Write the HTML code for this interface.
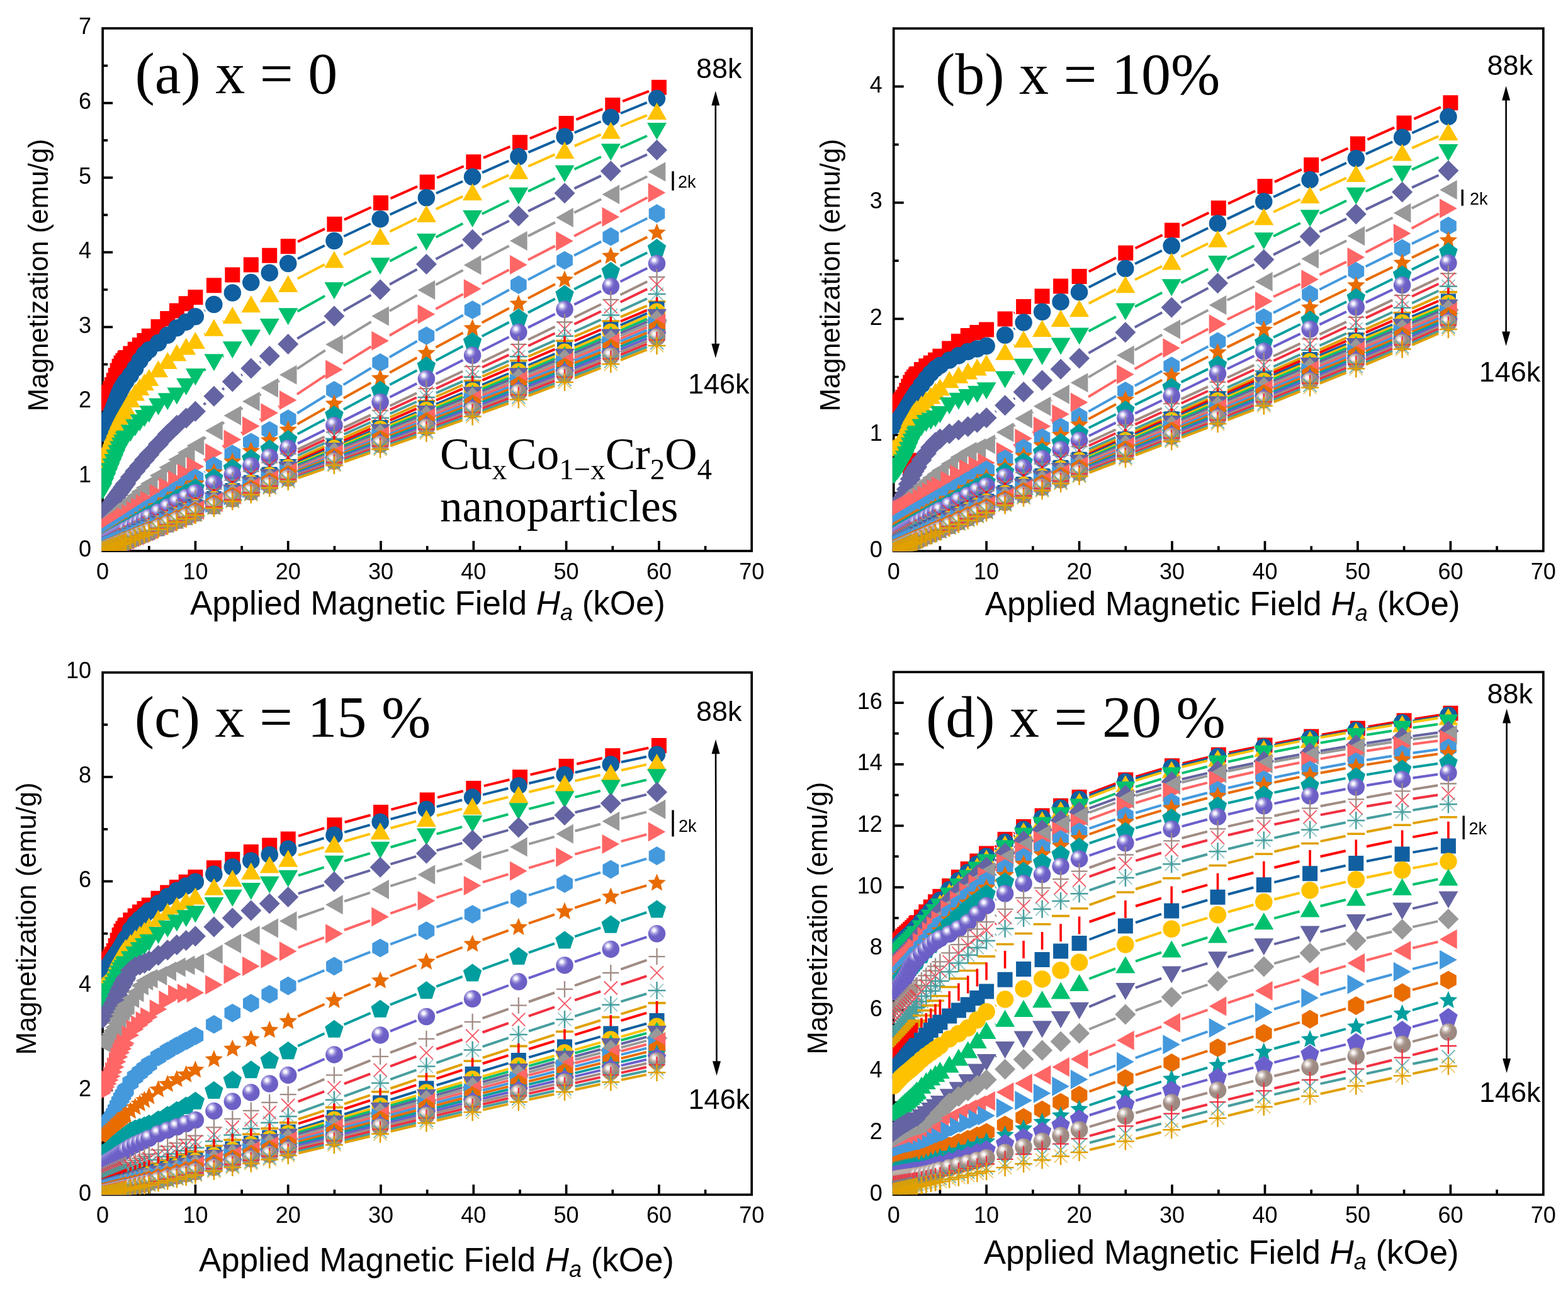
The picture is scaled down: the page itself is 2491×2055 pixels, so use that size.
<!DOCTYPE html>
<html><head><meta charset="utf-8"><title>M-H curves</title><style>html,body{margin:0;padding:0;background:#fff;}svg{display:block;}</style></head><body>
<svg width="2491" height="2055" viewBox="0 0 2491 2055"><defs><radialGradient id="gP" cx="0.36" cy="0.32" r="0.7" fx="0.34" fy="0.3"><stop offset="0" stop-color="#ffffff"/><stop offset="0.12" stop-color="#f0eefc"/><stop offset="0.3" stop-color="#9f96dc"/><stop offset="0.5" stop-color="#6E62C8"/><stop offset="1" stop-color="#6A5EC4"/></radialGradient><radialGradient id="gB" cx="0.36" cy="0.32" r="0.7" fx="0.34" fy="0.3"><stop offset="0" stop-color="#ffffff"/><stop offset="0.12" stop-color="#f4f0ee"/><stop offset="0.3" stop-color="#c2b4ae"/><stop offset="0.5" stop-color="#A08C84"/><stop offset="1" stop-color="#9a8880"/></radialGradient></defs>
<rect x="163.1" y="45" width="1031.1" height="830" fill="none" stroke="#000" stroke-width="3.7"/>
<path d="M236.8 875v-8M310.4 875v-16M384.1 875v-8M457.7 875v-16M531.4 875v-8M605 875v-16M678.7 875v-8M752.3 875v-16M826 875v-8M899.6 875v-16M973.3 875v-8M1046.9 875v-16M1120.6 875v-8M163.1 815.7h8M163.1 756.4h16M163.1 697.1h8M163.1 637.9h16M163.1 578.6h8M163.1 519.3h16M163.1 460h8M163.1 400.7h16M163.1 341.4h8M163.1 282.1h16M163.1 222.9h8M163.1 163.6h16M163.1 104.3h8" stroke="#000" stroke-width="3.7" fill="none"/>
<g font-family="Liberation Sans, Arial, sans-serif" font-size="36" fill="#000"><text x="163.1" y="920" text-anchor="middle">0</text><text x="310.4" y="920" text-anchor="middle">10</text><text x="457.7" y="920" text-anchor="middle">20</text><text x="605" y="920" text-anchor="middle">30</text><text x="752.3" y="920" text-anchor="middle">40</text><text x="899.6" y="920" text-anchor="middle">50</text><text x="1046.9" y="920" text-anchor="middle">60</text><text x="1194.2" y="920" text-anchor="middle">70</text><text x="145.1" y="884.4" text-anchor="end">0</text><text x="145.1" y="765.8" text-anchor="end">1</text><text x="145.1" y="647.3" text-anchor="end">2</text><text x="145.1" y="528.7" text-anchor="end">3</text><text x="145.1" y="410.1" text-anchor="end">4</text><text x="145.1" y="291.5" text-anchor="end">5</text><text x="145.1" y="173" text-anchor="end">6</text><text x="145.1" y="54.4" text-anchor="end">7</text></g>
<clipPath id="clipa"><rect x="161.1" y="45" width="1033.1" height="830"/></clipPath>
<g clip-path="url(#clipa)">
<path d="M473 383.9L516 363.4M546.8 348.9L589.6 329.3M620.5 315.2L663.1 296.2M694.2 282.4L736.7 264M768 250.6L810.3 232.8M841.7 219.8L883.9 202.5M915.4 189.8L957.4 173.2M989.1 160.8L1031 144.8" stroke="#FF0000" stroke-width="4" fill="none"/>
<path d="M151.1 628.2h24v24h-24zM154 622.8h24v24h-24zM157 617.1h24v24h-24zM159.9 611.3h24v24h-24zM162.9 605.2h24v24h-24zM165.8 599h24v24h-24zM168.8 592h24v24h-24zM171.7 584.3h24v24h-24zM174.7 576.6h24v24h-24zM177.6 569.8h24v24h-24zM180.6 564.5h24v24h-24zM183.5 560.7h24v24h-24zM186.5 557.5h24v24h-24zM187.9 556h24v24h-24zM195.3 549.5h24v24h-24zM202.7 542.8h24v24h-24zM210 535.9h24v24h-24zM217.4 529h24v24h-24zM224.8 521.7h24v24h-24zM239.5 507.1h24v24h-24zM254.2 493.9h24v24h-24zM268.9 481.6h24v24h-24zM283.7 470.3h24v24h-24zM298.4 459.9h24v24h-24zM327.9 441.3h24v24h-24zM357.3 424.4h24v24h-24zM386.8 408.6h24v24h-24zM416.2 393.7h24v24h-24zM445.7 379.2h24v24h-24zM519.4 344h24v24h-24zM593 310.2h24v24h-24zM666.7 277.2h24v24h-24zM740.3 245.2h24v24h-24zM814 214.2h24v24h-24zM887.6 184.1h24v24h-24zM961.3 154.9h24v24h-24zM1034.9 126.7h24v24h-24z" fill="#FF0000"/>
<path d="M324.7 493.4L325.6 492.8M473 411L515.7 390M546.3 375.3L588.8 355.2M619.6 340.8L661.9 321.2M692.9 307L735.1 288M766.1 274.1L808.3 255.5M839.4 241.9L881.4 223.9M912.7 210.6L954.6 193M986 180L1027.7 162.9" stroke="#105FA0" stroke-width="4" fill="none"/>
<path d="M149.3 687.7a13.75 13.75 0 1 0 27.5 0a13.75 13.75 0 1 0 -27.5 0zM152.3 681.1a13.75 13.75 0 1 0 27.5 0a13.75 13.75 0 1 0 -27.5 0zM155.2 674.4a13.75 13.75 0 1 0 27.5 0a13.75 13.75 0 1 0 -27.5 0zM158.2 667.6a13.75 13.75 0 1 0 27.5 0a13.75 13.75 0 1 0 -27.5 0zM161.1 660.8a13.75 13.75 0 1 0 27.5 0a13.75 13.75 0 1 0 -27.5 0zM164.1 653.8a13.75 13.75 0 1 0 27.5 0a13.75 13.75 0 1 0 -27.5 0zM167 646.4a13.75 13.75 0 1 0 27.5 0a13.75 13.75 0 1 0 -27.5 0zM170 638.5a13.75 13.75 0 1 0 27.5 0a13.75 13.75 0 1 0 -27.5 0zM172.9 630.6a13.75 13.75 0 1 0 27.5 0a13.75 13.75 0 1 0 -27.5 0zM175.9 623.4a13.75 13.75 0 1 0 27.5 0a13.75 13.75 0 1 0 -27.5 0zM178.8 617.2a13.75 13.75 0 1 0 27.5 0a13.75 13.75 0 1 0 -27.5 0zM181.8 612.1a13.75 13.75 0 1 0 27.5 0a13.75 13.75 0 1 0 -27.5 0zM184.7 607.6a13.75 13.75 0 1 0 27.5 0a13.75 13.75 0 1 0 -27.5 0zM186.2 605.5a13.75 13.75 0 1 0 27.5 0a13.75 13.75 0 1 0 -27.5 0zM193.5 595.7a13.75 13.75 0 1 0 27.5 0a13.75 13.75 0 1 0 -27.5 0zM200.9 585a13.75 13.75 0 1 0 27.5 0a13.75 13.75 0 1 0 -27.5 0zM208.3 572.8a13.75 13.75 0 1 0 27.5 0a13.75 13.75 0 1 0 -27.5 0zM215.6 562.7a13.75 13.75 0 1 0 27.5 0a13.75 13.75 0 1 0 -27.5 0zM223 555.8a13.75 13.75 0 1 0 27.5 0a13.75 13.75 0 1 0 -27.5 0zM237.7 544.6a13.75 13.75 0 1 0 27.5 0a13.75 13.75 0 1 0 -27.5 0zM252.5 532.2a13.75 13.75 0 1 0 27.5 0a13.75 13.75 0 1 0 -27.5 0zM267.2 520.7a13.75 13.75 0 1 0 27.5 0a13.75 13.75 0 1 0 -27.5 0zM281.9 511.4a13.75 13.75 0 1 0 27.5 0a13.75 13.75 0 1 0 -27.5 0zM296.6 502.7a13.75 13.75 0 1 0 27.5 0a13.75 13.75 0 1 0 -27.5 0zM326.1 483.5a13.75 13.75 0 1 0 27.5 0a13.75 13.75 0 1 0 -27.5 0zM355.6 465a13.75 13.75 0 1 0 27.5 0a13.75 13.75 0 1 0 -27.5 0zM385 448.6a13.75 13.75 0 1 0 27.5 0a13.75 13.75 0 1 0 -27.5 0zM414.5 433.3a13.75 13.75 0 1 0 27.5 0a13.75 13.75 0 1 0 -27.5 0zM444 418.5a13.75 13.75 0 1 0 27.5 0a13.75 13.75 0 1 0 -27.5 0zM517.2 382.5a13.75 13.75 0 1 0 27.5 0a13.75 13.75 0 1 0 -27.5 0zM590.4 347.9a13.75 13.75 0 1 0 27.5 0a13.75 13.75 0 1 0 -27.5 0zM663.6 314a13.75 13.75 0 1 0 27.5 0a13.75 13.75 0 1 0 -27.5 0zM736.8 281a13.75 13.75 0 1 0 27.5 0a13.75 13.75 0 1 0 -27.5 0zM810.1 248.7a13.75 13.75 0 1 0 27.5 0a13.75 13.75 0 1 0 -27.5 0zM883.3 217.1a13.75 13.75 0 1 0 27.5 0a13.75 13.75 0 1 0 -27.5 0zM956.5 186.4a13.75 13.75 0 1 0 27.5 0a13.75 13.75 0 1 0 -27.5 0zM1029.7 156.5a13.75 13.75 0 1 0 27.5 0a13.75 13.75 0 1 0 -27.5 0z" fill="#105FA0"/>
<path d="M324.4 530.9L325.9 529.9M354 510.7L355.2 509.9M472.7 442.6L515.9 419.9M546.1 404.4L589 382.8M619.4 367.7L662.1 346.8M692.7 332.1L735.2 311.9M766 297.6L808.4 278.1M839.3 264.1L881.5 245.4M912.7 231.8L954.6 213.7M986 200.5L1027.8 183.1" stroke="#FFC200" stroke-width="4" fill="none"/>
<path d="M163.1 718l15.5 27h-31zM166 710.5l15.5 27h-31zM169 703l15.5 27h-31zM171.9 695.7l15.5 27h-31zM174.9 688.4l15.5 27h-31zM177.8 681.2l15.5 27h-31zM180.8 674l15.5 27h-31zM183.7 666.7l15.5 27h-31zM186.7 659.6l15.5 27h-31zM189.6 652.8l15.5 27h-31zM192.6 646.6l15.5 27h-31zM195.5 640.7l15.5 27h-31zM198.5 635.1l15.5 27h-31zM199.9 632.4l15.5 27h-31zM207.3 619.9l15.5 27h-31zM214.7 609.5l15.5 27h-31zM222 601l15.5 27h-31zM229.4 593.2l15.5 27h-31zM236.8 585.9l15.5 27h-31zM251.5 572.3l15.5 27h-31zM266.2 558.9l15.5 27h-31zM280.9 546.6l15.5 27h-31zM295.7 536.6l15.5 27h-31zM310.4 527.1l15.5 27h-31zM339.9 506.7l15.5 27h-31zM369.3 486.9l15.5 27h-31zM398.8 469.3l15.5 27h-31zM428.2 452.9l15.5 27h-31zM457.7 437l15.5 27h-31zM530.9 398.5l15.5 27h-31zM604.1 361.7l15.5 27h-31zM677.4 325.9l15.5 27h-31zM750.6 291.2l15.5 27h-31zM823.8 257.5l15.5 27h-31zM897 225l15.5 27h-31zM970.3 193.5l15.5 27h-31zM1043.5 163.1l15.5 27h-31z" fill="#FFC200"/>
<path d="M323.8 588.3L326.5 586.2M353.9 566.2L355.2 565.4M472.5 494.4L516.1 470.1M545.9 453.8L589.2 430.7M619.2 414.8L662.3 392.3M692.5 376.8L735.4 355M765.8 339.8L808.6 318.7M839.1 303.8L881.7 283.4M912.4 268.8L954.9 249M985.7 234.8L1028 215.7" stroke="#00C06E" stroke-width="4" fill="none"/>
<path d="M163.1 793.6l15.5 -27h-31zM166 785.5l15.5 -27h-31zM169 777.5l15.5 -27h-31zM171.9 769.8l15.5 -27h-31zM174.9 762.3l15.5 -27h-31zM177.8 755.1l15.5 -27h-31zM180.8 747.9l15.5 -27h-31zM183.7 740.7l15.5 -27h-31zM186.7 733.8l15.5 -27h-31zM189.6 727.5l15.5 -27h-31zM192.6 722l15.5 -27h-31zM195.5 717.2l15.5 -27h-31zM198.5 712.8l15.5 -27h-31zM199.9 710.8l15.5 -27h-31zM207.3 701.4l15.5 -27h-31zM214.7 692.8l15.5 -27h-31zM222 685.1l15.5 -27h-31zM229.4 678l15.5 -27h-31zM236.8 671.3l15.5 -27h-31zM251.5 659.5l15.5 -27h-31zM266.2 651.2l15.5 -27h-31zM280.9 642.5l15.5 -27h-31zM295.7 627.8l15.5 -27h-31zM310.4 612.2l15.5 -27h-31zM339.9 589.3l15.5 -27h-31zM369.3 569.3l15.5 -27h-31zM398.8 550.6l15.5 -27h-31zM428.2 533.1l15.5 -27h-31zM457.7 516.2l15.5 -27h-31zM530.9 475.3l15.5 -27h-31zM604.1 436.2l15.5 -27h-31zM677.4 398l15.5 -27h-31zM750.6 360.9l15.5 -27h-31zM823.8 324.7l15.5 -27h-31zM897 289.5l15.5 -27h-31zM970.3 255.3l15.5 -27h-31zM1043.5 222.1l15.5 -27h-31z" fill="#00C06E"/>
<path d="M323.6 642.5L326.7 640M353.2 618.7L356 616.5M383.2 596L384.9 594.8M412.9 575.6L414.1 574.8M472.2 537.7L516.4 510.9M545.7 493.6L589.4 468.5M619 451.8L662.5 427.7M692.4 411.5L735.6 388.5M765.7 372.8L808.7 350.7M839.1 335.4L881.8 314.2M912.4 299.4L954.9 279.1M985.7 264.7L1028 245.4" stroke="#6464A2" stroke-width="4" fill="none"/>
<path d="M163.1 806.3l16.5 16.5l-16.5 16.5l-16.5 -16.5zM166 801.1l16.5 16.5l-16.5 16.5l-16.5 -16.5zM169 796.1l16.5 16.5l-16.5 16.5l-16.5 -16.5zM171.9 791.2l16.5 16.5l-16.5 16.5l-16.5 -16.5zM174.9 786.5l16.5 16.5l-16.5 16.5l-16.5 -16.5zM177.8 781.9l16.5 16.5l-16.5 16.5l-16.5 -16.5zM180.8 777.6l16.5 16.5l-16.5 16.5l-16.5 -16.5zM183.7 773.4l16.5 16.5l-16.5 16.5l-16.5 -16.5zM186.7 769.4l16.5 16.5l-16.5 16.5l-16.5 -16.5zM189.6 765.4l16.5 16.5l-16.5 16.5l-16.5 -16.5zM192.6 761.4l16.5 16.5l-16.5 16.5l-16.5 -16.5zM195.5 757.3l16.5 16.5l-16.5 16.5l-16.5 -16.5zM198.5 753.3l16.5 16.5l-16.5 16.5l-16.5 -16.5zM199.9 751.2l16.5 16.5l-16.5 16.5l-16.5 -16.5zM207.3 741.3l16.5 16.5l-16.5 16.5l-16.5 -16.5zM214.7 731.8l16.5 16.5l-16.5 16.5l-16.5 -16.5zM222 722.9l16.5 16.5l-16.5 16.5l-16.5 -16.5zM229.4 714.1l16.5 16.5l-16.5 16.5l-16.5 -16.5zM236.8 705.6l16.5 16.5l-16.5 16.5l-16.5 -16.5zM251.5 689l16.5 16.5l-16.5 16.5l-16.5 -16.5zM266.2 673.1l16.5 16.5l-16.5 16.5l-16.5 -16.5zM280.9 658.7l16.5 16.5l-16.5 16.5l-16.5 -16.5zM295.7 647.4l16.5 16.5l-16.5 16.5l-16.5 -16.5zM310.4 636.8l16.5 16.5l-16.5 16.5l-16.5 -16.5zM339.9 612.8l16.5 16.5l-16.5 16.5l-16.5 -16.5zM369.3 589.4l16.5 16.5l-16.5 16.5l-16.5 -16.5zM398.8 568.5l16.5 16.5l-16.5 16.5l-16.5 -16.5zM428.2 548.9l16.5 16.5l-16.5 16.5l-16.5 -16.5zM457.7 530.1l16.5 16.5l-16.5 16.5l-16.5 -16.5zM530.9 485.5l16.5 16.5l-16.5 16.5l-16.5 -16.5zM604.1 443.5l16.5 16.5l-16.5 16.5l-16.5 -16.5zM677.4 403l16.5 16.5l-16.5 16.5l-16.5 -16.5zM750.6 364.1l16.5 16.5l-16.5 16.5l-16.5 -16.5zM823.8 326.4l16.5 16.5l-16.5 16.5l-16.5 -16.5zM897 290.2l16.5 16.5l-16.5 16.5l-16.5 -16.5zM970.3 255.3l16.5 16.5l-16.5 16.5l-16.5 -16.5zM1043.5 221.8l16.5 16.5l-16.5 16.5l-16.5 -16.5z" fill="#6464A2"/>
<path d="M323.6 697.1L326.7 694.6M353.1 673.2L356.1 670.8M382.8 649.8L385.3 647.9M412.5 627.5L414.6 626M442.1 606.1L443.8 604.9M471.9 585.8L516.7 556.3M545.4 538L589.6 511M618.9 493.7L662.6 468.8M692.3 452.3L735.6 429M765.7 413L808.7 390.5M839 374.9L881.9 353.1M912.2 337.8L955.1 316.3M985.5 301.2L1028.2 280.2" stroke="#999999" stroke-width="4" fill="none"/>
<path d="M149.3 836.5l27.6 -15.5v31zM152.2 833.2l27.6 -15.5v31zM155.2 830.1l27.6 -15.5v31zM158.1 827l27.6 -15.5v31zM161.1 824l27.6 -15.5v31zM164 821.1l27.6 -15.5v31zM167 818.3l27.6 -15.5v31zM169.9 815.5l27.6 -15.5v31zM172.9 812.9l27.6 -15.5v31zM175.8 810.2l27.6 -15.5v31zM178.8 807.5l27.6 -15.5v31zM181.7 804.8l27.6 -15.5v31zM184.7 802.1l27.6 -15.5v31zM186.1 800.7l27.6 -15.5v31zM193.5 794l27.6 -15.5v31zM200.9 787.4l27.6 -15.5v31zM208.2 780.9l27.6 -15.5v31zM215.6 774.5l27.6 -15.5v31zM222.9 768.1l27.6 -15.5v31zM237.7 755.3l27.6 -15.5v31zM252.4 742.4l27.6 -15.5v31zM267.1 730l27.6 -15.5v31zM281.9 718.8l27.6 -15.5v31zM296.6 707.8l27.6 -15.5v31zM326.1 683.9l27.6 -15.5v31zM355.5 660.1l27.6 -15.5v31zM385 637.6l27.6 -15.5v31zM414.4 615.9l27.6 -15.5v31zM443.9 595.2l27.6 -15.5v31zM517.1 546.9l27.6 -15.5v31zM590.3 502.1l27.6 -15.5v31zM663.6 460.4l27.6 -15.5v31zM736.8 420.9l27.6 -15.5v31zM810 382.6l27.6 -15.5v31zM883.2 345.4l27.6 -15.5v31zM956.5 308.7l27.6 -15.5v31zM1029.7 272.7l27.6 -15.5v31z" fill="#999999"/>
<path d="M324.1 730.9L326.2 729.4M353.6 709.4L355.6 707.9M383.1 688L385 686.7M412.6 666.9L414.4 665.6M442.2 646.1L443.7 645.1M471.9 626.1L516.8 596.3M545.3 577.9L589.7 550.2M618.9 532.7L662.6 507.4M692.3 490.7L735.7 467M765.7 450.9L808.8 428.4M838.9 412.7L881.9 390.6M912.1 374.9L955.2 352.3M985.3 336.5L1028.4 313.8" stroke="#FF6666" stroke-width="4" fill="none"/>
<path d="M176.9 846.5l-27.6 -15.5v31zM179.8 844.6l-27.6 -15.5v31zM182.8 842.6l-27.6 -15.5v31zM185.7 840.6l-27.6 -15.5v31zM188.7 838.5l-27.6 -15.5v31zM191.6 836.5l-27.6 -15.5v31zM194.6 834.5l-27.6 -15.5v31zM197.5 832.5l-27.6 -15.5v31zM200.5 830.4l-27.6 -15.5v31zM203.4 828.4l-27.6 -15.5v31zM206.4 826.3l-27.6 -15.5v31zM209.3 824.3l-27.6 -15.5v31zM212.3 822.2l-27.6 -15.5v31zM213.7 821.2l-27.6 -15.5v31zM221.1 816l-27.6 -15.5v31zM228.5 810.8l-27.6 -15.5v31zM235.8 805.5l-27.6 -15.5v31zM243.2 800.2l-27.6 -15.5v31zM250.6 794.9l-27.6 -15.5v31zM265.3 784.2l-27.6 -15.5v31zM280 773.5l-27.6 -15.5v31zM294.7 762.7l-27.6 -15.5v31zM309.5 751.8l-27.6 -15.5v31zM324.2 741l-27.6 -15.5v31zM353.7 719.4l-27.6 -15.5v31zM383.1 697.9l-27.6 -15.5v31zM412.6 676.7l-27.6 -15.5v31zM442 655.8l-27.6 -15.5v31zM471.5 635.5l-27.6 -15.5v31zM544.7 586.9l-27.6 -15.5v31zM617.9 541.2l-27.6 -15.5v31zM691.2 498.9l-27.6 -15.5v31zM764.4 458.8l-27.6 -15.5v31zM837.6 420.5l-27.6 -15.5v31zM910.8 382.8l-27.6 -15.5v31zM984.1 344.4l-27.6 -15.5v31zM1057.3 305.9l-27.6 -15.5v31z" fill="#FF6666"/>
<path d="M324.7 749.6L325.6 749M472.2 656.2L516.5 628.8M545.5 611.1L589.6 584.5M618.8 567.2L662.7 541.8M692.2 524.9L735.8 500.4M765.5 483.9L808.9 460.3M838.8 444.3L882 421.5M912.1 405.7L955.1 383.6M985.5 368.2L1028.3 346.7" stroke="#4499DD" stroke-width="4" fill="none"/>
<path d="M163.1 838.9L175.9 846.3L175.9 861.1L163.1 868.5L150.3 861.1L150.3 846.3zM166 837L178.9 844.4L178.9 859.2L166 866.6L153.2 859.2L153.2 844.4zM169 835.1L181.8 842.5L181.8 857.3L169 864.7L156.2 857.3L156.2 842.5zM171.9 833.2L184.8 840.6L184.8 855.4L171.9 862.8L159.1 855.4L159.1 840.6zM174.9 831.3L187.7 838.7L187.7 853.5L174.9 860.9L162.1 853.5L162.1 838.7zM177.8 829.4L190.6 836.8L190.6 851.6L177.8 859L165 851.6L165 836.8zM180.8 827.6L193.6 835L193.6 849.8L180.8 857.2L168 849.8L168 835zM183.7 825.7L196.5 833.1L196.5 847.9L183.7 855.3L170.9 847.9L170.9 833.1zM186.7 823.8L199.5 831.2L199.5 846L186.7 853.4L173.9 846L173.9 831.2zM189.6 821.9L202.4 829.3L202.4 844.1L189.6 851.5L176.8 844.1L176.8 829.3zM192.6 820L205.4 827.4L205.4 842.2L192.6 849.6L179.7 842.2L179.7 827.4zM195.5 818.1L208.3 825.5L208.3 840.3L195.5 847.7L182.7 840.3L182.7 825.5zM198.5 816.2L211.3 823.6L211.3 838.4L198.5 845.8L185.6 838.4L185.6 823.6zM199.9 815.3L212.7 822.7L212.7 837.5L199.9 844.9L187.1 837.5L187.1 822.7zM207.3 810.5L220.1 817.9L220.1 832.7L207.3 840.1L194.5 832.7L194.5 817.9zM214.7 805.8L227.5 813.2L227.5 828L214.7 835.4L201.8 828L201.8 813.2zM222 801L234.8 808.4L234.8 823.2L222 830.6L209.2 823.2L209.2 808.4zM229.4 796.3L242.2 803.7L242.2 818.5L229.4 825.9L216.6 818.5L216.6 803.7zM236.8 791.5L249.6 798.9L249.6 813.7L236.8 821.1L223.9 813.7L223.9 798.9zM251.5 782L264.3 789.4L264.3 804.2L251.5 811.6L238.7 804.2L238.7 789.4zM266.2 772.5L279 779.9L279 794.7L266.2 802.1L253.4 794.7L253.4 779.9zM280.9 763L293.8 770.4L293.8 785.2L280.9 792.6L268.1 785.2L268.1 770.4zM295.7 753.5L308.5 760.9L308.5 775.7L295.7 783.1L282.9 775.7L282.9 760.9zM310.4 744L323.2 751.4L323.2 766.2L310.4 773.6L297.6 766.2L297.6 751.4zM339.9 725L352.7 732.4L352.7 747.2L339.9 754.6L327 747.2L327 732.4zM369.3 706.2L382.1 713.6L382.1 728.4L369.3 735.8L356.5 728.4L356.5 713.6zM398.8 687.4L411.6 694.8L411.6 709.6L398.8 717L386 709.6L386 694.8zM428.2 668.8L441.1 676.2L441.1 691L428.2 698.4L415.4 691L415.4 676.2zM457.7 650.3L470.5 657.7L470.5 672.5L457.7 679.9L444.9 672.5L444.9 657.7zM530.9 605L543.7 612.4L543.7 627.2L530.9 634.6L518.1 627.2L518.1 612.4zM604.1 561L617 568.4L617 583.2L604.1 590.6L591.3 583.2L591.3 568.4zM677.4 518.4L690.2 525.8L690.2 540.6L677.4 548L664.6 540.6L664.6 525.8zM750.6 477.2L763.4 484.6L763.4 499.4L750.6 506.8L737.8 499.4L737.8 484.6zM823.8 437.4L836.6 444.8L836.6 459.6L823.8 467L811 459.6L811 444.8zM897 398.7L909.9 406.1L909.9 420.9L897 428.3L884.2 420.9L884.2 406.1zM970.3 361L983.1 368.4L983.1 383.2L970.3 390.6L957.4 383.2L957.4 368.4zM1043.5 324.3L1056.3 331.7L1056.3 346.5L1043.5 353.9L1030.7 346.5L1030.7 331.7z" fill="#4499DD"/>
<path d="M472.5 673.4L516.1 648.8M545.8 632.2L589.3 608.1M619.1 591.7L662.4 568M692.3 551.8L735.6 528.5M765.6 512.5L808.8 489.6M838.9 473.8L882 451.3M912.2 435.7L955.1 413.6M985.4 398.1L1028.3 376.4" stroke="#E86C00" stroke-width="4" fill="none"/>
<path d="M163.1 844.4L167.1 853.9L177.4 854.8L169.6 861.5L171.9 871.5L163.1 866.2L154.3 871.5L156.6 861.5L148.8 854.8L159.1 853.9zM166 842.5L170 852L180.3 852.9L172.5 859.6L174.9 869.7L166 864.3L157.2 869.7L159.6 859.6L151.8 852.9L162 852zM169 840.6L173 850.1L183.3 851L175.5 857.7L177.8 867.8L169 862.4L160.2 867.8L162.5 857.7L154.7 851L165 850.1zM171.9 838.8L175.9 848.3L186.2 849.1L178.4 855.9L180.8 865.9L171.9 860.6L163.1 865.9L165.5 855.9L157.7 849.1L167.9 848.3zM174.9 836.9L178.9 846.4L189.1 847.3L181.4 854L183.7 864L174.9 858.7L166.1 864L168.4 854L160.6 847.3L170.9 846.4zM177.8 835L181.8 844.5L192.1 845.4L184.3 852.1L186.6 862.2L177.8 856.8L169 862.2L171.4 852.1L163.6 845.4L173.8 844.5zM180.8 833.1L184.8 842.6L195 843.5L187.2 850.2L189.6 860.3L180.8 854.9L172 860.3L174.3 850.2L166.5 843.5L176.8 842.6zM183.7 831.3L187.7 840.8L198 841.6L190.2 848.4L192.5 858.4L183.7 853.1L174.9 858.4L177.3 848.4L169.5 841.6L179.7 840.8zM186.7 829.4L190.7 838.9L200.9 839.8L193.1 846.5L195.5 856.5L186.7 851.2L177.9 856.5L180.2 846.5L172.4 839.8L182.7 838.9zM189.6 827.5L193.6 837L203.9 837.9L196.1 844.6L198.4 854.7L189.6 849.3L180.8 854.7L183.1 844.6L175.3 837.9L185.6 837zM192.6 825.7L196.6 835.2L206.8 836L199 842.8L201.4 852.8L192.6 847.5L183.7 852.8L186.1 842.8L178.3 836L188.6 835.2zM195.5 823.8L199.5 833.3L209.8 834.2L202 840.9L204.3 850.9L195.5 845.6L186.7 850.9L189 840.9L181.2 834.2L191.5 833.3zM198.5 821.9L202.4 831.4L212.7 832.3L204.9 839L207.3 849.1L198.5 843.7L189.6 849.1L192 839L184.2 832.3L194.5 831.4zM199.9 821L203.9 830.5L214.2 831.4L206.4 838.1L208.7 848.2L199.9 842.8L191.1 848.2L193.5 838.1L185.7 831.4L195.9 830.5zM207.3 816.4L211.3 825.9L221.6 826.7L213.8 833.5L216.1 843.5L207.3 838.2L198.5 843.5L200.8 833.5L193 826.7L203.3 825.9zM214.7 811.7L218.7 821.2L228.9 822.1L221.1 828.8L223.5 838.9L214.7 833.5L205.8 838.9L208.2 828.8L200.4 822.1L210.7 821.2zM222 807.1L226 816.6L236.3 817.5L228.5 824.2L230.8 834.3L222 828.9L213.2 834.3L215.6 824.2L207.8 817.5L218 816.6zM229.4 802.5L233.4 812L243.7 812.9L235.9 819.6L238.2 829.7L229.4 824.3L220.6 829.7L222.9 819.6L215.1 812.9L225.4 812zM236.8 798L240.7 807.4L251 808.3L243.2 815.1L245.6 825.1L236.8 819.8L227.9 825.1L230.3 815.1L222.5 808.3L232.8 807.4zM251.5 788.8L255.5 798.3L265.7 799.2L257.9 805.9L260.3 816L251.5 810.6L242.7 816L245 805.9L237.2 799.2L247.5 798.3zM266.2 779.8L270.2 789.3L280.5 790.2L272.7 796.9L275 806.9L266.2 801.6L257.4 806.9L259.7 796.9L251.9 790.2L262.2 789.3zM280.9 770.8L284.9 780.3L295.2 781.2L287.4 787.9L289.8 798L280.9 792.6L272.1 798L274.5 787.9L266.7 781.2L276.9 780.3zM295.7 761.9L299.7 771.4L309.9 772.3L302.1 779L304.5 789.1L295.7 783.7L286.9 789.1L289.2 779L281.4 772.3L291.7 771.4zM310.4 753.1L314.4 762.6L324.7 763.5L316.9 770.2L319.2 780.2L310.4 774.9L301.6 780.2L303.9 770.2L296.1 763.5L306.4 762.6zM339.9 735.6L343.9 745.1L354.1 746L346.3 752.7L348.7 762.8L339.9 757.4L331 762.8L333.4 752.7L325.6 746L335.9 745.1zM369.3 718.4L373.3 727.9L383.6 728.8L375.8 735.5L378.1 745.5L369.3 740.2L360.5 745.5L362.9 735.5L355.1 728.8L365.3 727.9zM398.8 701.3L402.8 710.8L413 711.7L405.2 718.4L407.6 728.5L398.8 723.1L390 728.5L392.3 718.4L384.5 711.7L394.8 710.8zM428.2 684.5L432.2 694L442.5 694.8L434.7 701.6L437.1 711.6L428.2 706.3L419.4 711.6L421.8 701.6L414 694.8L424.2 694zM457.7 667.7L461.7 677.2L472 678.1L464.2 684.8L466.5 694.9L457.7 689.5L448.9 694.9L451.2 684.8L443.4 678.1L453.7 677.2zM530.9 626.5L534.9 636L545.2 636.8L537.4 643.6L539.7 653.6L530.9 648.3L522.1 653.6L524.5 643.6L516.7 636.8L526.9 636zM604.1 585.8L608.1 595.3L618.4 596.2L610.6 602.9L613 613L604.1 607.6L595.3 613L597.7 602.9L589.9 596.2L600.1 595.3zM677.4 545.9L681.4 555.4L691.6 556.2L683.8 563L686.2 573L677.4 567.7L668.6 573L670.9 563L663.1 556.2L673.4 555.4zM750.6 506.5L754.6 516L764.9 516.8L757.1 523.6L759.4 533.6L750.6 528.3L741.8 533.6L744.1 523.6L736.3 516.8L746.6 516zM823.8 467.7L827.8 477.2L838.1 478L830.3 484.8L832.6 494.8L823.8 489.5L815 494.8L817.3 484.8L809.5 478L819.8 477.2zM897 429.4L901 438.9L911.3 439.8L903.5 446.5L905.9 456.6L897 451.2L888.2 456.6L890.6 446.5L882.8 439.8L893 438.9zM970.3 391.8L974.3 401.3L984.5 402.1L976.7 408.9L979.1 418.9L970.3 413.6L961.4 418.9L963.8 408.9L956 402.1L966.3 401.3zM1043.5 354.7L1047.5 364.2L1057.7 365.1L1049.9 371.8L1052.3 381.8L1043.5 376.5L1034.7 381.8L1037 371.8L1029.2 365.1L1039.5 364.2z" fill="#E86C00"/>
<path d="M472.7 689.2L515.9 666.2M545.9 650.2L589.2 627.1M619.2 611.1L662.4 588.2M692.4 572.4L735.5 549.7M765.7 534L808.7 511.9M839 496.4L881.9 474.5M912.2 459.2L955.1 437.6M985.5 422.4L1028.3 401.2" stroke="#009E9E" stroke-width="4" fill="none"/>
<path d="M163.1 846.5L177.8 857.2L172.2 874.5L154 874.5L148.4 857.2zM166 844.6L180.8 855.4L175.2 872.7L156.9 872.7L151.3 855.4zM169 842.8L183.7 853.5L178.1 870.9L159.9 870.9L154.3 853.5zM171.9 841L186.7 851.7L181 869L162.8 869L157.2 851.7zM174.9 839.2L189.6 849.9L184 867.2L165.8 867.2L160.1 849.9zM177.8 837.4L192.6 848.1L186.9 865.4L168.7 865.4L163.1 848.1zM180.8 835.6L195.5 846.3L189.9 863.6L171.7 863.6L166 846.3zM183.7 833.8L198.5 844.5L192.8 861.8L174.6 861.8L169 844.5zM186.7 832L201.4 842.7L195.8 860L177.6 860L171.9 842.7zM189.6 830.2L204.4 840.9L198.7 858.2L180.5 858.2L174.9 840.9zM192.6 828.4L207.3 839.1L201.7 856.4L183.4 856.4L177.8 839.1zM195.5 826.6L210.2 837.3L204.6 854.6L186.4 854.6L180.8 837.3zM198.5 824.8L213.2 835.5L207.6 852.9L189.3 852.9L183.7 835.5zM199.9 823.9L214.7 834.6L209 852L190.8 852L185.2 834.6zM207.3 819.5L222 830.2L216.4 847.5L198.2 847.5L192.5 830.2zM214.7 815.1L229.4 825.8L223.8 843.1L205.5 843.1L199.9 825.8zM222 810.7L236.8 821.4L231.1 838.7L212.9 838.7L207.3 821.4zM229.4 806.3L244.1 817L238.5 834.4L220.3 834.4L214.6 817zM236.8 802L251.5 812.7L245.9 830L227.6 830L222 812.7zM251.5 793.4L266.2 804.1L260.6 821.4L242.4 821.4L236.7 804.1zM266.2 784.8L281 795.6L275.3 812.9L257.1 812.9L251.5 795.6zM280.9 776.4L295.7 787.1L290.1 804.5L271.8 804.5L266.2 787.1zM295.7 768.1L310.4 778.8L304.8 796.1L286.6 796.1L280.9 778.8zM310.4 759.9L325.1 770.6L319.5 788L301.3 788L295.7 770.6zM339.9 744L354.6 754.7L349 772.1L330.7 772.1L325.1 754.7zM369.3 728.5L384.1 739.2L378.4 756.5L360.2 756.5L354.6 739.2zM398.8 713.2L413.5 723.9L407.9 741.2L389.7 741.2L384 723.9zM428.2 698.1L443 708.8L437.4 726.1L419.1 726.1L413.5 708.8zM457.7 682.8L472.4 693.6L466.8 710.9L448.6 710.9L443 693.6zM530.9 643.9L545.7 654.6L540 672L521.8 672L516.2 654.6zM604.1 604.8L618.9 615.5L613.3 632.8L595 632.8L589.4 615.5zM677.4 566L692.1 576.7L686.5 594L668.3 594L662.6 576.7zM750.6 527.5L765.3 538.2L759.7 555.6L741.5 555.6L735.8 538.2zM823.8 489.8L838.6 500.5L832.9 517.8L814.7 517.8L809.1 500.5zM897 452.5L911.8 463.2L906.1 480.6L887.9 480.6L882.3 463.2zM970.3 415.7L985 426.4L979.4 443.7L961.1 443.7L955.5 426.4zM1043.5 379.3L1058.2 390L1052.6 407.3L1034.4 407.3L1028.7 390z" fill="#009E9E"/>
<path d="M472.9 704.4L515.7 683.1M546.1 667.9L589 646.2M619.3 630.8L662.2 609.1M692.5 593.7L735.4 572M765.8 556.7L808.6 535.3M839 520.1L881.8 498.8M912.3 483.6L955 462.4M985.5 447.2L1028.3 426" stroke="#6B5FCC" stroke-width="4" fill="none"/>
<g fill="url(#gP)">
<circle cx="163.1" cy="863.1" r="13.75"/><circle cx="166" cy="861.4" r="13.75"/><circle cx="169" cy="859.7" r="13.75"/><circle cx="171.9" cy="858" r="13.75"/><circle cx="174.9" cy="856.3" r="13.75"/><circle cx="177.8" cy="854.6" r="13.75"/><circle cx="180.8" cy="852.9" r="13.75"/><circle cx="183.7" cy="851.2" r="13.75"/><circle cx="186.7" cy="849.6" r="13.75"/><circle cx="189.6" cy="847.9" r="13.75"/><circle cx="192.6" cy="846.2" r="13.75"/><circle cx="195.5" cy="844.5" r="13.75"/><circle cx="198.5" cy="842.9" r="13.75"/><circle cx="199.9" cy="842" r="13.75"/><circle cx="207.3" cy="837.9" r="13.75"/><circle cx="214.7" cy="833.7" r="13.75"/><circle cx="222" cy="829.6" r="13.75"/><circle cx="229.4" cy="825.6" r="13.75"/><circle cx="236.8" cy="821.5" r="13.75"/><circle cx="251.5" cy="813.5" r="13.75"/><circle cx="266.2" cy="805.6" r="13.75"/><circle cx="280.9" cy="797.8" r="13.75"/><circle cx="295.7" cy="790.1" r="13.75"/><circle cx="310.4" cy="782.5" r="13.75"/><circle cx="339.9" cy="768" r="13.75"/><circle cx="369.3" cy="753.8" r="13.75"/><circle cx="398.8" cy="739.8" r="13.75"/><circle cx="428.2" cy="726" r="13.75"/><circle cx="457.7" cy="712" r="13.75"/><circle cx="530.9" cy="675.5" r="13.75"/><circle cx="604.1" cy="638.5" r="13.75"/><circle cx="677.4" cy="601.4" r="13.75"/><circle cx="750.6" cy="564.3" r="13.75"/><circle cx="823.8" cy="527.7" r="13.75"/><circle cx="897" cy="491.2" r="13.75"/><circle cx="970.3" cy="454.8" r="13.75"/><circle cx="1043.5" cy="418.5" r="13.75"/>
</g>
<path d="M473.1 713.6L515.5 693.6M546.3 679.1L588.8 659.1M619.5 644.5L662 624.4M692.7 609.8L735.2 589.5M765.9 574.8L808.5 554.3M839.1 539.5L881.7 518.9M912.3 504L955 483.2M985.5 468.3L1028.2 447.3" stroke="#A08C84" stroke-width="4" fill="none"/>
<path d="M150.1 865.5h26M163.1 852.5v26M153 864h26M166 851v26M156 862.5h26M169 849.5v26M158.9 860.9h26M171.9 847.9v26M161.9 859.4h26M174.9 846.4v26M164.8 857.9h26M177.8 844.9v26M167.8 856.3h26M180.8 843.3v26M170.7 854.8h26M183.7 841.8v26M173.7 853.3h26M186.7 840.3v26M176.6 851.7h26M189.6 838.7v26M179.6 850.2h26M192.6 837.2v26M182.5 848.7h26M195.5 835.7v26M185.5 847.2h26M198.5 834.2v26M186.9 846.4h26M199.9 833.4v26M194.3 842.6h26M207.3 829.6v26M201.7 838.8h26M214.7 825.8v26M209 835h26M222 822v26M216.4 831.2h26M229.4 818.2v26M223.8 827.5h26M236.8 814.5v26M238.5 820h26M251.5 807v26M253.2 812.6h26M266.2 799.6v26M267.9 805.3h26M280.9 792.3v26M282.7 798h26M295.7 785v26M297.4 790.8h26M310.4 777.8v26M326.9 776.6h26M339.9 763.6v26M356.3 762.5h26M369.3 749.5v26M385.8 748.5h26M398.8 735.5v26M415.2 734.7h26M428.2 721.7v26M444.7 720.9h26M457.7 707.9v26M517.9 686.4h26M530.9 673.4v26M591.1 651.8h26M604.1 638.8v26M664.4 617.1h26M677.4 604.1v26M737.6 582.1h26M750.6 569.1v26M810.8 546.9h26M823.8 533.9v26M884 511.5h26M897 498.5v26M957.3 475.8h26M970.3 462.8v26M1030.5 439.8h26M1043.5 426.8v26" stroke="#A08C84" stroke-width="2.3" fill="none"/>
<path d="M473.1 718.4L515.5 698.7M546.4 684.4L588.7 664.8M619.6 650.6L661.9 631.2M692.8 617L735.1 597.5M766 583.3L808.4 563.6M839.2 549.2L881.6 529.3M912.4 514.8L954.9 494.5M985.6 479.8L1028.2 459.1" stroke="#F03040" stroke-width="4" fill="none"/>
<path d="M152.6 856.2l21.0 21.0M152.6 877.2l21.0 -21.0M155.5 854.8l21.0 21.0M155.5 875.8l21.0 -21.0M158.5 853.4l21.0 21.0M158.5 874.4l21.0 -21.0M161.4 852l21.0 21.0M161.4 873l21.0 -21.0M164.4 850.6l21.0 21.0M164.4 871.6l21.0 -21.0M167.3 849.1l21.0 21.0M167.3 870.1l21.0 -21.0M170.3 847.7l21.0 21.0M170.3 868.7l21.0 -21.0M173.2 846.3l21.0 21.0M173.2 867.3l21.0 -21.0M176.2 844.9l21.0 21.0M176.2 865.9l21.0 -21.0M179.1 843.5l21.0 21.0M179.1 864.5l21.0 -21.0M182.1 842.1l21.0 21.0M182.1 863.1l21.0 -21.0M185 840.6l21.0 21.0M185 861.6l21.0 -21.0M188 839.2l21.0 21.0M188 860.2l21.0 -21.0M189.4 838.5l21.0 21.0M189.4 859.5l21.0 -21.0M196.8 834.9l21.0 21.0M196.8 855.9l21.0 -21.0M204.2 831.4l21.0 21.0M204.2 852.4l21.0 -21.0M211.5 827.8l21.0 21.0M211.5 848.8l21.0 -21.0M218.9 824.3l21.0 21.0M218.9 845.3l21.0 -21.0M226.2 820.7l21.0 21.0M226.2 841.7l21.0 -21.0M241 813.6l21.0 21.0M241 834.6l21.0 -21.0M255.7 806.4l21.0 21.0M255.7 827.4l21.0 -21.0M270.4 799.3l21.0 21.0M270.4 820.3l21.0 -21.0M285.2 792.2l21.0 21.0M285.2 813.2l21.0 -21.0M299.9 785.1l21.0 21.0M299.9 806.1l21.0 -21.0M329.4 770.9l21.0 21.0M329.4 791.9l21.0 -21.0M358.8 756.8l21.0 21.0M358.8 777.8l21.0 -21.0M388.3 742.8l21.0 21.0M388.3 763.8l21.0 -21.0M417.7 728.9l21.0 21.0M417.7 749.9l21.0 -21.0M447.2 715.1l21.0 21.0M447.2 736.1l21.0 -21.0M520.4 681l21.0 21.0M520.4 702l21.0 -21.0M593.6 647.2l21.0 21.0M593.6 668.2l21.0 -21.0M666.9 613.6l21.0 21.0M666.9 634.6l21.0 -21.0M740.1 579.9l21.0 21.0M740.1 600.9l21.0 -21.0M813.3 546l21.0 21.0M813.3 567l21.0 -21.0M886.5 511.6l21.0 21.0M886.5 532.6l21.0 -21.0M959.8 476.7l21.0 21.0M959.8 497.7l21.0 -21.0M1033 441.2l21.0 21.0M1033 462.2l21.0 -21.0" stroke="#F03040" stroke-width="1.9" stroke-opacity="0.8" fill="none"/>
<path d="M473.2 723.3L515.5 703.9M546.4 689.8L588.7 670.7M619.7 656.8L661.8 638M692.9 624.2L735 605.6M766.1 591.9L808.3 573.2M839.3 559.4L881.5 540.7M912.5 526.7L954.8 507.6M985.7 493.6L1028 474.2" stroke="#479E9E" stroke-width="4" fill="none"/>
<path d="M149.1 867.9h28M163.1 853.9v28M152 866.5h28M166 852.5v28M155 865.2h28M169 851.2v28M157.9 863.8h28M171.9 849.8v28M160.9 862.5h28M174.9 848.5v28M163.8 861.1h28M177.8 847.1v28M166.8 859.8h28M180.8 845.8v28M169.7 858.4h28M183.7 844.4v28M172.7 857.1h28M186.7 843.1v28M175.6 855.7h28M189.6 841.7v28M178.6 854.3h28M192.6 840.3v28M181.5 853h28M195.5 839v28M184.5 851.6h28M198.5 837.6v28M185.9 850.9h28M199.9 836.9v28M193.3 847.5h28M207.3 833.5v28M200.7 844.1h28M214.7 830.1v28M208 840.6h28M222 826.6v28M215.4 837.2h28M229.4 823.2v28M222.8 833.8h28M236.8 819.8v28M237.5 826.8h28M251.5 812.8v28M252.2 819.9h28M266.2 805.9v28M266.9 813h28M280.9 799v28M281.7 806.1h28M295.7 792.1v28M296.4 799.1h28M310.4 785.1v28M325.9 785.2h28M339.9 771.2v28M355.3 771.4h28M369.3 757.4v28M384.8 757.6h28M398.8 743.6v28M414.2 743.9h28M428.2 729.9v28M443.7 730.3h28M457.7 716.3v28M516.9 696.8h28M530.9 682.8v28M590.1 663.7h28M604.1 649.7v28M663.4 631.1h28M677.4 617.1v28M736.6 598.7h28M750.6 584.7v28M809.8 566.3h28M823.8 552.3v28M883 533.7h28M897 519.7v28M956.3 500.6h28M970.3 486.6v28M1029.5 467.1h28M1043.5 453.1v28" stroke="#479E9E" stroke-width="2.5" fill="none"/>
<path d="M152.6 857.4l21.0 21.0M152.6 878.4l21.0 -21.0M155.5 856l21.0 21.0M155.5 877l21.0 -21.0M158.5 854.7l21.0 21.0M158.5 875.7l21.0 -21.0M161.4 853.3l21.0 21.0M161.4 874.3l21.0 -21.0M164.4 852l21.0 21.0M164.4 873l21.0 -21.0M167.3 850.6l21.0 21.0M167.3 871.6l21.0 -21.0M170.3 849.3l21.0 21.0M170.3 870.3l21.0 -21.0M173.2 847.9l21.0 21.0M173.2 868.9l21.0 -21.0M176.2 846.6l21.0 21.0M176.2 867.6l21.0 -21.0M179.1 845.2l21.0 21.0M179.1 866.2l21.0 -21.0M182.1 843.8l21.0 21.0M182.1 864.8l21.0 -21.0M185 842.5l21.0 21.0M185 863.5l21.0 -21.0M188 841.1l21.0 21.0M188 862.1l21.0 -21.0M189.4 840.4l21.0 21.0M189.4 861.4l21.0 -21.0M196.8 837l21.0 21.0M196.8 858l21.0 -21.0M204.2 833.6l21.0 21.0M204.2 854.6l21.0 -21.0M211.5 830.1l21.0 21.0M211.5 851.1l21.0 -21.0M218.9 826.7l21.0 21.0M218.9 847.7l21.0 -21.0M226.2 823.3l21.0 21.0M226.2 844.3l21.0 -21.0M241 816.3l21.0 21.0M241 837.3l21.0 -21.0M255.7 809.4l21.0 21.0M255.7 830.4l21.0 -21.0M270.4 802.5l21.0 21.0M270.4 823.5l21.0 -21.0M285.2 795.6l21.0 21.0M285.2 816.6l21.0 -21.0M299.9 788.6l21.0 21.0M299.9 809.6l21.0 -21.0M329.4 774.7l21.0 21.0M329.4 795.7l21.0 -21.0M358.8 760.9l21.0 21.0M358.8 781.9l21.0 -21.0M388.3 747.1l21.0 21.0M388.3 768.1l21.0 -21.0M417.7 733.4l21.0 21.0M417.7 754.4l21.0 -21.0M447.2 719.8l21.0 21.0M447.2 740.8l21.0 -21.0M520.4 686.3l21.0 21.0M520.4 707.3l21.0 -21.0M593.6 653.2l21.0 21.0M593.6 674.2l21.0 -21.0M666.9 620.6l21.0 21.0M666.9 641.6l21.0 -21.0M740.1 588.2l21.0 21.0M740.1 609.2l21.0 -21.0M813.3 555.8l21.0 21.0M813.3 576.8l21.0 -21.0M886.5 523.2l21.0 21.0M886.5 544.2l21.0 -21.0M959.8 490.1l21.0 21.0M959.8 511.1l21.0 -21.0M1033 456.6l21.0 21.0M1033 477.6l21.0 -21.0" stroke="#479E9E" stroke-width="1.7" stroke-opacity="0.6" fill="none"/>
<path d="M473.2 728.1L515.4 709.1M546.4 695.2L588.6 676.3M619.7 662.5L661.8 643.8M692.9 630L735 611.5M766.2 597.9L808.2 579.6M839.4 566.1L881.4 548M912.7 534.5L954.6 516.6M985.9 503.3L1027.8 485.6" stroke="#E0A000" stroke-width="4" fill="none"/>
<path d="M149.1 869.1h28M152 867.7h28M155 866.3h28M157.9 865h28M160.9 863.6h28M163.8 862.3h28M166.8 860.9h28M169.7 859.5h28M172.7 858.2h28M175.6 856.8h28M178.6 855.5h28M181.5 854.1h28M184.5 852.7h28M185.9 852.1h28M193.3 848.7h28M200.7 845.3h28M208 841.9h28M215.4 838.5h28M222.8 835.1h28M237.5 828.4h28M252.2 821.6h28M266.9 814.9h28M281.7 808.2h28M296.4 801.5h28M325.9 788.1h28M355.3 774.8h28M384.8 761.5h28M414.2 748.3h28M443.7 735.1h28M516.9 702.2h28M590.1 669.4h28M663.4 636.9h28M736.6 604.7h28M809.8 572.8h28M883 541.2h28M956.3 510h28M1029.5 479h28" stroke="#E0A000" stroke-width="3.6" fill="none"/>
<path d="M473.3 731.8L515.4 713.2M546.5 699.5L588.6 681M619.7 667.4L661.8 649.1M693 635.5L735 617.3M766.2 603.9L808.2 585.8M839.5 572.5L881.4 554.6M912.7 541.3L954.6 523.5M985.9 510.3L1027.8 492.7" stroke="#FF0000" stroke-width="4" fill="none"/>
<path d="M163.1 855.7v28M166 854.3v28M169 853v28M171.9 851.7v28M174.9 850.4v28M177.8 849.1v28M180.8 847.7v28M183.7 846.4v28M186.7 845.1v28M189.6 843.8v28M192.6 842.5v28M195.5 841.1v28M198.5 839.8v28M199.9 839.2v28M207.3 835.9v28M214.7 832.6v28M222 829.3v28M229.4 826v28M236.8 822.7v28M251.5 816.1v28M266.2 809.5v28M280.9 803v28M295.7 796.4v28M310.4 789.9v28M339.9 776.8v28M369.3 763.7v28M398.8 750.6v28M428.2 737.6v28M457.7 724.6v28M530.9 692.3v28M604.1 660.2v28M677.4 628.3v28M750.6 596.6v28M823.8 565.1v28M897 533.9v28M970.3 502.9v28M1043.5 472.1v28" stroke="#FF0000" stroke-width="3.6" fill="none"/>
<path d="M473.3 734.4L515.3 716.5M546.6 703.3L588.5 685.7M619.8 672.5L661.7 655M693 641.8L734.9 624.3M766.2 611.1L808.2 593.3M839.4 580L881.4 562M912.6 548.5L954.7 530.1M985.8 516.4L1027.9 497.7" stroke="#105FA0" stroke-width="4" fill="none"/>
<path d="M151.1 858.3h24v24h-24zM154 857h24v24h-24zM157 855.7h24v24h-24zM159.9 854.4h24v24h-24zM162.9 853.1h24v24h-24zM165.8 851.8h24v24h-24zM168.8 850.5h24v24h-24zM171.7 849.2h24v24h-24zM174.7 847.9h24v24h-24zM177.6 846.6h24v24h-24zM180.6 845.3h24v24h-24zM183.5 844h24v24h-24zM186.5 842.7h24v24h-24zM187.9 842h24v24h-24zM195.3 838.8h24v24h-24zM202.7 835.5h24v24h-24zM210 832.2h24v24h-24zM217.4 829h24v24h-24zM224.8 825.7h24v24h-24zM239.5 819.2h24v24h-24zM254.2 812.6h24v24h-24zM268.9 806.1h24v24h-24zM283.7 799.6h24v24h-24zM298.4 793h24v24h-24zM327.9 780.1h24v24h-24zM357.3 767.2h24v24h-24zM386.8 754.4h24v24h-24zM416.2 741.6h24v24h-24zM445.7 729h24v24h-24zM518.9 697.9h24v24h-24zM592.1 667.1h24v24h-24zM665.4 636.4h24v24h-24zM738.6 605.7h24v24h-24zM811.8 574.7h24v24h-24zM885 543.3h24v24h-24zM958.3 511.3h24v24h-24zM1031.5 478.8h24v24h-24z" fill="#105FA0"/>
<path d="M473.4 736.3L515.2 718.7M546.6 705.6L588.4 688.2M619.9 675.2L661.7 657.9M693.1 644.9L734.9 627.6M766.3 614.5L808.1 596.9M839.5 583.7L881.4 565.9M912.6 552.5L954.7 534.3M985.8 520.7L1027.9 502.2" stroke="#FFC200" stroke-width="4" fill="none"/>
<path d="M149.3 870.6a13.75 13.75 0 1 0 27.5 0a13.75 13.75 0 1 0 -27.5 0zM152.3 869.3a13.75 13.75 0 1 0 27.5 0a13.75 13.75 0 1 0 -27.5 0zM155.2 868.1a13.75 13.75 0 1 0 27.5 0a13.75 13.75 0 1 0 -27.5 0zM158.2 866.8a13.75 13.75 0 1 0 27.5 0a13.75 13.75 0 1 0 -27.5 0zM161.1 865.5a13.75 13.75 0 1 0 27.5 0a13.75 13.75 0 1 0 -27.5 0zM164.1 864.2a13.75 13.75 0 1 0 27.5 0a13.75 13.75 0 1 0 -27.5 0zM167 862.9a13.75 13.75 0 1 0 27.5 0a13.75 13.75 0 1 0 -27.5 0zM170 861.6a13.75 13.75 0 1 0 27.5 0a13.75 13.75 0 1 0 -27.5 0zM172.9 860.4a13.75 13.75 0 1 0 27.5 0a13.75 13.75 0 1 0 -27.5 0zM175.9 859.1a13.75 13.75 0 1 0 27.5 0a13.75 13.75 0 1 0 -27.5 0zM178.8 857.8a13.75 13.75 0 1 0 27.5 0a13.75 13.75 0 1 0 -27.5 0zM181.8 856.5a13.75 13.75 0 1 0 27.5 0a13.75 13.75 0 1 0 -27.5 0zM184.7 855.2a13.75 13.75 0 1 0 27.5 0a13.75 13.75 0 1 0 -27.5 0zM186.2 854.5a13.75 13.75 0 1 0 27.5 0a13.75 13.75 0 1 0 -27.5 0zM193.5 851.3a13.75 13.75 0 1 0 27.5 0a13.75 13.75 0 1 0 -27.5 0zM200.9 848.1a13.75 13.75 0 1 0 27.5 0a13.75 13.75 0 1 0 -27.5 0zM208.3 844.8a13.75 13.75 0 1 0 27.5 0a13.75 13.75 0 1 0 -27.5 0zM215.6 841.6a13.75 13.75 0 1 0 27.5 0a13.75 13.75 0 1 0 -27.5 0zM223 838.4a13.75 13.75 0 1 0 27.5 0a13.75 13.75 0 1 0 -27.5 0zM237.7 831.9a13.75 13.75 0 1 0 27.5 0a13.75 13.75 0 1 0 -27.5 0zM252.5 825.4a13.75 13.75 0 1 0 27.5 0a13.75 13.75 0 1 0 -27.5 0zM267.2 818.9a13.75 13.75 0 1 0 27.5 0a13.75 13.75 0 1 0 -27.5 0zM281.9 812.5a13.75 13.75 0 1 0 27.5 0a13.75 13.75 0 1 0 -27.5 0zM296.6 806a13.75 13.75 0 1 0 27.5 0a13.75 13.75 0 1 0 -27.5 0zM326.1 793.2a13.75 13.75 0 1 0 27.5 0a13.75 13.75 0 1 0 -27.5 0zM355.6 780.5a13.75 13.75 0 1 0 27.5 0a13.75 13.75 0 1 0 -27.5 0zM385 767.8a13.75 13.75 0 1 0 27.5 0a13.75 13.75 0 1 0 -27.5 0zM414.5 755.3a13.75 13.75 0 1 0 27.5 0a13.75 13.75 0 1 0 -27.5 0zM444 742.8a13.75 13.75 0 1 0 27.5 0a13.75 13.75 0 1 0 -27.5 0zM517.2 712.1a13.75 13.75 0 1 0 27.5 0a13.75 13.75 0 1 0 -27.5 0zM590.4 681.7a13.75 13.75 0 1 0 27.5 0a13.75 13.75 0 1 0 -27.5 0zM663.6 651.4a13.75 13.75 0 1 0 27.5 0a13.75 13.75 0 1 0 -27.5 0zM736.8 621.1a13.75 13.75 0 1 0 27.5 0a13.75 13.75 0 1 0 -27.5 0zM810.1 590.4a13.75 13.75 0 1 0 27.5 0a13.75 13.75 0 1 0 -27.5 0zM883.3 559.3a13.75 13.75 0 1 0 27.5 0a13.75 13.75 0 1 0 -27.5 0zM956.5 527.6a13.75 13.75 0 1 0 27.5 0a13.75 13.75 0 1 0 -27.5 0zM1029.7 495.3a13.75 13.75 0 1 0 27.5 0a13.75 13.75 0 1 0 -27.5 0z" fill="#FFC200"/>
<path d="M473.4 738.2L515.2 720.9M546.7 707.9L588.4 690.8M619.9 678L661.6 660.9M693.1 648L734.9 630.9M766.3 617.9L808.1 600.6M839.5 587.5L881.4 569.8M912.7 556.5L954.6 538.5M985.8 525L1027.9 506.6" stroke="#00C06E" stroke-width="4" fill="none"/>
<path d="M163.1 857.5l15.5 27h-31zM166 856.2l15.5 27h-31zM169 854.9l15.5 27h-31zM171.9 853.7l15.5 27h-31zM174.9 852.4l15.5 27h-31zM177.8 851.1l15.5 27h-31zM180.8 849.9l15.5 27h-31zM183.7 848.6l15.5 27h-31zM186.7 847.3l15.5 27h-31zM189.6 846l15.5 27h-31zM192.6 844.8l15.5 27h-31zM195.5 843.5l15.5 27h-31zM198.5 842.2l15.5 27h-31zM199.9 841.6l15.5 27h-31zM207.3 838.4l15.5 27h-31zM214.7 835.2l15.5 27h-31zM222 831.9l15.5 27h-31zM229.4 828.7l15.5 27h-31zM236.8 825.5l15.5 27h-31zM251.5 819.1l15.5 27h-31zM266.2 812.7l15.5 27h-31zM280.9 806.3l15.5 27h-31zM295.7 799.9l15.5 27h-31zM310.4 793.5l15.5 27h-31zM339.9 780.9l15.5 27h-31zM369.3 768.3l15.5 27h-31zM398.8 755.8l15.5 27h-31zM428.2 743.4l15.5 27h-31zM457.7 731.2l15.5 27h-31zM530.9 700.9l15.5 27h-31zM604.1 670.9l15.5 27h-31zM677.4 641l15.5 27h-31zM750.6 610.9l15.5 27h-31zM823.8 580.6l15.5 27h-31zM897 549.7l15.5 27h-31zM970.3 518.3l15.5 27h-31zM1043.5 486.3l15.5 27h-31z" fill="#00C06E"/>
<path d="M473.4 740.1L515.2 723.1M546.7 710.3L588.4 693.4M619.9 680.7L661.6 663.9M693.1 651.1L734.8 634.2M766.3 621.4L808.1 604.2M839.5 591.2L881.3 573.7M912.7 560.5L954.6 542.7M985.9 529.2L1027.9 511" stroke="#6464A2" stroke-width="4" fill="none"/>
<path d="M163.1 884.9l15.5 -27h-31zM166 883.6l15.5 -27h-31zM169 882.3l15.5 -27h-31zM171.9 881.1l15.5 -27h-31zM174.9 879.8l15.5 -27h-31zM177.8 878.6l15.5 -27h-31zM180.8 877.3l15.5 -27h-31zM183.7 876l15.5 -27h-31zM186.7 874.8l15.5 -27h-31zM189.6 873.5l15.5 -27h-31zM192.6 872.2l15.5 -27h-31zM195.5 871l15.5 -27h-31zM198.5 869.7l15.5 -27h-31zM199.9 869.1l15.5 -27h-31zM207.3 865.9l15.5 -27h-31zM214.7 862.7l15.5 -27h-31zM222 859.5l15.5 -27h-31zM229.4 856.4l15.5 -27h-31zM236.8 853.2l15.5 -27h-31zM251.5 846.8l15.5 -27h-31zM266.2 840.5l15.5 -27h-31zM280.9 834.2l15.5 -27h-31zM295.7 827.8l15.5 -27h-31zM310.4 821.6l15.5 -27h-31zM339.9 809l15.5 -27h-31zM369.3 796.6l15.5 -27h-31zM398.8 784.3l15.5 -27h-31zM428.2 772.1l15.5 -27h-31zM457.7 760l15.5 -27h-31zM530.9 730.1l15.5 -27h-31zM604.1 700.5l15.5 -27h-31zM677.4 671l15.5 -27h-31zM750.6 641.3l15.5 -27h-31zM823.8 611.2l15.5 -27h-31zM897 580.7l15.5 -27h-31zM970.3 549.5l15.5 -27h-31zM1043.5 517.7l15.5 -27h-31z" fill="#6464A2"/>
<path d="M473.5 742L515.1 725.2M546.7 712.6L588.4 696M619.9 683.4L661.6 666.8M693.1 654.2L734.8 637.5M766.3 624.8L808.1 607.8M839.5 594.9L881.3 577.6M912.7 564.5L954.6 546.8M985.9 533.5L1027.9 515.4" stroke="#999999" stroke-width="4" fill="none"/>
<path d="M163.1 855.2l16.5 16.5l-16.5 16.5l-16.5 -16.5zM166 854l16.5 16.5l-16.5 16.5l-16.5 -16.5zM169 852.7l16.5 16.5l-16.5 16.5l-16.5 -16.5zM171.9 851.5l16.5 16.5l-16.5 16.5l-16.5 -16.5zM174.9 850.2l16.5 16.5l-16.5 16.5l-16.5 -16.5zM177.8 849l16.5 16.5l-16.5 16.5l-16.5 -16.5zM180.8 847.7l16.5 16.5l-16.5 16.5l-16.5 -16.5zM183.7 846.5l16.5 16.5l-16.5 16.5l-16.5 -16.5zM186.7 845.2l16.5 16.5l-16.5 16.5l-16.5 -16.5zM189.6 844l16.5 16.5l-16.5 16.5l-16.5 -16.5zM192.6 842.7l16.5 16.5l-16.5 16.5l-16.5 -16.5zM195.5 841.5l16.5 16.5l-16.5 16.5l-16.5 -16.5zM198.5 840.2l16.5 16.5l-16.5 16.5l-16.5 -16.5zM199.9 839.6l16.5 16.5l-16.5 16.5l-16.5 -16.5zM207.3 836.4l16.5 16.5l-16.5 16.5l-16.5 -16.5zM214.7 833.3l16.5 16.5l-16.5 16.5l-16.5 -16.5zM222 830.1l16.5 16.5l-16.5 16.5l-16.5 -16.5zM229.4 827l16.5 16.5l-16.5 16.5l-16.5 -16.5zM236.8 823.9l16.5 16.5l-16.5 16.5l-16.5 -16.5zM251.5 817.6l16.5 16.5l-16.5 16.5l-16.5 -16.5zM266.2 811.3l16.5 16.5l-16.5 16.5l-16.5 -16.5zM280.9 805l16.5 16.5l-16.5 16.5l-16.5 -16.5zM295.7 798.8l16.5 16.5l-16.5 16.5l-16.5 -16.5zM310.4 792.6l16.5 16.5l-16.5 16.5l-16.5 -16.5zM339.9 780.2l16.5 16.5l-16.5 16.5l-16.5 -16.5zM369.3 767.9l16.5 16.5l-16.5 16.5l-16.5 -16.5zM398.8 755.8l16.5 16.5l-16.5 16.5l-16.5 -16.5zM428.2 743.7l16.5 16.5l-16.5 16.5l-16.5 -16.5zM457.7 731.8l16.5 16.5l-16.5 16.5l-16.5 -16.5zM530.9 702.4l16.5 16.5l-16.5 16.5l-16.5 -16.5zM604.1 673.2l16.5 16.5l-16.5 16.5l-16.5 -16.5zM677.4 644l16.5 16.5l-16.5 16.5l-16.5 -16.5zM750.6 614.7l16.5 16.5l-16.5 16.5l-16.5 -16.5zM823.8 584.9l16.5 16.5l-16.5 16.5l-16.5 -16.5zM897 554.6l16.5 16.5l-16.5 16.5l-16.5 -16.5zM970.3 523.7l16.5 16.5l-16.5 16.5l-16.5 -16.5zM1043.5 492.2l16.5 16.5l-16.5 16.5l-16.5 -16.5z" fill="#999999"/>
<path d="M473.5 743.9L515.1 727.4M546.7 714.9L588.3 698.6M620 686.1L661.5 669.8M693.2 657.3L734.8 640.8M766.4 628.2L808 611.4M839.5 598.7L881.3 581.6M912.7 568.5L954.6 551M985.9 537.8L1027.8 519.9" stroke="#FF6666" stroke-width="4" fill="none"/>
<path d="M149.3 872.1l27.6 -15.5v31zM152.2 870.8l27.6 -15.5v31zM155.2 869.6l27.6 -15.5v31zM158.1 868.4l27.6 -15.5v31zM161.1 867.1l27.6 -15.5v31zM164 865.9l27.6 -15.5v31zM167 864.7l27.6 -15.5v31zM169.9 863.4l27.6 -15.5v31zM172.9 862.2l27.6 -15.5v31zM175.8 860.9l27.6 -15.5v31zM178.8 859.7l27.6 -15.5v31zM181.7 858.5l27.6 -15.5v31zM184.7 857.2l27.6 -15.5v31zM186.1 856.6l27.6 -15.5v31zM193.5 853.5l27.6 -15.5v31zM200.9 850.4l27.6 -15.5v31zM208.2 847.3l27.6 -15.5v31zM215.6 844.1l27.6 -15.5v31zM222.9 841l27.6 -15.5v31zM237.7 834.8l27.6 -15.5v31zM252.4 828.6l27.6 -15.5v31zM267.1 822.4l27.6 -15.5v31zM281.9 816.2l27.6 -15.5v31zM296.6 810.1l27.6 -15.5v31zM326.1 797.8l27.6 -15.5v31zM355.5 785.7l27.6 -15.5v31zM385 773.8l27.6 -15.5v31zM414.4 761.9l27.6 -15.5v31zM443.9 750.1l27.6 -15.5v31zM517.1 721.1l27.6 -15.5v31zM590.3 692.4l27.6 -15.5v31zM663.6 663.6l27.6 -15.5v31zM736.8 634.6l27.6 -15.5v31zM810 605.1l27.6 -15.5v31zM883.2 575.1l27.6 -15.5v31zM956.5 544.5l27.6 -15.5v31zM1029.7 513.2l27.6 -15.5v31z" fill="#FF6666"/>
<path d="M473.5 745.8L515.1 729.6M546.8 717.3L588.3 701.2M620 688.9L661.5 672.8M693.2 660.4L734.8 644.1M766.4 631.7L808 615.1M839.6 602.4L881.3 585.5M912.7 572.6L954.6 555.2M985.9 542L1027.8 524.3" stroke="#4499DD" stroke-width="4" fill="none"/>
<path d="M176.9 872.4l-27.6 -15.5v31zM179.8 871.2l-27.6 -15.5v31zM182.8 870l-27.6 -15.5v31zM185.7 868.8l-27.6 -15.5v31zM188.7 867.6l-27.6 -15.5v31zM191.6 866.3l-27.6 -15.5v31zM194.6 865.1l-27.6 -15.5v31zM197.5 863.9l-27.6 -15.5v31zM200.5 862.6l-27.6 -15.5v31zM203.4 861.4l-27.6 -15.5v31zM206.4 860.2l-27.6 -15.5v31zM209.3 858.9l-27.6 -15.5v31zM212.3 857.7l-27.6 -15.5v31zM213.7 857.1l-27.6 -15.5v31zM221.1 854l-27.6 -15.5v31zM228.5 850.9l-27.6 -15.5v31zM235.8 847.9l-27.6 -15.5v31zM243.2 844.8l-27.6 -15.5v31zM250.6 841.7l-27.6 -15.5v31zM265.3 835.5l-27.6 -15.5v31zM280 829.4l-27.6 -15.5v31zM294.7 823.3l-27.6 -15.5v31zM309.5 817.1l-27.6 -15.5v31zM324.2 811.1l-27.6 -15.5v31zM353.7 799l-27.6 -15.5v31zM383.1 787l-27.6 -15.5v31zM412.6 775.2l-27.6 -15.5v31zM442 763.6l-27.6 -15.5v31zM471.5 752l-27.6 -15.5v31zM544.7 723.4l-27.6 -15.5v31zM617.9 695l-27.6 -15.5v31zM691.2 666.6l-27.6 -15.5v31zM764.4 637.9l-27.6 -15.5v31zM837.6 608.8l-27.6 -15.5v31zM910.8 579.1l-27.6 -15.5v31zM984.1 548.7l-27.6 -15.5v31zM1057.3 517.6l-27.6 -15.5v31z" fill="#4499DD"/>
<path d="M473.6 747.7L515.1 731.7M546.8 719.6L588.3 703.8M620 691.6L661.5 675.7M693.2 663.5L734.7 647.5M766.4 635.1L808 618.7M839.6 606.1L881.3 589.4M912.8 576.6L954.5 559.4M985.9 546.3L1027.8 528.7" stroke="#E86C00" stroke-width="4" fill="none"/>
<path d="M163.1 858L175.9 865.4L175.9 880.2L163.1 887.6L150.3 880.2L150.3 865.4zM166 856.8L178.9 864.2L178.9 879L166 886.4L153.2 879L153.2 864.2zM169 855.6L181.8 863L181.8 877.8L169 885.2L156.2 877.8L156.2 863zM171.9 854.4L184.8 861.8L184.8 876.6L171.9 884L159.1 876.6L159.1 861.8zM174.9 853.2L187.7 860.6L187.7 875.4L174.9 882.8L162.1 875.4L162.1 860.6zM177.8 851.9L190.6 859.3L190.6 874.1L177.8 881.5L165 874.1L165 859.3zM180.8 850.7L193.6 858.1L193.6 872.9L180.8 880.3L168 872.9L168 858.1zM183.7 849.5L196.5 856.9L196.5 871.7L183.7 879.1L170.9 871.7L170.9 856.9zM186.7 848.3L199.5 855.7L199.5 870.5L186.7 877.9L173.9 870.5L173.9 855.7zM189.6 847.1L202.4 854.5L202.4 869.3L189.6 876.7L176.8 869.3L176.8 854.5zM192.6 845.9L205.4 853.3L205.4 868.1L192.6 875.5L179.7 868.1L179.7 853.3zM195.5 844.6L208.3 852L208.3 866.8L195.5 874.2L182.7 866.8L182.7 852zM198.5 843.4L211.3 850.8L211.3 865.6L198.5 873L185.6 865.6L185.6 850.8zM199.9 842.8L212.7 850.2L212.7 865L199.9 872.4L187.1 865L187.1 850.2zM207.3 839.8L220.1 847.2L220.1 862L207.3 869.4L194.5 862L194.5 847.2zM214.7 836.7L227.5 844.1L227.5 858.9L214.7 866.3L201.8 858.9L201.8 844.1zM222 833.7L234.8 841.1L234.8 855.9L222 863.3L209.2 855.9L209.2 841.1zM229.4 830.6L242.2 838L242.2 852.8L229.4 860.2L216.6 852.8L216.6 838zM236.8 827.6L249.6 835L249.6 849.8L236.8 857.2L223.9 849.8L223.9 835zM251.5 821.5L264.3 828.9L264.3 843.7L251.5 851.1L238.7 843.7L238.7 828.9zM266.2 815.4L279 822.8L279 837.6L266.2 845L253.4 837.6L253.4 822.8zM280.9 809.3L293.8 816.7L293.8 831.5L280.9 838.9L268.1 831.5L268.1 816.7zM295.7 803.3L308.5 810.7L308.5 825.5L295.7 832.9L282.9 825.5L282.9 810.7zM310.4 797.3L323.2 804.7L323.2 819.5L310.4 826.9L297.6 819.5L297.6 804.7zM339.9 785.3L352.7 792.7L352.7 807.5L339.9 814.9L327 807.5L327 792.7zM369.3 773.6L382.1 781L382.1 795.8L369.3 803.2L356.5 795.8L356.5 781zM398.8 761.9L411.6 769.3L411.6 784.1L398.8 791.5L386 784.1L386 769.3zM428.2 750.4L441.1 757.8L441.1 772.6L428.2 780L415.4 772.6L415.4 757.8zM457.7 739L470.5 746.4L470.5 761.2L457.7 768.6L444.9 761.2L444.9 746.4zM530.9 710.9L543.7 718.3L543.7 733.1L530.9 740.5L518.1 733.1L518.1 718.3zM604.1 682.9L617 690.3L617 705.1L604.1 712.5L591.3 705.1L591.3 690.3zM677.4 654.8L690.2 662.2L690.2 677L677.4 684.4L664.6 677L664.6 662.2zM750.6 626.5L763.4 633.9L763.4 648.7L750.6 656.1L737.8 648.7L737.8 633.9zM823.8 597.7L836.6 605.1L836.6 619.9L823.8 627.3L811 619.9L811 605.1zM897 568.2L909.9 575.6L909.9 590.4L897 597.8L884.2 590.4L884.2 575.6zM970.3 538.1L983.1 545.5L983.1 560.3L970.3 567.7L957.4 560.3L957.4 545.5zM1043.5 507.3L1056.3 514.7L1056.3 529.5L1043.5 536.9L1030.7 529.5L1030.7 514.7z" fill="#E86C00"/>
<path d="M473.6 749.6L515 733.9M546.8 721.9L588.2 706.3M620 694.3L661.5 678.7M693.2 666.6L734.7 650.8M766.4 638.5L808 622.3M839.6 609.9L881.2 593.3M912.8 580.6L954.5 563.6M985.9 550.6L1027.8 533.1" stroke="#009E9E" stroke-width="4" fill="none"/>
<path d="M163.1 859.2L167.1 868.7L177.4 869.5L169.6 876.3L171.9 886.3L163.1 881L154.3 886.3L156.6 876.3L148.8 869.5L159.1 868.7zM166 858L170 867.5L180.3 868.3L172.5 875.1L174.9 885.1L166 879.8L157.2 885.1L159.6 875.1L151.8 868.3L162 867.5zM169 856.8L173 866.3L183.3 867.1L175.5 873.9L177.8 883.9L169 878.6L160.2 883.9L162.5 873.9L154.7 867.1L165 866.3zM171.9 855.6L175.9 865.1L186.2 865.9L178.4 872.7L180.8 882.7L171.9 877.4L163.1 882.7L165.5 872.7L157.7 865.9L167.9 865.1zM174.9 854.4L178.9 863.9L189.1 864.7L181.4 871.5L183.7 881.5L174.9 876.2L166.1 881.5L168.4 871.5L160.6 864.7L170.9 863.9zM177.8 853.2L181.8 862.7L192.1 863.5L184.3 870.3L186.6 880.3L177.8 875L169 880.3L171.4 870.3L163.6 863.5L173.8 862.7zM180.8 852L184.8 861.5L195 862.3L187.2 869.1L189.6 879.1L180.8 873.8L172 879.1L174.3 869.1L166.5 862.3L176.8 861.5zM183.7 850.8L187.7 860.3L198 861.1L190.2 867.9L192.5 877.9L183.7 872.6L174.9 877.9L177.3 867.9L169.5 861.1L179.7 860.3zM186.7 849.6L190.7 859.1L200.9 859.9L193.1 866.7L195.5 876.7L186.7 871.4L177.9 876.7L180.2 866.7L172.4 859.9L182.7 859.1zM189.6 848.4L193.6 857.9L203.9 858.7L196.1 865.5L198.4 875.5L189.6 870.2L180.8 875.5L183.1 865.5L175.3 858.7L185.6 857.9zM192.6 847.1L196.6 856.6L206.8 857.5L199 864.2L201.4 874.3L192.6 868.9L183.7 874.3L186.1 864.2L178.3 857.5L188.6 856.6zM195.5 845.9L199.5 855.4L209.8 856.3L202 863L204.3 873.1L195.5 867.7L186.7 873.1L189 863L181.2 856.3L191.5 855.4zM198.5 844.7L202.4 854.2L212.7 855.1L204.9 861.8L207.3 871.9L198.5 866.5L189.6 871.9L192 861.8L184.2 855.1L194.5 854.2zM199.9 844.1L203.9 853.6L214.2 854.5L206.4 861.2L208.7 871.3L199.9 865.9L191.1 871.3L193.5 861.2L185.7 854.5L195.9 853.6zM207.3 841.1L211.3 850.6L221.6 851.5L213.8 858.2L216.1 868.2L207.3 862.9L198.5 868.2L200.8 858.2L193 851.5L203.3 850.6zM214.7 838.1L218.7 847.6L228.9 848.4L221.1 855.2L223.5 865.2L214.7 859.9L205.8 865.2L208.2 855.2L200.4 848.4L210.7 847.6zM222 835.1L226 844.6L236.3 845.4L228.5 852.2L230.8 862.2L222 856.9L213.2 862.2L215.6 852.2L207.8 845.4L218 844.6zM229.4 832L233.4 841.5L243.7 842.4L235.9 849.1L238.2 859.2L229.4 853.8L220.6 859.2L222.9 849.1L215.1 842.4L225.4 841.5zM236.8 829L240.7 838.5L251 839.4L243.2 846.1L245.6 856.2L236.8 850.8L227.9 856.2L230.3 846.1L222.5 839.4L232.8 838.5zM251.5 823L255.5 832.5L265.7 833.3L257.9 840.1L260.3 850.1L251.5 844.8L242.7 850.1L245 840.1L237.2 833.3L247.5 832.5zM266.2 817L270.2 826.5L280.5 827.3L272.7 834.1L275 844.1L266.2 838.8L257.4 844.1L259.7 834.1L251.9 827.3L262.2 826.5zM280.9 811L284.9 820.5L295.2 821.3L287.4 828.1L289.8 838.1L280.9 832.8L272.1 838.1L274.5 828.1L266.7 821.3L276.9 820.5zM295.7 805L299.7 814.5L309.9 815.4L302.1 822.1L304.5 832.1L295.7 826.8L286.9 832.1L289.2 822.1L281.4 815.4L291.7 814.5zM310.4 799.1L314.4 808.6L324.7 809.4L316.9 816.2L319.2 826.2L310.4 820.9L301.6 826.2L303.9 816.2L296.1 809.4L306.4 808.6zM339.9 787.3L343.9 796.8L354.1 797.7L346.3 804.4L348.7 814.4L339.9 809.1L331 814.4L333.4 804.4L325.6 797.7L335.9 796.8zM369.3 775.7L373.3 785.2L383.6 786L375.8 792.8L378.1 802.8L369.3 797.5L360.5 802.8L362.9 792.8L355.1 786L365.3 785.2zM398.8 764.2L402.8 773.7L413 774.6L405.2 781.3L407.6 791.3L398.8 786L390 791.3L392.3 781.3L384.5 774.6L394.8 773.7zM428.2 752.9L432.2 762.4L442.5 763.2L434.7 770L437.1 780L428.2 774.7L419.4 780L421.8 770L414 763.2L424.2 762.4zM457.7 741.6L461.7 751.1L472 752L464.2 758.7L466.5 768.7L457.7 763.4L448.9 768.7L451.2 758.7L443.4 752L453.7 751.1zM530.9 713.9L534.9 723.4L545.2 724.3L537.4 731L539.7 741L530.9 735.7L522.1 741L524.5 731L516.7 724.3L526.9 723.4zM604.1 686.3L608.1 695.8L618.4 696.7L610.6 703.4L613 713.5L604.1 708.1L595.3 713.5L597.7 703.4L589.9 696.7L600.1 695.8zM677.4 658.7L681.4 668.2L691.6 669L683.8 675.8L686.2 685.8L677.4 680.5L668.6 685.8L670.9 675.8L663.1 669L673.4 668.2zM750.6 630.7L754.6 640.2L764.9 641.1L757.1 647.8L759.4 657.8L750.6 652.5L741.8 657.8L744.1 647.8L736.3 641.1L746.6 640.2zM823.8 602.2L827.8 611.7L838.1 612.5L830.3 619.3L832.6 629.3L823.8 624L815 629.3L817.3 619.3L809.5 612.5L819.8 611.7zM897 573L901 582.5L911.3 583.4L903.5 590.1L905.9 600.2L897 594.8L888.2 600.2L890.6 590.1L882.8 583.4L893 582.5zM970.3 543.1L974.3 552.6L984.5 553.5L976.7 560.2L979.1 570.3L970.3 564.9L961.4 570.3L963.8 560.2L956 553.5L966.3 552.6zM1043.5 512.6L1047.5 522.1L1057.7 522.9L1049.9 529.7L1052.3 539.7L1043.5 534.4L1034.7 539.7L1037 529.7L1029.2 522.9L1039.5 522.1z" fill="#009E9E"/>
<path d="M473.6 751.5L515 736.1M546.9 724.2L588.2 708.9M620.1 697.1L661.4 681.6M693.3 669.7L734.7 654.1M766.5 642L808 626M839.6 613.6L881.2 597.2M912.8 584.6L954.5 567.8M986 554.9L1027.8 537.6" stroke="#6B5FCC" stroke-width="4" fill="none"/>
<path d="M163.1 859.2L177.8 870L172.2 887.3L154 887.3L148.4 870zM166 858.1L180.8 868.8L175.2 886.1L156.9 886.1L151.3 868.8zM169 856.9L183.7 867.6L178.1 884.9L159.9 884.9L154.3 867.6zM171.9 855.7L186.7 866.4L181 883.7L162.8 883.7L157.2 866.4zM174.9 854.5L189.6 865.2L184 882.5L165.8 882.5L160.1 865.2zM177.8 853.3L192.6 864L186.9 881.3L168.7 881.3L163.1 864zM180.8 852.1L195.5 862.8L189.9 880.1L171.7 880.1L166 862.8zM183.7 850.9L198.5 861.6L192.8 879L174.6 879L169 861.6zM186.7 849.7L201.4 860.4L195.8 877.8L177.6 877.8L171.9 860.4zM189.6 848.5L204.4 859.2L198.7 876.6L180.5 876.6L174.9 859.2zM192.6 847.3L207.3 858L201.7 875.4L183.4 875.4L177.8 858zM195.5 846.1L210.2 856.8L204.6 874.2L186.4 874.2L180.8 856.8zM198.5 844.9L213.2 855.6L207.6 873L189.3 873L183.7 855.6zM199.9 844.3L214.7 855L209 872.4L190.8 872.4L185.2 855zM207.3 841.3L222 852.1L216.4 869.4L198.2 869.4L192.5 852.1zM214.7 838.4L229.4 849.1L223.8 866.4L205.5 866.4L199.9 849.1zM222 835.4L236.8 846.1L231.1 863.4L212.9 863.4L207.3 846.1zM229.4 832.4L244.1 843.1L238.5 860.4L220.3 860.4L214.6 843.1zM236.8 829.4L251.5 840.1L245.9 857.4L227.6 857.4L222 840.1zM251.5 823.4L266.2 834.1L260.6 851.4L242.4 851.4L236.7 834.1zM266.2 817.5L281 828.2L275.3 845.5L257.1 845.5L251.5 828.2zM280.9 811.5L295.7 822.2L290.1 839.6L271.8 839.6L266.2 822.2zM295.7 805.6L310.4 816.3L304.8 833.7L286.6 833.7L280.9 816.3zM310.4 799.8L325.1 810.5L319.5 827.8L301.3 827.8L295.7 810.5zM339.9 788.2L354.6 798.9L349 816.2L330.7 816.2L325.1 798.9zM369.3 776.7L384.1 787.4L378.4 804.7L360.2 804.7L354.6 787.4zM398.8 765.4L413.5 776.1L407.9 793.4L389.7 793.4L384 776.1zM428.2 754.2L443 764.9L437.4 782.3L419.1 782.3L413.5 764.9zM457.7 743.1L472.4 753.8L466.8 771.2L448.6 771.2L443 753.8zM530.9 715.8L545.7 726.6L540 743.9L521.8 743.9L516.2 726.6zM604.1 688.7L618.9 699.4L613.3 716.7L595 716.7L589.4 699.4zM677.4 661.4L692.1 672.1L686.5 689.4L668.3 689.4L662.6 672.1zM750.6 633.8L765.3 644.5L759.7 661.8L741.5 661.8L735.8 644.5zM823.8 605.5L838.6 616.3L832.9 633.6L814.7 633.6L809.1 616.3zM897 576.7L911.8 587.4L906.1 604.7L887.9 604.7L882.3 587.4zM970.3 547.1L985 557.8L979.4 575.1L961.1 575.1L955.5 557.8zM1043.5 516.8L1058.2 527.5L1052.6 544.8L1034.4 544.8L1028.7 527.5z" fill="#6B5FCC"/>
<path d="M473.7 753.4L515 738.3M546.9 726.6L588.2 711.5M620.1 699.8L661.4 684.6M693.3 672.8L734.7 657.4M766.5 645.4L807.9 629.6M839.7 617.3L881.2 601.1M912.8 588.6L954.5 571.9M986 559.2L1027.8 542" stroke="#A08C84" stroke-width="4" fill="none"/>
<g fill="url(#gB)">
<circle cx="163.1" cy="873.9" r="13.75"/><circle cx="166" cy="872.7" r="13.75"/><circle cx="169" cy="871.6" r="13.75"/><circle cx="171.9" cy="870.4" r="13.75"/><circle cx="174.9" cy="869.2" r="13.75"/><circle cx="177.8" cy="868" r="13.75"/><circle cx="180.8" cy="866.8" r="13.75"/><circle cx="183.7" cy="865.7" r="13.75"/><circle cx="186.7" cy="864.5" r="13.75"/><circle cx="189.6" cy="863.3" r="13.75"/><circle cx="192.6" cy="862.1" r="13.75"/><circle cx="195.5" cy="860.9" r="13.75"/><circle cx="198.5" cy="859.7" r="13.75"/><circle cx="199.9" cy="859.2" r="13.75"/><circle cx="207.3" cy="856.2" r="13.75"/><circle cx="214.7" cy="853.2" r="13.75"/><circle cx="222" cy="850.3" r="13.75"/><circle cx="229.4" cy="847.3" r="13.75"/><circle cx="236.8" cy="844.3" r="13.75"/><circle cx="251.5" cy="838.4" r="13.75"/><circle cx="266.2" cy="832.6" r="13.75"/><circle cx="280.9" cy="826.7" r="13.75"/><circle cx="295.7" cy="820.9" r="13.75"/><circle cx="310.4" cy="815.1" r="13.75"/><circle cx="339.9" cy="803.6" r="13.75"/><circle cx="369.3" cy="792.3" r="13.75"/><circle cx="398.8" cy="781.2" r="13.75"/><circle cx="428.2" cy="770.2" r="13.75"/><circle cx="457.7" cy="759.3" r="13.75"/><circle cx="530.9" cy="732.4" r="13.75"/><circle cx="604.1" cy="705.7" r="13.75"/><circle cx="677.4" cy="678.7" r="13.75"/><circle cx="750.6" cy="651.4" r="13.75"/><circle cx="823.8" cy="623.5" r="13.75"/><circle cx="897" cy="595" r="13.75"/><circle cx="970.3" cy="565.6" r="13.75"/><circle cx="1043.5" cy="535.5" r="13.75"/>
</g>
<path d="M473.7 755.3L514.9 740.4M546.9 728.9L588.1 714.1M620.1 702.5L661.4 687.6M693.3 675.9L734.6 660.7M766.5 648.8L807.9 633.2M839.7 621.1L881.2 605.1M912.8 592.7L954.5 576.1M986 563.4L1027.7 546.4" stroke="#F03040" stroke-width="4" fill="none"/>
<path d="M150.1 874.3h26M163.1 861.3v26M153 873.1h26M166 860.1v26M156 871.9h26M169 858.9v26M158.9 870.8h26M171.9 857.8v26M161.9 869.6h26M174.9 856.6v26M164.8 868.4h26M177.8 855.4v26M167.8 867.3h26M180.8 854.3v26M170.7 866.1h26M183.7 853.1v26M173.7 864.9h26M186.7 851.9v26M176.6 863.8h26M189.6 850.8v26M179.6 862.6h26M192.6 849.6v26M182.5 861.4h26M195.5 848.4v26M185.5 860.2h26M198.5 847.2v26M186.9 859.7h26M199.9 846.7v26M194.3 856.7h26M207.3 843.7v26M201.7 853.8h26M214.7 840.8v26M209 850.9h26M222 837.9v26M216.4 847.9h26M229.4 834.9v26M223.8 845h26M236.8 832v26M238.5 839.2h26M251.5 826.2v26M253.2 833.3h26M266.2 820.3v26M267.9 827.6h26M280.9 814.6v26M282.7 821.8h26M295.7 808.8v26M297.4 816.1h26M310.4 803.1v26M326.9 804.8h26M339.9 791.8v26M356.3 793.6h26M369.3 780.6v26M385.8 782.7h26M398.8 769.7v26M415.2 771.8h26M428.2 758.8v26M444.7 761.1h26M457.7 748.1v26M517.9 734.6h26M530.9 721.6v26M591.1 708.3h26M604.1 695.3v26M664.4 681.8h26M677.4 668.8v26M737.6 654.8h26M750.6 641.8v26M810.8 627.2h26M823.8 614.2v26M884 598.9h26M897 585.9v26M957.3 569.8h26M970.3 556.8v26M1030.5 540h26M1043.5 527v26" stroke="#F03040" stroke-width="2.3" fill="none"/>
<path d="M473.7 757.2L514.9 742.6M546.9 731.2L588.1 716.6M620.2 705.2L661.4 690.5M693.3 679L734.6 664M766.5 652.3L807.9 636.8M839.7 624.8L881.2 609M912.9 596.7L954.4 580.3M986 567.7L1027.7 550.8" stroke="#479E9E" stroke-width="4" fill="none"/>
<path d="M152.6 864.1l21.0 21.0M152.6 885.1l21.0 -21.0M155.5 863l21.0 21.0M155.5 884l21.0 -21.0M158.5 861.8l21.0 21.0M158.5 882.8l21.0 -21.0M161.4 860.7l21.0 21.0M161.4 881.7l21.0 -21.0M164.4 859.5l21.0 21.0M164.4 880.5l21.0 -21.0M167.3 858.4l21.0 21.0M167.3 879.4l21.0 -21.0M170.3 857.2l21.0 21.0M170.3 878.2l21.0 -21.0M173.2 856.1l21.0 21.0M173.2 877.1l21.0 -21.0M176.2 854.9l21.0 21.0M176.2 875.9l21.0 -21.0M179.1 853.7l21.0 21.0M179.1 874.7l21.0 -21.0M182.1 852.6l21.0 21.0M182.1 873.6l21.0 -21.0M185 851.4l21.0 21.0M185 872.4l21.0 -21.0M188 850.3l21.0 21.0M188 871.3l21.0 -21.0M189.4 849.7l21.0 21.0M189.4 870.7l21.0 -21.0M196.8 846.8l21.0 21.0M196.8 867.8l21.0 -21.0M204.2 843.9l21.0 21.0M204.2 864.9l21.0 -21.0M211.5 841l21.0 21.0M211.5 862l21.0 -21.0M218.9 838.1l21.0 21.0M218.9 859.1l21.0 -21.0M226.2 835.2l21.0 21.0M226.2 856.2l21.0 -21.0M241 829.4l21.0 21.0M241 850.4l21.0 -21.0M255.7 823.6l21.0 21.0M255.7 844.6l21.0 -21.0M270.4 817.9l21.0 21.0M270.4 838.9l21.0 -21.0M285.2 812.2l21.0 21.0M285.2 833.2l21.0 -21.0M299.9 806.6l21.0 21.0M299.9 827.6l21.0 -21.0M329.4 795.4l21.0 21.0M329.4 816.4l21.0 -21.0M358.8 784.4l21.0 21.0M358.8 805.4l21.0 -21.0M388.3 773.6l21.0 21.0M388.3 794.6l21.0 -21.0M417.7 763l21.0 21.0M417.7 784l21.0 -21.0M447.2 752.4l21.0 21.0M447.2 773.4l21.0 -21.0M520.4 726.4l21.0 21.0M520.4 747.4l21.0 -21.0M593.6 700.5l21.0 21.0M593.6 721.5l21.0 -21.0M666.9 674.3l21.0 21.0M666.9 695.3l21.0 -21.0M740.1 647.7l21.0 21.0M740.1 668.7l21.0 -21.0M813.3 620.4l21.0 21.0M813.3 641.4l21.0 -21.0M886.5 592.4l21.0 21.0M886.5 613.4l21.0 -21.0M959.8 563.6l21.0 21.0M959.8 584.6l21.0 -21.0M1033 534l21.0 21.0M1033 555l21.0 -21.0" stroke="#479E9E" stroke-width="1.9" stroke-opacity="0.8" fill="none"/>
<path d="M473.7 759.1L514.9 744.7M547 733.5L588.1 719.2M620.2 708L661.3 693.5M693.4 682.1L734.6 667.3M766.5 655.7L807.9 640.5M839.7 628.6L881.1 612.9M912.9 600.7L954.4 584.5M986 572L1027.7 555.3" stroke="#E0A000" stroke-width="4" fill="none"/>
<path d="M149.1 875h28M163.1 861v28M152 873.9h28M166 859.9v28M155 872.7h28M169 858.7v28M157.9 871.6h28M171.9 857.6v28M160.9 870.4h28M174.9 856.4v28M163.8 869.3h28M177.8 855.3v28M166.8 868.1h28M180.8 854.1v28M169.7 867h28M183.7 853v28M172.7 865.9h28M186.7 851.9v28M175.6 864.7h28M189.6 850.7v28M178.6 863.6h28M192.6 849.6v28M181.5 862.4h28M195.5 848.4v28M184.5 861.3h28M198.5 847.3v28M185.9 860.7h28M199.9 846.7v28M193.3 857.8h28M207.3 843.8v28M200.7 854.9h28M214.7 840.9v28M208 852.1h28M222 838.1v28M215.4 849.2h28M229.4 835.2v28M222.8 846.3h28M236.8 832.3v28M237.5 840.6h28M251.5 826.6v28M252.2 834.9h28M266.2 820.9v28M266.9 829.3h28M280.9 815.3v28M281.7 823.7h28M295.7 809.7v28M296.4 818.1h28M310.4 804.1v28M325.9 807.1h28M339.9 793.1v28M355.3 796.3h28M369.3 782.3v28M384.8 785.6h28M398.8 771.6v28M414.2 775.1h28M428.2 761.1v28M443.7 764.7h28M457.7 750.7v28M516.9 739.1h28M530.9 725.1v28M590.1 713.6h28M604.1 699.6v28M663.4 687.8h28M677.4 673.8v28M736.6 661.6h28M750.6 647.6v28M809.8 634.6h28M823.8 620.6v28M883 606.9h28M897 592.9v28M956.3 578.3h28M970.3 564.3v28M1029.5 548.9h28M1043.5 534.9v28" stroke="#E0A000" stroke-width="2.5" fill="none"/>
<path d="M152.6 864.5l21.0 21.0M152.6 885.5l21.0 -21.0M155.5 863.4l21.0 21.0M155.5 884.4l21.0 -21.0M158.5 862.2l21.0 21.0M158.5 883.2l21.0 -21.0M161.4 861.1l21.0 21.0M161.4 882.1l21.0 -21.0M164.4 859.9l21.0 21.0M164.4 880.9l21.0 -21.0M167.3 858.8l21.0 21.0M167.3 879.8l21.0 -21.0M170.3 857.6l21.0 21.0M170.3 878.6l21.0 -21.0M173.2 856.5l21.0 21.0M173.2 877.5l21.0 -21.0M176.2 855.4l21.0 21.0M176.2 876.4l21.0 -21.0M179.1 854.2l21.0 21.0M179.1 875.2l21.0 -21.0M182.1 853.1l21.0 21.0M182.1 874.1l21.0 -21.0M185 851.9l21.0 21.0M185 872.9l21.0 -21.0M188 850.8l21.0 21.0M188 871.8l21.0 -21.0M189.4 850.2l21.0 21.0M189.4 871.2l21.0 -21.0M196.8 847.3l21.0 21.0M196.8 868.3l21.0 -21.0M204.2 844.4l21.0 21.0M204.2 865.4l21.0 -21.0M211.5 841.6l21.0 21.0M211.5 862.6l21.0 -21.0M218.9 838.7l21.0 21.0M218.9 859.7l21.0 -21.0M226.2 835.8l21.0 21.0M226.2 856.8l21.0 -21.0M241 830.1l21.0 21.0M241 851.1l21.0 -21.0M255.7 824.4l21.0 21.0M255.7 845.4l21.0 -21.0M270.4 818.8l21.0 21.0M270.4 839.8l21.0 -21.0M285.2 813.2l21.0 21.0M285.2 834.2l21.0 -21.0M299.9 807.6l21.0 21.0M299.9 828.6l21.0 -21.0M329.4 796.6l21.0 21.0M329.4 817.6l21.0 -21.0M358.8 785.8l21.0 21.0M358.8 806.8l21.0 -21.0M388.3 775.1l21.0 21.0M388.3 796.1l21.0 -21.0M417.7 764.6l21.0 21.0M417.7 785.6l21.0 -21.0M447.2 754.2l21.0 21.0M447.2 775.2l21.0 -21.0M520.4 728.6l21.0 21.0M520.4 749.6l21.0 -21.0M593.6 703.1l21.0 21.0M593.6 724.1l21.0 -21.0M666.9 677.3l21.0 21.0M666.9 698.3l21.0 -21.0M740.1 651.1l21.0 21.0M740.1 672.1l21.0 -21.0M813.3 624.1l21.0 21.0M813.3 645.1l21.0 -21.0M886.5 596.4l21.0 21.0M886.5 617.4l21.0 -21.0M959.8 567.8l21.0 21.0M959.8 588.8l21.0 -21.0M1033 538.4l21.0 21.0M1033 559.4l21.0 -21.0" stroke="#E0A000" stroke-width="1.7" stroke-opacity="0.6" fill="none"/>
</g>
<rect x="1419.7" y="45.2" width="1032.1" height="830" fill="none" stroke="#000" stroke-width="3.7"/>
<path d="M1493.4 875.2v-8M1567.1 875.2v-16M1640.9 875.2v-8M1714.6 875.2v-16M1788.3 875.2v-8M1862 875.2v-16M1935.8 875.2v-8M2009.5 875.2v-16M2083.2 875.2v-8M2156.9 875.2v-16M2230.6 875.2v-8M2304.4 875.2v-16M2378.1 875.2v-8M1419.7 783h8M1419.7 690.8h16M1419.7 598.5h8M1419.7 506.3h16M1419.7 414.1h8M1419.7 321.9h16M1419.7 229.6h8M1419.7 137.4h16" stroke="#000" stroke-width="3.7" fill="none"/>
<g font-family="Liberation Sans, Arial, sans-serif" font-size="36" fill="#000"><text x="1419.7" y="920.2" text-anchor="middle">0</text><text x="1567.1" y="920.2" text-anchor="middle">10</text><text x="1714.6" y="920.2" text-anchor="middle">20</text><text x="1862" y="920.2" text-anchor="middle">30</text><text x="2009.5" y="920.2" text-anchor="middle">40</text><text x="2156.9" y="920.2" text-anchor="middle">50</text><text x="2304.4" y="920.2" text-anchor="middle">60</text><text x="2451.8" y="920.2" text-anchor="middle">70</text><text x="1401.7" y="884.6" text-anchor="end">0</text><text x="1401.7" y="700.2" text-anchor="end">1</text><text x="1401.7" y="515.7" text-anchor="end">2</text><text x="1401.7" y="331.3" text-anchor="end">3</text><text x="1401.7" y="146.8" text-anchor="end">4</text></g>
<clipPath id="clipb"><rect x="1417.7" y="45.2" width="1034.1" height="830"/></clipPath>
<g clip-path="url(#clipb)">
<path d="M1610.8 497.1L1611.9 496.4M1729.8 431.3L1773.1 409.4M1803.6 394.3L1846.7 373.3M1877.4 358.5L1920.4 337.9M1951.1 323.4L1994.1 303.3M2024.9 288.9L2067.8 269.1M2098.7 255L2141.4 235.6M2172.4 221.6L2215.1 202.6M2246.2 188.8L2288.8 170.1" stroke="#FF0000" stroke-width="4" fill="none"/>
<path d="M1407.7 632.6h24v24h-24zM1410.6 631h24v24h-24zM1413.6 628.6h24v24h-24zM1416.5 625.8h24v24h-24zM1419.5 622.5h24v24h-24zM1422.4 618.9h24v24h-24zM1425.4 614.2h24v24h-24zM1428.3 608.1h24v24h-24zM1431.3 601.5h24v24h-24zM1434.2 595.4h24v24h-24zM1437.2 590.5h24v24h-24zM1440.1 586.8h24v24h-24zM1443.1 583.4h24v24h-24zM1444.6 581.8h24v24h-24zM1451.9 575h24v24h-24zM1459.3 569.2h24v24h-24zM1466.7 564.5h24v24h-24zM1474 559.7h24v24h-24zM1481.4 553.8h24v24h-24zM1496.2 541.5h24v24h-24zM1510.9 530h24v24h-24zM1525.7 520.9h24v24h-24zM1540.4 516.1h24v24h-24zM1555.1 511.5h24v24h-24zM1584.6 494.5h24v24h-24zM1614.1 475h24v24h-24zM1643.6 458.4h24v24h-24zM1673.1 442.5h24v24h-24zM1702.6 427h24v24h-24zM1776.3 389.7h24v24h-24zM1850 353.8h24v24h-24zM1923.8 318.6h24v24h-24zM1997.5 284h24v24h-24zM2071.2 250h24v24h-24zM2144.9 216.6h24v24h-24zM2218.6 183.6h24v24h-24zM2292.4 151.2h24v24h-24zM1437.2 719.3h24v24h-24zM1434.2 739.6h24v24h-24z" fill="#FF0000"/>
<path d="M1610.7 522.6L1612.1 521.6M1729.7 456.2L1772.7 434.3M1803.1 419L1845.9 398M1876.5 383L1919.2 362.3M1949.8 347.6L1992.4 327.3M2023.1 312.8L2065.7 292.8M2096.5 278.5L2138.9 258.8M2169.8 244.6L2212.2 225.3M2243.2 211.3L2285.4 192.3" stroke="#105FA0" stroke-width="4" fill="none"/>
<path d="M1406 676a13.75 13.75 0 1 0 27.5 0a13.75 13.75 0 1 0 -27.5 0zM1408.9 672.7a13.75 13.75 0 1 0 27.5 0a13.75 13.75 0 1 0 -27.5 0zM1411.8 669.1a13.75 13.75 0 1 0 27.5 0a13.75 13.75 0 1 0 -27.5 0zM1414.8 665.4a13.75 13.75 0 1 0 27.5 0a13.75 13.75 0 1 0 -27.5 0zM1417.7 661.5a13.75 13.75 0 1 0 27.5 0a13.75 13.75 0 1 0 -27.5 0zM1420.7 657.4a13.75 13.75 0 1 0 27.5 0a13.75 13.75 0 1 0 -27.5 0zM1423.6 652.9a13.75 13.75 0 1 0 27.5 0a13.75 13.75 0 1 0 -27.5 0zM1426.6 648.1a13.75 13.75 0 1 0 27.5 0a13.75 13.75 0 1 0 -27.5 0zM1429.5 643.2a13.75 13.75 0 1 0 27.5 0a13.75 13.75 0 1 0 -27.5 0zM1432.5 638.2a13.75 13.75 0 1 0 27.5 0a13.75 13.75 0 1 0 -27.5 0zM1435.4 633.5a13.75 13.75 0 1 0 27.5 0a13.75 13.75 0 1 0 -27.5 0zM1438.4 628.9a13.75 13.75 0 1 0 27.5 0a13.75 13.75 0 1 0 -27.5 0zM1441.3 624.4a13.75 13.75 0 1 0 27.5 0a13.75 13.75 0 1 0 -27.5 0zM1442.8 622.1a13.75 13.75 0 1 0 27.5 0a13.75 13.75 0 1 0 -27.5 0zM1450.2 611.3a13.75 13.75 0 1 0 27.5 0a13.75 13.75 0 1 0 -27.5 0zM1457.6 601.7a13.75 13.75 0 1 0 27.5 0a13.75 13.75 0 1 0 -27.5 0zM1464.9 592.8a13.75 13.75 0 1 0 27.5 0a13.75 13.75 0 1 0 -27.5 0zM1472.3 585.6a13.75 13.75 0 1 0 27.5 0a13.75 13.75 0 1 0 -27.5 0zM1479.7 580.4a13.75 13.75 0 1 0 27.5 0a13.75 13.75 0 1 0 -27.5 0zM1494.4 572.1a13.75 13.75 0 1 0 27.5 0a13.75 13.75 0 1 0 -27.5 0zM1509.2 564.7a13.75 13.75 0 1 0 27.5 0a13.75 13.75 0 1 0 -27.5 0zM1523.9 558.4a13.75 13.75 0 1 0 27.5 0a13.75 13.75 0 1 0 -27.5 0zM1538.6 554a13.75 13.75 0 1 0 27.5 0a13.75 13.75 0 1 0 -27.5 0zM1553.4 549.5a13.75 13.75 0 1 0 27.5 0a13.75 13.75 0 1 0 -27.5 0zM1582.9 532.2a13.75 13.75 0 1 0 27.5 0a13.75 13.75 0 1 0 -27.5 0zM1612.4 512a13.75 13.75 0 1 0 27.5 0a13.75 13.75 0 1 0 -27.5 0zM1641.9 495.3a13.75 13.75 0 1 0 27.5 0a13.75 13.75 0 1 0 -27.5 0zM1671.3 479.4a13.75 13.75 0 1 0 27.5 0a13.75 13.75 0 1 0 -27.5 0zM1700.8 463.9a13.75 13.75 0 1 0 27.5 0a13.75 13.75 0 1 0 -27.5 0zM1774.1 426.5a13.75 13.75 0 1 0 27.5 0a13.75 13.75 0 1 0 -27.5 0zM1847.4 390.5a13.75 13.75 0 1 0 27.5 0a13.75 13.75 0 1 0 -27.5 0zM1920.7 354.9a13.75 13.75 0 1 0 27.5 0a13.75 13.75 0 1 0 -27.5 0zM1994 320a13.75 13.75 0 1 0 27.5 0a13.75 13.75 0 1 0 -27.5 0zM2067.3 285.6a13.75 13.75 0 1 0 27.5 0a13.75 13.75 0 1 0 -27.5 0zM2140.6 251.7a13.75 13.75 0 1 0 27.5 0a13.75 13.75 0 1 0 -27.5 0zM2213.9 218.3a13.75 13.75 0 1 0 27.5 0a13.75 13.75 0 1 0 -27.5 0zM2287.2 185.4a13.75 13.75 0 1 0 27.5 0a13.75 13.75 0 1 0 -27.5 0z" fill="#105FA0"/>
<path d="M1610.8 548.8L1612 548M1729.7 481.9L1772.8 459.6M1803.1 444.2L1846 422.7M1876.4 407.7L1919.2 386.7M1949.8 371.8L1992.4 351.4M2023.1 336.7L2065.7 316.7M2096.5 302.3L2138.9 282.6M2169.8 268.4L2212.2 249.1M2243.2 235.2L2285.4 216.3" stroke="#FFC200" stroke-width="4" fill="none"/>
<path d="M1419.7 697.5l15.5 27h-31zM1422.6 695.7l15.5 27h-31zM1425.6 693l15.5 27h-31zM1428.5 689.5l15.5 27h-31zM1431.5 685.4l15.5 27h-31zM1434.4 681l15.5 27h-31zM1437.4 675l15.5 27h-31zM1440.3 667l15.5 27h-31zM1443.3 658.3l15.5 27h-31zM1446.2 650.4l15.5 27h-31zM1449.2 644.4l15.5 27h-31zM1452.1 640.3l15.5 27h-31zM1455.1 636.8l15.5 27h-31zM1456.6 635.2l15.5 27h-31zM1463.9 628.1l15.5 27h-31zM1471.3 621.2l15.5 27h-31zM1478.7 614.5l15.5 27h-31zM1486 608l15.5 27h-31zM1493.4 601.3l15.5 27h-31zM1508.2 589.2l15.5 27h-31zM1522.9 581.8l15.5 27h-31zM1537.7 575.6l15.5 27h-31zM1552.4 569.4l15.5 27h-31zM1567.1 562.9l15.5 27h-31zM1596.6 544.7l15.5 27h-31zM1626.1 525.1l15.5 27h-31zM1655.6 508.1l15.5 27h-31zM1685.1 491.9l15.5 27h-31zM1714.6 476.2l15.5 27h-31zM1787.9 438.3l15.5 27h-31zM1861.2 401.6l15.5 27h-31zM1934.5 365.7l15.5 27h-31zM2007.8 330.5l15.5 27h-31zM2081.1 295.9l15.5 27h-31zM2154.3 261.9l15.5 27h-31zM2227.6 228.6l15.5 27h-31zM2300.9 195.9l15.5 27h-31z" fill="#FFC200"/>
<path d="M1610.8 593.6L1612 592.8M1729.6 526L1772.9 502.9M1803 487.1L1846.1 464.7M1876.3 449.1L1919.3 427.2M1949.7 411.8L1992.6 390.3M2023 375.2L2065.8 354.2M2096.4 339.3L2139 318.7M2169.7 304L2212.3 283.9M2243.1 269.4L2285.5 249.7" stroke="#00C06E" stroke-width="4" fill="none"/>
<path d="M1419.7 768.8l15.5 -27h-31zM1422.6 765.7l15.5 -27h-31zM1425.6 762l15.5 -27h-31zM1428.5 757.9l15.5 -27h-31zM1431.5 753.4l15.5 -27h-31zM1434.4 748.5l15.5 -27h-31zM1437.4 742.7l15.5 -27h-31zM1440.3 735.9l15.5 -27h-31zM1443.3 728.7l15.5 -27h-31zM1446.2 721.8l15.5 -27h-31zM1449.2 715.8l15.5 -27h-31zM1452.1 710.6l15.5 -27h-31zM1455.1 705.5l15.5 -27h-31zM1456.6 703l15.5 -27h-31zM1463.9 692.4l15.5 -27h-31zM1471.3 686l15.5 -27h-31zM1478.7 682.5l15.5 -27h-31zM1486 678.7l15.5 -27h-31zM1493.4 672.1l15.5 -27h-31zM1508.2 657.9l15.5 -27h-31zM1522.9 650.7l15.5 -27h-31zM1537.7 645.1l15.5 -27h-31zM1552.4 639.8l15.5 -27h-31zM1567.1 634.2l15.5 -27h-31zM1596.6 616.5l15.5 -27h-31zM1626.1 596.8l15.5 -27h-31zM1655.6 579.8l15.5 -27h-31zM1685.1 563.5l15.5 -27h-31zM1714.6 547.5l15.5 -27h-31zM1787.9 508.4l15.5 -27h-31zM1861.2 470.3l15.5 -27h-31zM1934.5 432.9l15.5 -27h-31zM2007.8 396.2l15.5 -27h-31zM2081.1 360.2l15.5 -27h-31zM2154.3 324.8l15.5 -27h-31zM2227.6 290.1l15.5 -27h-31zM2300.9 256.1l15.5 -27h-31z" fill="#00C06E"/>
<path d="M1581.3 654L1582.5 653.1M1610.4 633.7L1612.3 632.4M1729.4 560.7L1773.1 536.1M1802.8 519.7L1846.2 496.3M1876.2 480.4L1919.4 457.6M1949.6 442L1992.6 420M2023 404.6L2065.8 383.2M2096.3 368.2L2139.1 347.4M2169.7 332.6L2212.3 312.4M2243.1 297.9L2285.5 278.3" stroke="#6464A2" stroke-width="4" fill="none"/>
<path d="M1419.7 790.5l16.5 16.5l-16.5 16.5l-16.5 -16.5zM1422.6 788.6l16.5 16.5l-16.5 16.5l-16.5 -16.5zM1425.6 785.9l16.5 16.5l-16.5 16.5l-16.5 -16.5zM1428.5 782.4l16.5 16.5l-16.5 16.5l-16.5 -16.5zM1431.5 778.4l16.5 16.5l-16.5 16.5l-16.5 -16.5zM1434.4 774l16.5 16.5l-16.5 16.5l-16.5 -16.5zM1437.4 768.2l16.5 16.5l-16.5 16.5l-16.5 -16.5zM1440.3 760.6l16.5 16.5l-16.5 16.5l-16.5 -16.5zM1443.3 752.3l16.5 16.5l-16.5 16.5l-16.5 -16.5zM1446.2 744.2l16.5 16.5l-16.5 16.5l-16.5 -16.5zM1449.2 737.5l16.5 16.5l-16.5 16.5l-16.5 -16.5zM1452.1 732.1l16.5 16.5l-16.5 16.5l-16.5 -16.5zM1455.1 727.1l16.5 16.5l-16.5 16.5l-16.5 -16.5zM1456.6 724.7l16.5 16.5l-16.5 16.5l-16.5 -16.5zM1463.9 713.9l16.5 16.5l-16.5 16.5l-16.5 -16.5zM1471.3 703.7l16.5 16.5l-16.5 16.5l-16.5 -16.5zM1478.7 693.9l16.5 16.5l-16.5 16.5l-16.5 -16.5zM1486 686l16.5 16.5l-16.5 16.5l-16.5 -16.5zM1493.4 680.5l16.5 16.5l-16.5 16.5l-16.5 -16.5zM1508.2 672.2l16.5 16.5l-16.5 16.5l-16.5 -16.5zM1522.9 666.4l16.5 16.5l-16.5 16.5l-16.5 -16.5zM1537.7 661.1l16.5 16.5l-16.5 16.5l-16.5 -16.5zM1552.4 654.5l16.5 16.5l-16.5 16.5l-16.5 -16.5zM1567.1 647l16.5 16.5l-16.5 16.5l-16.5 -16.5zM1596.6 627.2l16.5 16.5l-16.5 16.5l-16.5 -16.5zM1626.1 606l16.5 16.5l-16.5 16.5l-16.5 -16.5zM1655.6 587.4l16.5 16.5l-16.5 16.5l-16.5 -16.5zM1685.1 569.7l16.5 16.5l-16.5 16.5l-16.5 -16.5zM1714.6 552.5l16.5 16.5l-16.5 16.5l-16.5 -16.5zM1787.9 511.3l16.5 16.5l-16.5 16.5l-16.5 -16.5zM1861.2 471.8l16.5 16.5l-16.5 16.5l-16.5 -16.5zM1934.5 433.2l16.5 16.5l-16.5 16.5l-16.5 -16.5zM2007.8 395.7l16.5 16.5l-16.5 16.5l-16.5 -16.5zM2081.1 359.1l16.5 16.5l-16.5 16.5l-16.5 -16.5zM2154.3 323.4l16.5 16.5l-16.5 16.5l-16.5 -16.5zM2227.6 288.6l16.5 16.5l-16.5 16.5l-16.5 -16.5zM2300.9 254.6l16.5 16.5l-16.5 16.5l-16.5 -16.5z" fill="#6464A2"/>
<path d="M1581.4 696.3L1582.3 695.7M1610.3 676.4L1612.4 674.9M1640.3 655.4L1641.4 654.7M1669.9 636L1670.8 635.4M1729.2 599.1L1773.3 572.9M1802.7 555.9L1846.3 531.4M1876.2 515.2L1919.4 492.4M1949.6 476.8L1992.6 455M2023 439.7L2065.8 418.4M2096.3 403.4L2139.1 382.3M2169.6 367.2L2212.4 345.8M2242.8 330.7L2285.7 309.2" stroke="#999999" stroke-width="4" fill="none"/>
<path d="M1405.9 812.5l27.6 -15.5v31zM1408.8 810.8l27.6 -15.5v31zM1411.8 808.8l27.6 -15.5v31zM1414.7 806.6l27.6 -15.5v31zM1417.7 804.3l27.6 -15.5v31zM1420.6 801.7l27.6 -15.5v31zM1423.6 798.9l27.6 -15.5v31zM1426.5 795.6l27.6 -15.5v31zM1429.5 792.1l27.6 -15.5v31zM1432.4 788.6l27.6 -15.5v31zM1435.4 785.4l27.6 -15.5v31zM1438.3 782.5l27.6 -15.5v31zM1441.3 779.7l27.6 -15.5v31zM1442.8 778.3l27.6 -15.5v31zM1450.1 771.6l27.6 -15.5v31zM1457.5 765.1l27.6 -15.5v31zM1464.9 758.8l27.6 -15.5v31zM1472.2 752.9l27.6 -15.5v31zM1479.6 747.3l27.6 -15.5v31zM1494.4 736.8l27.6 -15.5v31zM1509.1 726.3l27.6 -15.5v31zM1523.9 717.3l27.6 -15.5v31zM1538.6 711.4l27.6 -15.5v31zM1553.3 705.5l27.6 -15.5v31zM1582.8 686.5l27.6 -15.5v31zM1612.3 664.8l27.6 -15.5v31zM1641.8 645.3l27.6 -15.5v31zM1671.3 626.2l27.6 -15.5v31zM1700.8 607.8l27.6 -15.5v31zM1774.1 564.2l27.6 -15.5v31zM1847.4 523.1l27.6 -15.5v31zM1920.7 484.5l27.6 -15.5v31zM1994 447.3l27.6 -15.5v31zM2067.3 410.9l27.6 -15.5v31zM2140.5 374.8l27.6 -15.5v31zM2213.8 338.3l27.6 -15.5v31zM2287.1 301.6l27.6 -15.5v31z" fill="#999999"/>
<path d="M1610.5 707.5L1612.3 706.2M1640.3 687L1641.4 686.3M1669.8 667.7L1670.9 667M1729.1 630.3L1773.4 603.4M1802.7 586.1L1846.4 561.2M1876.3 545L1919.4 522.6M1949.7 507.2L1992.5 486.2M2023.1 471.3L2065.7 451.1M2096.4 436.4L2139 415.9M2169.5 400.8L2212.5 378.6M2242.6 362.7L2286 339.2" stroke="#FF6666" stroke-width="4" fill="none"/>
<path d="M1433.5 816.2l-27.6 -15.5v31zM1436.4 814.7l-27.6 -15.5v31zM1439.4 813.3l-27.6 -15.5v31zM1442.3 811.8l-27.6 -15.5v31zM1445.3 810.3l-27.6 -15.5v31zM1448.2 808.8l-27.6 -15.5v31zM1451.2 807.3l-27.6 -15.5v31zM1454.1 805.8l-27.6 -15.5v31zM1457.1 804.2l-27.6 -15.5v31zM1460 802.7l-27.6 -15.5v31zM1463 801l-27.6 -15.5v31zM1465.9 799.3l-27.6 -15.5v31zM1468.9 797.4l-27.6 -15.5v31zM1470.4 796.4l-27.6 -15.5v31zM1477.7 791.5l-27.6 -15.5v31zM1485.1 786.6l-27.6 -15.5v31zM1492.5 781.4l-27.6 -15.5v31zM1499.8 776.5l-27.6 -15.5v31zM1507.2 771.9l-27.6 -15.5v31zM1522 763.2l-27.6 -15.5v31zM1536.7 753.3l-27.6 -15.5v31zM1551.5 744.8l-27.6 -15.5v31zM1566.2 739.9l-27.6 -15.5v31zM1580.9 735l-27.6 -15.5v31zM1610.4 717.4l-27.6 -15.5v31zM1639.9 696.3l-27.6 -15.5v31zM1669.4 677l-27.6 -15.5v31zM1698.9 657.8l-27.6 -15.5v31zM1728.4 639.1l-27.6 -15.5v31zM1801.7 594.6l-27.6 -15.5v31zM1875 552.8l-27.6 -15.5v31zM1948.3 514.8l-27.6 -15.5v31zM2021.6 478.6l-27.6 -15.5v31zM2094.9 443.8l-27.6 -15.5v31zM2168.1 408.6l-27.6 -15.5v31zM2241.4 370.8l-27.6 -15.5v31zM2314.7 331.1l-27.6 -15.5v31z" fill="#FF6666"/>
<path d="M1729.4 653.4L1773 629.1M1802.8 612.8L1846.2 589.2M1876.2 573.1L1919.4 550.3M1949.6 534.5L1992.7 512.3M2022.9 496.8L2065.9 475M2096.3 459.7L2139.1 438.3M2169.6 423.2L2212.4 402.1M2242.9 387.1L2285.7 366.2" stroke="#4499DD" stroke-width="4" fill="none"/>
<path d="M1419.7 818L1432.5 825.4L1432.5 840.2L1419.7 847.6L1406.9 840.2L1406.9 825.4zM1422.6 816.2L1435.5 823.6L1435.5 838.4L1422.6 845.8L1409.8 838.4L1409.8 823.6zM1425.6 814.5L1438.4 821.9L1438.4 836.7L1425.6 844.1L1412.8 836.7L1412.8 821.9zM1428.5 812.8L1441.4 820.2L1441.4 835L1428.5 842.4L1415.7 835L1415.7 820.2zM1431.5 811L1444.3 818.4L1444.3 833.2L1431.5 840.6L1418.7 833.2L1418.7 818.4zM1434.4 809.3L1447.3 816.7L1447.3 831.5L1434.4 838.9L1421.6 831.5L1421.6 816.7zM1437.4 807.6L1450.2 815L1450.2 829.8L1437.4 837.2L1424.6 829.8L1424.6 815zM1440.3 805.8L1453.2 813.2L1453.2 828L1440.3 835.4L1427.5 828L1427.5 813.2zM1443.3 804.1L1456.1 811.5L1456.1 826.3L1443.3 833.7L1430.5 826.3L1430.5 811.5zM1446.2 802.3L1459.1 809.7L1459.1 824.5L1446.2 831.9L1433.4 824.5L1433.4 809.7zM1449.2 800.6L1462 808L1462 822.8L1449.2 830.2L1436.4 822.8L1436.4 808zM1452.1 798.9L1465 806.3L1465 821.1L1452.1 828.5L1439.3 821.1L1439.3 806.3zM1455.1 797.1L1467.9 804.5L1467.9 819.3L1455.1 826.7L1442.3 819.3L1442.3 804.5zM1456.6 796.3L1469.4 803.7L1469.4 818.5L1456.6 825.9L1443.7 818.5L1443.7 803.7zM1463.9 791.9L1476.8 799.3L1476.8 814.1L1463.9 821.5L1451.1 814.1L1451.1 799.3zM1471.3 787.6L1484.1 795L1484.1 809.8L1471.3 817.2L1458.5 809.8L1458.5 795zM1478.7 783.2L1491.5 790.6L1491.5 805.4L1478.7 812.8L1465.9 805.4L1465.9 790.6zM1486 778.9L1498.9 786.3L1498.9 801.1L1486 808.5L1473.2 801.1L1473.2 786.3zM1493.4 774.5L1506.2 781.9L1506.2 796.7L1493.4 804.1L1480.6 796.7L1480.6 781.9zM1508.2 765.9L1521 773.3L1521 788.1L1508.2 795.5L1495.3 788.1L1495.3 773.3zM1522.9 757.2L1535.7 764.6L1535.7 779.4L1522.9 786.8L1510.1 779.4L1510.1 764.6zM1537.7 748.5L1550.5 755.9L1550.5 770.7L1537.7 778.1L1524.8 770.7L1524.8 755.9zM1552.4 739.9L1565.2 747.3L1565.2 762.1L1552.4 769.5L1539.6 762.1L1539.6 747.3zM1567.1 731.3L1580 738.7L1580 753.5L1567.1 760.9L1554.3 753.5L1554.3 738.7zM1596.6 714.1L1609.4 721.5L1609.4 736.3L1596.6 743.7L1583.8 736.3L1583.8 721.5zM1626.1 697.1L1638.9 704.5L1638.9 719.3L1626.1 726.7L1613.3 719.3L1613.3 704.5zM1655.6 680.2L1668.4 687.6L1668.4 702.4L1655.6 709.8L1642.8 702.4L1642.8 687.6zM1685.1 663.4L1697.9 670.8L1697.9 685.6L1685.1 693L1672.3 685.6L1672.3 670.8zM1714.6 646.8L1727.4 654.2L1727.4 669L1714.6 676.4L1701.8 669L1701.8 654.2zM1787.9 606.1L1800.7 613.5L1800.7 628.3L1787.9 635.7L1775.1 628.3L1775.1 613.5zM1861.2 566.3L1874 573.7L1874 588.5L1861.2 595.9L1848.4 588.5L1848.4 573.7zM1934.5 527.6L1947.3 535L1947.3 549.8L1934.5 557.2L1921.7 549.8L1921.7 535zM2007.8 489.7L2020.6 497.1L2020.6 511.9L2007.8 519.3L1994.9 511.9L1994.9 497.1zM2081.1 452.5L2093.9 459.9L2093.9 474.7L2081.1 482.1L2068.2 474.7L2068.2 459.9zM2154.3 416L2167.2 423.4L2167.2 438.2L2154.3 445.6L2141.5 438.2L2141.5 423.4zM2227.6 379.7L2240.5 387.1L2240.5 401.9L2227.6 409.3L2214.8 401.9L2214.8 387.1zM2300.9 344L2313.8 351.4L2313.8 366.2L2300.9 373.6L2288.1 366.2L2288.1 351.4z" fill="#4499DD"/>
<path d="M1729.5 665.5L1772.9 642.1M1802.9 626.1L1846.1 603.6M1876.4 588L1919.3 566.5M1949.7 551.4L1992.5 530.4M2023.1 515.5L2065.7 494.9M2096.4 480.2L2139 459.7M2169.6 444.9L2212.4 424.2M2242.9 409.3L2285.7 388.4" stroke="#E86C00" stroke-width="4" fill="none"/>
<path d="M1419.7 828L1423.7 837.5L1434 838.4L1426.2 845.1L1428.5 855.1L1419.7 849.8L1410.9 855.1L1413.2 845.1L1405.4 838.4L1415.7 837.5zM1422.6 826.3L1426.6 835.8L1436.9 836.7L1429.1 843.4L1431.5 853.5L1422.6 848.1L1413.8 853.5L1416.2 843.4L1408.4 836.7L1418.7 835.8zM1425.6 824.7L1429.6 834.2L1439.9 835L1432.1 841.8L1434.4 851.8L1425.6 846.5L1416.8 851.8L1419.1 841.8L1411.3 835L1421.6 834.2zM1428.5 823L1432.5 832.5L1442.8 833.4L1435 840.1L1437.4 850.2L1428.5 844.8L1419.7 850.2L1422.1 840.1L1414.3 833.4L1424.5 832.5zM1431.5 821.4L1435.5 830.9L1445.8 831.7L1438 838.5L1440.3 848.5L1431.5 843.2L1422.7 848.5L1425 838.5L1417.2 831.7L1427.5 830.9zM1434.4 819.7L1438.4 829.2L1448.7 830.1L1440.9 836.8L1443.3 846.8L1434.4 841.5L1425.6 846.8L1428 836.8L1420.2 830.1L1430.4 829.2zM1437.4 818L1441.4 827.5L1451.7 828.4L1443.9 835.1L1446.2 845.2L1437.4 839.8L1428.6 845.2L1430.9 835.1L1423.1 828.4L1433.4 827.5zM1440.3 816.3L1444.3 825.8L1454.6 826.7L1446.8 833.4L1449.2 843.5L1440.3 838.1L1431.5 843.5L1433.9 833.4L1426.1 826.7L1436.3 825.8zM1443.3 814.7L1447.3 824.2L1457.6 825L1449.8 831.8L1452.1 841.8L1443.3 836.5L1434.5 841.8L1436.8 831.8L1429 825L1439.3 824.2zM1446.2 813L1450.2 822.5L1460.5 823.4L1452.7 830.1L1455.1 840.1L1446.2 834.8L1437.4 840.1L1439.8 830.1L1432 823.4L1442.2 822.5zM1449.2 811.3L1453.2 820.8L1463.5 821.7L1455.7 828.4L1458 838.4L1449.2 833.1L1440.4 838.4L1442.7 828.4L1434.9 821.7L1445.2 820.8zM1452.1 809.6L1456.1 819.1L1466.4 820L1458.6 826.7L1461 836.8L1452.1 831.4L1443.3 836.8L1445.7 826.7L1437.9 820L1448.1 819.1zM1455.1 807.9L1459.1 817.4L1469.4 818.3L1461.6 825L1463.9 835.1L1455.1 829.7L1446.3 835.1L1448.6 825L1440.8 818.3L1451.1 817.4zM1456.6 807.1L1460.6 816.6L1470.8 817.5L1463 824.2L1465.4 834.2L1456.6 828.9L1447.7 834.2L1450.1 824.2L1442.3 817.5L1452.6 816.6zM1463.9 802.9L1467.9 812.4L1478.2 813.2L1470.4 820L1472.7 830L1463.9 824.7L1455.1 830L1457.5 820L1449.7 813.2L1459.9 812.4zM1471.3 798.7L1475.3 808.1L1485.6 809L1477.8 815.8L1480.1 825.8L1471.3 820.5L1462.5 825.8L1464.8 815.8L1457 809L1467.3 808.1zM1478.7 794.4L1482.7 803.9L1492.9 804.8L1485.1 811.5L1487.5 821.5L1478.7 816.2L1469.9 821.5L1472.2 811.5L1464.4 804.8L1474.7 803.9zM1486 790.2L1490 799.7L1500.3 800.5L1492.5 807.3L1494.9 817.3L1486 812L1477.2 817.3L1479.6 807.3L1471.8 800.5L1482.1 799.7zM1493.4 785.9L1497.4 795.4L1507.7 796.3L1499.9 803L1502.2 813L1493.4 807.7L1484.6 813L1487 803L1479.2 796.3L1489.4 795.4zM1508.2 777.4L1512.2 786.9L1522.4 787.7L1514.6 794.5L1517 804.5L1508.2 799.2L1499.3 804.5L1501.7 794.5L1493.9 787.7L1504.2 786.9zM1522.9 768.8L1526.9 778.3L1537.2 779.2L1529.4 785.9L1531.7 795.9L1522.9 790.6L1514.1 795.9L1516.4 785.9L1508.6 779.2L1518.9 778.3zM1537.7 760.3L1541.7 769.8L1551.9 770.6L1544.1 777.4L1546.5 787.4L1537.7 782.1L1528.8 787.4L1531.2 777.4L1523.4 770.6L1533.7 769.8zM1552.4 751.7L1556.4 761.2L1566.7 762.1L1558.9 768.8L1561.2 778.8L1552.4 773.5L1543.6 778.8L1545.9 768.8L1538.1 762.1L1548.4 761.2zM1567.1 743.2L1571.1 752.7L1581.4 753.5L1573.6 760.3L1576 770.3L1567.1 765L1558.3 770.3L1560.7 760.3L1552.9 753.5L1563.1 752.7zM1596.6 726.1L1600.6 735.6L1610.9 736.5L1603.1 743.2L1605.4 753.2L1596.6 747.9L1587.8 753.2L1590.2 743.2L1582.4 736.5L1592.6 735.6zM1626.1 709.2L1630.1 718.7L1640.4 719.6L1632.6 726.3L1634.9 736.3L1626.1 731L1617.3 736.3L1619.7 726.3L1611.9 719.6L1622.1 718.7zM1655.6 692.5L1659.6 702L1669.9 702.8L1662.1 709.6L1664.4 719.6L1655.6 714.3L1646.8 719.6L1649.1 709.6L1641.3 702.8L1651.6 702zM1685.1 675.9L1689.1 685.4L1699.4 686.3L1691.6 693L1693.9 703L1685.1 697.7L1676.3 703L1678.6 693L1670.8 686.3L1681.1 685.4zM1714.6 659.6L1718.6 669.1L1728.9 670L1721.1 676.7L1723.4 686.7L1714.6 681.4L1705.8 686.7L1708.1 676.7L1700.3 670L1710.6 669.1zM1787.9 620L1791.9 629.5L1802.1 630.4L1794.3 637.1L1796.7 647.1L1787.9 641.8L1779.1 647.1L1781.4 637.1L1773.6 630.4L1783.9 629.5zM1861.2 581.7L1865.2 591.2L1875.4 592L1867.6 598.8L1870 608.8L1861.2 603.5L1852.4 608.8L1854.7 598.8L1846.9 592L1857.2 591.2zM1934.5 544.8L1938.5 554.3L1948.7 555.2L1940.9 561.9L1943.3 572L1934.5 566.6L1925.7 572L1928 561.9L1920.2 555.2L1930.5 554.3zM2007.8 508.9L2011.8 518.4L2022 519.3L2014.2 526L2016.6 536L2007.8 530.7L1998.9 536L2001.3 526L1993.5 519.3L2003.8 518.4zM2081.1 473.6L2085.1 483.1L2095.3 483.9L2087.5 490.7L2089.9 500.7L2081.1 495.4L2072.2 500.7L2074.6 490.7L2066.8 483.9L2077.1 483.1zM2154.3 438.4L2158.3 447.9L2168.6 448.7L2160.8 455.5L2163.2 465.5L2154.3 460.2L2145.5 465.5L2147.9 455.5L2140.1 448.7L2150.4 447.9zM2227.6 402.7L2231.6 412.2L2241.9 413.1L2234.1 419.8L2236.5 429.9L2227.6 424.5L2218.8 429.9L2221.2 419.8L2213.4 413.1L2223.6 412.2zM2300.9 366.9L2304.9 376.4L2315.2 377.3L2307.4 384L2309.8 394L2300.9 388.7L2292.1 394L2294.5 384L2286.7 377.3L2296.9 376.4z" fill="#E86C00"/>
<path d="M1729.8 679.5L1772.7 658M1803.1 642.9L1845.9 621.8M1876.5 606.9L1919.2 586.1M1949.8 571.3L1992.5 550.6M2023.1 535.8L2065.8 515M2096.3 500.1L2139.1 479.2M2169.6 464.3L2212.4 443.2M2242.9 428.1L2285.7 406.9" stroke="#009E9E" stroke-width="4" fill="none"/>
<path d="M1419.7 833.2L1434.4 843.9L1428.8 861.3L1410.6 861.3L1405 843.9zM1422.6 831.6L1437.4 842.3L1431.8 859.6L1413.5 859.6L1407.9 842.3zM1425.6 829.9L1440.3 840.6L1434.7 857.9L1416.5 857.9L1410.9 840.6zM1428.5 828.2L1443.3 838.9L1437.7 856.2L1419.4 856.2L1413.8 838.9zM1431.5 826.5L1446.2 837.2L1440.6 854.6L1422.4 854.6L1416.8 837.2zM1434.4 824.8L1449.2 835.5L1443.6 852.9L1425.3 852.9L1419.7 835.5zM1437.4 823.2L1452.1 833.9L1446.5 851.2L1428.3 851.2L1422.7 833.9zM1440.3 821.5L1455.1 832.2L1449.5 849.5L1431.2 849.5L1425.6 832.2zM1443.3 819.8L1458 830.5L1452.4 847.8L1434.2 847.8L1428.5 830.5zM1446.2 818.1L1461 828.8L1455.4 846.1L1437.1 846.1L1431.5 828.8zM1449.2 816.4L1463.9 827.1L1458.3 844.5L1440.1 844.5L1434.4 827.1zM1452.1 814.7L1466.9 825.5L1461.2 842.8L1443 842.8L1437.4 825.5zM1455.1 813.1L1469.8 823.8L1464.2 841.1L1446 841.1L1440.3 823.8zM1456.6 812.2L1471.3 822.9L1465.7 840.3L1447.5 840.3L1441.8 822.9zM1463.9 808L1478.7 818.7L1473 836.1L1454.8 836.1L1449.2 818.7zM1471.3 803.8L1486 814.5L1480.4 831.9L1462.2 831.9L1456.6 814.5zM1478.7 799.6L1493.4 810.4L1487.8 827.7L1469.6 827.7L1463.9 810.4zM1486 795.5L1500.8 806.2L1495.2 823.5L1476.9 823.5L1471.3 806.2zM1493.4 791.3L1508.2 802L1502.5 819.3L1484.3 819.3L1478.7 802zM1508.2 783L1522.9 793.7L1517.3 811L1499.1 811L1493.4 793.7zM1522.9 774.7L1537.7 785.4L1532 802.8L1513.8 802.8L1508.2 785.4zM1537.7 766.5L1552.4 777.2L1546.8 794.5L1528.5 794.5L1522.9 777.2zM1552.4 758.3L1567.1 769L1561.5 786.4L1543.3 786.4L1537.7 769zM1567.1 750.2L1581.9 760.9L1576.3 778.3L1558 778.3L1552.4 760.9zM1596.6 734.2L1611.4 744.9L1605.7 762.3L1587.5 762.3L1581.9 744.9zM1626.1 718.5L1640.9 729.2L1635.2 746.5L1617 746.5L1611.4 729.2zM1655.6 703L1670.3 713.7L1664.7 731.1L1646.5 731.1L1640.9 713.7zM1685.1 687.8L1699.8 698.5L1694.2 715.8L1676 715.8L1670.4 698.5zM1714.6 672.8L1729.3 683.5L1723.7 700.8L1705.5 700.8L1699.8 683.5zM1787.9 636.1L1802.6 646.8L1797 664.1L1778.8 664.1L1773.1 646.8zM1861.2 600L1875.9 610.7L1870.3 628.1L1852.1 628.1L1846.4 610.7zM1934.5 564.4L1949.2 575.1L1943.6 592.4L1925.4 592.4L1919.7 575.1zM2007.8 528.9L2022.5 539.6L2016.9 556.9L1998.7 556.9L1993 539.6zM2081.1 493.3L2095.8 504L2090.2 521.3L2071.9 521.3L2066.3 504zM2154.3 457.5L2169.1 468.2L2163.5 485.5L2145.2 485.5L2139.6 468.2zM2227.6 421.4L2242.4 432.1L2236.8 449.4L2218.5 449.4L2212.9 432.1zM2300.9 385L2315.7 395.7L2310 413.1L2291.8 413.1L2286.2 395.7z" fill="#009E9E"/>
<path d="M1729.9 692.2L1772.6 671.4M1803.2 656.6L1845.9 636M1876.5 621.2L1919.2 600.6M1949.8 585.8L1992.4 565.3M2023.1 550.6L2065.7 530.1M2096.4 515.4L2139 495M2169.7 480.4L2212.3 460M2243 445.4L2285.6 425.1" stroke="#6B5FCC" stroke-width="4" fill="none"/>
<g fill="url(#gP)">
<circle cx="1419.7" cy="853.1" r="13.75"/><circle cx="1422.6" cy="851.3" r="13.75"/><circle cx="1425.6" cy="849.6" r="13.75"/><circle cx="1428.5" cy="847.8" r="13.75"/><circle cx="1431.5" cy="846.1" r="13.75"/><circle cx="1434.4" cy="844.3" r="13.75"/><circle cx="1437.4" cy="842.6" r="13.75"/><circle cx="1440.3" cy="840.9" r="13.75"/><circle cx="1443.3" cy="839.1" r="13.75"/><circle cx="1446.2" cy="837.4" r="13.75"/><circle cx="1449.2" cy="835.7" r="13.75"/><circle cx="1452.1" cy="834" r="13.75"/><circle cx="1455.1" cy="832.2" r="13.75"/><circle cx="1456.6" cy="831.4" r="13.75"/><circle cx="1463.9" cy="827.1" r="13.75"/><circle cx="1471.3" cy="822.9" r="13.75"/><circle cx="1478.7" cy="818.8" r="13.75"/><circle cx="1486" cy="814.6" r="13.75"/><circle cx="1493.4" cy="810.6" r="13.75"/><circle cx="1508.2" cy="802.5" r="13.75"/><circle cx="1522.9" cy="794.7" r="13.75"/><circle cx="1537.7" cy="787" r="13.75"/><circle cx="1552.4" cy="779.4" r="13.75"/><circle cx="1567.1" cy="771.9" r="13.75"/><circle cx="1596.6" cy="757.2" r="13.75"/><circle cx="1626.1" cy="742.6" r="13.75"/><circle cx="1655.6" cy="728.2" r="13.75"/><circle cx="1685.1" cy="713.9" r="13.75"/><circle cx="1714.6" cy="699.6" r="13.75"/><circle cx="1787.9" cy="664" r="13.75"/><circle cx="1861.2" cy="628.6" r="13.75"/><circle cx="1934.5" cy="593.2" r="13.75"/><circle cx="2007.8" cy="558" r="13.75"/><circle cx="2081.1" cy="522.8" r="13.75"/><circle cx="2154.3" cy="487.7" r="13.75"/><circle cx="2227.6" cy="452.7" r="13.75"/><circle cx="2300.9" cy="417.8" r="13.75"/>
</g>
<path d="M1730 702L1772.5 682.2M1803.3 667.9L1845.8 648.2M1876.6 633.9L1919.1 614.1M1949.9 599.7L1992.4 579.9M2023.2 565.5L2065.7 545.6M2096.4 531.1L2139 511.1M2169.7 496.6L2212.3 476.4M2243 461.9L2285.6 441.7" stroke="#A08C84" stroke-width="4" fill="none"/>
<path d="M1406.7 856.8h26M1419.7 843.8v26M1409.6 855.1h26M1422.6 842.1v26M1412.6 853.5h26M1425.6 840.5v26M1415.5 851.9h26M1428.5 838.9v26M1418.5 850.3h26M1431.5 837.3v26M1421.4 848.7h26M1434.4 835.7v26M1424.4 847.1h26M1437.4 834.1v26M1427.3 845.5h26M1440.3 832.5v26M1430.3 843.9h26M1443.3 830.9v26M1433.2 842.3h26M1446.2 829.3v26M1436.2 840.7h26M1449.2 827.7v26M1439.1 839.1h26M1452.1 826.1v26M1442.1 837.5h26M1455.1 824.5v26M1443.6 836.7h26M1456.6 823.7v26M1450.9 832.7h26M1463.9 819.7v26M1458.3 828.7h26M1471.3 815.7v26M1465.7 824.8h26M1478.7 811.8v26M1473 820.9h26M1486 807.9v26M1480.4 817h26M1493.4 804v26M1495.2 809.2h26M1508.2 796.2v26M1509.9 801.6h26M1522.9 788.6v26M1524.7 794.1h26M1537.7 781.1v26M1539.4 786.6h26M1552.4 773.6v26M1554.1 779.3h26M1567.1 766.3v26M1583.6 764.9h26M1596.6 751.9v26M1613.1 750.7h26M1626.1 737.7v26M1642.6 736.7h26M1655.6 723.7v26M1672.1 722.9h26M1685.1 709.9v26M1701.6 709.2h26M1714.6 696.2v26M1774.9 675.1h26M1787.9 662.1v26M1848.2 641h26M1861.2 628v26M1921.5 606.9h26M1934.5 593.9v26M1994.8 572.7h26M2007.8 559.7v26M2068.1 538.3h26M2081.1 525.3v26M2141.3 503.8h26M2154.3 490.8v26M2214.6 469.2h26M2227.6 456.2v26M2287.9 434.4h26M2300.9 421.4v26" stroke="#A08C84" stroke-width="2.3" fill="none"/>
<path d="M1730 707.7L1772.4 688.2M1803.3 674.1L1845.7 654.7M1876.6 640.5L1919 621M1949.9 606.8L1992.3 587.2M2023.2 572.9L2065.6 553.3M2096.5 539L2138.9 519.3M2169.8 504.9L2212.2 485.1M2243 470.7L2285.5 450.8" stroke="#F03040" stroke-width="4" fill="none"/>
<path d="M1409.2 849.9l21.0 21.0M1409.2 870.9l21.0 -21.0M1412.1 848.3l21.0 21.0M1412.1 869.3l21.0 -21.0M1415.1 846.6l21.0 21.0M1415.1 867.6l21.0 -21.0M1418 845l21.0 21.0M1418 866l21.0 -21.0M1421 843.3l21.0 21.0M1421 864.3l21.0 -21.0M1423.9 841.7l21.0 21.0M1423.9 862.7l21.0 -21.0M1426.9 840l21.0 21.0M1426.9 861l21.0 -21.0M1429.8 838.4l21.0 21.0M1429.8 859.4l21.0 -21.0M1432.8 836.7l21.0 21.0M1432.8 857.7l21.0 -21.0M1435.7 835.1l21.0 21.0M1435.7 856.1l21.0 -21.0M1438.7 833.4l21.0 21.0M1438.7 854.4l21.0 -21.0M1441.6 831.8l21.0 21.0M1441.6 852.8l21.0 -21.0M1444.6 830.2l21.0 21.0M1444.6 851.2l21.0 -21.0M1446.1 829.3l21.0 21.0M1446.1 850.3l21.0 -21.0M1453.4 825.3l21.0 21.0M1453.4 846.3l21.0 -21.0M1460.8 821.3l21.0 21.0M1460.8 842.3l21.0 -21.0M1468.2 817.3l21.0 21.0M1468.2 838.3l21.0 -21.0M1475.5 813.3l21.0 21.0M1475.5 834.3l21.0 -21.0M1482.9 809.4l21.0 21.0M1482.9 830.4l21.0 -21.0M1497.7 801.8l21.0 21.0M1497.7 822.8l21.0 -21.0M1512.4 794.2l21.0 21.0M1512.4 815.2l21.0 -21.0M1527.2 786.9l21.0 21.0M1527.2 807.9l21.0 -21.0M1541.9 779.6l21.0 21.0M1541.9 800.6l21.0 -21.0M1556.6 772.5l21.0 21.0M1556.6 793.5l21.0 -21.0M1586.1 758.5l21.0 21.0M1586.1 779.5l21.0 -21.0M1615.6 744.7l21.0 21.0M1615.6 765.7l21.0 -21.0M1645.1 731.2l21.0 21.0M1645.1 752.2l21.0 -21.0M1674.6 717.7l21.0 21.0M1674.6 738.7l21.0 -21.0M1704.1 704.2l21.0 21.0M1704.1 725.2l21.0 -21.0M1777.4 670.7l21.0 21.0M1777.4 691.7l21.0 -21.0M1850.7 637.1l21.0 21.0M1850.7 658.1l21.0 -21.0M1924 603.4l21.0 21.0M1924 624.4l21.0 -21.0M1997.3 569.6l21.0 21.0M1997.3 590.6l21.0 -21.0M2070.6 535.7l21.0 21.0M2070.6 556.7l21.0 -21.0M2143.8 501.6l21.0 21.0M2143.8 522.6l21.0 -21.0M2217.1 467.4l21.0 21.0M2217.1 488.4l21.0 -21.0M2290.4 433.1l21.0 21.0M2290.4 454.1l21.0 -21.0" stroke="#F03040" stroke-width="1.9" stroke-opacity="0.8" fill="none"/>
<path d="M1730.1 713.4L1772.3 694.6M1803.4 680.8L1845.6 662.1M1876.7 648.2L1919 629.3M1950 615.4L1992.3 596.3M2023.2 582.3L2065.6 563.1M2096.5 548.9L2138.9 529.6M2169.8 515.4L2212.2 495.8M2243.1 481.5L2285.5 461.8" stroke="#479E9E" stroke-width="4" fill="none"/>
<path d="M1405.7 862.3h28M1419.7 848.3v28M1408.6 860.7h28M1422.6 846.7v28M1411.6 859.1h28M1425.6 845.1v28M1414.5 857.5h28M1428.5 843.5v28M1417.5 855.9h28M1431.5 841.9v28M1420.4 854.3h28M1434.4 840.3v28M1423.4 852.7h28M1437.4 838.7v28M1426.3 851.1h28M1440.3 837.1v28M1429.3 849.5h28M1443.3 835.5v28M1432.2 847.9h28M1446.2 833.9v28M1435.2 846.3h28M1449.2 832.3v28M1438.1 844.7h28M1452.1 830.7v28M1441.1 843.1h28M1455.1 829.1v28M1442.6 842.3h28M1456.6 828.3v28M1449.9 838.4h28M1463.9 824.4v28M1457.3 834.5h28M1471.3 820.5v28M1464.7 830.6h28M1478.7 816.6v28M1472 826.7h28M1486 812.7v28M1479.4 822.9h28M1493.4 808.9v28M1494.2 815.4h28M1508.2 801.4v28M1508.9 808h28M1522.9 794v28M1523.7 800.8h28M1537.7 786.8v28M1538.4 793.6h28M1552.4 779.6v28M1553.1 786.7h28M1567.1 772.7v28M1582.6 773h28M1596.6 759v28M1612.1 759.6h28M1626.1 745.6v28M1641.6 746.4h28M1655.6 732.4v28M1671.1 733.3h28M1685.1 719.3v28M1700.6 720.3h28M1714.6 706.3v28M1773.9 687.7h28M1787.9 673.7v28M1847.2 655.2h28M1861.2 641.2v28M1920.5 622.3h28M1934.5 608.3v28M1993.8 589.3h28M2007.8 575.3v28M2067.1 556h28M2081.1 542v28M2140.3 522.5h28M2154.3 508.5v28M2213.6 488.7h28M2227.6 474.7v28M2286.9 454.7h28M2300.9 440.7v28" stroke="#479E9E" stroke-width="2.5" fill="none"/>
<path d="M1409.2 851.8l21.0 21.0M1409.2 872.8l21.0 -21.0M1412.1 850.2l21.0 21.0M1412.1 871.2l21.0 -21.0M1415.1 848.6l21.0 21.0M1415.1 869.6l21.0 -21.0M1418 847l21.0 21.0M1418 868l21.0 -21.0M1421 845.4l21.0 21.0M1421 866.4l21.0 -21.0M1423.9 843.8l21.0 21.0M1423.9 864.8l21.0 -21.0M1426.9 842.2l21.0 21.0M1426.9 863.2l21.0 -21.0M1429.8 840.6l21.0 21.0M1429.8 861.6l21.0 -21.0M1432.8 839l21.0 21.0M1432.8 860l21.0 -21.0M1435.7 837.4l21.0 21.0M1435.7 858.4l21.0 -21.0M1438.7 835.8l21.0 21.0M1438.7 856.8l21.0 -21.0M1441.6 834.2l21.0 21.0M1441.6 855.2l21.0 -21.0M1444.6 832.6l21.0 21.0M1444.6 853.6l21.0 -21.0M1446.1 831.8l21.0 21.0M1446.1 852.8l21.0 -21.0M1453.4 827.9l21.0 21.0M1453.4 848.9l21.0 -21.0M1460.8 824l21.0 21.0M1460.8 845l21.0 -21.0M1468.2 820.1l21.0 21.0M1468.2 841.1l21.0 -21.0M1475.5 816.2l21.0 21.0M1475.5 837.2l21.0 -21.0M1482.9 812.4l21.0 21.0M1482.9 833.4l21.0 -21.0M1497.7 804.9l21.0 21.0M1497.7 825.9l21.0 -21.0M1512.4 797.5l21.0 21.0M1512.4 818.5l21.0 -21.0M1527.2 790.3l21.0 21.0M1527.2 811.3l21.0 -21.0M1541.9 783.1l21.0 21.0M1541.9 804.1l21.0 -21.0M1556.6 776.2l21.0 21.0M1556.6 797.2l21.0 -21.0M1586.1 762.5l21.0 21.0M1586.1 783.5l21.0 -21.0M1615.6 749.1l21.0 21.0M1615.6 770.1l21.0 -21.0M1645.1 735.9l21.0 21.0M1645.1 756.9l21.0 -21.0M1674.6 722.8l21.0 21.0M1674.6 743.8l21.0 -21.0M1704.1 709.8l21.0 21.0M1704.1 730.8l21.0 -21.0M1777.4 677.2l21.0 21.0M1777.4 698.2l21.0 -21.0M1850.7 644.7l21.0 21.0M1850.7 665.7l21.0 -21.0M1924 611.8l21.0 21.0M1924 632.8l21.0 -21.0M1997.3 578.8l21.0 21.0M1997.3 599.8l21.0 -21.0M2070.6 545.5l21.0 21.0M2070.6 566.5l21.0 -21.0M2143.8 512l21.0 21.0M2143.8 533l21.0 -21.0M2217.1 478.2l21.0 21.0M2217.1 499.2l21.0 -21.0M2290.4 444.2l21.0 21.0M2290.4 465.2l21.0 -21.0" stroke="#479E9E" stroke-width="1.7" stroke-opacity="0.6" fill="none"/>
<path d="M1730.1 717.1L1772.3 698.5M1803.4 684.8L1845.6 666.3M1876.7 652.6L1918.9 634.1M1950 620.3L1992.2 601.7M2023.3 587.9L2065.5 569.2M2096.6 555.4L2138.8 536.6M2169.9 522.7L2212.1 503.8M2243.1 489.9L2285.4 470.9" stroke="#E0A000" stroke-width="4" fill="none"/>
<path d="M1405.7 864.1h28M1408.6 862.6h28M1411.6 861.1h28M1414.5 859.5h28M1417.5 858h28M1420.4 856.5h28M1423.4 854.9h28M1426.3 853.4h28M1429.3 851.9h28M1432.2 850.3h28M1435.2 848.8h28M1438.1 847.3h28M1441.1 845.7h28M1442.6 845h28M1449.9 841.2h28M1457.3 837.4h28M1464.7 833.6h28M1472 829.9h28M1479.4 826.2h28M1494.2 818.8h28M1508.9 811.6h28M1523.7 804.4h28M1538.4 797.3h28M1553.1 790.4h28M1582.6 776.7h28M1612.1 763.2h28M1641.6 750h28M1671.1 737h28M1700.6 724h28M1773.9 691.7h28M1847.2 659.5h28M1920.5 627.2h28M1993.8 594.8h28M2067.1 562.3h28M2140.3 529.7h28M2213.6 496.8h28M2286.9 463.9h28" stroke="#E0A000" stroke-width="3.6" fill="none"/>
<path d="M1730.1 720.8L1772.3 702M1803.4 688.3L1845.6 669.7M1876.7 656L1918.9 637.4M1950 623.8L1992.2 605.3M2023.3 591.7L2065.5 573.4M2096.6 559.8L2138.8 541.5M2169.9 527.9L2212 509.7M2243.2 496.2L2285.3 478" stroke="#FF0000" stroke-width="4" fill="none"/>
<path d="M1419.7 852v28M1422.6 850.5v28M1425.6 849v28M1428.5 847.5v28M1431.5 846v28M1434.4 844.5v28M1437.4 843v28M1440.3 841.5v28M1443.3 840v28M1446.2 838.6v28M1449.2 837.1v28M1452.1 835.6v28M1455.1 834.1v28M1456.6 833.4v28M1463.9 829.7v28M1471.3 826v28M1478.7 822.4v28M1486 818.7v28M1493.4 815.1v28M1508.2 807.9v28M1522.9 800.9v28M1537.7 793.8v28M1552.4 786.9v28M1567.1 780v28M1596.6 766.5v28M1626.1 753.1v28M1655.6 739.9v28M1685.1 726.7v28M1714.6 713.6v28M1787.9 681.1v28M1861.2 648.8v28M1934.5 616.6v28M2007.8 584.5v28M2081.1 552.6v28M2154.3 520.7v28M2227.6 488.9v28M2300.9 457.3v28" stroke="#FF0000" stroke-width="3.6" fill="none"/>
<path d="M1730.1 722.6L1772.3 704.1M1803.5 690.4L1845.6 672.1M1876.8 658.6L1918.9 640.4M1950.1 626.9L1992.1 608.9M2023.4 595.6L2065.4 577.7M2096.7 564.4L2138.7 546.6M2170 533.4L2212 515.8M2243.3 502.7L2285.2 485.2" stroke="#105FA0" stroke-width="4" fill="none"/>
<path d="M1407.7 854.9h24v24h-24zM1410.6 853.4h24v24h-24zM1413.6 852h24v24h-24zM1416.5 850.5h24v24h-24zM1419.5 849.1h24v24h-24zM1422.4 847.6h24v24h-24zM1425.4 846.2h24v24h-24zM1428.3 844.7h24v24h-24zM1431.3 843.3h24v24h-24zM1434.2 841.8h24v24h-24zM1437.2 840.4h24v24h-24zM1440.1 838.9h24v24h-24zM1443.1 837.5h24v24h-24zM1444.6 836.7h24v24h-24zM1451.9 833.1h24v24h-24zM1459.3 829.5h24v24h-24zM1466.7 825.9h24v24h-24zM1474 822.4h24v24h-24zM1481.4 818.8h24v24h-24zM1496.2 811.7h24v24h-24zM1510.9 804.7h24v24h-24zM1525.7 797.7h24v24h-24zM1540.4 790.8h24v24h-24zM1555.1 783.9h24v24h-24zM1584.6 770.3h24v24h-24zM1614.1 756.9h24v24h-24zM1643.6 743.7h24v24h-24zM1673.1 730.5h24v24h-24zM1702.6 717.5h24v24h-24zM1775.9 685.2h24v24h-24zM1849.2 653.3h24v24h-24zM1922.5 621.6h24v24h-24zM1995.8 590.2h24v24h-24zM2069.1 559h24v24h-24zM2142.3 528h24v24h-24zM2215.6 497.2h24v24h-24zM2288.9 466.6h24v24h-24z" fill="#105FA0"/>
<path d="M1730.2 724.8L1772.3 706.5M1803.5 692.9L1845.6 674.8M1876.8 661.4L1918.8 643.4M1950.1 630L1992.1 612.1M2023.4 598.9L2065.4 581.1M2096.7 567.8L2138.7 550.1M2170 536.9L2212 519.3M2243.3 506.1L2285.3 488.6" stroke="#FFC200" stroke-width="4" fill="none"/>
<path d="M1406 867.5a13.75 13.75 0 1 0 27.5 0a13.75 13.75 0 1 0 -27.5 0zM1408.9 866.1a13.75 13.75 0 1 0 27.5 0a13.75 13.75 0 1 0 -27.5 0zM1411.8 864.7a13.75 13.75 0 1 0 27.5 0a13.75 13.75 0 1 0 -27.5 0zM1414.8 863.2a13.75 13.75 0 1 0 27.5 0a13.75 13.75 0 1 0 -27.5 0zM1417.7 861.8a13.75 13.75 0 1 0 27.5 0a13.75 13.75 0 1 0 -27.5 0zM1420.7 860.4a13.75 13.75 0 1 0 27.5 0a13.75 13.75 0 1 0 -27.5 0zM1423.6 858.9a13.75 13.75 0 1 0 27.5 0a13.75 13.75 0 1 0 -27.5 0zM1426.6 857.5a13.75 13.75 0 1 0 27.5 0a13.75 13.75 0 1 0 -27.5 0zM1429.5 856a13.75 13.75 0 1 0 27.5 0a13.75 13.75 0 1 0 -27.5 0zM1432.5 854.6a13.75 13.75 0 1 0 27.5 0a13.75 13.75 0 1 0 -27.5 0zM1435.4 853.2a13.75 13.75 0 1 0 27.5 0a13.75 13.75 0 1 0 -27.5 0zM1438.4 851.8a13.75 13.75 0 1 0 27.5 0a13.75 13.75 0 1 0 -27.5 0zM1441.3 850.3a13.75 13.75 0 1 0 27.5 0a13.75 13.75 0 1 0 -27.5 0zM1442.8 849.6a13.75 13.75 0 1 0 27.5 0a13.75 13.75 0 1 0 -27.5 0zM1450.2 846a13.75 13.75 0 1 0 27.5 0a13.75 13.75 0 1 0 -27.5 0zM1457.6 842.5a13.75 13.75 0 1 0 27.5 0a13.75 13.75 0 1 0 -27.5 0zM1464.9 838.9a13.75 13.75 0 1 0 27.5 0a13.75 13.75 0 1 0 -27.5 0zM1472.3 835.4a13.75 13.75 0 1 0 27.5 0a13.75 13.75 0 1 0 -27.5 0zM1479.7 831.9a13.75 13.75 0 1 0 27.5 0a13.75 13.75 0 1 0 -27.5 0zM1494.4 824.8a13.75 13.75 0 1 0 27.5 0a13.75 13.75 0 1 0 -27.5 0zM1509.2 817.9a13.75 13.75 0 1 0 27.5 0a13.75 13.75 0 1 0 -27.5 0zM1523.9 811a13.75 13.75 0 1 0 27.5 0a13.75 13.75 0 1 0 -27.5 0zM1538.6 804.1a13.75 13.75 0 1 0 27.5 0a13.75 13.75 0 1 0 -27.5 0zM1553.4 797.3a13.75 13.75 0 1 0 27.5 0a13.75 13.75 0 1 0 -27.5 0zM1582.9 783.9a13.75 13.75 0 1 0 27.5 0a13.75 13.75 0 1 0 -27.5 0zM1612.4 770.6a13.75 13.75 0 1 0 27.5 0a13.75 13.75 0 1 0 -27.5 0zM1641.9 757.5a13.75 13.75 0 1 0 27.5 0a13.75 13.75 0 1 0 -27.5 0zM1671.3 744.5a13.75 13.75 0 1 0 27.5 0a13.75 13.75 0 1 0 -27.5 0zM1700.8 731.6a13.75 13.75 0 1 0 27.5 0a13.75 13.75 0 1 0 -27.5 0zM1774.1 699.7a13.75 13.75 0 1 0 27.5 0a13.75 13.75 0 1 0 -27.5 0zM1847.4 668.1a13.75 13.75 0 1 0 27.5 0a13.75 13.75 0 1 0 -27.5 0zM1920.7 636.7a13.75 13.75 0 1 0 27.5 0a13.75 13.75 0 1 0 -27.5 0zM1994 605.5a13.75 13.75 0 1 0 27.5 0a13.75 13.75 0 1 0 -27.5 0zM2067.3 574.4a13.75 13.75 0 1 0 27.5 0a13.75 13.75 0 1 0 -27.5 0zM2140.6 543.5a13.75 13.75 0 1 0 27.5 0a13.75 13.75 0 1 0 -27.5 0zM2213.9 512.7a13.75 13.75 0 1 0 27.5 0a13.75 13.75 0 1 0 -27.5 0zM2287.2 482a13.75 13.75 0 1 0 27.5 0a13.75 13.75 0 1 0 -27.5 0z" fill="#FFC200"/>
<path d="M1730.2 726.9L1772.3 708.8M1803.5 695.4L1845.5 677.5M1876.8 664.2L1918.8 646.4M1950.1 633.1L1992.1 615.4M2023.4 602.1L2065.4 584.4M2096.7 571.2L2138.7 553.6M2170 540.4L2212 522.8M2243.3 509.6L2285.3 492" stroke="#00C06E" stroke-width="4" fill="none"/>
<path d="M1419.7 854.7l15.5 27h-31zM1422.6 853.3l15.5 27h-31zM1425.6 851.8l15.5 27h-31zM1428.5 850.4l15.5 27h-31zM1431.5 849l15.5 27h-31zM1434.4 847.6l15.5 27h-31zM1437.4 846.2l15.5 27h-31zM1440.3 844.8l15.5 27h-31zM1443.3 843.3l15.5 27h-31zM1446.2 841.9l15.5 27h-31zM1449.2 840.5l15.5 27h-31zM1452.1 839.1l15.5 27h-31zM1455.1 837.7l15.5 27h-31zM1456.6 837l15.5 27h-31zM1463.9 833.4l15.5 27h-31zM1471.3 829.9l15.5 27h-31zM1478.7 826.4l15.5 27h-31zM1486 822.9l15.5 27h-31zM1493.4 819.4l15.5 27h-31zM1508.2 812.5l15.5 27h-31zM1522.9 805.6l15.5 27h-31zM1537.7 798.8l15.5 27h-31zM1552.4 792l15.5 27h-31zM1567.1 785.2l15.5 27h-31zM1596.6 771.9l15.5 27h-31zM1626.1 758.8l15.5 27h-31zM1655.6 745.8l15.5 27h-31zM1685.1 732.9l15.5 27h-31zM1714.6 720.2l15.5 27h-31zM1787.9 688.6l15.5 27h-31zM1861.2 657.3l15.5 27h-31zM1934.5 626.2l15.5 27h-31zM2007.8 595.2l15.5 27h-31zM2081.1 564.3l15.5 27h-31zM2154.3 533.5l15.5 27h-31zM2227.6 502.7l15.5 27h-31zM2300.9 472l15.5 27h-31z" fill="#00C06E"/>
<path d="M1730.2 729.1L1772.2 711.2M1803.5 697.9L1845.5 680.2M1876.8 667L1918.8 649.4M1950.1 636.2L1992.1 618.6M2023.4 605.4L2065.4 587.8M2096.7 574.7L2138.7 557.1M2170 543.9L2212 526.3M2243.3 513.1L2285.3 495.4" stroke="#6464A2" stroke-width="4" fill="none"/>
<path d="M1419.7 882.3l15.5 -27h-31zM1422.6 880.9l15.5 -27h-31zM1425.6 879.5l15.5 -27h-31zM1428.5 878.1l15.5 -27h-31zM1431.5 876.7l15.5 -27h-31zM1434.4 875.3l15.5 -27h-31zM1437.4 873.9l15.5 -27h-31zM1440.3 872.5l15.5 -27h-31zM1443.3 871.1l15.5 -27h-31zM1446.2 869.7l15.5 -27h-31zM1449.2 868.3l15.5 -27h-31zM1452.1 866.9l15.5 -27h-31zM1455.1 865.5l15.5 -27h-31zM1456.6 864.8l15.5 -27h-31zM1463.9 861.4l15.5 -27h-31zM1471.3 857.9l15.5 -27h-31zM1478.7 854.4l15.5 -27h-31zM1486 851l15.5 -27h-31zM1493.4 847.5l15.5 -27h-31zM1508.2 840.6l15.5 -27h-31zM1522.9 833.8l15.5 -27h-31zM1537.7 827l15.5 -27h-31zM1552.4 820.3l15.5 -27h-31zM1567.1 813.6l15.5 -27h-31zM1596.6 800.5l15.5 -27h-31zM1626.1 787.4l15.5 -27h-31zM1655.6 774.6l15.5 -27h-31zM1685.1 761.9l15.5 -27h-31zM1714.6 749.2l15.5 -27h-31zM1787.9 718l15.5 -27h-31zM1861.2 687.1l15.5 -27h-31zM1934.5 656.3l15.5 -27h-31zM2007.8 625.5l15.5 -27h-31zM2081.1 594.7l15.5 -27h-31zM2154.3 564l15.5 -27h-31zM2227.6 533.2l15.5 -27h-31zM2300.9 502.4l15.5 -27h-31z" fill="#6464A2"/>
<path d="M1730.3 731.2L1772.2 713.6M1803.6 700.4L1845.5 682.9M1876.9 669.8L1918.8 652.3M1950.2 639.3L1992.1 621.8M2023.4 608.7L2065.4 591.2M2096.7 578.1L2138.7 560.5M2170 547.4L2212 529.8M2243.3 516.6L2285.3 498.9" stroke="#999999" stroke-width="4" fill="none"/>
<path d="M1419.7 853l16.5 16.5l-16.5 16.5l-16.5 -16.5zM1422.6 851.6l16.5 16.5l-16.5 16.5l-16.5 -16.5zM1425.6 850.2l16.5 16.5l-16.5 16.5l-16.5 -16.5zM1428.5 848.8l16.5 16.5l-16.5 16.5l-16.5 -16.5zM1431.5 847.4l16.5 16.5l-16.5 16.5l-16.5 -16.5zM1434.4 846l16.5 16.5l-16.5 16.5l-16.5 -16.5zM1437.4 844.7l16.5 16.5l-16.5 16.5l-16.5 -16.5zM1440.3 843.3l16.5 16.5l-16.5 16.5l-16.5 -16.5zM1443.3 841.9l16.5 16.5l-16.5 16.5l-16.5 -16.5zM1446.2 840.5l16.5 16.5l-16.5 16.5l-16.5 -16.5zM1449.2 839.1l16.5 16.5l-16.5 16.5l-16.5 -16.5zM1452.1 837.8l16.5 16.5l-16.5 16.5l-16.5 -16.5zM1455.1 836.4l16.5 16.5l-16.5 16.5l-16.5 -16.5zM1456.6 835.7l16.5 16.5l-16.5 16.5l-16.5 -16.5zM1463.9 832.3l16.5 16.5l-16.5 16.5l-16.5 -16.5zM1471.3 828.8l16.5 16.5l-16.5 16.5l-16.5 -16.5zM1478.7 825.4l16.5 16.5l-16.5 16.5l-16.5 -16.5zM1486 822l16.5 16.5l-16.5 16.5l-16.5 -16.5zM1493.4 818.6l16.5 16.5l-16.5 16.5l-16.5 -16.5zM1508.2 811.8l16.5 16.5l-16.5 16.5l-16.5 -16.5zM1522.9 805l16.5 16.5l-16.5 16.5l-16.5 -16.5zM1537.7 798.3l16.5 16.5l-16.5 16.5l-16.5 -16.5zM1552.4 791.7l16.5 16.5l-16.5 16.5l-16.5 -16.5zM1567.1 785.1l16.5 16.5l-16.5 16.5l-16.5 -16.5zM1596.6 772l16.5 16.5l-16.5 16.5l-16.5 -16.5zM1626.1 759.1l16.5 16.5l-16.5 16.5l-16.5 -16.5zM1655.6 746.4l16.5 16.5l-16.5 16.5l-16.5 -16.5zM1685.1 733.8l16.5 16.5l-16.5 16.5l-16.5 -16.5zM1714.6 721.3l16.5 16.5l-16.5 16.5l-16.5 -16.5zM1787.9 690.5l16.5 16.5l-16.5 16.5l-16.5 -16.5zM1861.2 659.9l16.5 16.5l-16.5 16.5l-16.5 -16.5zM1934.5 629.3l16.5 16.5l-16.5 16.5l-16.5 -16.5zM2007.8 598.8l16.5 16.5l-16.5 16.5l-16.5 -16.5zM2081.1 568.2l16.5 16.5l-16.5 16.5l-16.5 -16.5zM2154.3 537.5l16.5 16.5l-16.5 16.5l-16.5 -16.5zM2227.6 506.7l16.5 16.5l-16.5 16.5l-16.5 -16.5zM2300.9 475.8l16.5 16.5l-16.5 16.5l-16.5 -16.5z" fill="#999999"/>
<path d="M1730.3 733.4L1772.2 715.9M1803.6 702.9L1845.5 685.6M1876.9 672.6L1918.8 655.3M1950.2 642.3L1992.1 625M2023.5 612L2065.4 594.6M2096.7 581.5L2138.7 564M2170 550.9L2212 533.2M2243.3 520L2285.3 502.3" stroke="#FF6666" stroke-width="4" fill="none"/>
<path d="M1405.9 870.1l27.6 -15.5v31zM1408.8 868.7l27.6 -15.5v31zM1411.8 867.4l27.6 -15.5v31zM1414.7 866l27.6 -15.5v31zM1417.7 864.6l27.6 -15.5v31zM1420.6 863.3l27.6 -15.5v31zM1423.6 861.9l27.6 -15.5v31zM1426.5 860.6l27.6 -15.5v31zM1429.5 859.2l27.6 -15.5v31zM1432.4 857.8l27.6 -15.5v31zM1435.4 856.5l27.6 -15.5v31zM1438.3 855.1l27.6 -15.5v31zM1441.3 853.7l27.6 -15.5v31zM1442.8 853.1l27.6 -15.5v31zM1450.1 849.7l27.6 -15.5v31zM1457.5 846.3l27.6 -15.5v31zM1464.9 842.9l27.6 -15.5v31zM1472.2 839.5l27.6 -15.5v31zM1479.6 836.1l27.6 -15.5v31zM1494.4 829.4l27.6 -15.5v31zM1509.1 822.7l27.6 -15.5v31zM1523.9 816.1l27.6 -15.5v31zM1538.6 809.5l27.6 -15.5v31zM1553.3 803l27.6 -15.5v31zM1582.8 790.1l27.6 -15.5v31zM1612.3 777.3l27.6 -15.5v31zM1641.8 764.7l27.6 -15.5v31zM1671.3 752.3l27.6 -15.5v31zM1700.8 739.9l27.6 -15.5v31zM1774.1 709.4l27.6 -15.5v31zM1847.4 679.1l27.6 -15.5v31zM1920.7 648.8l27.6 -15.5v31zM1994 618.5l27.6 -15.5v31zM2067.3 588.1l27.6 -15.5v31zM2140.5 557.5l27.6 -15.5v31zM2213.8 526.7l27.6 -15.5v31zM2287.1 495.7l27.6 -15.5v31z" fill="#FF6666"/>
<path d="M1730.3 735.5L1772.2 718.3M1803.6 705.4L1845.4 688.3M1876.9 675.4L1918.7 658.3M1950.2 645.4L1992 628.3M2023.5 615.3L2065.3 598M2096.7 585L2138.7 567.5M2170 554.4L2212 536.7M2243.3 523.5L2285.3 505.7" stroke="#4499DD" stroke-width="4" fill="none"/>
<path d="M1433.5 870.7l-27.6 -15.5v31zM1436.4 869.4l-27.6 -15.5v31zM1439.4 868l-27.6 -15.5v31zM1442.3 866.7l-27.6 -15.5v31zM1445.3 865.4l-27.6 -15.5v31zM1448.2 864l-27.6 -15.5v31zM1451.2 862.7l-27.6 -15.5v31zM1454.1 861.3l-27.6 -15.5v31zM1457.1 860l-27.6 -15.5v31zM1460 858.6l-27.6 -15.5v31zM1463 857.3l-27.6 -15.5v31zM1465.9 855.9l-27.6 -15.5v31zM1468.9 854.6l-27.6 -15.5v31zM1470.4 853.9l-27.6 -15.5v31zM1477.7 850.6l-27.6 -15.5v31zM1485.1 847.2l-27.6 -15.5v31zM1492.5 843.9l-27.6 -15.5v31zM1499.8 840.5l-27.6 -15.5v31zM1507.2 837.2l-27.6 -15.5v31zM1522 830.6l-27.6 -15.5v31zM1536.7 824l-27.6 -15.5v31zM1551.5 817.4l-27.6 -15.5v31zM1566.2 810.9l-27.6 -15.5v31zM1580.9 804.4l-27.6 -15.5v31zM1610.4 791.6l-27.6 -15.5v31zM1639.9 779l-27.6 -15.5v31zM1669.4 766.5l-27.6 -15.5v31zM1698.9 754.2l-27.6 -15.5v31zM1728.4 742l-27.6 -15.5v31zM1801.7 711.8l-27.6 -15.5v31zM1875 681.9l-27.6 -15.5v31zM1948.3 651.9l-27.6 -15.5v31zM2021.6 621.8l-27.6 -15.5v31zM2094.9 591.5l-27.6 -15.5v31zM2168.1 561l-27.6 -15.5v31zM2241.4 530.1l-27.6 -15.5v31zM2314.7 499.1l-27.6 -15.5v31z" fill="#4499DD"/>
<path d="M1730.3 737.7L1772.1 720.7M1803.6 707.9L1845.4 691M1876.9 678.2L1918.7 661.3M1950.2 648.5L1992 631.5M2023.5 618.6L2065.3 601.4M2096.8 588.4L2138.7 571M2170 557.9L2212 540.2M2243.3 527L2285.3 509.1" stroke="#E86C00" stroke-width="4" fill="none"/>
<path d="M1419.7 856.6L1432.5 864L1432.5 878.8L1419.7 886.2L1406.9 878.8L1406.9 864zM1422.6 855.2L1435.5 862.6L1435.5 877.4L1422.6 884.8L1409.8 877.4L1409.8 862.6zM1425.6 853.9L1438.4 861.3L1438.4 876.1L1425.6 883.5L1412.8 876.1L1412.8 861.3zM1428.5 852.6L1441.4 860L1441.4 874.8L1428.5 882.2L1415.7 874.8L1415.7 860zM1431.5 851.3L1444.3 858.7L1444.3 873.5L1431.5 880.9L1418.7 873.5L1418.7 858.7zM1434.4 849.9L1447.3 857.3L1447.3 872.1L1434.4 879.5L1421.6 872.1L1421.6 857.3zM1437.4 848.6L1450.2 856L1450.2 870.8L1437.4 878.2L1424.6 870.8L1424.6 856zM1440.3 847.3L1453.2 854.7L1453.2 869.5L1440.3 876.9L1427.5 869.5L1427.5 854.7zM1443.3 846L1456.1 853.4L1456.1 868.2L1443.3 875.6L1430.5 868.2L1430.5 853.4zM1446.2 844.6L1459.1 852L1459.1 866.8L1446.2 874.2L1433.4 866.8L1433.4 852zM1449.2 843.3L1462 850.7L1462 865.5L1449.2 872.9L1436.4 865.5L1436.4 850.7zM1452.1 842L1465 849.4L1465 864.2L1452.1 871.6L1439.3 864.2L1439.3 849.4zM1455.1 840.6L1467.9 848L1467.9 862.8L1455.1 870.2L1442.3 862.8L1442.3 848zM1456.6 840L1469.4 847.4L1469.4 862.2L1456.6 869.6L1443.7 862.2L1443.7 847.4zM1463.9 836.7L1476.8 844.1L1476.8 858.9L1463.9 866.3L1451.1 858.9L1451.1 844.1zM1471.3 833.4L1484.1 840.8L1484.1 855.6L1471.3 863L1458.5 855.6L1458.5 840.8zM1478.7 830.1L1491.5 837.5L1491.5 852.3L1478.7 859.7L1465.9 852.3L1465.9 837.5zM1486 826.8L1498.9 834.2L1498.9 849L1486 856.4L1473.2 849L1473.2 834.2zM1493.4 823.5L1506.2 830.9L1506.2 845.7L1493.4 853.1L1480.6 845.7L1480.6 830.9zM1508.2 816.9L1521 824.3L1521 839.1L1508.2 846.5L1495.3 839.1L1495.3 824.3zM1522.9 810.4L1535.7 817.8L1535.7 832.6L1522.9 840L1510.1 832.6L1510.1 817.8zM1537.7 803.9L1550.5 811.3L1550.5 826.1L1537.7 833.5L1524.8 826.1L1524.8 811.3zM1552.4 797.4L1565.2 804.8L1565.2 819.6L1552.4 827L1539.6 819.6L1539.6 804.8zM1567.1 791L1580 798.4L1580 813.2L1567.1 820.6L1554.3 813.2L1554.3 798.4zM1596.6 778.4L1609.4 785.8L1609.4 800.6L1596.6 808L1583.8 800.6L1583.8 785.8zM1626.1 765.9L1638.9 773.3L1638.9 788.1L1626.1 795.5L1613.3 788.1L1613.3 773.3zM1655.6 753.6L1668.4 761L1668.4 775.8L1655.6 783.2L1642.8 775.8L1642.8 761zM1685.1 741.4L1697.9 748.8L1697.9 763.6L1685.1 771L1672.3 763.6L1672.3 748.8zM1714.6 729.3L1727.4 736.7L1727.4 751.5L1714.6 758.9L1701.8 751.5L1701.8 736.7zM1787.9 699.5L1800.7 706.9L1800.7 721.7L1787.9 729.1L1775.1 721.7L1775.1 706.9zM1861.2 669.8L1874 677.2L1874 692L1861.2 699.4L1848.4 692L1848.4 677.2zM1934.5 640.1L1947.3 647.5L1947.3 662.3L1934.5 669.7L1921.7 662.3L1921.7 647.5zM2007.8 610.3L2020.6 617.7L2020.6 632.5L2007.8 639.9L1994.9 632.5L1994.9 617.7zM2081.1 580.1L2093.9 587.5L2093.9 602.3L2081.1 609.7L2068.2 602.3L2068.2 587.5zM2154.3 549.7L2167.2 557.1L2167.2 571.9L2154.3 579.3L2141.5 571.9L2141.5 557.1zM2227.6 518.8L2240.5 526.2L2240.5 541L2227.6 548.4L2214.8 541L2214.8 526.2zM2300.9 487.7L2313.8 495.1L2313.8 509.9L2300.9 517.3L2288.1 509.9L2288.1 495.1z" fill="#E86C00"/>
<path d="M1730.4 739.8L1772.1 723M1803.7 710.4L1845.4 693.7M1876.9 681L1918.7 664.3M1950.2 651.6L1992 634.7M2023.5 621.9L2065.3 604.8M2096.8 591.8L2138.6 574.5M2170 561.4L2212 543.7M2243.3 530.5L2285.3 512.6" stroke="#009E9E" stroke-width="4" fill="none"/>
<path d="M1419.7 858L1423.7 867.5L1434 868.4L1426.2 875.1L1428.5 885.1L1419.7 879.8L1410.9 885.1L1413.2 875.1L1405.4 868.4L1415.7 867.5zM1422.6 856.7L1426.6 866.2L1436.9 867.1L1429.1 873.8L1431.5 883.8L1422.6 878.5L1413.8 883.8L1416.2 873.8L1408.4 867.1L1418.7 866.2zM1425.6 855.4L1429.6 864.9L1439.9 865.8L1432.1 872.5L1434.4 882.5L1425.6 877.2L1416.8 882.5L1419.1 872.5L1411.3 865.8L1421.6 864.9zM1428.5 854.1L1432.5 863.6L1442.8 864.4L1435 871.2L1437.4 881.2L1428.5 875.9L1419.7 881.2L1422.1 871.2L1414.3 864.4L1424.5 863.6zM1431.5 852.8L1435.5 862.3L1445.8 863.1L1438 869.9L1440.3 879.9L1431.5 874.6L1422.7 879.9L1425 869.9L1417.2 863.1L1427.5 862.3zM1434.4 851.5L1438.4 861L1448.7 861.8L1440.9 868.6L1443.3 878.6L1434.4 873.3L1425.6 878.6L1428 868.6L1420.2 861.8L1430.4 861zM1437.4 850.2L1441.4 859.7L1451.7 860.5L1443.9 867.3L1446.2 877.3L1437.4 872L1428.6 877.3L1430.9 867.3L1423.1 860.5L1433.4 859.7zM1440.3 848.8L1444.3 858.3L1454.6 859.2L1446.8 866L1449.2 876L1440.3 870.6L1431.5 876L1433.9 866L1426.1 859.2L1436.3 858.3zM1443.3 847.5L1447.3 857L1457.6 857.9L1449.8 864.6L1452.1 874.7L1443.3 869.3L1434.5 874.7L1436.8 864.6L1429 857.9L1439.3 857zM1446.2 846.2L1450.2 855.7L1460.5 856.6L1452.7 863.3L1455.1 873.4L1446.2 868L1437.4 873.4L1439.8 863.3L1432 856.6L1442.2 855.7zM1449.2 844.9L1453.2 854.4L1463.5 855.3L1455.7 862L1458 872.1L1449.2 866.7L1440.4 872.1L1442.7 862L1434.9 855.3L1445.2 854.4zM1452.1 843.6L1456.1 853.1L1466.4 854L1458.6 860.7L1461 870.7L1452.1 865.4L1443.3 870.7L1445.7 860.7L1437.9 854L1448.1 853.1zM1455.1 842.3L1459.1 851.8L1469.4 852.7L1461.6 859.4L1463.9 869.4L1455.1 864.1L1446.3 869.4L1448.6 859.4L1440.8 852.7L1451.1 851.8zM1456.6 841.6L1460.6 851.1L1470.8 852L1463 858.7L1465.4 868.8L1456.6 863.4L1447.7 868.8L1450.1 858.7L1442.3 852L1452.6 851.1zM1463.9 838.4L1467.9 847.9L1478.2 848.7L1470.4 855.5L1472.7 865.5L1463.9 860.2L1455.1 865.5L1457.5 855.5L1449.7 848.7L1459.9 847.9zM1471.3 835.1L1475.3 844.6L1485.6 845.5L1477.8 852.2L1480.1 862.2L1471.3 856.9L1462.5 862.2L1464.8 852.2L1457 845.5L1467.3 844.6zM1478.7 831.8L1482.7 841.3L1492.9 842.2L1485.1 848.9L1487.5 859L1478.7 853.6L1469.9 859L1472.2 848.9L1464.4 842.2L1474.7 841.3zM1486 828.6L1490 838.1L1500.3 838.9L1492.5 845.7L1494.9 855.7L1486 850.4L1477.2 855.7L1479.6 845.7L1471.8 838.9L1482.1 838.1zM1493.4 825.3L1497.4 834.8L1507.7 835.7L1499.9 842.4L1502.2 852.5L1493.4 847.1L1484.6 852.5L1487 842.4L1479.2 835.7L1489.4 834.8zM1508.2 818.8L1512.2 828.3L1522.4 829.2L1514.6 835.9L1517 846L1508.2 840.6L1499.3 846L1501.7 835.9L1493.9 829.2L1504.2 828.3zM1522.9 812.4L1526.9 821.9L1537.2 822.7L1529.4 829.5L1531.7 839.5L1522.9 834.2L1514.1 839.5L1516.4 829.5L1508.6 822.7L1518.9 821.9zM1537.7 806L1541.7 815.5L1551.9 816.3L1544.1 823.1L1546.5 833.1L1537.7 827.8L1528.8 833.1L1531.2 823.1L1523.4 816.3L1533.7 815.5zM1552.4 799.6L1556.4 809.1L1566.7 809.9L1558.9 816.7L1561.2 826.7L1552.4 821.4L1543.6 826.7L1545.9 816.7L1538.1 809.9L1548.4 809.1zM1567.1 793.2L1571.1 802.7L1581.4 803.6L1573.6 810.3L1576 820.4L1567.1 815L1558.3 820.4L1560.7 810.3L1552.9 803.6L1563.1 802.7zM1596.6 780.7L1600.6 790.2L1610.9 791.1L1603.1 797.8L1605.4 807.8L1596.6 802.5L1587.8 807.8L1590.2 797.8L1582.4 791.1L1592.6 790.2zM1626.1 768.3L1630.1 777.8L1640.4 778.7L1632.6 785.5L1634.9 795.5L1626.1 790.1L1617.3 795.5L1619.7 785.5L1611.9 778.7L1622.1 777.8zM1655.6 756.2L1659.6 765.7L1669.9 766.5L1662.1 773.3L1664.4 783.3L1655.6 778L1646.8 783.3L1649.1 773.3L1641.3 766.5L1651.6 765.7zM1685.1 744.1L1689.1 753.6L1699.4 754.5L1691.6 761.2L1693.9 771.3L1685.1 765.9L1676.3 771.3L1678.6 761.2L1670.8 754.5L1681.1 753.6zM1714.6 732.2L1718.6 741.7L1728.9 742.5L1721.1 749.3L1723.4 759.3L1714.6 754L1705.8 759.3L1708.1 749.3L1700.3 742.5L1710.6 741.7zM1787.9 702.7L1791.9 712.2L1802.1 713L1794.3 719.8L1796.7 729.8L1787.9 724.5L1779.1 729.8L1781.4 719.8L1773.6 713L1783.9 712.2zM1861.2 673.4L1865.2 682.9L1875.4 683.7L1867.6 690.5L1870 700.5L1861.2 695.2L1852.4 700.5L1854.7 690.5L1846.9 683.7L1857.2 682.9zM1934.5 643.9L1938.5 653.4L1948.7 654.3L1940.9 661L1943.3 671.1L1934.5 665.7L1925.7 671.1L1928 661L1920.2 654.3L1930.5 653.4zM2007.8 614.3L2011.8 623.8L2022 624.7L2014.2 631.4L2016.6 641.5L2007.8 636.1L1998.9 641.5L2001.3 631.4L1993.5 624.7L2003.8 623.8zM2081.1 584.3L2085.1 593.8L2095.3 594.7L2087.5 601.4L2089.9 611.5L2081.1 606.1L2072.2 611.5L2074.6 601.4L2066.8 594.7L2077.1 593.8zM2154.3 554L2158.3 563.5L2168.6 564.3L2160.8 571.1L2163.2 581.1L2154.3 575.8L2145.5 581.1L2147.9 571.1L2140.1 564.3L2150.4 563.5zM2227.6 523.1L2231.6 532.6L2241.9 533.5L2234.1 540.2L2236.5 550.3L2227.6 544.9L2218.8 550.3L2221.2 540.2L2213.4 533.5L2223.6 532.6zM2300.9 491.9L2304.9 501.4L2315.2 502.3L2307.4 509L2309.8 519L2300.9 513.7L2292.1 519L2294.5 509L2286.7 502.3L2296.9 501.4z" fill="#009E9E"/>
<path d="M1730.4 742L1772.1 725.4M1803.7 712.9L1845.4 696.4M1877 683.8L1918.7 667.3M1950.2 654.6L1992 637.9M2023.5 625.2L2065.3 608.2M2096.8 595.3L2138.6 578M2170 564.9L2212 547.2M2243.3 534L2285.3 516" stroke="#6B5FCC" stroke-width="4" fill="none"/>
<path d="M1419.7 858.3L1434.4 869.1L1428.8 886.4L1410.6 886.4L1405 869.1zM1422.6 857.1L1437.4 867.8L1431.8 885.1L1413.5 885.1L1407.9 867.8zM1425.6 855.8L1440.3 866.5L1434.7 883.8L1416.5 883.8L1410.9 866.5zM1428.5 854.5L1443.3 865.2L1437.7 882.5L1419.4 882.5L1413.8 865.2zM1431.5 853.2L1446.2 863.9L1440.6 881.2L1422.4 881.2L1416.8 863.9zM1434.4 851.9L1449.2 862.6L1443.6 879.9L1425.3 879.9L1419.7 862.6zM1437.4 850.6L1452.1 861.3L1446.5 878.6L1428.3 878.6L1422.7 861.3zM1440.3 849.3L1455.1 860L1449.5 877.4L1431.2 877.4L1425.6 860zM1443.3 848L1458 858.7L1452.4 876.1L1434.2 876.1L1428.5 858.7zM1446.2 846.7L1461 857.4L1455.4 874.8L1437.1 874.8L1431.5 857.4zM1449.2 845.4L1463.9 856.1L1458.3 873.5L1440.1 873.5L1434.4 856.1zM1452.1 844.1L1466.9 854.9L1461.2 872.2L1443 872.2L1437.4 854.9zM1455.1 842.9L1469.8 853.6L1464.2 870.9L1446 870.9L1440.3 853.6zM1456.6 842.2L1471.3 852.9L1465.7 870.2L1447.5 870.2L1441.8 852.9zM1463.9 839L1478.7 849.7L1473 867L1454.8 867L1449.2 849.7zM1471.3 835.7L1486 846.5L1480.4 863.8L1462.2 863.8L1456.6 846.5zM1478.7 832.5L1493.4 843.2L1487.8 860.6L1469.6 860.6L1463.9 843.2zM1486 829.3L1500.8 840L1495.2 857.3L1476.9 857.3L1471.3 840zM1493.4 826.1L1508.2 836.8L1502.5 854.1L1484.3 854.1L1478.7 836.8zM1508.2 819.7L1522.9 830.4L1517.3 847.7L1499.1 847.7L1493.4 830.4zM1522.9 813.3L1537.7 824L1532 841.3L1513.8 841.3L1508.2 824zM1537.7 806.9L1552.4 817.6L1546.8 835L1528.5 835L1522.9 817.6zM1552.4 800.6L1567.1 811.3L1561.5 828.7L1543.3 828.7L1537.7 811.3zM1567.1 794.4L1581.9 805.1L1576.3 822.4L1558 822.4L1552.4 805.1zM1596.6 782L1611.4 792.7L1605.7 810L1587.5 810L1581.9 792.7zM1626.1 769.7L1640.9 780.4L1635.2 797.8L1617 797.8L1611.4 780.4zM1655.6 757.7L1670.3 768.4L1664.7 785.7L1646.5 785.7L1640.9 768.4zM1685.1 745.8L1699.8 756.5L1694.2 773.8L1676 773.8L1670.4 756.5zM1714.6 734L1729.3 744.7L1723.7 762L1705.5 762L1699.8 744.7zM1787.9 704.8L1802.6 715.5L1797 732.8L1778.8 732.8L1773.1 715.5zM1861.2 675.8L1875.9 686.5L1870.3 703.8L1852.1 703.8L1846.4 686.5zM1934.5 646.7L1949.2 657.4L1943.6 674.7L1925.4 674.7L1919.7 657.4zM2007.8 617.3L2022.5 628L2016.9 645.3L1998.7 645.3L1993 628zM2081.1 587.5L2095.8 598.2L2090.2 615.5L2071.9 615.5L2066.3 598.2zM2154.3 557.2L2169.1 567.9L2163.5 585.2L2145.2 585.2L2139.6 567.9zM2227.6 526.3L2242.4 537L2236.8 554.4L2218.5 554.4L2212.9 537zM2300.9 495L2315.7 505.7L2310 523L2291.8 523L2286.2 505.7z" fill="#6B5FCC"/>
<path d="M1730.4 744.1L1772.1 727.8M1803.7 715.3L1845.3 699M1877 686.6L1918.6 670.2M1950.3 657.7L1992 641.1M2023.5 628.5L2065.3 611.6M2096.8 598.7L2138.6 581.4M2170 568.4L2212 550.7M2243.3 537.4L2285.3 519.4" stroke="#A08C84" stroke-width="4" fill="none"/>
<g fill="url(#gB)">
<circle cx="1419.7" cy="873.3" r="13.75"/><circle cx="1422.6" cy="872" r="13.75"/><circle cx="1425.6" cy="870.7" r="13.75"/><circle cx="1428.5" cy="869.5" r="13.75"/><circle cx="1431.5" cy="868.2" r="13.75"/><circle cx="1434.4" cy="866.9" r="13.75"/><circle cx="1437.4" cy="865.7" r="13.75"/><circle cx="1440.3" cy="864.4" r="13.75"/><circle cx="1443.3" cy="863.1" r="13.75"/><circle cx="1446.2" cy="861.8" r="13.75"/><circle cx="1449.2" cy="860.6" r="13.75"/><circle cx="1452.1" cy="859.3" r="13.75"/><circle cx="1455.1" cy="858" r="13.75"/><circle cx="1456.6" cy="857.4" r="13.75"/><circle cx="1463.9" cy="854.2" r="13.75"/><circle cx="1471.3" cy="851" r="13.75"/><circle cx="1478.7" cy="847.8" r="13.75"/><circle cx="1486" cy="844.6" r="13.75"/><circle cx="1493.4" cy="841.4" r="13.75"/><circle cx="1508.2" cy="835.1" r="13.75"/><circle cx="1522.9" cy="828.8" r="13.75"/><circle cx="1537.7" cy="822.5" r="13.75"/><circle cx="1552.4" cy="816.3" r="13.75"/><circle cx="1567.1" cy="810.1" r="13.75"/><circle cx="1596.6" cy="797.8" r="13.75"/><circle cx="1626.1" cy="785.7" r="13.75"/><circle cx="1655.6" cy="773.8" r="13.75"/><circle cx="1685.1" cy="762" r="13.75"/><circle cx="1714.6" cy="750.3" r="13.75"/><circle cx="1787.9" cy="721.5" r="13.75"/><circle cx="1861.2" cy="692.9" r="13.75"/><circle cx="1934.5" cy="664" r="13.75"/><circle cx="2007.8" cy="634.9" r="13.75"/><circle cx="2081.1" cy="605.2" r="13.75"/><circle cx="2154.3" cy="575" r="13.75"/><circle cx="2227.6" cy="544.1" r="13.75"/><circle cx="2300.9" cy="512.7" r="13.75"/>
</g>
<path d="M1730.4 746.3L1772 730.1M1803.7 717.8L1845.3 701.7M1877 689.4L1918.6 673.2M1950.3 660.8L1991.9 644.4M2023.5 631.8L2065.3 615M2096.8 602.1L2138.6 584.9M2170 571.9L2212 554.2M2243.3 540.9L2285.3 522.8" stroke="#F03040" stroke-width="4" fill="none"/>
<path d="M1406.7 873.9h26M1419.7 860.9v26M1409.6 872.7h26M1422.6 859.7v26M1412.6 871.4h26M1425.6 858.4v26M1415.5 870.2h26M1428.5 857.2v26M1418.5 868.9h26M1431.5 855.9v26M1421.4 867.7h26M1434.4 854.7v26M1424.4 866.4h26M1437.4 853.4v26M1427.3 865.1h26M1440.3 852.1v26M1430.3 863.9h26M1443.3 850.9v26M1433.2 862.6h26M1446.2 849.6v26M1436.2 861.4h26M1449.2 848.4v26M1439.1 860.1h26M1452.1 847.1v26M1442.1 858.9h26M1455.1 845.9v26M1443.6 858.2h26M1456.6 845.2v26M1450.9 855.1h26M1463.9 842.1v26M1458.3 851.9h26M1471.3 838.9v26M1465.7 848.8h26M1478.7 835.8v26M1473 845.6h26M1486 832.6v26M1480.4 842.5h26M1493.4 829.5v26M1495.2 836.2h26M1508.2 823.2v26M1509.9 830h26M1522.9 817v26M1524.7 823.8h26M1537.7 810.8v26M1539.4 817.6h26M1552.4 804.6v26M1554.1 811.5h26M1567.1 798.5v26M1583.6 799.4h26M1596.6 786.4v26M1613.1 787.4h26M1626.1 774.4v26M1642.6 775.6h26M1655.6 762.6v26M1672.1 764h26M1685.1 751v26M1701.6 752.4h26M1714.6 739.4v26M1774.9 724h26M1787.9 711v26M1848.2 695.6h26M1861.2 682.6v26M1921.5 667h26M1934.5 654v26M1994.8 638.1h26M2007.8 625.1v26M2068.1 608.6h26M2081.1 595.6v26M2141.3 578.5h26M2154.3 565.5v26M2214.6 547.6h26M2227.6 534.6v26M2287.9 516.1h26M2300.9 503.1v26" stroke="#F03040" stroke-width="2.3" fill="none"/>
<path d="M1730.5 748.4L1772 732.5M1803.8 720.3L1845.3 704.4M1877 692.2L1918.6 676.2M1950.3 663.9L1991.9 647.6M2023.5 635.1L2065.3 618.3M2096.8 605.6L2138.6 588.4M2170 575.4L2212 557.7M2243.3 544.4L2285.3 526.2" stroke="#479E9E" stroke-width="4" fill="none"/>
<path d="M1409.2 864.1l21.0 21.0M1409.2 885.1l21.0 -21.0M1412.1 862.8l21.0 21.0M1412.1 883.8l21.0 -21.0M1415.1 861.6l21.0 21.0M1415.1 882.6l21.0 -21.0M1418 860.4l21.0 21.0M1418 881.4l21.0 -21.0M1421 859.1l21.0 21.0M1421 880.1l21.0 -21.0M1423.9 857.9l21.0 21.0M1423.9 878.9l21.0 -21.0M1426.9 856.6l21.0 21.0M1426.9 877.6l21.0 -21.0M1429.8 855.4l21.0 21.0M1429.8 876.4l21.0 -21.0M1432.8 854.2l21.0 21.0M1432.8 875.2l21.0 -21.0M1435.7 852.9l21.0 21.0M1435.7 873.9l21.0 -21.0M1438.7 851.7l21.0 21.0M1438.7 872.7l21.0 -21.0M1441.6 850.4l21.0 21.0M1441.6 871.4l21.0 -21.0M1444.6 849.2l21.0 21.0M1444.6 870.2l21.0 -21.0M1446.1 848.6l21.0 21.0M1446.1 869.6l21.0 -21.0M1453.4 845.5l21.0 21.0M1453.4 866.5l21.0 -21.0M1460.8 842.4l21.0 21.0M1460.8 863.4l21.0 -21.0M1468.2 839.3l21.0 21.0M1468.2 860.3l21.0 -21.0M1475.5 836.2l21.0 21.0M1475.5 857.2l21.0 -21.0M1482.9 833.1l21.0 21.0M1482.9 854.1l21.0 -21.0M1497.7 826.9l21.0 21.0M1497.7 847.9l21.0 -21.0M1512.4 820.7l21.0 21.0M1512.4 841.7l21.0 -21.0M1527.2 814.6l21.0 21.0M1527.2 835.6l21.0 -21.0M1541.9 808.5l21.0 21.0M1541.9 829.5l21.0 -21.0M1556.6 802.4l21.0 21.0M1556.6 823.4l21.0 -21.0M1586.1 790.4l21.0 21.0M1586.1 811.4l21.0 -21.0M1615.6 778.6l21.0 21.0M1615.6 799.6l21.0 -21.0M1645.1 766.9l21.0 21.0M1645.1 787.9l21.0 -21.0M1674.6 755.4l21.0 21.0M1674.6 776.4l21.0 -21.0M1704.1 744l21.0 21.0M1704.1 765l21.0 -21.0M1777.4 715.9l21.0 21.0M1777.4 736.9l21.0 -21.0M1850.7 687.8l21.0 21.0M1850.7 708.8l21.0 -21.0M1924 659.6l21.0 21.0M1924 680.6l21.0 -21.0M1997.3 630.9l21.0 21.0M1997.3 651.9l21.0 -21.0M2070.6 601.5l21.0 21.0M2070.6 622.5l21.0 -21.0M2143.8 571.5l21.0 21.0M2143.8 592.5l21.0 -21.0M2217.1 540.6l21.0 21.0M2217.1 561.6l21.0 -21.0M2290.4 509l21.0 21.0M2290.4 530l21.0 -21.0" stroke="#479E9E" stroke-width="1.9" stroke-opacity="0.8" fill="none"/>
<path d="M1730.5 750.6L1772 734.8M1803.8 722.8L1845.3 707.1M1877.1 695L1918.6 679.2M1950.3 666.9L1991.9 650.8M2023.6 638.4L2065.3 621.7M2096.8 609L2138.6 591.9M2170 578.9L2212 561.2M2243.2 547.9L2285.3 529.7" stroke="#E0A000" stroke-width="4" fill="none"/>
<path d="M1405.7 875.2h28M1419.7 861.2v28M1408.6 874h28M1422.6 860v28M1411.6 872.8h28M1425.6 858.8v28M1414.5 871.6h28M1428.5 857.6v28M1417.5 870.3h28M1431.5 856.3v28M1420.4 869.1h28M1434.4 855.1v28M1423.4 867.9h28M1437.4 853.9v28M1426.3 866.7h28M1440.3 852.7v28M1429.3 865.5h28M1443.3 851.5v28M1432.2 864.2h28M1446.2 850.2v28M1435.2 863h28M1449.2 849v28M1438.1 861.8h28M1452.1 847.8v28M1441.1 860.6h28M1455.1 846.6v28M1442.6 859.9h28M1456.6 845.9v28M1449.9 856.9h28M1463.9 842.9v28M1457.3 853.8h28M1471.3 839.8v28M1464.7 850.7h28M1478.7 836.7v28M1472 847.7h28M1486 833.7v28M1479.4 844.6h28M1493.4 830.6v28M1494.2 838.5h28M1508.2 824.5v28M1508.9 832.4h28M1522.9 818.4v28M1523.7 826.4h28M1537.7 812.4v28M1538.4 820.3h28M1552.4 806.3v28M1553.1 814.3h28M1567.1 800.3v28M1582.6 802.5h28M1596.6 788.5v28M1612.1 790.8h28M1626.1 776.8v28M1641.6 779.3h28M1655.6 765.3v28M1671.1 767.9h28M1685.1 753.9v28M1700.6 756.6h28M1714.6 742.6v28M1773.9 728.8h28M1787.9 714.8v28M1847.2 701.1h28M1861.2 687.1v28M1920.5 673.1h28M1934.5 659.1v28M1993.8 644.6h28M2007.8 630.6v28M2067.1 615.5h28M2081.1 601.5v28M2140.3 585.5h28M2154.3 571.5v28M2213.6 554.6h28M2227.6 540.6v28M2286.9 522.9h28M2300.9 508.9v28" stroke="#E0A000" stroke-width="2.5" fill="none"/>
<path d="M1409.2 864.7l21.0 21.0M1409.2 885.7l21.0 -21.0M1412.1 863.5l21.0 21.0M1412.1 884.5l21.0 -21.0M1415.1 862.3l21.0 21.0M1415.1 883.3l21.0 -21.0M1418 861.1l21.0 21.0M1418 882.1l21.0 -21.0M1421 859.8l21.0 21.0M1421 880.8l21.0 -21.0M1423.9 858.6l21.0 21.0M1423.9 879.6l21.0 -21.0M1426.9 857.4l21.0 21.0M1426.9 878.4l21.0 -21.0M1429.8 856.2l21.0 21.0M1429.8 877.2l21.0 -21.0M1432.8 855l21.0 21.0M1432.8 876l21.0 -21.0M1435.7 853.7l21.0 21.0M1435.7 874.7l21.0 -21.0M1438.7 852.5l21.0 21.0M1438.7 873.5l21.0 -21.0M1441.6 851.3l21.0 21.0M1441.6 872.3l21.0 -21.0M1444.6 850.1l21.0 21.0M1444.6 871.1l21.0 -21.0M1446.1 849.4l21.0 21.0M1446.1 870.4l21.0 -21.0M1453.4 846.4l21.0 21.0M1453.4 867.4l21.0 -21.0M1460.8 843.3l21.0 21.0M1460.8 864.3l21.0 -21.0M1468.2 840.2l21.0 21.0M1468.2 861.2l21.0 -21.0M1475.5 837.2l21.0 21.0M1475.5 858.2l21.0 -21.0M1482.9 834.1l21.0 21.0M1482.9 855.1l21.0 -21.0M1497.7 828l21.0 21.0M1497.7 849l21.0 -21.0M1512.4 821.9l21.0 21.0M1512.4 842.9l21.0 -21.0M1527.2 815.9l21.0 21.0M1527.2 836.9l21.0 -21.0M1541.9 809.8l21.0 21.0M1541.9 830.8l21.0 -21.0M1556.6 803.8l21.0 21.0M1556.6 824.8l21.0 -21.0M1586.1 792l21.0 21.0M1586.1 813l21.0 -21.0M1615.6 780.3l21.0 21.0M1615.6 801.3l21.0 -21.0M1645.1 768.8l21.0 21.0M1645.1 789.8l21.0 -21.0M1674.6 757.4l21.0 21.0M1674.6 778.4l21.0 -21.0M1704.1 746.1l21.0 21.0M1704.1 767.1l21.0 -21.0M1777.4 718.3l21.0 21.0M1777.4 739.3l21.0 -21.0M1850.7 690.6l21.0 21.0M1850.7 711.6l21.0 -21.0M1924 662.6l21.0 21.0M1924 683.6l21.0 -21.0M1997.3 634.1l21.0 21.0M1997.3 655.1l21.0 -21.0M2070.6 605l21.0 21.0M2070.6 626l21.0 -21.0M2143.8 575l21.0 21.0M2143.8 596l21.0 -21.0M2217.1 544.1l21.0 21.0M2217.1 565.1l21.0 -21.0M2290.4 512.4l21.0 21.0M2290.4 533.4l21.0 -21.0" stroke="#E0A000" stroke-width="1.7" stroke-opacity="0.6" fill="none"/>
</g>
<rect x="163.1" y="1068" width="1031.1" height="829.3" fill="none" stroke="#000" stroke-width="3.7"/>
<path d="M236.8 1897.3v-8M310.4 1897.3v-16M384.1 1897.3v-8M457.7 1897.3v-16M531.4 1897.3v-8M605 1897.3v-16M678.7 1897.3v-8M752.3 1897.3v-16M826 1897.3v-8M899.6 1897.3v-16M973.3 1897.3v-8M1046.9 1897.3v-16M1120.6 1897.3v-8M163.1 1814.4h8M163.1 1731.4h16M163.1 1648.5h8M163.1 1565.6h16M163.1 1482.7h8M163.1 1399.7h16M163.1 1316.8h8M163.1 1233.9h16M163.1 1150.9h8" stroke="#000" stroke-width="3.7" fill="none"/>
<g font-family="Liberation Sans, Arial, sans-serif" font-size="36" fill="#000"><text x="163.1" y="1942.3" text-anchor="middle">0</text><text x="310.4" y="1942.3" text-anchor="middle">10</text><text x="457.7" y="1942.3" text-anchor="middle">20</text><text x="605" y="1942.3" text-anchor="middle">30</text><text x="752.3" y="1942.3" text-anchor="middle">40</text><text x="899.6" y="1942.3" text-anchor="middle">50</text><text x="1046.9" y="1942.3" text-anchor="middle">60</text><text x="1194.2" y="1942.3" text-anchor="middle">70</text><text x="145.1" y="1906.7" text-anchor="end">0</text><text x="145.1" y="1740.8" text-anchor="end">2</text><text x="145.1" y="1575" text-anchor="end">4</text><text x="145.1" y="1409.1" text-anchor="end">6</text><text x="145.1" y="1243.3" text-anchor="end">8</text><text x="145.1" y="1077.4" text-anchor="end">10</text></g>
<clipPath id="clipc"><rect x="161.1" y="1068" width="1033.1" height="829.3"/></clipPath>
<g clip-path="url(#clipc)">
<path d="M474 1327.6L515.1 1315.2M547.7 1305.7L588.6 1294.5M621.4 1285.6L662.2 1274.9M695.1 1266.4L735.8 1256.2M768.8 1248.1L809.4 1238.2M842.5 1230.3L883 1220.8M916.2 1213.2L956.7 1204M989.9 1196.6L1030.3 1187.7" stroke="#FF0000" stroke-width="4" fill="none"/>
<path d="M151.1 1517.1h24v24h-24zM154 1516h24v24h-24zM157 1513.9h24v24h-24zM159.9 1510.9h24v24h-24zM162.9 1507.4h24v24h-24zM165.8 1503.5h24v24h-24zM168.8 1497.9h24v24h-24zM171.7 1490h24v24h-24zM174.7 1481.2h24v24h-24zM177.6 1473h24v24h-24zM180.6 1466.9h24v24h-24zM183.5 1462.5h24v24h-24zM186.5 1458.6h24v24h-24zM187.9 1456.9h24v24h-24zM195.3 1449.2h24v24h-24zM202.7 1442.4h24v24h-24zM210 1436.6h24v24h-24zM217.4 1431.1h24v24h-24zM224.8 1425.5h24v24h-24zM239.5 1414.8h24v24h-24zM254.2 1405.6h24v24h-24zM268.9 1397h24v24h-24zM283.7 1388.8h24v24h-24zM298.4 1381.1h24v24h-24zM327.9 1366.2h24v24h-24zM357.3 1352.7h24v24h-24zM386.8 1341h24v24h-24zM416.2 1330.4h24v24h-24zM445.7 1320.5h24v24h-24zM519.4 1298.3h24v24h-24zM593 1277.9h24v24h-24zM666.7 1258.6h24v24h-24zM740.3 1240.1h24v24h-24zM814 1222.2h24v24h-24zM887.6 1204.9h24v24h-24zM961.3 1188.2h24v24h-24zM1034.9 1172.1h24v24h-24z" fill="#FF0000"/>
<path d="M474 1343.4L514.6 1331.2M547.3 1321.6L587.8 1310.1M620.5 1300.9L661 1289.9M693.8 1281.1L734.1 1270.5M767.1 1262.1L807.3 1252M840.4 1244L880.5 1234.4M913.6 1226.7L953.7 1217.7M986.9 1210.3L1026.9 1201.8" stroke="#105FA0" stroke-width="4" fill="none"/>
<path d="M149.3 1547.3a13.75 13.75 0 1 0 27.5 0a13.75 13.75 0 1 0 -27.5 0zM152.3 1542.9a13.75 13.75 0 1 0 27.5 0a13.75 13.75 0 1 0 -27.5 0zM155.2 1538.5a13.75 13.75 0 1 0 27.5 0a13.75 13.75 0 1 0 -27.5 0zM158.2 1534.1a13.75 13.75 0 1 0 27.5 0a13.75 13.75 0 1 0 -27.5 0zM161.1 1529.6a13.75 13.75 0 1 0 27.5 0a13.75 13.75 0 1 0 -27.5 0zM164.1 1525.2a13.75 13.75 0 1 0 27.5 0a13.75 13.75 0 1 0 -27.5 0zM167 1520.9a13.75 13.75 0 1 0 27.5 0a13.75 13.75 0 1 0 -27.5 0zM170 1516.6a13.75 13.75 0 1 0 27.5 0a13.75 13.75 0 1 0 -27.5 0zM172.9 1512.3a13.75 13.75 0 1 0 27.5 0a13.75 13.75 0 1 0 -27.5 0zM175.9 1507.9a13.75 13.75 0 1 0 27.5 0a13.75 13.75 0 1 0 -27.5 0zM178.8 1503.3a13.75 13.75 0 1 0 27.5 0a13.75 13.75 0 1 0 -27.5 0zM181.8 1498.3a13.75 13.75 0 1 0 27.5 0a13.75 13.75 0 1 0 -27.5 0zM184.7 1492.8a13.75 13.75 0 1 0 27.5 0a13.75 13.75 0 1 0 -27.5 0zM186.2 1490.1a13.75 13.75 0 1 0 27.5 0a13.75 13.75 0 1 0 -27.5 0zM193.5 1476.6a13.75 13.75 0 1 0 27.5 0a13.75 13.75 0 1 0 -27.5 0zM200.9 1466.8a13.75 13.75 0 1 0 27.5 0a13.75 13.75 0 1 0 -27.5 0zM208.3 1459.6a13.75 13.75 0 1 0 27.5 0a13.75 13.75 0 1 0 -27.5 0zM215.6 1453.1a13.75 13.75 0 1 0 27.5 0a13.75 13.75 0 1 0 -27.5 0zM223 1446.6a13.75 13.75 0 1 0 27.5 0a13.75 13.75 0 1 0 -27.5 0zM237.7 1434.7a13.75 13.75 0 1 0 27.5 0a13.75 13.75 0 1 0 -27.5 0zM252.5 1423.8a13.75 13.75 0 1 0 27.5 0a13.75 13.75 0 1 0 -27.5 0zM267.2 1414.4a13.75 13.75 0 1 0 27.5 0a13.75 13.75 0 1 0 -27.5 0zM281.9 1407a13.75 13.75 0 1 0 27.5 0a13.75 13.75 0 1 0 -27.5 0zM296.6 1400.5a13.75 13.75 0 1 0 27.5 0a13.75 13.75 0 1 0 -27.5 0zM326.1 1388.2a13.75 13.75 0 1 0 27.5 0a13.75 13.75 0 1 0 -27.5 0zM355.6 1377a13.75 13.75 0 1 0 27.5 0a13.75 13.75 0 1 0 -27.5 0zM385 1366.9a13.75 13.75 0 1 0 27.5 0a13.75 13.75 0 1 0 -27.5 0zM414.5 1357.4a13.75 13.75 0 1 0 27.5 0a13.75 13.75 0 1 0 -27.5 0zM444 1348.3a13.75 13.75 0 1 0 27.5 0a13.75 13.75 0 1 0 -27.5 0zM517.2 1326.3a13.75 13.75 0 1 0 27.5 0a13.75 13.75 0 1 0 -27.5 0zM590.4 1305.4a13.75 13.75 0 1 0 27.5 0a13.75 13.75 0 1 0 -27.5 0zM663.6 1285.4a13.75 13.75 0 1 0 27.5 0a13.75 13.75 0 1 0 -27.5 0zM736.8 1266.2a13.75 13.75 0 1 0 27.5 0a13.75 13.75 0 1 0 -27.5 0zM810.1 1247.9a13.75 13.75 0 1 0 27.5 0a13.75 13.75 0 1 0 -27.5 0zM883.3 1230.5a13.75 13.75 0 1 0 27.5 0a13.75 13.75 0 1 0 -27.5 0zM956.5 1213.9a13.75 13.75 0 1 0 27.5 0a13.75 13.75 0 1 0 -27.5 0zM1029.7 1198.2a13.75 13.75 0 1 0 27.5 0a13.75 13.75 0 1 0 -27.5 0z" fill="#105FA0"/>
<path d="M473.9 1358.2L514.7 1345.6M547.3 1336L587.8 1324.4M620.5 1315.2L661 1304.1M693.8 1295.2L734.1 1284.6M767.1 1276.1L807.3 1265.9M840.3 1257.8L880.5 1248M913.6 1240.1L953.7 1230.8M986.9 1223.3L1026.9 1214.3" stroke="#FFC200" stroke-width="4" fill="none"/>
<path d="M163.1 1551.3l15.5 27h-31zM166 1548.8l15.5 27h-31zM169 1545.7l15.5 27h-31zM171.9 1542l15.5 27h-31zM174.9 1537.9l15.5 27h-31zM177.8 1533.5l15.5 27h-31zM180.8 1527.9l15.5 27h-31zM183.7 1521l15.5 27h-31zM186.7 1513.6l15.5 27h-31zM189.6 1506.7l15.5 27h-31zM192.6 1501.2l15.5 27h-31zM195.5 1496.9l15.5 27h-31zM198.5 1493l15.5 27h-31zM199.9 1491.2l15.5 27h-31zM207.3 1483.3l15.5 27h-31zM214.7 1476.2l15.5 27h-31zM222 1470.1l15.5 27h-31zM229.4 1464.1l15.5 27h-31zM236.8 1457.5l15.5 27h-31zM251.5 1444.7l15.5 27h-31zM266.2 1433.9l15.5 27h-31zM280.9 1424.6l15.5 27h-31zM295.7 1416.7l15.5 27h-31zM310.4 1409.4l15.5 27h-31zM339.9 1394.7l15.5 27h-31zM369.3 1381.3l15.5 27h-31zM398.8 1369.8l15.5 27h-31zM428.2 1359.5l15.5 27h-31zM457.7 1349.7l15.5 27h-31zM530.9 1327.1l15.5 27h-31zM604.1 1306.2l15.5 27h-31zM677.4 1286l15.5 27h-31zM750.6 1266.8l15.5 27h-31zM823.8 1248.3l15.5 27h-31zM897 1230.5l15.5 27h-31zM970.3 1213.4l15.5 27h-31zM1043.5 1197.1l15.5 27h-31z" fill="#FFC200"/>
<path d="M473.9 1390.4L514.7 1377.4M547.2 1367.4L587.9 1355.1M620.5 1345.5L661 1333.7M693.7 1324.4L734.2 1313.1M767 1304.1L807.4 1293.2M840.3 1284.6L880.6 1274.2M913.5 1265.9L953.8 1256M986.8 1248L1026.9 1238.6" stroke="#00C06E" stroke-width="4" fill="none"/>
<path d="M163.1 1603.1l15.5 -27h-31zM166 1600l15.5 -27h-31zM169 1596.5l15.5 -27h-31zM171.9 1592.6l15.5 -27h-31zM174.9 1588.4l15.5 -27h-31zM177.8 1583.9l15.5 -27h-31zM180.8 1578.6l15.5 -27h-31zM183.7 1572.6l15.5 -27h-31zM186.7 1566.3l15.5 -27h-31zM189.6 1560.3l15.5 -27h-31zM192.6 1555.3l15.5 -27h-31zM195.5 1551.2l15.5 -27h-31zM198.5 1547.3l15.5 -27h-31zM199.9 1545.6l15.5 -27h-31zM207.3 1537.4l15.5 -27h-31zM214.7 1530l15.5 -27h-31zM222 1523.3l15.5 -27h-31zM229.4 1517l15.5 -27h-31zM236.8 1510.7l15.5 -27h-31zM251.5 1499l15.5 -27h-31zM266.2 1488.7l15.5 -27h-31zM280.9 1479.6l15.5 -27h-31zM295.7 1472.2l15.5 -27h-31zM310.4 1465.5l15.5 -27h-31zM339.9 1452.1l15.5 -27h-31zM369.3 1439.8l15.5 -27h-31zM398.8 1428.9l15.5 -27h-31zM428.2 1418.8l15.5 -27h-31zM457.7 1409.1l15.5 -27h-31zM530.9 1385.8l15.5 -27h-31zM604.1 1363.7l15.5 -27h-31zM677.4 1342.4l15.5 -27h-31zM750.6 1322l15.5 -27h-31zM823.8 1302.3l15.5 -27h-31zM897 1283.5l15.5 -27h-31zM970.3 1265.4l15.5 -27h-31zM1043.5 1248.2l15.5 -27h-31z" fill="#00C06E"/>
<path d="M473.8 1419.2L514.8 1405.6M547.2 1395.1L587.9 1382.4M620.4 1372.4L661.1 1360.2M693.7 1350.6L734.3 1338.9M767 1329.7L807.4 1318.4M840.2 1309.5L880.6 1298.8M913.5 1290.2L953.8 1280M986.8 1271.7L1027 1261.9" stroke="#6464A2" stroke-width="4" fill="none"/>
<path d="M163.1 1600.5l16.5 16.5l-16.5 16.5l-16.5 -16.5zM166 1597.6l16.5 16.5l-16.5 16.5l-16.5 -16.5zM169 1594.2l16.5 16.5l-16.5 16.5l-16.5 -16.5zM171.9 1590.4l16.5 16.5l-16.5 16.5l-16.5 -16.5zM174.9 1586.1l16.5 16.5l-16.5 16.5l-16.5 -16.5zM177.8 1581.6l16.5 16.5l-16.5 16.5l-16.5 -16.5zM180.8 1576.2l16.5 16.5l-16.5 16.5l-16.5 -16.5zM183.7 1569.9l16.5 16.5l-16.5 16.5l-16.5 -16.5zM186.7 1563.2l16.5 16.5l-16.5 16.5l-16.5 -16.5zM189.6 1556.6l16.5 16.5l-16.5 16.5l-16.5 -16.5zM192.6 1550.7l16.5 16.5l-16.5 16.5l-16.5 -16.5zM195.5 1545.3l16.5 16.5l-16.5 16.5l-16.5 -16.5zM198.5 1539.7l16.5 16.5l-16.5 16.5l-16.5 -16.5zM199.9 1536.9l16.5 16.5l-16.5 16.5l-16.5 -16.5zM207.3 1525.1l16.5 16.5l-16.5 16.5l-16.5 -16.5zM214.7 1519l16.5 16.5l-16.5 16.5l-16.5 -16.5zM222 1516.1l16.5 16.5l-16.5 16.5l-16.5 -16.5zM229.4 1513.3l16.5 16.5l-16.5 16.5l-16.5 -16.5zM236.8 1509.4l16.5 16.5l-16.5 16.5l-16.5 -16.5zM251.5 1500.7l16.5 16.5l-16.5 16.5l-16.5 -16.5zM266.2 1492.2l16.5 16.5l-16.5 16.5l-16.5 -16.5zM280.9 1484.1l16.5 16.5l-16.5 16.5l-16.5 -16.5zM295.7 1477.1l16.5 16.5l-16.5 16.5l-16.5 -16.5zM310.4 1470.3l16.5 16.5l-16.5 16.5l-16.5 -16.5zM339.9 1455.5l16.5 16.5l-16.5 16.5l-16.5 -16.5zM369.3 1441.4l16.5 16.5l-16.5 16.5l-16.5 -16.5zM398.8 1429.4l16.5 16.5l-16.5 16.5l-16.5 -16.5zM428.2 1418.5l16.5 16.5l-16.5 16.5l-16.5 -16.5zM457.7 1408.1l16.5 16.5l-16.5 16.5l-16.5 -16.5zM530.9 1383.7l16.5 16.5l-16.5 16.5l-16.5 -16.5zM604.1 1360.8l16.5 16.5l-16.5 16.5l-16.5 -16.5zM677.4 1338.8l16.5 16.5l-16.5 16.5l-16.5 -16.5zM750.6 1317.7l16.5 16.5l-16.5 16.5l-16.5 -16.5zM823.8 1297.4l16.5 16.5l-16.5 16.5l-16.5 -16.5zM897 1277.9l16.5 16.5l-16.5 16.5l-16.5 -16.5zM970.3 1259.3l16.5 16.5l-16.5 16.5l-16.5 -16.5zM1043.5 1241.4l16.5 16.5l-16.5 16.5l-16.5 -16.5z" fill="#6464A2"/>
<path d="M473.7 1457L514.9 1442.4M547.1 1431.3L588 1417.7M620.3 1407.2L661.2 1394.1M693.6 1384L734.3 1371.5M766.9 1361.7L807.5 1349.8M840.2 1340.3L880.7 1328.8M913.4 1319.8L953.9 1308.8M986.7 1300L1027 1289.6" stroke="#999999" stroke-width="4" fill="none"/>
<path d="M149.3 1656.8l27.6 -15.5v31zM152.2 1653.8l27.6 -15.5v31zM155.2 1650.2l27.6 -15.5v31zM158.1 1646.2l27.6 -15.5v31zM161.1 1641.8l27.6 -15.5v31zM164 1637.1l27.6 -15.5v31zM167 1631.5l27.6 -15.5v31zM169.9 1624.8l27.6 -15.5v31zM172.9 1617.8l27.6 -15.5v31zM175.8 1611.1l27.6 -15.5v31zM178.8 1605.4l27.6 -15.5v31zM181.7 1600.8l27.6 -15.5v31zM184.7 1596.7l27.6 -15.5v31zM186.1 1594.7l27.6 -15.5v31zM193.5 1585.6l27.6 -15.5v31zM200.9 1576l27.6 -15.5v31zM208.2 1565.2l27.6 -15.5v31zM215.6 1557.6l27.6 -15.5v31zM222.9 1554.2l27.6 -15.5v31zM237.7 1549.4l27.6 -15.5v31zM252.4 1542.4l27.6 -15.5v31zM267.1 1536.1l27.6 -15.5v31zM281.9 1533l27.6 -15.5v31zM296.6 1529.9l27.6 -15.5v31zM326.1 1515.5l27.6 -15.5v31zM355.5 1498.6l27.6 -15.5v31zM385 1485.6l27.6 -15.5v31zM414.4 1473.9l27.6 -15.5v31zM443.9 1462.7l27.6 -15.5v31zM517.1 1436.7l27.6 -15.5v31zM590.3 1412.4l27.6 -15.5v31zM663.6 1389l27.6 -15.5v31zM736.8 1366.5l27.6 -15.5v31zM810 1344.9l27.6 -15.5v31zM883.2 1324.2l27.6 -15.5v31zM956.5 1304.3l27.6 -15.5v31zM1029.7 1285.3l27.6 -15.5v31z" fill="#999999"/>
<path d="M473.6 1504.8L515 1488.9M546.9 1477L588.2 1462M620.2 1450.6L661.3 1436.2M693.5 1425.3L734.5 1411.7M766.8 1401.2L807.6 1388.3M840.1 1378.3L880.8 1366.2M913.4 1356.7L953.9 1345.2M986.7 1336.1L1027.1 1325.3" stroke="#FF6666" stroke-width="4" fill="none"/>
<path d="M176.9 1735.6l-27.6 -15.5v31zM179.8 1731.2l-27.6 -15.5v31zM182.8 1726.3l-27.6 -15.5v31zM185.7 1721l-27.6 -15.5v31zM188.7 1715.2l-27.6 -15.5v31zM191.6 1709.2l-27.6 -15.5v31zM194.6 1702.3l-27.6 -15.5v31zM197.5 1694.5l-27.6 -15.5v31zM200.5 1686.3l-27.6 -15.5v31zM203.4 1678.5l-27.6 -15.5v31zM206.4 1671.6l-27.6 -15.5v31zM209.3 1665.5l-27.6 -15.5v31zM212.3 1659.6l-27.6 -15.5v31zM213.7 1656.8l-27.6 -15.5v31zM221.1 1644.1l-27.6 -15.5v31zM228.5 1634.6l-27.6 -15.5v31zM235.8 1627.7l-27.6 -15.5v31zM243.2 1621.4l-27.6 -15.5v31zM250.6 1615l-27.6 -15.5v31zM265.3 1602.7l-27.6 -15.5v31zM280 1588.6l-27.6 -15.5v31zM294.7 1579.3l-27.6 -15.5v31zM309.5 1577.7l-27.6 -15.5v31zM324.2 1576.4l-27.6 -15.5v31zM353.7 1564l-27.6 -15.5v31zM383.1 1547.2l-27.6 -15.5v31zM412.6 1534.5l-27.6 -15.5v31zM442 1522.5l-27.6 -15.5v31zM471.5 1510.8l-27.6 -15.5v31zM544.7 1482.8l-27.6 -15.5v31zM617.9 1456.1l-27.6 -15.5v31zM691.2 1430.6l-27.6 -15.5v31zM764.4 1406.4l-27.6 -15.5v31zM837.6 1383.2l-27.6 -15.5v31zM910.8 1361.3l-27.6 -15.5v31zM984.1 1340.5l-27.6 -15.5v31zM1057.3 1320.9l-27.6 -15.5v31z" fill="#FF6666"/>
<path d="M473.3 1558.9L515.3 1541.1M546.7 1528.2L588.3 1511.8M620.1 1499.6L661.5 1484M693.4 1472.4L734.6 1457.7M766.7 1446.5L807.7 1432.5M840 1421.7L880.9 1408.5M913.3 1398.2L954 1385.6M986.6 1375.8L1027.2 1363.9" stroke="#4499DD" stroke-width="4" fill="none"/>
<path d="M163.1 1776.3L175.9 1783.7L175.9 1798.5L163.1 1805.9L150.3 1798.5L150.3 1783.7zM166 1773.7L178.9 1781.1L178.9 1795.9L166 1803.3L153.2 1795.9L153.2 1781.1zM169 1770.6L181.8 1778L181.8 1792.8L169 1800.2L156.2 1792.8L156.2 1778zM171.9 1766.9L184.8 1774.3L184.8 1789.1L171.9 1796.5L159.1 1789.1L159.1 1774.3zM174.9 1762.9L187.7 1770.3L187.7 1785.1L174.9 1792.5L162.1 1785.1L162.1 1770.3zM177.8 1758.6L190.6 1766L190.6 1780.8L177.8 1788.2L165 1780.8L165 1766zM180.8 1753.5L193.6 1760.9L193.6 1775.7L180.8 1783.1L168 1775.7L168 1760.9zM183.7 1747.4L196.5 1754.8L196.5 1769.6L183.7 1777L170.9 1769.6L170.9 1754.8zM186.7 1740.9L199.5 1748.3L199.5 1763.1L186.7 1770.5L173.9 1763.1L173.9 1748.3zM189.6 1734.5L202.4 1741.9L202.4 1756.7L189.6 1764.1L176.8 1756.7L176.8 1741.9zM192.6 1728.7L205.4 1736.1L205.4 1750.9L192.6 1758.3L179.7 1750.9L179.7 1736.1zM195.5 1723.5L208.3 1730.9L208.3 1745.7L195.5 1753.1L182.7 1745.7L182.7 1730.9zM198.5 1718.4L211.3 1725.8L211.3 1740.6L198.5 1748L185.6 1740.6L185.6 1725.8zM199.9 1715.9L212.7 1723.3L212.7 1738.1L199.9 1745.5L187.1 1738.1L187.1 1723.3zM207.3 1704.4L220.1 1711.8L220.1 1726.6L207.3 1734L194.5 1726.6L194.5 1711.8zM214.7 1695.4L227.5 1702.8L227.5 1717.6L214.7 1725L201.8 1717.6L201.8 1702.8zM222 1688.5L234.8 1695.9L234.8 1710.7L222 1718.1L209.2 1710.7L209.2 1695.9zM229.4 1682.1L242.2 1689.5L242.2 1704.3L229.4 1711.7L216.6 1704.3L216.6 1689.5zM236.8 1675.6L249.6 1683L249.6 1697.8L236.8 1705.2L223.9 1697.8L223.9 1683zM251.5 1663.6L264.3 1671L264.3 1685.8L251.5 1693.2L238.7 1685.8L238.7 1671zM266.2 1654.3L279 1661.7L279 1676.5L266.2 1683.9L253.4 1676.5L253.4 1661.7zM280.9 1646L293.8 1653.4L293.8 1668.2L280.9 1675.6L268.1 1668.2L268.1 1653.4zM295.7 1638.2L308.5 1645.6L308.5 1660.4L295.7 1667.8L282.9 1660.4L282.9 1645.6zM310.4 1630.4L323.2 1637.8L323.2 1652.6L310.4 1660L297.6 1652.6L297.6 1637.8zM339.9 1612L352.7 1619.4L352.7 1634.2L339.9 1641.6L327 1634.2L327 1619.4zM369.3 1593.9L382.1 1601.3L382.1 1616.1L369.3 1623.5L356.5 1616.1L356.5 1601.3zM398.8 1578.5L411.6 1585.9L411.6 1600.7L398.8 1608.1L386 1600.7L386 1585.9zM428.2 1564.2L441.1 1571.6L441.1 1586.4L428.2 1593.8L415.4 1586.4L415.4 1571.6zM457.7 1550.8L470.5 1558.2L470.5 1573L457.7 1580.4L444.9 1573L444.9 1558.2zM530.9 1519.6L543.7 1527L543.7 1541.8L530.9 1549.2L518.1 1541.8L518.1 1527zM604.1 1490.7L617 1498.1L617 1512.9L604.1 1520.3L591.3 1512.9L591.3 1498.1zM677.4 1463.3L690.2 1470.7L690.2 1485.5L677.4 1492.9L664.6 1485.5L664.6 1470.7zM750.6 1437.2L763.4 1444.6L763.4 1459.4L750.6 1466.8L737.8 1459.4L737.8 1444.6zM823.8 1412.2L836.6 1419.6L836.6 1434.4L823.8 1441.8L811 1434.4L811 1419.6zM897 1388.4L909.9 1395.8L909.9 1410.6L897 1418L884.2 1410.6L884.2 1395.8zM970.3 1365.8L983.1 1373.2L983.1 1388L970.3 1395.4L957.4 1388L957.4 1373.2zM1043.5 1344.3L1056.3 1351.7L1056.3 1366.5L1043.5 1373.9L1030.7 1366.5L1030.7 1351.7z" fill="#4499DD"/>
<path d="M473.2 1614.1L515.5 1594.8M546.5 1581.1L588.5 1563.1M619.9 1550L661.6 1533M693.2 1520.5L734.7 1504.5M766.6 1492.6L807.8 1477.6M839.9 1466.3L881 1452.3M913.2 1441.6L954.1 1428.5M986.5 1418.4L1027.2 1406.3" stroke="#E86C00" stroke-width="4" fill="none"/>
<path d="M163.1 1790.4L167.1 1799.9L177.4 1800.8L169.6 1807.5L171.9 1817.6L163.1 1812.2L154.3 1817.6L156.6 1807.5L148.8 1800.8L159.1 1799.9zM166 1787.6L170 1797.1L180.3 1797.9L172.5 1804.7L174.9 1814.7L166 1809.4L157.2 1814.7L159.6 1804.7L151.8 1797.9L162 1797.1zM169 1784.7L173 1794.2L183.3 1795.1L175.5 1801.8L177.8 1811.9L169 1806.5L160.2 1811.9L162.5 1801.8L154.7 1795.1L165 1794.2zM171.9 1781.9L175.9 1791.4L186.2 1792.3L178.4 1799L180.8 1809L171.9 1803.7L163.1 1809L165.5 1799L157.7 1792.3L167.9 1791.4zM174.9 1779.1L178.9 1788.6L189.1 1789.5L181.4 1796.2L183.7 1806.2L174.9 1800.9L166.1 1806.2L168.4 1796.2L160.6 1789.5L170.9 1788.6zM177.8 1776.3L181.8 1785.8L192.1 1786.7L184.3 1793.4L186.6 1803.4L177.8 1798.1L169 1803.4L171.4 1793.4L163.6 1786.7L173.8 1785.8zM180.8 1773.5L184.8 1783L195 1783.8L187.2 1790.6L189.6 1800.6L180.8 1795.3L172 1800.6L174.3 1790.6L166.5 1783.8L176.8 1783zM183.7 1770.7L187.7 1780.2L198 1781L190.2 1787.8L192.5 1797.8L183.7 1792.5L174.9 1797.8L177.3 1787.8L169.5 1781L179.7 1780.2zM186.7 1767.9L190.7 1777.4L200.9 1778.2L193.1 1785L195.5 1795L186.7 1789.7L177.9 1795L180.2 1785L172.4 1778.2L182.7 1777.4zM189.6 1765.1L193.6 1774.6L203.9 1775.5L196.1 1782.2L198.4 1792.3L189.6 1786.9L180.8 1792.3L183.1 1782.2L175.3 1775.5L185.6 1774.6zM192.6 1762.4L196.6 1771.9L206.8 1772.8L199 1779.5L201.4 1789.6L192.6 1784.2L183.7 1789.6L186.1 1779.5L178.3 1772.8L188.6 1771.9zM195.5 1759.8L199.5 1769.3L209.8 1770.1L202 1776.9L204.3 1786.9L195.5 1781.6L186.7 1786.9L189 1776.9L181.2 1770.1L191.5 1769.3zM198.5 1757.2L202.4 1766.6L212.7 1767.5L204.9 1774.3L207.3 1784.3L198.5 1779L189.6 1784.3L192 1774.3L184.2 1767.5L194.5 1766.6zM199.9 1755.9L203.9 1765.4L214.2 1766.2L206.4 1773L208.7 1783L199.9 1777.7L191.1 1783L193.5 1773L185.7 1766.2L195.9 1765.4zM207.3 1749.5L211.3 1759L221.6 1759.9L213.8 1766.6L216.1 1776.7L207.3 1771.3L198.5 1776.7L200.8 1766.6L193 1759.9L203.3 1759zM214.7 1743.5L218.7 1753L228.9 1753.9L221.1 1760.6L223.5 1770.7L214.7 1765.3L205.8 1770.7L208.2 1760.6L200.4 1753.9L210.7 1753zM222 1737.9L226 1747.4L236.3 1748.3L228.5 1755L230.8 1765L222 1759.7L213.2 1765L215.6 1755L207.8 1748.3L218 1747.4zM229.4 1732.3L233.4 1741.8L243.7 1742.7L235.9 1749.4L238.2 1759.5L229.4 1754.1L220.6 1759.5L222.9 1749.4L215.1 1742.7L225.4 1741.8zM236.8 1726.5L240.7 1736L251 1736.9L243.2 1743.6L245.6 1753.7L236.8 1748.3L227.9 1753.7L230.3 1743.6L222.5 1736.9L232.8 1736zM251.5 1715.5L255.5 1725L265.7 1725.9L257.9 1732.6L260.3 1742.6L251.5 1737.3L242.7 1742.6L245 1732.6L237.2 1725.9L247.5 1725zM266.2 1706.9L270.2 1716.4L280.5 1717.3L272.7 1724L275 1734.1L266.2 1728.7L257.4 1734.1L259.7 1724L251.9 1717.3L262.2 1716.4zM280.9 1699.2L284.9 1708.7L295.2 1709.6L287.4 1716.3L289.8 1726.3L280.9 1721L272.1 1726.3L274.5 1716.3L266.7 1709.6L276.9 1708.7zM295.7 1691.7L299.7 1701.2L309.9 1702.1L302.1 1708.8L304.5 1718.9L295.7 1713.5L286.9 1718.9L289.2 1708.8L281.4 1702.1L291.7 1701.2zM310.4 1684.3L314.4 1693.8L324.7 1694.6L316.9 1701.4L319.2 1711.4L310.4 1706.1L301.6 1711.4L303.9 1701.4L296.1 1694.6L306.4 1693.8zM339.9 1667.5L343.9 1677L354.1 1677.9L346.3 1684.6L348.7 1694.7L339.9 1689.3L331 1694.7L333.4 1684.6L325.6 1677.9L335.9 1677zM369.3 1650.8L373.3 1660.3L383.6 1661.2L375.8 1667.9L378.1 1678L369.3 1672.6L360.5 1678L362.9 1667.9L355.1 1661.2L365.3 1660.3zM398.8 1635.6L402.8 1645.1L413 1646L405.2 1652.7L407.6 1662.7L398.8 1657.4L390 1662.7L392.3 1652.7L384.5 1646L394.8 1645.1zM428.2 1621.1L432.2 1630.6L442.5 1631.5L434.7 1638.2L437.1 1648.3L428.2 1642.9L419.4 1648.3L421.8 1638.2L414 1631.5L424.2 1630.6zM457.7 1607.1L461.7 1616.6L472 1617.5L464.2 1624.2L466.5 1634.3L457.7 1628.9L448.9 1634.3L451.2 1624.2L443.4 1617.5L453.7 1616.6zM530.9 1573.8L534.9 1583.3L545.2 1584.2L537.4 1590.9L539.7 1600.9L530.9 1595.6L522.1 1600.9L524.5 1590.9L516.7 1584.2L526.9 1583.3zM604.1 1542.4L608.1 1551.9L618.4 1552.7L610.6 1559.5L613 1569.5L604.1 1564.2L595.3 1569.5L597.7 1559.5L589.9 1552.7L600.1 1551.9zM677.4 1512.6L681.4 1522.1L691.6 1522.9L683.8 1529.7L686.2 1539.7L677.4 1534.4L668.6 1539.7L670.9 1529.7L663.1 1522.9L673.4 1522.1zM750.6 1484.4L754.6 1493.9L764.9 1494.8L757.1 1501.5L759.4 1511.5L750.6 1506.2L741.8 1511.5L744.1 1501.5L736.3 1494.8L746.6 1493.9zM823.8 1457.8L827.8 1467.3L838.1 1468.2L830.3 1474.9L832.6 1484.9L823.8 1479.6L815 1484.9L817.3 1474.9L809.5 1468.2L819.8 1467.3zM897 1432.8L901 1442.3L911.3 1443.1L903.5 1449.9L905.9 1459.9L897 1454.6L888.2 1459.9L890.6 1449.9L882.8 1443.1L893 1442.3zM970.3 1409.3L974.3 1418.8L984.5 1419.7L976.7 1426.4L979.1 1436.4L970.3 1431.1L961.4 1436.4L963.8 1426.4L956 1419.7L966.3 1418.8zM1043.5 1387.4L1047.5 1396.9L1057.7 1397.7L1049.9 1404.5L1052.3 1414.5L1043.5 1409.2L1034.7 1414.5L1037 1404.5L1029.2 1397.7L1039.5 1396.9z" fill="#E86C00"/>
<path d="M473.1 1661.2L515.5 1641.2M546.5 1627.2L588.6 1608.8M619.9 1595.7L661.6 1578.9M693.3 1566.6L734.7 1550.9M766.6 1539.1L807.8 1524.1M839.9 1512.8L881 1498.4M913.1 1487.4L954.2 1473.4M986.4 1462.6L1027.3 1449" stroke="#009E9E" stroke-width="4" fill="none"/>
<path d="M163.1 1816.7L177.8 1827.4L172.2 1844.7L154 1844.7L148.4 1827.4zM166 1815.1L180.8 1825.8L175.2 1843.1L156.9 1843.1L151.3 1825.8zM169 1813.4L183.7 1824.1L178.1 1841.4L159.9 1841.4L154.3 1824.1zM171.9 1811.5L186.7 1822.2L181 1839.5L162.8 1839.5L157.2 1822.2zM174.9 1809.4L189.6 1820.1L184 1837.5L165.8 1837.5L160.1 1820.1zM177.8 1807.3L192.6 1818L186.9 1835.3L168.7 1835.3L163.1 1818zM180.8 1804.8L195.5 1815.6L189.9 1832.9L171.7 1832.9L166 1815.6zM183.7 1802.1L198.5 1812.8L192.8 1830.1L174.6 1830.1L169 1812.8zM186.7 1799.2L201.4 1809.9L195.8 1827.3L177.6 1827.3L171.9 1809.9zM189.6 1796.4L204.4 1807.1L198.7 1824.4L180.5 1824.4L174.9 1807.1zM192.6 1793.8L207.3 1804.5L201.7 1821.8L183.4 1821.8L177.8 1804.5zM195.5 1791.3L210.2 1802L204.6 1819.3L186.4 1819.3L180.8 1802zM198.5 1788.7L213.2 1799.4L207.6 1816.7L189.3 1816.7L183.7 1799.4zM199.9 1787.4L214.7 1798.2L209 1815.5L190.8 1815.5L185.2 1798.2zM207.3 1781.7L222 1792.4L216.4 1809.8L198.2 1809.8L192.5 1792.4zM214.7 1777.9L229.4 1788.6L223.8 1805.9L205.5 1805.9L199.9 1788.6zM222 1775.5L236.8 1786.2L231.1 1803.5L212.9 1803.5L207.3 1786.2zM229.4 1773L244.1 1783.8L238.5 1801.1L220.3 1801.1L214.6 1783.8zM236.8 1770.1L251.5 1780.8L245.9 1798.1L227.6 1798.1L222 1780.8zM251.5 1763.5L266.2 1774.2L260.6 1791.5L242.4 1791.5L236.7 1774.2zM266.2 1756.3L281 1767L275.3 1784.3L257.1 1784.3L251.5 1767zM280.9 1748.8L295.7 1759.5L290.1 1776.8L271.8 1776.8L266.2 1759.5zM295.7 1741.4L310.4 1752.1L304.8 1769.4L286.6 1769.4L280.9 1752.1zM310.4 1733.7L325.1 1744.4L319.5 1761.8L301.3 1761.8L295.7 1744.4zM339.9 1717L354.6 1727.7L349 1745.1L330.7 1745.1L325.1 1727.7zM369.3 1700.2L384.1 1710.9L378.4 1728.2L360.2 1728.2L354.6 1710.9zM398.8 1684.3L413.5 1695L407.9 1712.3L389.7 1712.3L384 1695zM428.2 1668.9L443 1679.6L437.4 1696.9L419.1 1696.9L413.5 1679.6zM457.7 1654.1L472.4 1664.8L466.8 1682.2L448.6 1682.2L443 1664.8zM530.9 1619.7L545.7 1630.4L540 1647.7L521.8 1647.7L516.2 1630.4zM604.1 1587.7L618.9 1598.4L613.3 1615.8L595 1615.8L589.4 1598.4zM677.4 1558.3L692.1 1569L686.5 1586.3L668.3 1586.3L662.6 1569zM750.6 1530.5L765.3 1541.3L759.7 1558.6L741.5 1558.6L735.8 1541.3zM823.8 1504.1L838.6 1514.8L832.9 1532.1L814.7 1532.1L809.1 1514.8zM897 1478.6L911.8 1489.3L906.1 1506.6L887.9 1506.6L882.3 1489.3zM970.3 1453.6L985 1464.3L979.4 1481.7L961.1 1481.7L955.5 1464.3zM1043.5 1429.4L1058.2 1440.1L1052.6 1457.4L1034.4 1457.4L1028.7 1440.1z" fill="#009E9E"/>
<path d="M473.2 1700.5L515.4 1681.8M546.6 1668.3L588.5 1650.5M619.9 1637.6L661.6 1620.8M693.2 1608.4L734.7 1592.4M766.5 1580.4L807.9 1565M839.8 1553.4L881 1538.6M913.1 1527.3L954.2 1512.9M986.4 1501.9L1027.4 1488.1" stroke="#6B5FCC" stroke-width="4" fill="none"/>
<g fill="url(#gP)">
<circle cx="163.1" cy="1849.2" r="13.75"/><circle cx="166" cy="1847.7" r="13.75"/><circle cx="169" cy="1846.1" r="13.75"/><circle cx="171.9" cy="1844.5" r="13.75"/><circle cx="174.9" cy="1842.8" r="13.75"/><circle cx="177.8" cy="1841.1" r="13.75"/><circle cx="180.8" cy="1839.3" r="13.75"/><circle cx="183.7" cy="1837.3" r="13.75"/><circle cx="186.7" cy="1835.3" r="13.75"/><circle cx="189.6" cy="1833.3" r="13.75"/><circle cx="192.6" cy="1831.4" r="13.75"/><circle cx="195.5" cy="1829.4" r="13.75"/><circle cx="198.5" cy="1827.5" r="13.75"/><circle cx="199.9" cy="1826.5" r="13.75"/><circle cx="207.3" cy="1821.8" r="13.75"/><circle cx="214.7" cy="1817.8" r="13.75"/><circle cx="222" cy="1814.6" r="13.75"/><circle cx="229.4" cy="1811.4" r="13.75"/><circle cx="236.8" cy="1807.7" r="13.75"/><circle cx="251.5" cy="1800.4" r="13.75"/><circle cx="266.2" cy="1794.9" r="13.75"/><circle cx="280.9" cy="1789.8" r="13.75"/><circle cx="295.7" cy="1784.5" r="13.75"/><circle cx="310.4" cy="1778.7" r="13.75"/><circle cx="339.9" cy="1764.4" r="13.75"/><circle cx="369.3" cy="1749.2" r="13.75"/><circle cx="398.8" cy="1734.9" r="13.75"/><circle cx="428.2" cy="1721" r="13.75"/><circle cx="457.7" cy="1707.4" r="13.75"/><circle cx="530.9" cy="1674.9" r="13.75"/><circle cx="604.1" cy="1643.9" r="13.75"/><circle cx="677.4" cy="1614.5" r="13.75"/><circle cx="750.6" cy="1586.3" r="13.75"/><circle cx="823.8" cy="1559.1" r="13.75"/><circle cx="897" cy="1532.9" r="13.75"/><circle cx="970.3" cy="1507.4" r="13.75"/><circle cx="1043.5" cy="1482.7" r="13.75"/>
</g>
<path d="M473.4 1731.5L515.3 1713.9M546.7 1700.9L588.4 1684.1M620 1671.7L661.5 1655.8M693.3 1643.9L734.6 1628.7M766.6 1617.1L807.8 1602.4M839.9 1591L881 1576.5M913.1 1565.2L954.2 1550.7M986.3 1539.3L1027.5 1524.8" stroke="#A08C84" stroke-width="4" fill="none"/>
<path d="M150.1 1865.8h26M163.1 1852.8v26M153 1864.5h26M166 1851.5v26M156 1863.2h26M169 1850.2v26M158.9 1861.9h26M171.9 1848.9v26M161.9 1860.6h26M174.9 1847.6v26M164.8 1859.3h26M177.8 1846.3v26M167.8 1858h26M180.8 1845v26M170.7 1856.7h26M183.7 1843.7v26M173.7 1855.4h26M186.7 1842.4v26M176.6 1854.1h26M189.6 1841.1v26M179.6 1852.8h26M192.6 1839.8v26M182.5 1851.5h26M195.5 1838.5v26M185.5 1850.2h26M198.5 1837.2v26M186.9 1849.5h26M199.9 1836.5v26M194.3 1846.2h26M207.3 1833.2v26M201.7 1842.9h26M214.7 1829.9v26M209 1839.6h26M222 1826.6v26M216.4 1836.3h26M229.4 1823.3v26M223.8 1832.9h26M236.8 1819.9v26M238.5 1826.3h26M251.5 1813.3v26M253.2 1820.7h26M266.2 1807.7v26M267.9 1815.4h26M280.9 1802.4v26M282.7 1809.6h26M295.7 1796.6v26M297.4 1803.6h26M310.4 1790.6v26M326.9 1790.4h26M339.9 1777.4v26M356.3 1776.9h26M369.3 1763.9v26M385.8 1763.8h26M398.8 1750.8v26M415.2 1750.8h26M428.2 1737.8v26M444.7 1738.1h26M457.7 1725.1v26M517.9 1707.3h26M530.9 1694.3v26M591.1 1677.8h26M604.1 1664.8v26M664.4 1649.8h26M677.4 1636.8v26M737.6 1622.8h26M750.6 1609.8v26M810.8 1596.7h26M823.8 1583.7v26M884 1570.9h26M897 1557.9v26M957.3 1545h26M970.3 1532v26M1030.5 1519.1h26M1043.5 1506.1v26" stroke="#A08C84" stroke-width="2.3" fill="none"/>
<path d="M473.6 1749.4L515.1 1733.3M546.8 1721.1L588.3 1705.3M620.1 1693.3L661.4 1677.9M693.3 1666.1L734.6 1651M766.6 1639.5L807.8 1624.9M839.9 1613.6L881 1599.4M913.1 1588.4L954.2 1574.5M986.4 1563.7L1027.3 1550.2" stroke="#F03040" stroke-width="4" fill="none"/>
<path d="M152.6 1860.3l21.0 21.0M152.6 1881.3l21.0 -21.0M155.5 1859l21.0 21.0M155.5 1880l21.0 -21.0M158.5 1857.8l21.0 21.0M158.5 1878.8l21.0 -21.0M161.4 1856.6l21.0 21.0M161.4 1877.6l21.0 -21.0M164.4 1855.3l21.0 21.0M164.4 1876.3l21.0 -21.0M167.3 1854.1l21.0 21.0M167.3 1875.1l21.0 -21.0M170.3 1852.9l21.0 21.0M170.3 1873.9l21.0 -21.0M173.2 1851.6l21.0 21.0M173.2 1872.6l21.0 -21.0M176.2 1850.4l21.0 21.0M176.2 1871.4l21.0 -21.0M179.1 1849.2l21.0 21.0M179.1 1870.2l21.0 -21.0M182.1 1848l21.0 21.0M182.1 1869l21.0 -21.0M185 1846.7l21.0 21.0M185 1867.7l21.0 -21.0M188 1845.5l21.0 21.0M188 1866.5l21.0 -21.0M189.4 1844.9l21.0 21.0M189.4 1865.9l21.0 -21.0M196.8 1841.8l21.0 21.0M196.8 1862.8l21.0 -21.0M204.2 1838.8l21.0 21.0M204.2 1859.8l21.0 -21.0M211.5 1835.7l21.0 21.0M211.5 1856.7l21.0 -21.0M218.9 1832.7l21.0 21.0M218.9 1853.7l21.0 -21.0M226.2 1829.6l21.0 21.0M226.2 1850.6l21.0 -21.0M241 1823.6l21.0 21.0M241 1844.6l21.0 -21.0M255.7 1818.5l21.0 21.0M255.7 1839.5l21.0 -21.0M270.4 1813.6l21.0 21.0M270.4 1834.6l21.0 -21.0M285.2 1808.4l21.0 21.0M285.2 1829.4l21.0 -21.0M299.9 1803l21.0 21.0M299.9 1824l21.0 -21.0M329.4 1791.4l21.0 21.0M329.4 1812.4l21.0 -21.0M358.8 1779.5l21.0 21.0M358.8 1800.5l21.0 -21.0M388.3 1767.9l21.0 21.0M388.3 1788.9l21.0 -21.0M417.7 1756.4l21.0 21.0M417.7 1777.4l21.0 -21.0M447.2 1745l21.0 21.0M447.2 1766l21.0 -21.0M520.4 1716.7l21.0 21.0M520.4 1737.7l21.0 -21.0M593.6 1688.8l21.0 21.0M593.6 1709.8l21.0 -21.0M666.9 1661.4l21.0 21.0M666.9 1682.4l21.0 -21.0M740.1 1634.7l21.0 21.0M740.1 1655.7l21.0 -21.0M813.3 1608.7l21.0 21.0M813.3 1629.7l21.0 -21.0M886.5 1583.3l21.0 21.0M886.5 1604.3l21.0 -21.0M959.8 1558.5l21.0 21.0M959.8 1579.5l21.0 -21.0M1033 1534.3l21.0 21.0M1033 1555.3l21.0 -21.0" stroke="#F03040" stroke-width="1.9" stroke-opacity="0.8" fill="none"/>
<path d="M473.7 1767.2L514.9 1752.4M546.9 1740.8L588.2 1725.8M620.1 1714.2L661.4 1699.3M693.4 1687.8L734.6 1673.3M766.7 1662.2L807.7 1648.3M840 1637.6L880.9 1624.3M913.2 1613.8L954.1 1600.9M986.5 1590.7L1027.2 1578.1" stroke="#479E9E" stroke-width="4" fill="none"/>
<path d="M149.1 1876.6h28M163.1 1862.6v28M152 1875.4h28M166 1861.4v28M155 1874.2h28M169 1860.2v28M157.9 1873h28M171.9 1859v28M160.9 1871.8h28M174.9 1857.8v28M163.8 1870.6h28M177.8 1856.6v28M166.8 1869.4h28M180.8 1855.4v28M169.7 1868.3h28M183.7 1854.3v28M172.7 1867.1h28M186.7 1853.1v28M175.6 1865.9h28M189.6 1851.9v28M178.6 1864.8h28M192.6 1850.8v28M181.5 1863.6h28M195.5 1849.6v28M184.5 1862.4h28M198.5 1848.4v28M185.9 1861.8h28M199.9 1847.8v28M193.3 1858.9h28M207.3 1844.9v28M200.7 1856.1h28M214.7 1842.1v28M208 1853.2h28M222 1839.2v28M215.4 1850.3h28M229.4 1836.3v28M222.8 1847.5h28M236.8 1833.5v28M237.5 1841.9h28M251.5 1827.9v28M252.2 1837.1h28M266.2 1823.1v28M266.9 1832.4h28M280.9 1818.4v28M281.7 1827.6h28M295.7 1813.6v28M296.4 1822.7h28M310.4 1808.7v28M325.9 1812.6h28M339.9 1798.6v28M355.3 1802.4h28M369.3 1788.4v28M384.8 1792.6h28M398.8 1778.6v28M414.2 1782.9h28M428.2 1768.9v28M443.7 1772.9h28M457.7 1758.9v28M516.9 1746.7h28M530.9 1732.7v28M590.1 1719.9h28M604.1 1705.9v28M663.4 1693.5h28M677.4 1679.5v28M736.6 1667.6h28M750.6 1653.6v28M809.8 1642.9h28M823.8 1628.9v28M883 1619h28M897 1605v28M956.3 1595.7h28M970.3 1581.7v28M1029.5 1573h28M1043.5 1559v28" stroke="#479E9E" stroke-width="2.5" fill="none"/>
<path d="M152.6 1866.1l21.0 21.0M152.6 1887.1l21.0 -21.0M155.5 1864.9l21.0 21.0M155.5 1885.9l21.0 -21.0M158.5 1863.7l21.0 21.0M158.5 1884.7l21.0 -21.0M161.4 1862.5l21.0 21.0M161.4 1883.5l21.0 -21.0M164.4 1861.3l21.0 21.0M164.4 1882.3l21.0 -21.0M167.3 1860.1l21.0 21.0M167.3 1881.1l21.0 -21.0M170.3 1858.9l21.0 21.0M170.3 1879.9l21.0 -21.0M173.2 1857.8l21.0 21.0M173.2 1878.8l21.0 -21.0M176.2 1856.6l21.0 21.0M176.2 1877.6l21.0 -21.0M179.1 1855.4l21.0 21.0M179.1 1876.4l21.0 -21.0M182.1 1854.3l21.0 21.0M182.1 1875.3l21.0 -21.0M185 1853.1l21.0 21.0M185 1874.1l21.0 -21.0M188 1851.9l21.0 21.0M188 1872.9l21.0 -21.0M189.4 1851.3l21.0 21.0M189.4 1872.3l21.0 -21.0M196.8 1848.4l21.0 21.0M196.8 1869.4l21.0 -21.0M204.2 1845.6l21.0 21.0M204.2 1866.6l21.0 -21.0M211.5 1842.7l21.0 21.0M211.5 1863.7l21.0 -21.0M218.9 1839.8l21.0 21.0M218.9 1860.8l21.0 -21.0M226.2 1837l21.0 21.0M226.2 1858l21.0 -21.0M241 1831.4l21.0 21.0M241 1852.4l21.0 -21.0M255.7 1826.6l21.0 21.0M255.7 1847.6l21.0 -21.0M270.4 1821.9l21.0 21.0M270.4 1842.9l21.0 -21.0M285.2 1817.1l21.0 21.0M285.2 1838.1l21.0 -21.0M299.9 1812.2l21.0 21.0M299.9 1833.2l21.0 -21.0M329.4 1802.1l21.0 21.0M329.4 1823.1l21.0 -21.0M358.8 1791.9l21.0 21.0M358.8 1812.9l21.0 -21.0M388.3 1782.1l21.0 21.0M388.3 1803.1l21.0 -21.0M417.7 1772.4l21.0 21.0M417.7 1793.4l21.0 -21.0M447.2 1762.4l21.0 21.0M447.2 1783.4l21.0 -21.0M520.4 1736.2l21.0 21.0M520.4 1757.2l21.0 -21.0M593.6 1709.4l21.0 21.0M593.6 1730.4l21.0 -21.0M666.9 1683l21.0 21.0M666.9 1704l21.0 -21.0M740.1 1657.1l21.0 21.0M740.1 1678.1l21.0 -21.0M813.3 1632.4l21.0 21.0M813.3 1653.4l21.0 -21.0M886.5 1608.5l21.0 21.0M886.5 1629.5l21.0 -21.0M959.8 1585.2l21.0 21.0M959.8 1606.2l21.0 -21.0M1033 1562.5l21.0 21.0M1033 1583.5l21.0 -21.0" stroke="#479E9E" stroke-width="1.7" stroke-opacity="0.6" fill="none"/>
<path d="M473.8 1777.5L514.8 1763.9M547 1753.2L588 1739.3M620.3 1728.5L661.3 1714.7M693.5 1704L734.5 1690.4M766.8 1679.8L807.6 1666.6M840 1656.3L880.8 1643.4M913.3 1633.2L954 1620.5M986.5 1610.4L1027.2 1597.9" stroke="#E0A000" stroke-width="4" fill="none"/>
<path d="M149.1 1881.5h28M152 1880.4h28M155 1879.2h28M157.9 1878.1h28M160.9 1877h28M163.8 1875.8h28M166.8 1874.7h28M169.7 1873.5h28M172.7 1872.4h28M175.6 1871.3h28M178.6 1870.2h28M181.5 1869h28M184.5 1867.9h28M185.9 1867.4h28M193.3 1864.6h28M200.7 1861.8h28M208 1859.1h28M215.4 1856.3h28M222.8 1853.6h28M237.5 1848.3h28M252.2 1843.4h28M266.9 1838.8h28M281.7 1834h28M296.4 1829.3h28M325.9 1819.8h28M355.3 1810.3h28M384.8 1801.2h28M414.2 1792.1h28M443.7 1782.9h28M516.9 1758.6h28M590.1 1733.9h28M663.4 1709.3h28M736.6 1685h28M809.8 1661.4h28M883 1638.3h28M956.3 1615.4h28M1029.5 1592.9h28" stroke="#E0A000" stroke-width="3.6" fill="none"/>
<path d="M473.9 1784.4L514.7 1771.5M547.1 1761L588 1747.6M620.3 1736.9L661.2 1723.4M693.5 1712.8L734.4 1699.4M766.8 1689L807.6 1676.1M840.1 1666L880.8 1653.3M913.3 1643.3L954 1630.8M986.5 1620.9L1027.2 1608.6" stroke="#FF0000" stroke-width="4" fill="none"/>
<path d="M163.1 1870.9v28M166 1869.7v28M169 1868.5v28M171.9 1867.3v28M174.9 1866.1v28M177.8 1864.9v28M180.8 1863.8v28M183.7 1862.6v28M186.7 1861.4v28M189.6 1860.3v28M192.6 1859.1v28M195.5 1858v28M198.5 1856.8v28M199.9 1856.3v28M207.3 1853.4v28M214.7 1850.6v28M222 1847.8v28M229.4 1845.1v28M236.8 1842.4v28M251.5 1837v28M266.2 1832v28M280.9 1827.2v28M295.7 1822.4v28M310.4 1817.8v28M339.9 1808.9v28M369.3 1800.3v28M398.8 1792.1v28M428.2 1783.9v28M457.7 1775.5v28M530.9 1752.4v28M604.1 1728.3v28M677.4 1704.1v28M750.6 1680.1v28M823.8 1657v28M897 1634.3v28M970.3 1611.9v28M1043.5 1589.7v28" stroke="#FF0000" stroke-width="3.6" fill="none"/>
<path d="M473.9 1792.7L514.7 1779.8M547.1 1769.5L587.9 1756.6M620.4 1746.3L661.2 1733.5M693.6 1723.4L734.4 1710.8M766.9 1700.9L807.5 1688.7M840.1 1679.1L880.7 1667.3M913.4 1657.9L953.9 1646.3M986.6 1637L1027.1 1625.7" stroke="#105FA0" stroke-width="4" fill="none"/>
<path d="M151.1 1875.3h24v24h-24zM154 1874.5h24v24h-24zM157 1873.6h24v24h-24zM159.9 1872.7h24v24h-24zM162.9 1871.8h24v24h-24zM165.8 1870.9h24v24h-24zM168.8 1870h24v24h-24zM171.7 1869.1h24v24h-24zM174.7 1868.2h24v24h-24zM177.6 1867.3h24v24h-24zM180.6 1866.4h24v24h-24zM183.5 1865.5h24v24h-24zM186.5 1864.6h24v24h-24zM187.9 1864.2h24v24h-24zM195.3 1861.9h24v24h-24zM202.7 1859.7h24v24h-24zM210 1857.4h24v24h-24zM217.4 1855.2h24v24h-24zM224.8 1853h24v24h-24zM239.5 1848.5h24v24h-24zM254.2 1844h24v24h-24zM268.9 1839.5h24v24h-24zM283.7 1835h24v24h-24zM298.4 1830.6h24v24h-24zM327.9 1821.6h24v24h-24zM357.3 1812.7h24v24h-24zM386.8 1803.8h24v24h-24zM416.2 1794.8h24v24h-24zM445.7 1785.8h24v24h-24zM518.9 1762.7h24v24h-24zM592.1 1739.4h24v24h-24zM665.4 1716.4h24v24h-24zM738.6 1693.7h24v24h-24zM811.8 1671.9h24v24h-24zM885 1650.5h24v24h-24zM958.3 1629.6h24v24h-24zM1031.5 1609.1h24v24h-24z" fill="#105FA0"/>
<path d="M474 1795.4L514.6 1783.3M547.2 1773.6L587.8 1761.6M620.5 1752L661.1 1740.1M693.7 1730.6L734.3 1718.8M766.9 1709.3L807.5 1697.6M840.2 1688.2L880.7 1676.6M913.4 1667.2L953.9 1655.7M986.6 1646.4L1027.1 1634.9" stroke="#FFC200" stroke-width="4" fill="none"/>
<path d="M149.3 1888.2a13.75 13.75 0 1 0 27.5 0a13.75 13.75 0 1 0 -27.5 0zM152.3 1887.3a13.75 13.75 0 1 0 27.5 0a13.75 13.75 0 1 0 -27.5 0zM155.2 1886.4a13.75 13.75 0 1 0 27.5 0a13.75 13.75 0 1 0 -27.5 0zM158.2 1885.6a13.75 13.75 0 1 0 27.5 0a13.75 13.75 0 1 0 -27.5 0zM161.1 1884.7a13.75 13.75 0 1 0 27.5 0a13.75 13.75 0 1 0 -27.5 0zM164.1 1883.8a13.75 13.75 0 1 0 27.5 0a13.75 13.75 0 1 0 -27.5 0zM167 1882.9a13.75 13.75 0 1 0 27.5 0a13.75 13.75 0 1 0 -27.5 0zM170 1882a13.75 13.75 0 1 0 27.5 0a13.75 13.75 0 1 0 -27.5 0zM172.9 1881.2a13.75 13.75 0 1 0 27.5 0a13.75 13.75 0 1 0 -27.5 0zM175.9 1880.3a13.75 13.75 0 1 0 27.5 0a13.75 13.75 0 1 0 -27.5 0zM178.8 1879.4a13.75 13.75 0 1 0 27.5 0a13.75 13.75 0 1 0 -27.5 0zM181.8 1878.5a13.75 13.75 0 1 0 27.5 0a13.75 13.75 0 1 0 -27.5 0zM184.7 1877.7a13.75 13.75 0 1 0 27.5 0a13.75 13.75 0 1 0 -27.5 0zM186.2 1877.2a13.75 13.75 0 1 0 27.5 0a13.75 13.75 0 1 0 -27.5 0zM193.5 1875a13.75 13.75 0 1 0 27.5 0a13.75 13.75 0 1 0 -27.5 0zM200.9 1872.8a13.75 13.75 0 1 0 27.5 0a13.75 13.75 0 1 0 -27.5 0zM208.3 1870.6a13.75 13.75 0 1 0 27.5 0a13.75 13.75 0 1 0 -27.5 0zM215.6 1868.4a13.75 13.75 0 1 0 27.5 0a13.75 13.75 0 1 0 -27.5 0zM223 1866.2a13.75 13.75 0 1 0 27.5 0a13.75 13.75 0 1 0 -27.5 0zM237.7 1861.8a13.75 13.75 0 1 0 27.5 0a13.75 13.75 0 1 0 -27.5 0zM252.5 1857.4a13.75 13.75 0 1 0 27.5 0a13.75 13.75 0 1 0 -27.5 0zM267.2 1853a13.75 13.75 0 1 0 27.5 0a13.75 13.75 0 1 0 -27.5 0zM281.9 1848.6a13.75 13.75 0 1 0 27.5 0a13.75 13.75 0 1 0 -27.5 0zM296.6 1844.2a13.75 13.75 0 1 0 27.5 0a13.75 13.75 0 1 0 -27.5 0zM326.1 1835.4a13.75 13.75 0 1 0 27.5 0a13.75 13.75 0 1 0 -27.5 0zM355.6 1826.6a13.75 13.75 0 1 0 27.5 0a13.75 13.75 0 1 0 -27.5 0zM385 1817.8a13.75 13.75 0 1 0 27.5 0a13.75 13.75 0 1 0 -27.5 0zM414.5 1809a13.75 13.75 0 1 0 27.5 0a13.75 13.75 0 1 0 -27.5 0zM444 1800.3a13.75 13.75 0 1 0 27.5 0a13.75 13.75 0 1 0 -27.5 0zM517.2 1778.5a13.75 13.75 0 1 0 27.5 0a13.75 13.75 0 1 0 -27.5 0zM590.4 1756.8a13.75 13.75 0 1 0 27.5 0a13.75 13.75 0 1 0 -27.5 0zM663.6 1735.3a13.75 13.75 0 1 0 27.5 0a13.75 13.75 0 1 0 -27.5 0zM736.8 1714a13.75 13.75 0 1 0 27.5 0a13.75 13.75 0 1 0 -27.5 0zM810.1 1692.9a13.75 13.75 0 1 0 27.5 0a13.75 13.75 0 1 0 -27.5 0zM883.3 1671.9a13.75 13.75 0 1 0 27.5 0a13.75 13.75 0 1 0 -27.5 0zM956.5 1651a13.75 13.75 0 1 0 27.5 0a13.75 13.75 0 1 0 -27.5 0zM1029.7 1630.3a13.75 13.75 0 1 0 27.5 0a13.75 13.75 0 1 0 -27.5 0z" fill="#FFC200"/>
<path d="M474 1798.4L514.6 1786.6M547.2 1777.1L587.8 1765.3M620.5 1755.8L661 1744.1M693.7 1734.7L734.3 1723.1M766.9 1713.7L807.5 1702.2M840.2 1692.9L880.7 1681.5M913.4 1672.4L953.9 1661.1M986.6 1652L1027.1 1640.9" stroke="#00C06E" stroke-width="4" fill="none"/>
<path d="M163.1 1875.4l15.5 27h-31zM166 1874.6l15.5 27h-31zM169 1873.7l15.5 27h-31zM171.9 1872.9l15.5 27h-31zM174.9 1872l15.5 27h-31zM177.8 1871.2l15.5 27h-31zM180.8 1870.3l15.5 27h-31zM183.7 1869.4l15.5 27h-31zM186.7 1868.6l15.5 27h-31zM189.6 1867.7l15.5 27h-31zM192.6 1866.9l15.5 27h-31zM195.5 1866l15.5 27h-31zM198.5 1865.2l15.5 27h-31zM199.9 1864.7l15.5 27h-31zM207.3 1862.6l15.5 27h-31zM214.7 1860.4l15.5 27h-31zM222 1858.3l15.5 27h-31zM229.4 1856.2l15.5 27h-31zM236.8 1854l15.5 27h-31zM251.5 1849.7l15.5 27h-31zM266.2 1845.4l15.5 27h-31zM280.9 1841.1l15.5 27h-31zM295.7 1836.8l15.5 27h-31zM310.4 1832.6l15.5 27h-31zM339.9 1824l15.5 27h-31zM369.3 1815.4l15.5 27h-31zM398.8 1806.8l15.5 27h-31zM428.2 1798.2l15.5 27h-31zM457.7 1789.7l15.5 27h-31zM530.9 1768.3l15.5 27h-31zM604.1 1747l15.5 27h-31zM677.4 1725.9l15.5 27h-31zM750.6 1704.9l15.5 27h-31zM823.8 1684l15.5 27h-31zM897 1663.4l15.5 27h-31zM970.3 1643l15.5 27h-31zM1043.5 1622.8l15.5 27h-31z" fill="#00C06E"/>
<path d="M474 1801.4L514.6 1789.8M547.3 1780.4L587.8 1768.9M620.5 1759.5L661 1748M693.7 1738.8L734.2 1727.3M767 1718.2L807.4 1706.9M840.2 1697.9L880.6 1686.7M913.4 1677.7L953.9 1666.7M986.7 1657.8L1027.1 1646.9" stroke="#6464A2" stroke-width="4" fill="none"/>
<path d="M163.1 1903.2l15.5 -27h-31zM166 1902.4l15.5 -27h-31zM169 1901.5l15.5 -27h-31zM171.9 1900.7l15.5 -27h-31zM174.9 1899.9l15.5 -27h-31zM177.8 1899l15.5 -27h-31zM180.8 1898.2l15.5 -27h-31zM183.7 1897.3l15.5 -27h-31zM186.7 1896.5l15.5 -27h-31zM189.6 1895.7l15.5 -27h-31zM192.6 1894.8l15.5 -27h-31zM195.5 1894l15.5 -27h-31zM198.5 1893.2l15.5 -27h-31zM199.9 1892.7l15.5 -27h-31zM207.3 1890.7l15.5 -27h-31zM214.7 1888.6l15.5 -27h-31zM222 1886.5l15.5 -27h-31zM229.4 1884.4l15.5 -27h-31zM236.8 1882.3l15.5 -27h-31zM251.5 1878.1l15.5 -27h-31zM266.2 1873.9l15.5 -27h-31zM280.9 1869.7l15.5 -27h-31zM295.7 1865.6l15.5 -27h-31zM310.4 1861.4l15.5 -27h-31zM339.9 1853l15.5 -27h-31zM369.3 1844.7l15.5 -27h-31zM398.8 1836.3l15.5 -27h-31zM428.2 1827.9l15.5 -27h-31zM457.7 1819.6l15.5 -27h-31zM530.9 1798.6l15.5 -27h-31zM604.1 1777.7l15.5 -27h-31zM677.4 1756.9l15.5 -27h-31zM750.6 1736.2l15.5 -27h-31zM823.8 1715.9l15.5 -27h-31zM897 1695.7l15.5 -27h-31zM970.3 1675.7l15.5 -27h-31zM1043.5 1655.9l15.5 -27h-31z" fill="#6464A2"/>
<path d="M474.1 1804.4L514.6 1793M547.3 1783.8L587.8 1772.4M620.5 1763.3L661 1752M693.8 1742.8L734.2 1731.6M767 1722.6L807.4 1711.6M840.2 1702.7L880.6 1691.8M913.5 1683L953.8 1672.2M986.7 1663.5L1027 1652.9" stroke="#999999" stroke-width="4" fill="none"/>
<path d="M163.1 1874l16.5 16.5l-16.5 16.5l-16.5 -16.5zM166 1873.1l16.5 16.5l-16.5 16.5l-16.5 -16.5zM169 1872.3l16.5 16.5l-16.5 16.5l-16.5 -16.5zM171.9 1871.5l16.5 16.5l-16.5 16.5l-16.5 -16.5zM174.9 1870.7l16.5 16.5l-16.5 16.5l-16.5 -16.5zM177.8 1869.9l16.5 16.5l-16.5 16.5l-16.5 -16.5zM180.8 1869.1l16.5 16.5l-16.5 16.5l-16.5 -16.5zM183.7 1868.3l16.5 16.5l-16.5 16.5l-16.5 -16.5zM186.7 1867.4l16.5 16.5l-16.5 16.5l-16.5 -16.5zM189.6 1866.6l16.5 16.5l-16.5 16.5l-16.5 -16.5zM192.6 1865.8l16.5 16.5l-16.5 16.5l-16.5 -16.5zM195.5 1865l16.5 16.5l-16.5 16.5l-16.5 -16.5zM198.5 1864.2l16.5 16.5l-16.5 16.5l-16.5 -16.5zM199.9 1863.8l16.5 16.5l-16.5 16.5l-16.5 -16.5zM207.3 1861.7l16.5 16.5l-16.5 16.5l-16.5 -16.5zM214.7 1859.7l16.5 16.5l-16.5 16.5l-16.5 -16.5zM222 1857.7l16.5 16.5l-16.5 16.5l-16.5 -16.5zM229.4 1855.6l16.5 16.5l-16.5 16.5l-16.5 -16.5zM236.8 1853.6l16.5 16.5l-16.5 16.5l-16.5 -16.5zM251.5 1849.5l16.5 16.5l-16.5 16.5l-16.5 -16.5zM266.2 1845.4l16.5 16.5l-16.5 16.5l-16.5 -16.5zM280.9 1841.4l16.5 16.5l-16.5 16.5l-16.5 -16.5zM295.7 1837.3l16.5 16.5l-16.5 16.5l-16.5 -16.5zM310.4 1833.2l16.5 16.5l-16.5 16.5l-16.5 -16.5zM339.9 1825.1l16.5 16.5l-16.5 16.5l-16.5 -16.5zM369.3 1816.9l16.5 16.5l-16.5 16.5l-16.5 -16.5zM398.8 1808.8l16.5 16.5l-16.5 16.5l-16.5 -16.5zM428.2 1800.6l16.5 16.5l-16.5 16.5l-16.5 -16.5zM457.7 1792.5l16.5 16.5l-16.5 16.5l-16.5 -16.5zM530.9 1771.9l16.5 16.5l-16.5 16.5l-16.5 -16.5zM604.1 1751.4l16.5 16.5l-16.5 16.5l-16.5 -16.5zM677.4 1730.9l16.5 16.5l-16.5 16.5l-16.5 -16.5zM750.6 1710.6l16.5 16.5l-16.5 16.5l-16.5 -16.5zM823.8 1690.6l16.5 16.5l-16.5 16.5l-16.5 -16.5zM897 1670.9l16.5 16.5l-16.5 16.5l-16.5 -16.5zM970.3 1651.3l16.5 16.5l-16.5 16.5l-16.5 -16.5zM1043.5 1632l16.5 16.5l-16.5 16.5l-16.5 -16.5z" fill="#999999"/>
<path d="M474.1 1807.4L514.5 1796.2M547.3 1787.2L587.8 1776M620.5 1767L661 1755.9M693.8 1746.9L734.2 1735.9M767 1727.1L807.4 1716.3M840.3 1707.5L880.6 1696.9M913.5 1688.3L953.8 1677.8M986.7 1669.2L1027 1658.8" stroke="#FF6666" stroke-width="4" fill="none"/>
<path d="M149.3 1891.2l27.6 -15.5v31zM152.2 1890.4l27.6 -15.5v31zM155.2 1889.6l27.6 -15.5v31zM158.1 1888.8l27.6 -15.5v31zM161.1 1888l27.6 -15.5v31zM164 1887.3l27.6 -15.5v31zM167 1886.5l27.6 -15.5v31zM169.9 1885.7l27.6 -15.5v31zM172.9 1884.9l27.6 -15.5v31zM175.8 1884.1l27.6 -15.5v31zM178.8 1883.3l27.6 -15.5v31zM181.7 1882.5l27.6 -15.5v31zM184.7 1881.7l27.6 -15.5v31zM186.1 1881.3l27.6 -15.5v31zM193.5 1879.3l27.6 -15.5v31zM200.9 1877.3l27.6 -15.5v31zM208.2 1875.4l27.6 -15.5v31zM215.6 1873.4l27.6 -15.5v31zM222.9 1871.4l27.6 -15.5v31zM237.7 1867.4l27.6 -15.5v31zM252.4 1863.5l27.6 -15.5v31zM267.1 1859.5l27.6 -15.5v31zM281.9 1855.5l27.6 -15.5v31zM296.6 1851.6l27.6 -15.5v31zM326.1 1843.6l27.6 -15.5v31zM355.5 1835.7l27.6 -15.5v31zM385 1827.8l27.6 -15.5v31zM414.4 1819.9l27.6 -15.5v31zM443.9 1811.9l27.6 -15.5v31zM517.1 1791.7l27.6 -15.5v31zM590.3 1771.5l27.6 -15.5v31zM663.6 1751.4l27.6 -15.5v31zM736.8 1731.4l27.6 -15.5v31zM810 1711.9l27.6 -15.5v31zM883.2 1692.6l27.6 -15.5v31zM956.5 1673.5l27.6 -15.5v31zM1029.7 1654.6l27.6 -15.5v31z" fill="#FF6666"/>
<path d="M474.1 1810.4L514.5 1799.5M547.3 1790.6L587.7 1779.6M620.6 1770.7L661 1759.8M693.8 1751L734.2 1740.2M767 1731.5L807.4 1720.9M840.3 1712.4L880.6 1702M913.5 1693.6L953.8 1683.3M986.7 1674.9L1027 1664.8" stroke="#4499DD" stroke-width="4" fill="none"/>
<path d="M176.9 1892l-27.6 -15.5v31zM179.8 1891.2l-27.6 -15.5v31zM182.8 1890.4l-27.6 -15.5v31zM185.7 1889.7l-27.6 -15.5v31zM188.7 1888.9l-27.6 -15.5v31zM191.6 1888.1l-27.6 -15.5v31zM194.6 1887.3l-27.6 -15.5v31zM197.5 1886.6l-27.6 -15.5v31zM200.5 1885.8l-27.6 -15.5v31zM203.4 1885l-27.6 -15.5v31zM206.4 1884.3l-27.6 -15.5v31zM209.3 1883.5l-27.6 -15.5v31zM212.3 1882.7l-27.6 -15.5v31zM213.7 1882.3l-27.6 -15.5v31zM221.1 1880.4l-27.6 -15.5v31zM228.5 1878.5l-27.6 -15.5v31zM235.8 1876.5l-27.6 -15.5v31zM243.2 1874.6l-27.6 -15.5v31zM250.6 1872.7l-27.6 -15.5v31zM265.3 1868.8l-27.6 -15.5v31zM280 1865l-27.6 -15.5v31zM294.7 1861.1l-27.6 -15.5v31zM309.5 1857.2l-27.6 -15.5v31zM324.2 1853.4l-27.6 -15.5v31zM353.7 1845.7l-27.6 -15.5v31zM383.1 1838l-27.6 -15.5v31zM412.6 1830.3l-27.6 -15.5v31zM442 1822.6l-27.6 -15.5v31zM471.5 1814.8l-27.6 -15.5v31zM544.7 1795l-27.6 -15.5v31zM617.9 1775.2l-27.6 -15.5v31zM691.2 1755.4l-27.6 -15.5v31zM764.4 1735.8l-27.6 -15.5v31zM837.6 1716.6l-27.6 -15.5v31zM910.8 1697.8l-27.6 -15.5v31zM984.1 1679.1l-27.6 -15.5v31zM1057.3 1660.7l-27.6 -15.5v31z" fill="#4499DD"/>
<path d="M474.1 1813.3L514.5 1802.7M547.4 1794L587.7 1783.2M620.6 1774.5L660.9 1763.7M693.8 1755.1L734.1 1744.5M767.1 1735.9L807.3 1725.6M840.3 1717.2L880.6 1707.1M913.5 1698.8L953.8 1688.8M986.8 1680.7L1027 1670.8" stroke="#E86C00" stroke-width="4" fill="none"/>
<path d="M163.1 1877.9L175.9 1885.3L175.9 1900.1L163.1 1907.5L150.3 1900.1L150.3 1885.3zM166 1877.2L178.9 1884.6L178.9 1899.4L166 1906.8L153.2 1899.4L153.2 1884.6zM169 1876.4L181.8 1883.8L181.8 1898.6L169 1906L156.2 1898.6L156.2 1883.8zM171.9 1875.7L184.8 1883.1L184.8 1897.9L171.9 1905.3L159.1 1897.9L159.1 1883.1zM174.9 1874.9L187.7 1882.3L187.7 1897.1L174.9 1904.5L162.1 1897.1L162.1 1882.3zM177.8 1874.2L190.6 1881.6L190.6 1896.4L177.8 1903.8L165 1896.4L165 1881.6zM180.8 1873.4L193.6 1880.8L193.6 1895.6L180.8 1903L168 1895.6L168 1880.8zM183.7 1872.7L196.5 1880.1L196.5 1894.9L183.7 1902.3L170.9 1894.9L170.9 1880.1zM186.7 1871.9L199.5 1879.3L199.5 1894.1L186.7 1901.5L173.9 1894.1L173.9 1879.3zM189.6 1871.2L202.4 1878.6L202.4 1893.4L189.6 1900.8L176.8 1893.4L176.8 1878.6zM192.6 1870.4L205.4 1877.8L205.4 1892.6L192.6 1900L179.7 1892.6L179.7 1877.8zM195.5 1869.7L208.3 1877.1L208.3 1891.9L195.5 1899.3L182.7 1891.9L182.7 1877.1zM198.5 1868.9L211.3 1876.3L211.3 1891.1L198.5 1898.5L185.6 1891.1L185.6 1876.3zM199.9 1868.6L212.7 1876L212.7 1890.8L199.9 1898.2L187.1 1890.8L187.1 1876zM207.3 1866.7L220.1 1874.1L220.1 1888.9L207.3 1896.3L194.5 1888.9L194.5 1874.1zM214.7 1864.8L227.5 1872.2L227.5 1887L214.7 1894.4L201.8 1887L201.8 1872.2zM222 1862.9L234.8 1870.3L234.8 1885.1L222 1892.5L209.2 1885.1L209.2 1870.3zM229.4 1861.1L242.2 1868.5L242.2 1883.3L229.4 1890.7L216.6 1883.3L216.6 1868.5zM236.8 1859.2L249.6 1866.6L249.6 1881.4L236.8 1888.8L223.9 1881.4L223.9 1866.6zM251.5 1855.4L264.3 1862.8L264.3 1877.6L251.5 1885L238.7 1877.6L238.7 1862.8zM266.2 1851.7L279 1859.1L279 1873.9L266.2 1881.3L253.4 1873.9L253.4 1859.1zM280.9 1847.9L293.8 1855.3L293.8 1870.1L280.9 1877.5L268.1 1870.1L268.1 1855.3zM295.7 1844.2L308.5 1851.6L308.5 1866.4L295.7 1873.8L282.9 1866.4L282.9 1851.6zM310.4 1840.4L323.2 1847.8L323.2 1862.6L310.4 1870L297.6 1862.6L297.6 1847.8zM339.9 1832.9L352.7 1840.3L352.7 1855.1L339.9 1862.5L327 1855.1L327 1840.3zM369.3 1825.5L382.1 1832.9L382.1 1847.7L369.3 1855.1L356.5 1847.7L356.5 1832.9zM398.8 1818L411.6 1825.4L411.6 1840.2L398.8 1847.6L386 1840.2L386 1825.4zM428.2 1810.5L441.1 1817.9L441.1 1832.7L428.2 1840.1L415.4 1832.7L415.4 1817.9zM457.7 1802.9L470.5 1810.3L470.5 1825.1L457.7 1832.5L444.9 1825.1L444.9 1810.3zM530.9 1783.5L543.7 1790.9L543.7 1805.7L530.9 1813.1L518.1 1805.7L518.1 1790.9zM604.1 1764L617 1771.4L617 1786.2L604.1 1793.6L591.3 1786.2L591.3 1771.4zM677.4 1744.6L690.2 1752L690.2 1766.8L677.4 1774.2L664.6 1766.8L664.6 1752zM750.6 1725.3L763.4 1732.7L763.4 1747.5L750.6 1754.9L737.8 1747.5L737.8 1732.7zM823.8 1706.6L836.6 1714L836.6 1728.8L823.8 1736.2L811 1728.8L811 1714zM897 1688.1L909.9 1695.5L909.9 1710.3L897 1717.7L884.2 1710.3L884.2 1695.5zM970.3 1669.9L983.1 1677.3L983.1 1692.1L970.3 1699.5L957.4 1692.1L957.4 1677.3zM1043.5 1652L1056.3 1659.4L1056.3 1674.2L1043.5 1681.6L1030.7 1674.2L1030.7 1659.4z" fill="#E86C00"/>
<path d="M474.2 1816.3L514.5 1805.9M547.4 1797.3L587.7 1786.8M620.6 1778.2L660.9 1767.7M693.8 1759.1L734.1 1748.7M767.1 1740.4L807.3 1730.3M840.3 1722.1L880.5 1712.2M913.6 1704.1L953.7 1694.4M986.8 1686.4L1026.9 1676.8" stroke="#009E9E" stroke-width="4" fill="none"/>
<path d="M163.1 1879.5L167.1 1889L177.4 1889.9L169.6 1896.6L171.9 1906.6L163.1 1901.3L154.3 1906.6L156.6 1896.6L148.8 1889.9L159.1 1889zM166 1878.8L170 1888.3L180.3 1889.1L172.5 1895.9L174.9 1905.9L166 1900.6L157.2 1905.9L159.6 1895.9L151.8 1889.1L162 1888.3zM169 1878L173 1887.5L183.3 1888.4L175.5 1895.1L177.8 1905.2L169 1899.8L160.2 1905.2L162.5 1895.1L154.7 1888.4L165 1887.5zM171.9 1877.3L175.9 1886.8L186.2 1887.7L178.4 1894.4L180.8 1904.4L171.9 1899.1L163.1 1904.4L165.5 1894.4L157.7 1887.7L167.9 1886.8zM174.9 1876.6L178.9 1886.1L189.1 1886.9L181.4 1893.7L183.7 1903.7L174.9 1898.4L166.1 1903.7L168.4 1893.7L160.6 1886.9L170.9 1886.1zM177.8 1875.9L181.8 1885.4L192.1 1886.2L184.3 1893L186.6 1903L177.8 1897.7L169 1903L171.4 1893L163.6 1886.2L173.8 1885.4zM180.8 1875.1L184.8 1884.6L195 1885.5L187.2 1892.2L189.6 1902.3L180.8 1896.9L172 1902.3L174.3 1892.2L166.5 1885.5L176.8 1884.6zM183.7 1874.4L187.7 1883.9L198 1884.8L190.2 1891.5L192.5 1901.5L183.7 1896.2L174.9 1901.5L177.3 1891.5L169.5 1884.8L179.7 1883.9zM186.7 1873.7L190.7 1883.2L200.9 1884L193.1 1890.8L195.5 1900.8L186.7 1895.5L177.9 1900.8L180.2 1890.8L172.4 1884L182.7 1883.2zM189.6 1872.9L193.6 1882.4L203.9 1883.3L196.1 1890L198.4 1900.1L189.6 1894.7L180.8 1900.1L183.1 1890L175.3 1883.3L185.6 1882.4zM192.6 1872.2L196.6 1881.7L206.8 1882.6L199 1889.3L201.4 1899.3L192.6 1894L183.7 1899.3L186.1 1889.3L178.3 1882.6L188.6 1881.7zM195.5 1871.5L199.5 1881L209.8 1881.8L202 1888.6L204.3 1898.6L195.5 1893.3L186.7 1898.6L189 1888.6L181.2 1881.8L191.5 1881zM198.5 1870.7L202.4 1880.2L212.7 1881.1L204.9 1887.9L207.3 1897.9L198.5 1892.5L189.6 1897.9L192 1887.9L184.2 1881.1L194.5 1880.2zM199.9 1870.4L203.9 1879.9L214.2 1880.8L206.4 1887.5L208.7 1897.5L199.9 1892.2L191.1 1897.5L193.5 1887.5L185.7 1880.8L195.9 1879.9zM207.3 1868.6L211.3 1878.1L221.6 1878.9L213.8 1885.7L216.1 1895.7L207.3 1890.4L198.5 1895.7L200.8 1885.7L193 1878.9L203.3 1878.1zM214.7 1866.7L218.7 1876.2L228.9 1877.1L221.1 1883.8L223.5 1893.9L214.7 1888.5L205.8 1893.9L208.2 1883.8L200.4 1877.1L210.7 1876.2zM222 1864.9L226 1874.4L236.3 1875.3L228.5 1882L230.8 1892.1L222 1886.7L213.2 1892.1L215.6 1882L207.8 1875.3L218 1874.4zM229.4 1863.1L233.4 1872.6L243.7 1873.5L235.9 1880.2L238.2 1890.2L229.4 1884.9L220.6 1890.2L222.9 1880.2L215.1 1873.5L225.4 1872.6zM236.8 1861.3L240.7 1870.8L251 1871.6L243.2 1878.4L245.6 1888.4L236.8 1883.1L227.9 1888.4L230.3 1878.4L222.5 1871.6L232.8 1870.8zM251.5 1857.6L255.5 1867.1L265.7 1868L257.9 1874.7L260.3 1884.8L251.5 1879.4L242.7 1884.8L245 1874.7L237.2 1868L247.5 1867.1zM266.2 1854L270.2 1863.5L280.5 1864.3L272.7 1871.1L275 1881.1L266.2 1875.8L257.4 1881.1L259.7 1871.1L251.9 1864.3L262.2 1863.5zM280.9 1850.3L284.9 1859.8L295.2 1860.7L287.4 1867.4L289.8 1877.5L280.9 1872.1L272.1 1877.5L274.5 1867.4L266.7 1860.7L276.9 1859.8zM295.7 1846.7L299.7 1856.2L309.9 1857.1L302.1 1863.8L304.5 1873.8L295.7 1868.5L286.9 1873.8L289.2 1863.8L281.4 1857.1L291.7 1856.2zM310.4 1843L314.4 1852.5L324.7 1853.4L316.9 1860.1L319.2 1870.2L310.4 1864.8L301.6 1870.2L303.9 1860.1L296.1 1853.4L306.4 1852.5zM339.9 1835.8L343.9 1845.3L354.1 1846.2L346.3 1852.9L348.7 1862.9L339.9 1857.6L331 1862.9L333.4 1852.9L325.6 1846.2L335.9 1845.3zM369.3 1828.5L373.3 1838L383.6 1838.9L375.8 1845.6L378.1 1855.7L369.3 1850.3L360.5 1855.7L362.9 1845.6L355.1 1838.9L365.3 1838zM398.8 1821.3L402.8 1830.8L413 1831.6L405.2 1838.4L407.6 1848.4L398.8 1843.1L390 1848.4L392.3 1838.4L384.5 1831.6L394.8 1830.8zM428.2 1814L432.2 1823.5L442.5 1824.3L434.7 1831.1L437.1 1841.1L428.2 1835.8L419.4 1841.1L421.8 1831.1L414 1824.3L424.2 1823.5zM457.7 1806.6L461.7 1816.1L472 1817L464.2 1823.7L466.5 1833.7L457.7 1828.4L448.9 1833.7L451.2 1823.7L443.4 1817L453.7 1816.1zM530.9 1787.6L534.9 1797.1L545.2 1798L537.4 1804.7L539.7 1814.8L530.9 1809.4L522.1 1814.8L524.5 1804.7L516.7 1798L526.9 1797.1zM604.1 1768.5L608.1 1778L618.4 1778.9L610.6 1785.6L613 1795.6L604.1 1790.3L595.3 1795.6L597.7 1785.6L589.9 1778.9L600.1 1778zM677.4 1749.4L681.4 1758.9L691.6 1759.7L683.8 1766.5L686.2 1776.5L677.4 1771.2L668.6 1776.5L670.9 1766.5L663.1 1759.7L673.4 1758.9zM750.6 1730.5L754.6 1740L764.9 1740.9L757.1 1747.6L759.4 1757.6L750.6 1752.3L741.8 1757.6L744.1 1747.6L736.3 1740.9L746.6 1740zM823.8 1712.1L827.8 1721.6L838.1 1722.5L830.3 1729.2L832.6 1739.3L823.8 1733.9L815 1739.3L817.3 1729.2L809.5 1722.5L819.8 1721.6zM897 1694.1L901 1703.6L911.3 1704.5L903.5 1711.2L905.9 1721.3L897 1715.9L888.2 1721.3L890.6 1711.2L882.8 1704.5L893 1703.6zM970.3 1676.3L974.3 1685.8L984.5 1686.7L976.7 1693.4L979.1 1703.5L970.3 1698.1L961.4 1703.5L963.8 1693.4L956 1686.7L966.3 1685.8zM1043.5 1658.8L1047.5 1668.3L1057.7 1669.2L1049.9 1675.9L1052.3 1686L1043.5 1680.6L1034.7 1686L1037 1675.9L1029.2 1669.2L1039.5 1668.3z" fill="#009E9E"/>
<path d="M474.2 1819.3L514.4 1809.1M547.4 1800.7L587.7 1790.4M620.6 1781.9L660.9 1771.6M693.8 1763.2L734.1 1753M767.1 1744.8L807.3 1735M840.3 1726.9L880.5 1717.3M913.6 1709.4L953.7 1699.9M986.8 1692.1L1026.9 1682.8" stroke="#6B5FCC" stroke-width="4" fill="none"/>
<path d="M163.1 1880L177.8 1890.7L172.2 1908L154 1908L148.4 1890.7zM166 1879.3L180.8 1890L175.2 1907.3L156.9 1907.3L151.3 1890zM169 1878.5L183.7 1889.3L178.1 1906.6L159.9 1906.6L154.3 1889.3zM171.9 1877.8L186.7 1888.5L181 1905.9L162.8 1905.9L157.2 1888.5zM174.9 1877.1L189.6 1887.8L184 1905.2L165.8 1905.2L160.1 1887.8zM177.8 1876.4L192.6 1887.1L186.9 1904.5L168.7 1904.5L163.1 1887.1zM180.8 1875.7L195.5 1886.4L189.9 1903.8L171.7 1903.8L166 1886.4zM183.7 1875L198.5 1885.7L192.8 1903L174.6 1903L169 1885.7zM186.7 1874.3L201.4 1885L195.8 1902.3L177.6 1902.3L171.9 1885zM189.6 1873.6L204.4 1884.3L198.7 1901.6L180.5 1901.6L174.9 1884.3zM192.6 1872.9L207.3 1883.6L201.7 1900.9L183.4 1900.9L177.8 1883.6zM195.5 1872.2L210.2 1882.9L204.6 1900.2L186.4 1900.2L180.8 1882.9zM198.5 1871.5L213.2 1882.2L207.6 1899.5L189.3 1899.5L183.7 1882.2zM199.9 1871.1L214.7 1881.8L209 1899.2L190.8 1899.2L185.2 1881.8zM207.3 1869.3L222 1880.1L216.4 1897.4L198.2 1897.4L192.5 1880.1zM214.7 1867.6L229.4 1878.3L223.8 1895.6L205.5 1895.6L199.9 1878.3zM222 1865.8L236.8 1876.5L231.1 1893.8L212.9 1893.8L207.3 1876.5zM229.4 1864L244.1 1874.7L238.5 1892.1L220.3 1892.1L214.6 1874.7zM236.8 1862.3L251.5 1873L245.9 1890.3L227.6 1890.3L222 1873zM251.5 1858.7L266.2 1869.4L260.6 1886.8L242.4 1886.8L236.7 1869.4zM266.2 1855.2L281 1865.9L275.3 1883.2L257.1 1883.2L251.5 1865.9zM280.9 1851.7L295.7 1862.4L290.1 1879.7L271.8 1879.7L266.2 1862.4zM295.7 1848.1L310.4 1858.8L304.8 1876.2L286.6 1876.2L280.9 1858.8zM310.4 1844.6L325.1 1855.3L319.5 1872.6L301.3 1872.6L295.7 1855.3zM339.9 1837.5L354.6 1848.3L349 1865.6L330.7 1865.6L325.1 1848.3zM369.3 1830.5L384.1 1841.2L378.4 1858.5L360.2 1858.5L354.6 1841.2zM398.8 1823.5L413.5 1834.2L407.9 1851.5L389.7 1851.5L384 1834.2zM428.2 1816.4L443 1827.1L437.4 1844.4L419.1 1844.4L413.5 1827.1zM457.7 1809.2L472.4 1819.9L466.8 1837.2L448.6 1837.2L443 1819.9zM530.9 1790.6L545.7 1801.4L540 1818.7L521.8 1818.7L516.2 1801.4zM604.1 1771.8L618.9 1782.6L613.3 1799.9L595 1799.9L589.4 1782.6zM677.4 1753.1L692.1 1763.8L686.5 1781.1L668.3 1781.1L662.6 1763.8zM750.6 1734.6L765.3 1745.3L759.7 1762.6L741.5 1762.6L735.8 1745.3zM823.8 1716.6L838.6 1727.3L832.9 1744.6L814.7 1744.6L809.1 1727.3zM897 1699L911.8 1709.7L906.1 1727L887.9 1727L882.3 1709.7zM970.3 1681.7L985 1692.4L979.4 1709.7L961.1 1709.7L955.5 1692.4zM1043.5 1664.6L1058.2 1675.3L1052.6 1692.7L1034.4 1692.7L1028.7 1675.3z" fill="#6B5FCC"/>
<path d="M474.2 1822.3L514.4 1812.3M547.4 1804.1L587.7 1794M620.6 1785.7L660.9 1775.5M693.9 1767.3L734.1 1757.3M767.1 1749.2L807.3 1739.6M840.4 1731.8L880.5 1722.4M913.6 1714.7L953.7 1705.4M986.8 1697.8L1026.9 1688.8" stroke="#A08C84" stroke-width="4" fill="none"/>
<g fill="url(#gB)">
<circle cx="163.1" cy="1895" r="13.75"/><circle cx="166" cy="1894.3" r="13.75"/><circle cx="169" cy="1893.6" r="13.75"/><circle cx="171.9" cy="1893" r="13.75"/><circle cx="174.9" cy="1892.3" r="13.75"/><circle cx="177.8" cy="1891.6" r="13.75"/><circle cx="180.8" cy="1890.9" r="13.75"/><circle cx="183.7" cy="1890.2" r="13.75"/><circle cx="186.7" cy="1889.5" r="13.75"/><circle cx="189.6" cy="1888.8" r="13.75"/><circle cx="192.6" cy="1888.2" r="13.75"/><circle cx="195.5" cy="1887.5" r="13.75"/><circle cx="198.5" cy="1886.8" r="13.75"/><circle cx="199.9" cy="1886.4" r="13.75"/><circle cx="207.3" cy="1884.7" r="13.75"/><circle cx="214.7" cy="1883" r="13.75"/><circle cx="222" cy="1881.3" r="13.75"/><circle cx="229.4" cy="1879.6" r="13.75"/><circle cx="236.8" cy="1877.9" r="13.75"/><circle cx="251.5" cy="1874.4" r="13.75"/><circle cx="266.2" cy="1871" r="13.75"/><circle cx="280.9" cy="1867.6" r="13.75"/><circle cx="295.7" cy="1864.1" r="13.75"/><circle cx="310.4" cy="1860.7" r="13.75"/><circle cx="339.9" cy="1853.9" r="13.75"/><circle cx="369.3" cy="1847.1" r="13.75"/><circle cx="398.8" cy="1840.2" r="13.75"/><circle cx="428.2" cy="1833.4" r="13.75"/><circle cx="457.7" cy="1826.4" r="13.75"/><circle cx="530.9" cy="1808.2" r="13.75"/><circle cx="604.1" cy="1789.8" r="13.75"/><circle cx="677.4" cy="1771.4" r="13.75"/><circle cx="750.6" cy="1753.2" r="13.75"/><circle cx="823.8" cy="1735.7" r="13.75"/><circle cx="897" cy="1718.5" r="13.75"/><circle cx="970.3" cy="1701.6" r="13.75"/><circle cx="1043.5" cy="1685" r="13.75"/>
</g>
<path d="M474.2 1825.3L514.4 1815.6M547.4 1807.5L587.6 1797.5M620.7 1789.4L660.9 1779.5M693.9 1771.4L734.1 1761.6M767.1 1753.7L807.3 1744.3M840.4 1736.6L880.5 1727.5M913.6 1719.9L953.7 1710.9M986.9 1703.6L1026.9 1694.7" stroke="#F03040" stroke-width="4" fill="none"/>
<path d="M150.1 1895.8h26M163.1 1882.8v26M153 1895.1h26M166 1882.1v26M156 1894.4h26M169 1881.4v26M158.9 1893.8h26M171.9 1880.8v26M161.9 1893.1h26M174.9 1880.1v26M164.8 1892.5h26M177.8 1879.5v26M167.8 1891.8h26M180.8 1878.8v26M170.7 1891.1h26M183.7 1878.1v26M173.7 1890.5h26M186.7 1877.5v26M176.6 1889.8h26M189.6 1876.8v26M179.6 1889.1h26M192.6 1876.1v26M182.5 1888.5h26M195.5 1875.5v26M185.5 1887.8h26M198.5 1874.8v26M186.9 1887.5h26M199.9 1874.5v26M194.3 1885.8h26M207.3 1872.8v26M201.7 1884.1h26M214.7 1871.1v26M209 1882.5h26M222 1869.5v26M216.4 1880.8h26M229.4 1867.8v26M223.8 1879.2h26M236.8 1866.2v26M238.5 1875.8h26M251.5 1862.8v26M253.2 1872.5h26M266.2 1859.5v26M267.9 1869.2h26M280.9 1856.2v26M282.7 1865.9h26M295.7 1852.9v26M297.4 1862.5h26M310.4 1849.5v26M326.9 1855.9h26M339.9 1842.9v26M356.3 1849.3h26M369.3 1836.3v26M385.8 1842.7h26M398.8 1829.7v26M415.2 1836.1h26M428.2 1823.1v26M444.7 1829.3h26M457.7 1816.3v26M517.9 1811.6h26M530.9 1798.6v26M591.1 1793.5h26M604.1 1780.5v26M664.4 1775.4h26M677.4 1762.4v26M737.6 1757.6h26M750.6 1744.6v26M810.8 1740.4h26M823.8 1727.4v26M884 1723.7h26M897 1710.7v26M957.3 1707.2h26M970.3 1694.2v26M1030.5 1691.1h26M1043.5 1678.1v26" stroke="#F03040" stroke-width="2.3" fill="none"/>
<path d="M474.2 1828.3L514.4 1818.8M547.4 1810.9L587.6 1801.1M620.7 1793.1L660.8 1783.4M693.9 1775.4L734.1 1765.9M767.2 1758.1L807.2 1749M840.4 1741.5L880.4 1732.6M913.6 1725.2L953.7 1716.5M986.9 1709.3L1026.9 1700.7" stroke="#479E9E" stroke-width="4" fill="none"/>
<path d="M152.6 1886l21.0 21.0M152.6 1907l21.0 -21.0M155.5 1885.4l21.0 21.0M155.5 1906.4l21.0 -21.0M158.5 1884.8l21.0 21.0M158.5 1905.8l21.0 -21.0M161.4 1884.1l21.0 21.0M161.4 1905.1l21.0 -21.0M164.4 1883.5l21.0 21.0M164.4 1904.5l21.0 -21.0M167.3 1882.8l21.0 21.0M167.3 1903.8l21.0 -21.0M170.3 1882.2l21.0 21.0M170.3 1903.2l21.0 -21.0M173.2 1881.5l21.0 21.0M173.2 1902.5l21.0 -21.0M176.2 1880.9l21.0 21.0M176.2 1901.9l21.0 -21.0M179.1 1880.2l21.0 21.0M179.1 1901.2l21.0 -21.0M182.1 1879.6l21.0 21.0M182.1 1900.6l21.0 -21.0M185 1879l21.0 21.0M185 1900l21.0 -21.0M188 1878.3l21.0 21.0M188 1899.3l21.0 -21.0M189.4 1878l21.0 21.0M189.4 1899l21.0 -21.0M196.8 1876.4l21.0 21.0M196.8 1897.4l21.0 -21.0M204.2 1874.8l21.0 21.0M204.2 1895.8l21.0 -21.0M211.5 1873.2l21.0 21.0M211.5 1894.2l21.0 -21.0M218.9 1871.6l21.0 21.0M218.9 1892.6l21.0 -21.0M226.2 1870l21.0 21.0M226.2 1891l21.0 -21.0M241 1866.7l21.0 21.0M241 1887.7l21.0 -21.0M255.7 1863.5l21.0 21.0M255.7 1884.5l21.0 -21.0M270.4 1860.3l21.0 21.0M270.4 1881.3l21.0 -21.0M285.2 1857.1l21.0 21.0M285.2 1878.1l21.0 -21.0M299.9 1853.9l21.0 21.0M299.9 1874.9l21.0 -21.0M329.4 1847.5l21.0 21.0M329.4 1868.5l21.0 -21.0M358.8 1841.1l21.0 21.0M358.8 1862.1l21.0 -21.0M388.3 1834.7l21.0 21.0M388.3 1855.7l21.0 -21.0M417.7 1828.3l21.0 21.0M417.7 1849.3l21.0 -21.0M447.2 1821.7l21.0 21.0M447.2 1842.7l21.0 -21.0M520.4 1804.4l21.0 21.0M520.4 1825.4l21.0 -21.0M593.6 1786.6l21.0 21.0M593.6 1807.6l21.0 -21.0M666.9 1768.9l21.0 21.0M666.9 1789.9l21.0 -21.0M740.1 1751.4l21.0 21.0M740.1 1772.4l21.0 -21.0M813.3 1734.7l21.0 21.0M813.3 1755.7l21.0 -21.0M886.5 1718.4l21.0 21.0M886.5 1739.4l21.0 -21.0M959.8 1702.3l21.0 21.0M959.8 1723.3l21.0 -21.0M1033 1686.7l21.0 21.0M1033 1707.7l21.0 -21.0" stroke="#479E9E" stroke-width="1.9" stroke-opacity="0.8" fill="none"/>
<path d="M474.3 1831.3L514.4 1822M547.5 1814.2L587.6 1804.7M620.7 1796.9L660.8 1787.3M693.9 1779.5L734 1770.1M767.2 1762.6L807.2 1753.6M840.4 1746.3L880.4 1737.7M913.7 1730.5L953.6 1722M986.9 1715L1026.8 1706.7" stroke="#E0A000" stroke-width="4" fill="none"/>
<path d="M149.1 1897.3h28M163.1 1883.3v28M152 1896.7h28M166 1882.7v28M155 1896.1h28M169 1882.1v28M157.9 1895.4h28M171.9 1881.4v28M160.9 1894.8h28M174.9 1880.8v28M163.8 1894.2h28M177.8 1880.2v28M166.8 1893.6h28M180.8 1879.6v28M169.7 1892.9h28M183.7 1878.9v28M172.7 1892.3h28M186.7 1878.3v28M175.6 1891.7h28M189.6 1877.7v28M178.6 1891.1h28M192.6 1877.1v28M181.5 1890.5h28M195.5 1876.5v28M184.5 1889.8h28M198.5 1875.8v28M185.9 1889.5h28M199.9 1875.5v28M193.3 1888h28M207.3 1874v28M200.7 1886.4h28M214.7 1872.4v28M208 1884.9h28M222 1870.9v28M215.4 1883.3h28M229.4 1869.3v28M222.8 1881.8h28M236.8 1867.8v28M237.5 1878.6h28M251.5 1864.6v28M252.2 1875.5h28M266.2 1861.5v28M266.9 1872.4h28M280.9 1858.4v28M281.7 1869.3h28M295.7 1855.3v28M296.4 1866.2h28M310.4 1852.2v28M325.9 1860.1h28M339.9 1846.1v28M355.3 1853.9h28M369.3 1839.9v28M384.8 1847.7h28M398.8 1833.7v28M414.2 1841.5h28M428.2 1827.5v28M443.7 1835.1h28M457.7 1821.1v28M516.9 1818.2h28M530.9 1804.2v28M590.1 1800.8h28M604.1 1786.8v28M663.4 1783.4h28M677.4 1769.4v28M736.6 1766.3h28M750.6 1752.3v28M809.8 1749.9h28M823.8 1735.9v28M883 1734h28M897 1720v28M956.3 1718.5h28M970.3 1704.5v28M1029.5 1703.2h28M1043.5 1689.2v28" stroke="#E0A000" stroke-width="2.5" fill="none"/>
<path d="M152.6 1886.8l21.0 21.0M152.6 1907.8l21.0 -21.0M155.5 1886.2l21.0 21.0M155.5 1907.2l21.0 -21.0M158.5 1885.6l21.0 21.0M158.5 1906.6l21.0 -21.0M161.4 1884.9l21.0 21.0M161.4 1905.9l21.0 -21.0M164.4 1884.3l21.0 21.0M164.4 1905.3l21.0 -21.0M167.3 1883.7l21.0 21.0M167.3 1904.7l21.0 -21.0M170.3 1883.1l21.0 21.0M170.3 1904.1l21.0 -21.0M173.2 1882.4l21.0 21.0M173.2 1903.4l21.0 -21.0M176.2 1881.8l21.0 21.0M176.2 1902.8l21.0 -21.0M179.1 1881.2l21.0 21.0M179.1 1902.2l21.0 -21.0M182.1 1880.6l21.0 21.0M182.1 1901.6l21.0 -21.0M185 1880l21.0 21.0M185 1901l21.0 -21.0M188 1879.3l21.0 21.0M188 1900.3l21.0 -21.0M189.4 1879l21.0 21.0M189.4 1900l21.0 -21.0M196.8 1877.5l21.0 21.0M196.8 1898.5l21.0 -21.0M204.2 1875.9l21.0 21.0M204.2 1896.9l21.0 -21.0M211.5 1874.4l21.0 21.0M211.5 1895.4l21.0 -21.0M218.9 1872.8l21.0 21.0M218.9 1893.8l21.0 -21.0M226.2 1871.3l21.0 21.0M226.2 1892.3l21.0 -21.0M241 1868.1l21.0 21.0M241 1889.1l21.0 -21.0M255.7 1865l21.0 21.0M255.7 1886l21.0 -21.0M270.4 1861.9l21.0 21.0M270.4 1882.9l21.0 -21.0M285.2 1858.8l21.0 21.0M285.2 1879.8l21.0 -21.0M299.9 1855.7l21.0 21.0M299.9 1876.7l21.0 -21.0M329.4 1849.6l21.0 21.0M329.4 1870.6l21.0 -21.0M358.8 1843.4l21.0 21.0M358.8 1864.4l21.0 -21.0M388.3 1837.2l21.0 21.0M388.3 1858.2l21.0 -21.0M417.7 1831l21.0 21.0M417.7 1852l21.0 -21.0M447.2 1824.6l21.0 21.0M447.2 1845.6l21.0 -21.0M520.4 1807.7l21.0 21.0M520.4 1828.7l21.0 -21.0M593.6 1790.3l21.0 21.0M593.6 1811.3l21.0 -21.0M666.9 1772.9l21.0 21.0M666.9 1793.9l21.0 -21.0M740.1 1755.8l21.0 21.0M740.1 1776.8l21.0 -21.0M813.3 1739.4l21.0 21.0M813.3 1760.4l21.0 -21.0M886.5 1723.5l21.0 21.0M886.5 1744.5l21.0 -21.0M959.8 1708l21.0 21.0M959.8 1729l21.0 -21.0M1033 1692.7l21.0 21.0M1033 1713.7l21.0 -21.0" stroke="#E0A000" stroke-width="1.7" stroke-opacity="0.6" fill="none"/>
</g>
<rect x="1419.7" y="1067.3" width="1032.1" height="830" fill="none" stroke="#000" stroke-width="3.7"/>
<path d="M1493.4 1897.3v-8M1567.1 1897.3v-16M1640.9 1897.3v-8M1714.6 1897.3v-16M1788.3 1897.3v-8M1862 1897.3v-16M1935.8 1897.3v-8M2009.5 1897.3v-16M2083.2 1897.3v-8M2156.9 1897.3v-16M2230.6 1897.3v-8M2304.4 1897.3v-16M2378.1 1897.3v-8M1419.7 1848.5h8M1419.7 1799.7h16M1419.7 1750.8h8M1419.7 1702h16M1419.7 1653.2h8M1419.7 1604.4h16M1419.7 1555.5h8M1419.7 1506.7h16M1419.7 1457.9h8M1419.7 1409.1h16M1419.7 1360.2h8M1419.7 1311.4h16M1419.7 1262.6h8M1419.7 1213.8h16M1419.7 1164.9h8M1419.7 1116.1h16" stroke="#000" stroke-width="3.7" fill="none"/>
<g font-family="Liberation Sans, Arial, sans-serif" font-size="36" fill="#000"><text x="1419.7" y="1942.3" text-anchor="middle">0</text><text x="1567.1" y="1942.3" text-anchor="middle">10</text><text x="1714.6" y="1942.3" text-anchor="middle">20</text><text x="1862" y="1942.3" text-anchor="middle">30</text><text x="2009.5" y="1942.3" text-anchor="middle">40</text><text x="2156.9" y="1942.3" text-anchor="middle">50</text><text x="2304.4" y="1942.3" text-anchor="middle">60</text><text x="2451.8" y="1942.3" text-anchor="middle">70</text><text x="1401.7" y="1906.7" text-anchor="end">0</text><text x="1401.7" y="1809.1" text-anchor="end">2</text><text x="1401.7" y="1711.4" text-anchor="end">4</text><text x="1401.7" y="1613.8" text-anchor="end">6</text><text x="1401.7" y="1516.1" text-anchor="end">8</text><text x="1401.7" y="1418.5" text-anchor="end">10</text><text x="1401.7" y="1320.8" text-anchor="end">12</text><text x="1401.7" y="1223.2" text-anchor="end">14</text><text x="1401.7" y="1125.5" text-anchor="end">16</text></g>
<clipPath id="clipd"><rect x="1417.7" y="1067.3" width="1034.1" height="830"/></clipPath>
<g clip-path="url(#clipd)">
<path d="M1580.7 1345.1L1583.1 1343.3M1610.7 1323.5L1612 1322.6M1730.5 1260L1772.4 1244.3M1804.6 1233.5L1845.7 1221.2M1878.6 1212.4L1919.2 1202.6M1952.4 1195.2L1992.8 1186.9M2026.2 1180.4L2066.5 1172.8M2099.9 1166.7L2140.2 1159.8M2173.7 1154L2213.9 1147.3M2247.4 1141.8L2287.6 1135.4" stroke="#FF0000" stroke-width="4" fill="none"/>
<path d="M1407.7 1490.3h24v24h-24zM1410.6 1487h24v24h-24zM1413.6 1483.8h24v24h-24zM1416.5 1480.7h24v24h-24zM1419.5 1477.7h24v24h-24zM1422.4 1474.8h24v24h-24zM1425.4 1472h24v24h-24zM1428.3 1469.4h24v24h-24zM1431.3 1466.8h24v24h-24zM1434.2 1464.1h24v24h-24zM1437.2 1461.3h24v24h-24zM1440.1 1458.2h24v24h-24zM1443.1 1454.9h24v24h-24zM1444.6 1453.3h24v24h-24zM1451.9 1444.6h24v24h-24zM1459.3 1436.3h24v24h-24zM1466.7 1428.4h24v24h-24zM1474 1420.3h24v24h-24zM1481.4 1411.8h24v24h-24zM1496.2 1395h24v24h-24zM1510.9 1381h24v24h-24zM1525.7 1368h24v24h-24zM1540.4 1355.4h24v24h-24zM1555.1 1343.4h24v24h-24zM1584.6 1321h24v24h-24zM1614.1 1301.1h24v24h-24zM1643.6 1283.6h24v24h-24zM1673.1 1267.7h24v24h-24zM1702.6 1254h24v24h-24zM1776.3 1226.4h24v24h-24zM1850 1204.3h24v24h-24zM1923.8 1186.7h24v24h-24zM1997.5 1171.5h24v24h-24zM2071.2 1157.7h24v24h-24zM2144.9 1144.8h24v24h-24zM2218.6 1132.5h24v24h-24zM2292.4 1120.7h24v24h-24z" fill="#FF0000"/>
<path d="M1580.6 1349.9L1583.2 1347.9M1610.6 1327.9L1612.1 1326.9M1730.5 1263.4L1772 1247.5M1804.1 1236.5L1844.9 1224.2M1877.7 1215.3L1917.9 1205.5M1951.1 1198.1L1991.1 1189.9M2024.5 1183.3L2064.3 1175.8M2097.8 1169.8L2137.6 1162.9M2171.1 1157.2L2210.9 1150.5M2244.4 1145.1L2284.1 1138.8" stroke="#105FA0" stroke-width="4" fill="none"/>
<path d="M1406 1509.6a13.75 13.75 0 1 0 27.5 0a13.75 13.75 0 1 0 -27.5 0zM1408.9 1506.3a13.75 13.75 0 1 0 27.5 0a13.75 13.75 0 1 0 -27.5 0zM1411.8 1503.1a13.75 13.75 0 1 0 27.5 0a13.75 13.75 0 1 0 -27.5 0zM1414.8 1499.9a13.75 13.75 0 1 0 27.5 0a13.75 13.75 0 1 0 -27.5 0zM1417.7 1496.8a13.75 13.75 0 1 0 27.5 0a13.75 13.75 0 1 0 -27.5 0zM1420.7 1493.8a13.75 13.75 0 1 0 27.5 0a13.75 13.75 0 1 0 -27.5 0zM1423.6 1491a13.75 13.75 0 1 0 27.5 0a13.75 13.75 0 1 0 -27.5 0zM1426.6 1488.3a13.75 13.75 0 1 0 27.5 0a13.75 13.75 0 1 0 -27.5 0zM1429.5 1485.7a13.75 13.75 0 1 0 27.5 0a13.75 13.75 0 1 0 -27.5 0zM1432.5 1483a13.75 13.75 0 1 0 27.5 0a13.75 13.75 0 1 0 -27.5 0zM1435.4 1480.1a13.75 13.75 0 1 0 27.5 0a13.75 13.75 0 1 0 -27.5 0zM1438.4 1477a13.75 13.75 0 1 0 27.5 0a13.75 13.75 0 1 0 -27.5 0zM1441.3 1473.6a13.75 13.75 0 1 0 27.5 0a13.75 13.75 0 1 0 -27.5 0zM1442.8 1471.9a13.75 13.75 0 1 0 27.5 0a13.75 13.75 0 1 0 -27.5 0zM1450.2 1463.2a13.75 13.75 0 1 0 27.5 0a13.75 13.75 0 1 0 -27.5 0zM1457.6 1454.7a13.75 13.75 0 1 0 27.5 0a13.75 13.75 0 1 0 -27.5 0zM1464.9 1446.6a13.75 13.75 0 1 0 27.5 0a13.75 13.75 0 1 0 -27.5 0zM1472.3 1438.5a13.75 13.75 0 1 0 27.5 0a13.75 13.75 0 1 0 -27.5 0zM1479.7 1429.8a13.75 13.75 0 1 0 27.5 0a13.75 13.75 0 1 0 -27.5 0zM1494.4 1412.7a13.75 13.75 0 1 0 27.5 0a13.75 13.75 0 1 0 -27.5 0zM1509.2 1398.5a13.75 13.75 0 1 0 27.5 0a13.75 13.75 0 1 0 -27.5 0zM1523.9 1385.4a13.75 13.75 0 1 0 27.5 0a13.75 13.75 0 1 0 -27.5 0zM1538.6 1372.4a13.75 13.75 0 1 0 27.5 0a13.75 13.75 0 1 0 -27.5 0zM1553.4 1360.2a13.75 13.75 0 1 0 27.5 0a13.75 13.75 0 1 0 -27.5 0zM1582.9 1337.5a13.75 13.75 0 1 0 27.5 0a13.75 13.75 0 1 0 -27.5 0zM1612.4 1317.3a13.75 13.75 0 1 0 27.5 0a13.75 13.75 0 1 0 -27.5 0zM1641.9 1299.4a13.75 13.75 0 1 0 27.5 0a13.75 13.75 0 1 0 -27.5 0zM1671.3 1283.3a13.75 13.75 0 1 0 27.5 0a13.75 13.75 0 1 0 -27.5 0zM1700.8 1269.4a13.75 13.75 0 1 0 27.5 0a13.75 13.75 0 1 0 -27.5 0zM1774.1 1241.5a13.75 13.75 0 1 0 27.5 0a13.75 13.75 0 1 0 -27.5 0zM1847.4 1219.3a13.75 13.75 0 1 0 27.5 0a13.75 13.75 0 1 0 -27.5 0zM1920.7 1201.5a13.75 13.75 0 1 0 27.5 0a13.75 13.75 0 1 0 -27.5 0zM1994 1186.4a13.75 13.75 0 1 0 27.5 0a13.75 13.75 0 1 0 -27.5 0zM2067.3 1172.7a13.75 13.75 0 1 0 27.5 0a13.75 13.75 0 1 0 -27.5 0zM2140.6 1160a13.75 13.75 0 1 0 27.5 0a13.75 13.75 0 1 0 -27.5 0zM2213.9 1147.7a13.75 13.75 0 1 0 27.5 0a13.75 13.75 0 1 0 -27.5 0zM2287.2 1136.1a13.75 13.75 0 1 0 27.5 0a13.75 13.75 0 1 0 -27.5 0z" fill="#105FA0"/>
<path d="M1580.6 1352.3L1583.2 1350.3M1610.7 1330.2L1612.1 1329.3M1730.5 1266.3L1772 1250.6M1804.1 1239.6L1844.9 1227.2M1877.7 1218.1L1918 1208.1M1951.1 1200.5L1991.1 1191.9M2024.5 1185.2L2064.4 1177.4M2097.8 1171.2L2137.6 1164.2M2171.1 1158.5L2210.9 1152M2244.5 1146.7L2284.1 1140.6" stroke="#FFC200" stroke-width="4" fill="none"/>
<path d="M1419.7 1503.5l15.5 27h-31zM1422.6 1500l15.5 27h-31zM1425.6 1496.6l15.5 27h-31zM1428.5 1493.3l15.5 27h-31zM1431.5 1490l15.5 27h-31zM1434.4 1486.9l15.5 27h-31zM1437.4 1483.9l15.5 27h-31zM1440.3 1481.1l15.5 27h-31zM1443.3 1478.3l15.5 27h-31zM1446.2 1475.5l15.5 27h-31zM1449.2 1472.4l15.5 27h-31zM1452.1 1469.2l15.5 27h-31zM1455.1 1465.7l15.5 27h-31zM1456.6 1463.9l15.5 27h-31zM1463.9 1454.8l15.5 27h-31zM1471.3 1446.1l15.5 27h-31zM1478.7 1437.7l15.5 27h-31zM1486 1429.2l15.5 27h-31zM1493.4 1420.3l15.5 27h-31zM1508.2 1402.8l15.5 27h-31zM1522.9 1388.1l15.5 27h-31zM1537.7 1374.7l15.5 27h-31zM1552.4 1361.5l15.5 27h-31zM1567.1 1349.2l15.5 27h-31zM1596.6 1326.4l15.5 27h-31zM1626.1 1306.1l15.5 27h-31zM1655.6 1288.5l15.5 27h-31zM1685.1 1272.6l15.5 27h-31zM1714.6 1258.9l15.5 27h-31zM1787.9 1231l15.5 27h-31zM1861.2 1208.7l15.5 27h-31zM1934.5 1190.5l15.5 27h-31zM2007.8 1174.9l15.5 27h-31zM2081.1 1160.7l15.5 27h-31zM2154.3 1147.8l15.5 27h-31zM2227.6 1135.7l15.5 27h-31zM2300.9 1124.6l15.5 27h-31z" fill="#FFC200"/>
<path d="M1580.7 1359.8L1583.1 1358M1610.8 1338.3L1612 1337.5M1730.5 1276.1L1772 1260.5M1804.1 1249.6L1844.9 1237.1M1877.6 1227.9L1918 1217.5M1951.1 1209.7L1991.2 1200.8M2024.4 1193.9L2064.4 1186M2097.8 1179.7L2137.6 1172.7M2171.1 1167.1L2210.9 1160.8M2244.5 1155.8L2284.1 1150.2" stroke="#00C06E" stroke-width="4" fill="none"/>
<path d="M1419.7 1537.8l15.5 -27h-31zM1422.6 1534.3l15.5 -27h-31zM1425.6 1530.8l15.5 -27h-31zM1428.5 1527.5l15.5 -27h-31zM1431.5 1524.2l15.5 -27h-31zM1434.4 1521l15.5 -27h-31zM1437.4 1518l15.5 -27h-31zM1440.3 1515.1l15.5 -27h-31zM1443.3 1512.3l15.5 -27h-31zM1446.2 1509.4l15.5 -27h-31zM1449.2 1506.4l15.5 -27h-31zM1452.1 1503l15.5 -27h-31zM1455.1 1499.5l15.5 -27h-31zM1456.6 1497.8l15.5 -27h-31zM1463.9 1488.6l15.5 -27h-31zM1471.3 1479.8l15.5 -27h-31zM1478.7 1471.4l15.5 -27h-31zM1486 1462.9l15.5 -27h-31zM1493.4 1453.9l15.5 -27h-31zM1508.2 1436.4l15.5 -27h-31zM1522.9 1421.9l15.5 -27h-31zM1537.7 1408.6l15.5 -27h-31zM1552.4 1395.6l15.5 -27h-31zM1567.1 1383.5l15.5 -27h-31zM1596.6 1361.2l15.5 -27h-31zM1626.1 1341.6l15.5 -27h-31zM1655.6 1324.4l15.5 -27h-31zM1685.1 1309l15.5 -27h-31zM1714.6 1295.6l15.5 -27h-31zM1787.9 1268l15.5 -27h-31zM1861.2 1245.6l15.5 -27h-31zM1934.5 1226.8l15.5 -27h-31zM2007.8 1210.7l15.5 -27h-31zM2081.1 1196.2l15.5 -27h-31zM2154.3 1183.3l15.5 -27h-31zM2227.6 1171.7l15.5 -27h-31zM2300.9 1161.4l15.5 -27h-31z" fill="#00C06E"/>
<path d="M1580.7 1367L1583.1 1365.2M1610.8 1345.4L1612 1344.6M1730.6 1283.6L1771.9 1268.6M1804.2 1258L1844.9 1246.2M1877.7 1237.5L1917.9 1227.9M1951.1 1220.5L1991.1 1212.3M2024.5 1205.8L2064.3 1198.4M2097.8 1192.5L2137.6 1185.8M2171.1 1180.3L2210.8 1174.1M2244.5 1169.1L2284.1 1163.4" stroke="#6464A2" stroke-width="4" fill="none"/>
<path d="M1419.7 1515.1l16.5 16.5l-16.5 16.5l-16.5 -16.5zM1422.6 1511.6l16.5 16.5l-16.5 16.5l-16.5 -16.5zM1425.6 1508.2l16.5 16.5l-16.5 16.5l-16.5 -16.5zM1428.5 1504.8l16.5 16.5l-16.5 16.5l-16.5 -16.5zM1431.5 1501.6l16.5 16.5l-16.5 16.5l-16.5 -16.5zM1434.4 1498.4l16.5 16.5l-16.5 16.5l-16.5 -16.5zM1437.4 1495.4l16.5 16.5l-16.5 16.5l-16.5 -16.5zM1440.3 1492.6l16.5 16.5l-16.5 16.5l-16.5 -16.5zM1443.3 1489.8l16.5 16.5l-16.5 16.5l-16.5 -16.5zM1446.2 1486.9l16.5 16.5l-16.5 16.5l-16.5 -16.5zM1449.2 1483.8l16.5 16.5l-16.5 16.5l-16.5 -16.5zM1452.1 1480.5l16.5 16.5l-16.5 16.5l-16.5 -16.5zM1455.1 1477.1l16.5 16.5l-16.5 16.5l-16.5 -16.5zM1456.6 1475.3l16.5 16.5l-16.5 16.5l-16.5 -16.5zM1463.9 1466.1l16.5 16.5l-16.5 16.5l-16.5 -16.5zM1471.3 1457.4l16.5 16.5l-16.5 16.5l-16.5 -16.5zM1478.7 1449l16.5 16.5l-16.5 16.5l-16.5 -16.5zM1486 1440.5l16.5 16.5l-16.5 16.5l-16.5 -16.5zM1493.4 1431.5l16.5 16.5l-16.5 16.5l-16.5 -16.5zM1508.2 1414l16.5 16.5l-16.5 16.5l-16.5 -16.5zM1522.9 1399.4l16.5 16.5l-16.5 16.5l-16.5 -16.5zM1537.7 1386.1l16.5 16.5l-16.5 16.5l-16.5 -16.5zM1552.4 1373l16.5 16.5l-16.5 16.5l-16.5 -16.5zM1567.1 1360.8l16.5 16.5l-16.5 16.5l-16.5 -16.5zM1596.6 1338.4l16.5 16.5l-16.5 16.5l-16.5 -16.5zM1626.1 1318.7l16.5 16.5l-16.5 16.5l-16.5 -16.5zM1655.6 1301.5l16.5 16.5l-16.5 16.5l-16.5 -16.5zM1685.1 1286.2l16.5 16.5l-16.5 16.5l-16.5 -16.5zM1714.6 1272.9l16.5 16.5l-16.5 16.5l-16.5 -16.5zM1787.9 1246.3l16.5 16.5l-16.5 16.5l-16.5 -16.5zM1861.2 1224.9l16.5 16.5l-16.5 16.5l-16.5 -16.5zM1934.5 1207.4l16.5 16.5l-16.5 16.5l-16.5 -16.5zM2007.8 1192.4l16.5 16.5l-16.5 16.5l-16.5 -16.5zM2081.1 1178.8l16.5 16.5l-16.5 16.5l-16.5 -16.5zM2154.3 1166.4l16.5 16.5l-16.5 16.5l-16.5 -16.5zM2227.6 1155l16.5 16.5l-16.5 16.5l-16.5 -16.5zM2300.9 1144.5l16.5 16.5l-16.5 16.5l-16.5 -16.5z" fill="#6464A2"/>
<path d="M1580.7 1374.4L1583.1 1372.5M1610.7 1352.8L1612 1351.9M1730.5 1290.3L1772 1274.8M1804.2 1263.9L1844.9 1251.5M1877.7 1242.5L1918 1232.4M1951.1 1224.8L1991.1 1216.3M2024.5 1209.7L2064.3 1202.2M2097.8 1196.3L2137.6 1189.7M2171.2 1184.5L2210.8 1178.7M2244.5 1174.1L2284.1 1169" stroke="#999999" stroke-width="4" fill="none"/>
<path d="M1405.9 1538.9l27.6 -15.5v31zM1408.8 1535.4l27.6 -15.5v31zM1411.8 1532l27.6 -15.5v31zM1414.7 1528.6l27.6 -15.5v31zM1417.7 1525.4l27.6 -15.5v31zM1420.6 1522.2l27.6 -15.5v31zM1423.6 1519.2l27.6 -15.5v31zM1426.5 1516.3l27.6 -15.5v31zM1429.5 1513.5l27.6 -15.5v31zM1432.4 1510.6l27.6 -15.5v31zM1435.4 1507.6l27.6 -15.5v31zM1438.3 1504.3l27.6 -15.5v31zM1441.3 1500.8l27.6 -15.5v31zM1442.8 1499l27.6 -15.5v31zM1450.1 1489.9l27.6 -15.5v31zM1457.5 1481.1l27.6 -15.5v31zM1464.9 1472.7l27.6 -15.5v31zM1472.2 1464.2l27.6 -15.5v31zM1479.6 1455.2l27.6 -15.5v31zM1494.4 1437.7l27.6 -15.5v31zM1509.1 1423.2l27.6 -15.5v31zM1523.9 1409.8l27.6 -15.5v31zM1538.6 1396.8l27.6 -15.5v31zM1553.3 1384.7l27.6 -15.5v31zM1582.8 1362.3l27.6 -15.5v31zM1612.3 1342.5l27.6 -15.5v31zM1641.8 1325.2l27.6 -15.5v31zM1671.3 1309.7l27.6 -15.5v31zM1700.8 1296.3l27.6 -15.5v31zM1774.1 1268.8l27.6 -15.5v31zM1847.4 1246.6l27.6 -15.5v31zM1920.7 1228.3l27.6 -15.5v31zM1994 1212.8l27.6 -15.5v31zM2067.3 1199l27.6 -15.5v31zM2140.5 1186.9l27.6 -15.5v31zM2213.8 1176.2l27.6 -15.5v31zM2287.1 1166.9l27.6 -15.5v31z" fill="#999999"/>
<path d="M1580.8 1381.9L1582.9 1380.4M1610.9 1361.1L1611.8 1360.5M1730.5 1301.1L1771.9 1285.9M1804.1 1275.1L1844.9 1262.7M1877.6 1253.5L1918 1243.1M1951.1 1235.2L1991.2 1226.3M2024.4 1219.2L2064.4 1211.3M2097.8 1205.1L2137.6 1198.1M2171.2 1192.6L2210.8 1186.5M2244.5 1181.7L2284.1 1176.5" stroke="#FF6666" stroke-width="4" fill="none"/>
<path d="M1433.5 1546.3l-27.6 -15.5v31zM1436.4 1542.7l-27.6 -15.5v31zM1439.4 1539.2l-27.6 -15.5v31zM1442.3 1535.8l-27.6 -15.5v31zM1445.3 1532.5l-27.6 -15.5v31zM1448.2 1529.2l-27.6 -15.5v31zM1451.2 1526.2l-27.6 -15.5v31zM1454.1 1523.3l-27.6 -15.5v31zM1457.1 1520.4l-27.6 -15.5v31zM1460 1517.5l-27.6 -15.5v31zM1463 1514.4l-27.6 -15.5v31zM1465.9 1511l-27.6 -15.5v31zM1468.9 1507.5l-27.6 -15.5v31zM1470.4 1505.7l-27.6 -15.5v31zM1477.7 1496.5l-27.6 -15.5v31zM1485.1 1487.6l-27.6 -15.5v31zM1492.5 1479.1l-27.6 -15.5v31zM1499.8 1470.6l-27.6 -15.5v31zM1507.2 1461.6l-27.6 -15.5v31zM1522 1444.2l-27.6 -15.5v31zM1536.7 1429.8l-27.6 -15.5v31zM1551.5 1416.6l-27.6 -15.5v31zM1566.2 1403.8l-27.6 -15.5v31zM1580.9 1392l-27.6 -15.5v31zM1610.4 1370.3l-27.6 -15.5v31zM1639.9 1351.3l-27.6 -15.5v31zM1669.4 1334.8l-27.6 -15.5v31zM1698.9 1320l-27.6 -15.5v31zM1728.4 1307l-27.6 -15.5v31zM1801.7 1280l-27.6 -15.5v31zM1875 1257.8l-27.6 -15.5v31zM1948.3 1238.9l-27.6 -15.5v31zM2021.6 1222.6l-27.6 -15.5v31zM2094.9 1208l-27.6 -15.5v31zM2168.1 1195.2l-27.6 -15.5v31zM2241.4 1183.9l-27.6 -15.5v31zM2314.7 1174.2l-27.6 -15.5v31z" fill="#FF6666"/>
<path d="M1581.2 1389.7L1582.6 1388.7M1730.6 1315.6L1771.8 1301.3M1804.2 1290.9L1844.9 1278.9M1877.6 1269.8L1918 1259.3M1951 1251.2L1991.2 1242M2024.4 1234.7L2064.4 1226.5M2097.8 1220L2137.6 1212.7M2171.1 1207L2210.9 1200.7M2244.5 1195.7L2284.1 1190.2" stroke="#4499DD" stroke-width="4" fill="none"/>
<path d="M1419.7 1541.2L1432.5 1548.6L1432.5 1563.4L1419.7 1570.8L1406.9 1563.4L1406.9 1548.6zM1422.6 1537.4L1435.5 1544.8L1435.5 1559.6L1422.6 1567L1409.8 1559.6L1409.8 1544.8zM1425.6 1533.8L1438.4 1541.2L1438.4 1556L1425.6 1563.4L1412.8 1556L1412.8 1541.2zM1428.5 1530.2L1441.4 1537.6L1441.4 1552.4L1428.5 1559.8L1415.7 1552.4L1415.7 1537.6zM1431.5 1526.7L1444.3 1534.1L1444.3 1548.9L1431.5 1556.3L1418.7 1548.9L1418.7 1534.1zM1434.4 1523.2L1447.3 1530.6L1447.3 1545.4L1434.4 1552.8L1421.6 1545.4L1421.6 1530.6zM1437.4 1520L1450.2 1527.4L1450.2 1542.2L1437.4 1549.6L1424.6 1542.2L1424.6 1527.4zM1440.3 1516.9L1453.2 1524.3L1453.2 1539.1L1440.3 1546.5L1427.5 1539.1L1427.5 1524.3zM1443.3 1513.9L1456.1 1521.3L1456.1 1536.1L1443.3 1543.5L1430.5 1536.1L1430.5 1521.3zM1446.2 1510.8L1459.1 1518.2L1459.1 1533L1446.2 1540.4L1433.4 1533L1433.4 1518.2zM1449.2 1507.5L1462 1514.9L1462 1529.7L1449.2 1537.1L1436.4 1529.7L1436.4 1514.9zM1452.1 1504L1465 1511.4L1465 1526.2L1452.1 1533.6L1439.3 1526.2L1439.3 1511.4zM1455.1 1500.3L1467.9 1507.7L1467.9 1522.5L1455.1 1529.9L1442.3 1522.5L1442.3 1507.7zM1456.6 1498.4L1469.4 1505.8L1469.4 1520.6L1456.6 1528L1443.7 1520.6L1443.7 1505.8zM1463.9 1488.8L1476.8 1496.2L1476.8 1511L1463.9 1518.4L1451.1 1511L1451.1 1496.2zM1471.3 1479.6L1484.1 1487L1484.1 1501.8L1471.3 1509.2L1458.5 1501.8L1458.5 1487zM1478.7 1470.9L1491.5 1478.3L1491.5 1493.1L1478.7 1500.5L1465.9 1493.1L1465.9 1478.3zM1486 1462.2L1498.9 1469.6L1498.9 1484.4L1486 1491.8L1473.2 1484.4L1473.2 1469.6zM1493.4 1453L1506.2 1460.4L1506.2 1475.2L1493.4 1482.6L1480.6 1475.2L1480.6 1460.4zM1508.2 1435.4L1521 1442.8L1521 1457.6L1508.2 1465L1495.3 1457.6L1495.3 1442.8zM1522.9 1421L1535.7 1428.4L1535.7 1443.2L1522.9 1450.6L1510.1 1443.2L1510.1 1428.4zM1537.7 1408.1L1550.5 1415.5L1550.5 1430.3L1537.7 1437.7L1524.8 1430.3L1524.8 1415.5zM1552.4 1395.8L1565.2 1403.2L1565.2 1418L1552.4 1425.4L1539.6 1418L1539.6 1403.2zM1567.1 1384.5L1580 1391.9L1580 1406.7L1567.1 1414.1L1554.3 1406.7L1554.3 1391.9zM1596.6 1364.3L1609.4 1371.7L1609.4 1386.5L1596.6 1393.9L1583.8 1386.5L1583.8 1371.7zM1626.1 1346.8L1638.9 1354.2L1638.9 1369L1626.1 1376.4L1613.3 1369L1613.3 1354.2zM1655.6 1331.7L1668.4 1339.1L1668.4 1353.9L1655.6 1361.3L1642.8 1353.9L1642.8 1339.1zM1685.1 1318.3L1697.9 1325.7L1697.9 1340.5L1685.1 1347.9L1672.3 1340.5L1672.3 1325.7zM1714.6 1306.4L1727.4 1313.8L1727.4 1328.6L1714.6 1336L1701.8 1328.6L1701.8 1313.8zM1787.9 1280.9L1800.7 1288.3L1800.7 1303.1L1787.9 1310.5L1775.1 1303.1L1775.1 1288.3zM1861.2 1259.3L1874 1266.7L1874 1281.5L1861.2 1288.9L1848.4 1281.5L1848.4 1266.7zM1934.5 1240.2L1947.3 1247.6L1947.3 1262.4L1934.5 1269.8L1921.7 1262.4L1921.7 1247.6zM2007.8 1223.4L2020.6 1230.8L2020.6 1245.6L2007.8 1253L1994.9 1245.6L1994.9 1230.8zM2081.1 1208.2L2093.9 1215.6L2093.9 1230.4L2081.1 1237.8L2068.2 1230.4L2068.2 1215.6zM2154.3 1194.9L2167.2 1202.3L2167.2 1217.1L2154.3 1224.5L2141.5 1217.1L2141.5 1202.3zM2227.6 1183.2L2240.5 1190.6L2240.5 1205.4L2227.6 1212.8L2214.8 1205.4L2214.8 1190.6zM2300.9 1173.1L2313.8 1180.5L2313.8 1195.3L2300.9 1202.7L2288.1 1195.3L2288.1 1180.5z" fill="#4499DD"/>
<path d="M1581.2 1399.5L1582.6 1398.5M1730.6 1324.8L1771.9 1310.2M1804.2 1299.6L1844.9 1287.4M1877.6 1278.2L1918 1267.5M1951 1259.2L1991.2 1249.9M2024.4 1242.5L2064.4 1234.1M2097.8 1227.5L2137.6 1220.2M2171.1 1214.4L2210.9 1208M2244.5 1203L2284.1 1197.5" stroke="#E86C00" stroke-width="4" fill="none"/>
<path d="M1419.7 1549.3L1423.7 1558.8L1434 1559.7L1426.2 1566.4L1428.5 1576.5L1419.7 1571.1L1410.9 1576.5L1413.2 1566.4L1405.4 1559.7L1415.7 1558.8zM1422.6 1545.6L1426.6 1555.1L1436.9 1556L1429.1 1562.7L1431.5 1572.8L1422.6 1567.4L1413.8 1572.8L1416.2 1562.7L1408.4 1556L1418.7 1555.1zM1425.6 1542L1429.6 1551.5L1439.9 1552.4L1432.1 1559.1L1434.4 1569.2L1425.6 1563.8L1416.8 1569.2L1419.1 1559.1L1411.3 1552.4L1421.6 1551.5zM1428.5 1538.5L1432.5 1548L1442.8 1548.9L1435 1555.6L1437.4 1565.6L1428.5 1560.3L1419.7 1565.6L1422.1 1555.6L1414.3 1548.9L1424.5 1548zM1431.5 1535.1L1435.5 1544.6L1445.8 1545.4L1438 1552.2L1440.3 1562.2L1431.5 1556.9L1422.7 1562.2L1425 1552.2L1417.2 1545.4L1427.5 1544.6zM1434.4 1531.8L1438.4 1541.2L1448.7 1542.1L1440.9 1548.9L1443.3 1558.9L1434.4 1553.6L1425.6 1558.9L1428 1548.9L1420.2 1542.1L1430.4 1541.2zM1437.4 1528.6L1441.4 1538.1L1451.7 1538.9L1443.9 1545.7L1446.2 1555.7L1437.4 1550.4L1428.6 1555.7L1430.9 1545.7L1423.1 1538.9L1433.4 1538.1zM1440.3 1525.6L1444.3 1535.1L1454.6 1535.9L1446.8 1542.7L1449.2 1552.7L1440.3 1547.4L1431.5 1552.7L1433.9 1542.7L1426.1 1535.9L1436.3 1535.1zM1443.3 1522.6L1447.3 1532.1L1457.6 1533L1449.8 1539.7L1452.1 1549.7L1443.3 1544.4L1434.5 1549.7L1436.8 1539.7L1429 1533L1439.3 1532.1zM1446.2 1519.6L1450.2 1529.1L1460.5 1529.9L1452.7 1536.7L1455.1 1546.7L1446.2 1541.4L1437.4 1546.7L1439.8 1536.7L1432 1529.9L1442.2 1529.1zM1449.2 1516.4L1453.2 1525.9L1463.5 1526.7L1455.7 1533.5L1458 1543.5L1449.2 1538.2L1440.4 1543.5L1442.7 1533.5L1434.9 1526.7L1445.2 1525.9zM1452.1 1512.9L1456.1 1522.4L1466.4 1523.3L1458.6 1530L1461 1540.1L1452.1 1534.7L1443.3 1540.1L1445.7 1530L1437.9 1523.3L1448.1 1522.4zM1455.1 1509.3L1459.1 1518.8L1469.4 1519.7L1461.6 1526.4L1463.9 1536.4L1455.1 1531.1L1446.3 1536.4L1448.6 1526.4L1440.8 1519.7L1451.1 1518.8zM1456.6 1507.5L1460.6 1517L1470.8 1517.8L1463 1524.6L1465.4 1534.6L1456.6 1529.3L1447.7 1534.6L1450.1 1524.6L1442.3 1517.8L1452.6 1517zM1463.9 1498L1467.9 1507.5L1478.2 1508.4L1470.4 1515.1L1472.7 1525.2L1463.9 1519.8L1455.1 1525.2L1457.5 1515.1L1449.7 1508.4L1459.9 1507.5zM1471.3 1489L1475.3 1498.5L1485.6 1499.4L1477.8 1506.1L1480.1 1516.2L1471.3 1510.8L1462.5 1516.2L1464.8 1506.1L1457 1499.4L1467.3 1498.5zM1478.7 1480.4L1482.7 1489.9L1492.9 1490.8L1485.1 1497.5L1487.5 1507.6L1478.7 1502.2L1469.9 1507.6L1472.2 1497.5L1464.4 1490.8L1474.7 1489.9zM1486 1471.9L1490 1481.4L1500.3 1482.2L1492.5 1489L1494.9 1499L1486 1493.7L1477.2 1499L1479.6 1489L1471.8 1482.2L1482.1 1481.4zM1493.4 1462.8L1497.4 1472.3L1507.7 1473.2L1499.9 1480L1502.2 1490L1493.4 1484.6L1484.6 1490L1487 1480L1479.2 1473.2L1489.4 1472.3zM1508.2 1445.5L1512.2 1455L1522.4 1455.8L1514.6 1462.6L1517 1472.6L1508.2 1467.3L1499.3 1472.6L1501.7 1462.6L1493.9 1455.8L1504.2 1455zM1522.9 1431.3L1526.9 1440.8L1537.2 1441.7L1529.4 1448.4L1531.7 1458.4L1522.9 1453.1L1514.1 1458.4L1516.4 1448.4L1508.6 1441.7L1518.9 1440.8zM1537.7 1418.5L1541.7 1428L1551.9 1428.9L1544.1 1435.6L1546.5 1445.7L1537.7 1440.3L1528.8 1445.7L1531.2 1435.6L1523.4 1428.9L1533.7 1428zM1552.4 1406.3L1556.4 1415.8L1566.7 1416.7L1558.9 1423.4L1561.2 1433.4L1552.4 1428.1L1543.6 1433.4L1545.9 1423.4L1538.1 1416.7L1548.4 1415.8zM1567.1 1395.1L1571.1 1404.6L1581.4 1405.4L1573.6 1412.2L1576 1422.2L1567.1 1416.9L1558.3 1422.2L1560.7 1412.2L1552.9 1405.4L1563.1 1404.6zM1596.6 1374.9L1600.6 1384.4L1610.9 1385.3L1603.1 1392L1605.4 1402L1596.6 1396.7L1587.8 1402L1590.2 1392L1582.4 1385.3L1592.6 1384.4zM1626.1 1357.3L1630.1 1366.8L1640.4 1367.7L1632.6 1374.4L1634.9 1384.4L1626.1 1379.1L1617.3 1384.4L1619.7 1374.4L1611.9 1367.7L1622.1 1366.8zM1655.6 1342.2L1659.6 1351.6L1669.9 1352.5L1662.1 1359.3L1664.4 1369.3L1655.6 1364L1646.8 1369.3L1649.1 1359.3L1641.3 1352.5L1651.6 1351.6zM1685.1 1328.6L1689.1 1338.1L1699.4 1338.9L1691.6 1345.7L1693.9 1355.7L1685.1 1350.4L1676.3 1355.7L1678.6 1345.7L1670.8 1338.9L1681.1 1338.1zM1714.6 1316.5L1718.6 1326L1728.9 1326.8L1721.1 1333.6L1723.4 1343.6L1714.6 1338.3L1705.8 1343.6L1708.1 1333.6L1700.3 1326.8L1710.6 1326zM1787.9 1290.5L1791.9 1300L1802.1 1300.9L1794.3 1307.6L1796.7 1317.7L1787.9 1312.3L1779.1 1317.7L1781.4 1307.6L1773.6 1300.9L1783.9 1300zM1861.2 1268.5L1865.2 1278L1875.4 1278.9L1867.6 1285.6L1870 1295.6L1861.2 1290.3L1852.4 1295.6L1854.7 1285.6L1846.9 1278.9L1857.2 1278zM1934.5 1249.1L1938.5 1258.6L1948.7 1259.5L1940.9 1266.2L1943.3 1276.2L1934.5 1270.9L1925.7 1276.2L1928 1266.2L1920.2 1259.5L1930.5 1258.6zM2007.8 1232L2011.8 1241.5L2022 1242.4L2014.2 1249.1L2016.6 1259.1L2007.8 1253.8L1998.9 1259.1L2001.3 1249.1L1993.5 1242.4L2003.8 1241.5zM2081.1 1216.6L2085.1 1226.1L2095.3 1227L2087.5 1233.7L2089.9 1243.8L2081.1 1238.4L2072.2 1243.8L2074.6 1233.7L2066.8 1227L2077.1 1226.1zM2154.3 1203.1L2158.3 1212.6L2168.6 1213.5L2160.8 1220.2L2163.2 1230.2L2154.3 1224.9L2145.5 1230.2L2147.9 1220.2L2140.1 1213.5L2150.4 1212.6zM2227.6 1191.4L2231.6 1200.8L2241.9 1201.7L2234.1 1208.5L2236.5 1218.5L2227.6 1213.2L2218.8 1218.5L2221.2 1208.5L2213.4 1201.7L2223.6 1200.8zM2300.9 1181.2L2304.9 1190.7L2315.2 1191.6L2307.4 1198.3L2309.8 1208.4L2300.9 1203L2292.1 1208.4L2294.5 1198.3L2286.7 1191.6L2296.9 1190.7z" fill="#E86C00"/>
<path d="M1581.4 1409.6L1582.4 1409M1730.7 1339.2L1771.8 1325.2M1804.2 1315L1844.9 1303.1M1877.6 1294L1918 1283.5M1951 1275.3L1991.2 1266M2024.4 1258.6L2064.4 1250.2M2097.8 1243.5L2137.6 1236.1M2171.1 1230.2L2210.9 1223.6M2244.5 1218.5L2284.1 1212.8" stroke="#009E9E" stroke-width="4" fill="none"/>
<path d="M1419.7 1553.4L1434.4 1564.2L1428.8 1581.5L1410.6 1581.5L1405 1564.2zM1422.6 1549.9L1437.4 1560.6L1431.8 1577.9L1413.5 1577.9L1407.9 1560.6zM1425.6 1546.4L1440.3 1557.1L1434.7 1574.4L1416.5 1574.4L1410.9 1557.1zM1428.5 1542.8L1443.3 1553.5L1437.7 1570.9L1419.4 1570.9L1413.8 1553.5zM1431.5 1539.3L1446.2 1550L1440.6 1567.4L1422.4 1567.4L1416.8 1550zM1434.4 1535.8L1449.2 1546.5L1443.6 1563.9L1425.3 1563.9L1419.7 1546.5zM1437.4 1532.3L1452.1 1543L1446.5 1560.4L1428.3 1560.4L1422.7 1543zM1440.3 1528.8L1455.1 1539.6L1449.5 1556.9L1431.2 1556.9L1425.6 1539.6zM1443.3 1525.4L1458 1536.1L1452.4 1553.4L1434.2 1553.4L1428.5 1536.1zM1446.2 1521.9L1461 1532.6L1455.4 1550L1437.1 1550L1431.5 1532.6zM1449.2 1518.5L1463.9 1529.2L1458.3 1546.5L1440.1 1546.5L1434.4 1529.2zM1452.1 1515.1L1466.9 1525.8L1461.2 1543.1L1443 1543.1L1437.4 1525.8zM1455.1 1511.7L1469.8 1522.4L1464.2 1539.7L1446 1539.7L1440.3 1522.4zM1456.6 1510L1471.3 1520.7L1465.7 1538L1447.5 1538L1441.8 1520.7zM1463.9 1501.6L1478.7 1512.4L1473 1529.7L1454.8 1529.7L1449.2 1512.4zM1471.3 1493.5L1486 1504.2L1480.4 1521.5L1462.2 1521.5L1456.6 1504.2zM1478.7 1485.6L1493.4 1496.3L1487.8 1513.6L1469.6 1513.6L1463.9 1496.3zM1486 1477.7L1500.8 1488.4L1495.2 1505.7L1476.9 1505.7L1471.3 1488.4zM1493.4 1469.4L1508.2 1480.1L1502.5 1497.4L1484.3 1497.4L1478.7 1480.1zM1508.2 1453.2L1522.9 1463.9L1517.3 1481.2L1499.1 1481.2L1493.4 1463.9zM1522.9 1439.4L1537.7 1450.2L1532 1467.5L1513.8 1467.5L1508.2 1450.2zM1537.7 1427L1552.4 1437.7L1546.8 1455L1528.5 1455L1522.9 1437.7zM1552.4 1415.3L1567.1 1426L1561.5 1443.3L1543.3 1443.3L1537.7 1426zM1567.1 1404.5L1581.9 1415.2L1576.3 1432.6L1558 1432.6L1552.4 1415.2zM1596.6 1385.4L1611.4 1396.1L1605.7 1413.5L1587.5 1413.5L1581.9 1396.1zM1626.1 1368.8L1640.9 1379.6L1635.2 1396.9L1617 1396.9L1611.4 1379.6zM1655.6 1354.6L1670.3 1365.3L1664.7 1382.6L1646.5 1382.6L1640.9 1365.3zM1685.1 1341.8L1699.8 1352.5L1694.2 1369.8L1676 1369.8L1670.4 1352.5zM1714.6 1330.3L1729.3 1341L1723.7 1358.4L1705.5 1358.4L1699.8 1341zM1787.9 1305.4L1802.6 1316.1L1797 1333.5L1778.8 1333.5L1773.1 1316.1zM1861.2 1284L1875.9 1294.7L1870.3 1312.1L1852.1 1312.1L1846.4 1294.7zM1934.5 1264.9L1949.2 1275.6L1943.6 1292.9L1925.4 1292.9L1919.7 1275.6zM2007.8 1247.8L2022.5 1258.5L2016.9 1275.8L1998.7 1275.8L1993 1258.5zM2081.1 1232.4L2095.8 1243.1L2090.2 1260.4L2071.9 1260.4L2066.3 1243.1zM2154.3 1218.6L2169.1 1229.3L2163.5 1246.7L2145.2 1246.7L2139.6 1229.3zM2227.6 1206.6L2242.4 1217.3L2236.8 1234.6L2218.5 1234.6L2212.9 1217.3zM2300.9 1196.1L2315.7 1206.8L2310 1224.1L2291.8 1224.1L2286.2 1206.8z" fill="#009E9E"/>
<path d="M1581.4 1429L1582.4 1428.3M1730.6 1358.6L1771.8 1344.3M1804.2 1333.8L1844.9 1321.6M1877.6 1312.4L1918 1301.5M1951 1293.2L1991.2 1283.6M2024.4 1276.1L2064.4 1267.5M2097.8 1260.8L2137.6 1253.2M2171.1 1247.3L2210.9 1240.7M2244.5 1235.5L2284.1 1229.8" stroke="#6B5FCC" stroke-width="4" fill="none"/>
<g fill="url(#gP)">
<circle cx="1419.7" cy="1575.1" r="13.75"/><circle cx="1422.6" cy="1572.4" r="13.75"/><circle cx="1425.6" cy="1569.3" r="13.75"/><circle cx="1428.5" cy="1565.9" r="13.75"/><circle cx="1431.5" cy="1562.2" r="13.75"/><circle cx="1434.4" cy="1558.1" r="13.75"/><circle cx="1437.4" cy="1553.4" r="13.75"/><circle cx="1440.3" cy="1547.8" r="13.75"/><circle cx="1443.3" cy="1542" r="13.75"/><circle cx="1446.2" cy="1536.4" r="13.75"/><circle cx="1449.2" cy="1531.7" r="13.75"/><circle cx="1452.1" cy="1527.9" r="13.75"/><circle cx="1455.1" cy="1524.4" r="13.75"/><circle cx="1456.6" cy="1522.7" r="13.75"/><circle cx="1463.9" cy="1515.1" r="13.75"/><circle cx="1471.3" cy="1507.9" r="13.75"/><circle cx="1478.7" cy="1500.8" r="13.75"/><circle cx="1486" cy="1494.9" r="13.75"/><circle cx="1493.4" cy="1490.6" r="13.75"/><circle cx="1508.2" cy="1483.3" r="13.75"/><circle cx="1522.9" cy="1474.9" r="13.75"/><circle cx="1537.7" cy="1465.2" r="13.75"/><circle cx="1552.4" cy="1451.8" r="13.75"/><circle cx="1567.1" cy="1438.4" r="13.75"/><circle cx="1596.6" cy="1419" r="13.75"/><circle cx="1626.1" cy="1403" r="13.75"/><circle cx="1655.6" cy="1388.7" r="13.75"/><circle cx="1685.1" cy="1375.8" r="13.75"/><circle cx="1714.6" cy="1364.1" r="13.75"/><circle cx="1787.9" cy="1338.7" r="13.75"/><circle cx="1861.2" cy="1316.8" r="13.75"/><circle cx="1934.5" cy="1297.1" r="13.75"/><circle cx="2007.8" cy="1279.7" r="13.75"/><circle cx="2081.1" cy="1264" r="13.75"/><circle cx="2154.3" cy="1250" r="13.75"/><circle cx="2227.6" cy="1237.9" r="13.75"/><circle cx="2300.9" cy="1227.4" r="13.75"/>
</g>
<path d="M1581.1 1454.6L1582.7 1453.5M1730.6 1378L1771.9 1363.2M1804.2 1352.6L1844.9 1340.3M1877.6 1331.1L1918 1320.6M1951 1312.4L1991.2 1303.1M2024.4 1295.7L2064.4 1287.1M2097.7 1280.3L2137.7 1272.6M2171.1 1266.4L2210.9 1259.3M2244.4 1253.6L2284.2 1247.2" stroke="#A08C84" stroke-width="4" fill="none"/>
<path d="M1406.7 1604.4h26M1419.7 1591.4v26M1409.6 1601.1h26M1422.6 1588.1v26M1412.6 1597.9h26M1425.6 1584.9v26M1415.5 1594.7h26M1428.5 1581.7v26M1418.5 1591.5h26M1431.5 1578.5v26M1421.4 1588.4h26M1434.4 1575.4v26M1424.4 1585.2h26M1437.4 1572.2v26M1427.3 1582h26M1440.3 1569v26M1430.3 1578.8h26M1443.3 1565.8v26M1433.2 1575.7h26M1446.2 1562.7v26M1436.2 1572.5h26M1449.2 1559.5v26M1439.1 1569.4h26M1452.1 1556.4v26M1442.1 1566.3h26M1455.1 1553.3v26M1443.6 1564.8h26M1456.6 1551.8v26M1450.9 1557h26M1463.9 1544v26M1458.3 1549.4h26M1471.3 1536.4v26M1465.7 1541.9h26M1478.7 1528.9v26M1473 1534.6h26M1486 1521.6v26M1480.4 1527.4h26M1493.4 1514.4v26M1495.2 1513.4h26M1508.2 1500.4v26M1509.9 1500.1h26M1522.9 1487.1v26M1524.7 1487.4h26M1537.7 1474.4v26M1539.4 1475.4h26M1552.4 1462.4v26M1554.1 1464.2h26M1567.1 1451.2v26M1583.6 1443.8h26M1596.6 1430.8v26M1613.1 1425.9h26M1626.1 1412.9v26M1642.6 1410.2h26M1655.6 1397.2v26M1672.1 1396.1h26M1685.1 1383.1v26M1701.6 1383.7h26M1714.6 1370.7v26M1774.9 1357.5h26M1787.9 1344.5v26M1848.2 1335.4h26M1861.2 1322.4v26M1921.5 1316.3h26M1934.5 1303.3v26M1994.8 1299.2h26M2007.8 1286.2v26M2068.1 1283.6h26M2081.1 1270.6v26M2141.3 1269.3h26M2154.3 1256.3v26M2214.6 1256.3h26M2227.6 1243.3v26M2287.9 1244.5h26M2300.9 1231.5v26" stroke="#A08C84" stroke-width="2.3" fill="none"/>
<path d="M1581.1 1467.8L1582.6 1466.7M1730.6 1392.1L1771.9 1377.4M1804.2 1366.8L1844.9 1354.5M1877.6 1345.2L1918 1334.5M1951 1326.2L1991.2 1316.8M2024.4 1309.3L2064.4 1300.8M2097.8 1294.1L2137.6 1286.5M2171.1 1280.5L2210.9 1273.8M2244.5 1268.5L2284.1 1262.6" stroke="#F03040" stroke-width="4" fill="none"/>
<path d="M1409.2 1613.4l21.0 21.0M1409.2 1634.4l21.0 -21.0M1412.1 1610l21.0 21.0M1412.1 1631l21.0 -21.0M1415.1 1606.5l21.0 21.0M1415.1 1627.5l21.0 -21.0M1418 1603.1l21.0 21.0M1418 1624.1l21.0 -21.0M1421 1599.7l21.0 21.0M1421 1620.7l21.0 -21.0M1423.9 1596.3l21.0 21.0M1423.9 1617.3l21.0 -21.0M1426.9 1592.9l21.0 21.0M1426.9 1613.9l21.0 -21.0M1429.8 1589.5l21.0 21.0M1429.8 1610.5l21.0 -21.0M1432.8 1586.1l21.0 21.0M1432.8 1607.1l21.0 -21.0M1435.7 1582.8l21.0 21.0M1435.7 1603.8l21.0 -21.0M1438.7 1579.4l21.0 21.0M1438.7 1600.4l21.0 -21.0M1441.6 1576.1l21.0 21.0M1441.6 1597.1l21.0 -21.0M1444.6 1572.8l21.0 21.0M1444.6 1593.8l21.0 -21.0M1446.1 1571.1l21.0 21.0M1446.1 1592.1l21.0 -21.0M1453.4 1562.9l21.0 21.0M1453.4 1583.9l21.0 -21.0M1460.8 1554.9l21.0 21.0M1460.8 1575.9l21.0 -21.0M1468.2 1547l21.0 21.0M1468.2 1568l21.0 -21.0M1475.5 1539.3l21.0 21.0M1475.5 1560.3l21.0 -21.0M1482.9 1531.7l21.0 21.0M1482.9 1552.7l21.0 -21.0M1497.7 1517.1l21.0 21.0M1497.7 1538.1l21.0 -21.0M1512.4 1503.4l21.0 21.0M1512.4 1524.4l21.0 -21.0M1527.2 1490.4l21.0 21.0M1527.2 1511.4l21.0 -21.0M1541.9 1478.2l21.0 21.0M1541.9 1499.2l21.0 -21.0M1556.6 1466.9l21.0 21.0M1556.6 1487.9l21.0 -21.0M1586.1 1446.6l21.0 21.0M1586.1 1467.6l21.0 -21.0M1615.6 1428.8l21.0 21.0M1615.6 1449.8l21.0 -21.0M1645.1 1413.4l21.0 21.0M1645.1 1434.4l21.0 -21.0M1674.6 1399.6l21.0 21.0M1674.6 1420.6l21.0 -21.0M1704.1 1387.3l21.0 21.0M1704.1 1408.3l21.0 -21.0M1777.4 1361.2l21.0 21.0M1777.4 1382.2l21.0 -21.0M1850.7 1339.1l21.0 21.0M1850.7 1360.1l21.0 -21.0M1924 1319.6l21.0 21.0M1924 1340.6l21.0 -21.0M1997.3 1302.4l21.0 21.0M1997.3 1323.4l21.0 -21.0M2070.6 1286.8l21.0 21.0M2070.6 1307.8l21.0 -21.0M2143.8 1272.8l21.0 21.0M2143.8 1293.8l21.0 -21.0M2217.1 1260.5l21.0 21.0M2217.1 1281.5l21.0 -21.0M2290.4 1249.7l21.0 21.0M2290.4 1270.7l21.0 -21.0" stroke="#F03040" stroke-width="1.9" stroke-opacity="0.8" fill="none"/>
<path d="M1581.4 1484.7L1582.4 1484.1M1730.7 1413.8L1771.8 1399.6M1804.2 1389.2L1844.9 1377.1M1877.6 1367.7L1918.1 1356.8M1951 1348.3L1991.2 1338.4M2024.3 1330.6L2064.5 1321.6M2097.7 1314.4L2137.7 1306.3M2171.1 1299.8L2210.9 1292.4M2244.4 1286.6L2284.2 1280" stroke="#479E9E" stroke-width="4" fill="none"/>
<path d="M1405.7 1643.4h28M1419.7 1629.4v28M1408.6 1639.8h28M1422.6 1625.8v28M1411.6 1636.2h28M1425.6 1622.2v28M1414.5 1632.6h28M1428.5 1618.6v28M1417.5 1629h28M1431.5 1615v28M1420.4 1625.4h28M1434.4 1611.4v28M1423.4 1621.8h28M1437.4 1607.8v28M1426.3 1618.2h28M1440.3 1604.2v28M1429.3 1614.7h28M1443.3 1600.7v28M1432.2 1611.1h28M1446.2 1597.1v28M1435.2 1607.6h28M1449.2 1593.6v28M1438.1 1604.1h28M1452.1 1590.1v28M1441.1 1600.6h28M1455.1 1586.6v28M1442.6 1598.9h28M1456.6 1584.9v28M1449.9 1590.4h28M1463.9 1576.4v28M1457.3 1582h28M1471.3 1568v28M1464.7 1573.8h28M1478.7 1559.8v28M1472 1565.8h28M1486 1551.8v28M1479.4 1558.1h28M1493.4 1544.1v28M1494.2 1543.3h28M1508.2 1529.3v28M1508.9 1529.6h28M1522.9 1515.6v28M1523.7 1516.8h28M1537.7 1502.8v28M1538.4 1504.9h28M1552.4 1490.9v28M1553.1 1494h28M1567.1 1480v28M1582.6 1474.8h28M1596.6 1460.8v28M1612.1 1458.1h28M1626.1 1444.1v28M1641.6 1443.7h28M1655.6 1429.7v28M1671.1 1430.9h28M1685.1 1416.9v28M1700.6 1419.3h28M1714.6 1405.3v28M1773.9 1394.1h28M1787.9 1380.1v28M1847.2 1372.2h28M1861.2 1358.2v28M1920.5 1352.3h28M1934.5 1338.3v28M1993.8 1334.4h28M2007.8 1320.4v28M2067.1 1317.8h28M2081.1 1303.8v28M2140.3 1302.9h28M2154.3 1288.9v28M2213.6 1289.4h28M2227.6 1275.4v28M2286.9 1277.2h28M2300.9 1263.2v28" stroke="#479E9E" stroke-width="2.5" fill="none"/>
<path d="M1409.2 1632.9l21.0 21.0M1409.2 1653.9l21.0 -21.0M1412.1 1629.3l21.0 21.0M1412.1 1650.3l21.0 -21.0M1415.1 1625.7l21.0 21.0M1415.1 1646.7l21.0 -21.0M1418 1622.1l21.0 21.0M1418 1643.1l21.0 -21.0M1421 1618.5l21.0 21.0M1421 1639.5l21.0 -21.0M1423.9 1614.9l21.0 21.0M1423.9 1635.9l21.0 -21.0M1426.9 1611.3l21.0 21.0M1426.9 1632.3l21.0 -21.0M1429.8 1607.7l21.0 21.0M1429.8 1628.7l21.0 -21.0M1432.8 1604.2l21.0 21.0M1432.8 1625.2l21.0 -21.0M1435.7 1600.6l21.0 21.0M1435.7 1621.6l21.0 -21.0M1438.7 1597.1l21.0 21.0M1438.7 1618.1l21.0 -21.0M1441.6 1593.6l21.0 21.0M1441.6 1614.6l21.0 -21.0M1444.6 1590.1l21.0 21.0M1444.6 1611.1l21.0 -21.0M1446.1 1588.4l21.0 21.0M1446.1 1609.4l21.0 -21.0M1453.4 1579.9l21.0 21.0M1453.4 1600.9l21.0 -21.0M1460.8 1571.5l21.0 21.0M1460.8 1592.5l21.0 -21.0M1468.2 1563.3l21.0 21.0M1468.2 1584.3l21.0 -21.0M1475.5 1555.3l21.0 21.0M1475.5 1576.3l21.0 -21.0M1482.9 1547.6l21.0 21.0M1482.9 1568.6l21.0 -21.0M1497.7 1532.8l21.0 21.0M1497.7 1553.8l21.0 -21.0M1512.4 1519.1l21.0 21.0M1512.4 1540.1l21.0 -21.0M1527.2 1506.3l21.0 21.0M1527.2 1527.3l21.0 -21.0M1541.9 1494.4l21.0 21.0M1541.9 1515.4l21.0 -21.0M1556.6 1483.5l21.0 21.0M1556.6 1504.5l21.0 -21.0M1586.1 1464.3l21.0 21.0M1586.1 1485.3l21.0 -21.0M1615.6 1447.6l21.0 21.0M1615.6 1468.6l21.0 -21.0M1645.1 1433.2l21.0 21.0M1645.1 1454.2l21.0 -21.0M1674.6 1420.4l21.0 21.0M1674.6 1441.4l21.0 -21.0M1704.1 1408.8l21.0 21.0M1704.1 1429.8l21.0 -21.0M1777.4 1383.6l21.0 21.0M1777.4 1404.6l21.0 -21.0M1850.7 1361.7l21.0 21.0M1850.7 1382.7l21.0 -21.0M1924 1341.8l21.0 21.0M1924 1362.8l21.0 -21.0M1997.3 1323.9l21.0 21.0M1997.3 1344.9l21.0 -21.0M2070.6 1307.3l21.0 21.0M2070.6 1328.3l21.0 -21.0M2143.8 1292.4l21.0 21.0M2143.8 1313.4l21.0 -21.0M2217.1 1278.9l21.0 21.0M2217.1 1299.9l21.0 -21.0M2290.4 1266.7l21.0 21.0M2290.4 1287.7l21.0 -21.0" stroke="#479E9E" stroke-width="1.7" stroke-opacity="0.6" fill="none"/>
<path d="M1581.3 1509.6L1582.4 1508.8M1730.6 1437.1L1771.8 1422.6M1804.1 1412L1844.9 1399.6M1877.6 1390.2L1918.1 1379M1951 1370.4L1991.3 1360.4M2024.3 1352.5L2064.5 1343.3M2097.7 1336.1L2137.7 1327.7M2171.1 1321L2210.9 1313.5M2244.4 1307.4L2284.2 1300.6" stroke="#E0A000" stroke-width="4" fill="none"/>
<path d="M1405.7 1662.9h28M1408.6 1659.5h28M1411.6 1656.1h28M1414.5 1652.7h28M1417.5 1649.3h28M1420.4 1645.9h28M1423.4 1642.5h28M1426.3 1639.1h28M1429.3 1635.8h28M1432.2 1632.4h28M1435.2 1629.1h28M1438.1 1625.8h28M1441.1 1622.5h28M1442.6 1620.8h28M1449.9 1612.7h28M1457.3 1604.7h28M1464.7 1596.9h28M1472 1589.3h28M1479.4 1581.8h28M1494.2 1567.5h28M1508.9 1554.1h28M1523.7 1541.5h28M1538.4 1529.8h28M1553.1 1518.9h28M1582.6 1499.5h28M1612.1 1482.5h28M1641.6 1467.8h28M1671.1 1454.6h28M1700.6 1442.8h28M1773.9 1417h28M1847.2 1394.7h28M1920.5 1374.5h28M1993.8 1356.3h28M2067.1 1339.5h28M2140.3 1324.2h28M2213.6 1310.3h28M2286.9 1297.7h28" stroke="#E0A000" stroke-width="3.6" fill="none"/>
<path d="M1730.6 1464L1771.8 1449.6M1804.1 1439L1844.9 1426.4M1877.5 1416.8L1918.1 1405.3M1950.9 1396.5L1991.3 1386M2024.3 1377.7L2064.5 1368M2097.6 1360.3L2137.8 1351.3M2171 1344.2L2211 1336M2244.3 1329.4L2284.2 1321.9" stroke="#FF0000" stroke-width="4" fill="none"/>
<path d="M1419.7 1663.6v28M1422.6 1660.4v28M1425.6 1657.1v28M1428.5 1653.9v28M1431.5 1650.7v28M1434.4 1647.6v28M1437.4 1644.4v28M1440.3 1641.2v28M1443.3 1638v28M1446.2 1634.9v28M1449.2 1631.7v28M1452.1 1628.6v28M1455.1 1625.5v28M1456.6 1624v28M1463.9 1616.4v28M1471.3 1608.9v28M1478.7 1601.5v28M1486 1594.4v28M1493.4 1587.4v28M1508.2 1574v28M1522.9 1561.4v28M1537.7 1549.6v28M1552.4 1538.5v28M1567.1 1528.4v28M1596.6 1510.1v28M1626.1 1494v28M1655.6 1479.9v28M1685.1 1467.2v28M1714.6 1455.6v28M1787.9 1430v28M1861.2 1407.4v28M1934.5 1386.7v28M2007.8 1367.7v28M2081.1 1350v28M2154.3 1333.6v28M2227.6 1318.6v28M2300.9 1304.7v28" stroke="#FF0000" stroke-width="3.6" fill="none"/>
<path d="M1730.5 1492L1772 1476.4M1804 1465.1L1845 1451.7M1877.5 1441.6L1918.2 1429.5M1950.9 1420.3L1991.3 1409.5M2024.3 1401.1L2064.5 1391.3M2097.7 1383.6L2137.7 1374.8M2171 1367.8L2211 1359.9M2244.4 1353.6L2284.2 1346.6" stroke="#105FA0" stroke-width="4" fill="none"/>
<path d="M1407.7 1689.5h24v24h-24zM1410.6 1686.7h24v24h-24zM1413.6 1683.8h24v24h-24zM1416.5 1680.8h24v24h-24zM1419.5 1677.7h24v24h-24zM1422.4 1674.5h24v24h-24zM1425.4 1671.2h24v24h-24zM1428.3 1667.6h24v24h-24zM1431.3 1664h24v24h-24zM1434.2 1660.3h24v24h-24zM1437.2 1656.8h24v24h-24zM1440.1 1653.4h24v24h-24zM1443.1 1650h24v24h-24zM1444.6 1648.3h24v24h-24zM1451.9 1640h24v24h-24zM1459.3 1632h24v24h-24zM1466.7 1624.1h24v24h-24zM1474 1617.1h24v24h-24zM1481.4 1611.4h24v24h-24zM1496.2 1601.4h24v24h-24zM1510.9 1592.4h24v24h-24zM1525.7 1583.4h24v24h-24zM1540.4 1573h24v24h-24zM1555.1 1562.6h24v24h-24zM1584.6 1543.8h24v24h-24zM1614.1 1526.9h24v24h-24zM1643.6 1512h24v24h-24zM1673.1 1498.4h24v24h-24zM1702.6 1485.9h24v24h-24zM1775.9 1458.4h24v24h-24zM1849.2 1434.4h24v24h-24zM1922.5 1412.7h24v24h-24zM1995.8 1393.2h24v24h-24zM2069.1 1375.3h24v24h-24zM2142.3 1359.1h24v24h-24zM2215.6 1344.6h24v24h-24zM2288.9 1331.6h24v24h-24z" fill="#105FA0"/>
<path d="M1581.3 1597.3L1582.5 1596.5M1730.5 1522.1L1772 1506.1M1804 1494.5L1845.1 1480.6M1877.4 1470.2L1918.2 1457.8M1950.9 1448.2L1991.4 1437M2024.2 1428.3L2064.6 1418.1M2097.6 1410.1L2137.8 1400.8M2171 1393.5L2211 1385.2M2244.4 1378.6L2284.2 1371.2" stroke="#FFC200" stroke-width="4" fill="none"/>
<path d="M1406 1724a13.75 13.75 0 1 0 27.5 0a13.75 13.75 0 1 0 -27.5 0zM1408.9 1720.6a13.75 13.75 0 1 0 27.5 0a13.75 13.75 0 1 0 -27.5 0zM1411.8 1717.4a13.75 13.75 0 1 0 27.5 0a13.75 13.75 0 1 0 -27.5 0zM1414.8 1714.3a13.75 13.75 0 1 0 27.5 0a13.75 13.75 0 1 0 -27.5 0zM1417.7 1711.3a13.75 13.75 0 1 0 27.5 0a13.75 13.75 0 1 0 -27.5 0zM1420.7 1708.4a13.75 13.75 0 1 0 27.5 0a13.75 13.75 0 1 0 -27.5 0zM1423.6 1705.8a13.75 13.75 0 1 0 27.5 0a13.75 13.75 0 1 0 -27.5 0zM1426.6 1703.3a13.75 13.75 0 1 0 27.5 0a13.75 13.75 0 1 0 -27.5 0zM1429.5 1700.9a13.75 13.75 0 1 0 27.5 0a13.75 13.75 0 1 0 -27.5 0zM1432.5 1698.5a13.75 13.75 0 1 0 27.5 0a13.75 13.75 0 1 0 -27.5 0zM1435.4 1696a13.75 13.75 0 1 0 27.5 0a13.75 13.75 0 1 0 -27.5 0zM1438.4 1693.4a13.75 13.75 0 1 0 27.5 0a13.75 13.75 0 1 0 -27.5 0zM1441.3 1690.8a13.75 13.75 0 1 0 27.5 0a13.75 13.75 0 1 0 -27.5 0zM1442.8 1689.4a13.75 13.75 0 1 0 27.5 0a13.75 13.75 0 1 0 -27.5 0zM1450.2 1682.8a13.75 13.75 0 1 0 27.5 0a13.75 13.75 0 1 0 -27.5 0zM1457.6 1676.8a13.75 13.75 0 1 0 27.5 0a13.75 13.75 0 1 0 -27.5 0zM1464.9 1671.5a13.75 13.75 0 1 0 27.5 0a13.75 13.75 0 1 0 -27.5 0zM1472.3 1666.3a13.75 13.75 0 1 0 27.5 0a13.75 13.75 0 1 0 -27.5 0zM1479.7 1660.7a13.75 13.75 0 1 0 27.5 0a13.75 13.75 0 1 0 -27.5 0zM1494.4 1649.9a13.75 13.75 0 1 0 27.5 0a13.75 13.75 0 1 0 -27.5 0zM1509.2 1641.5a13.75 13.75 0 1 0 27.5 0a13.75 13.75 0 1 0 -27.5 0zM1523.9 1632.6a13.75 13.75 0 1 0 27.5 0a13.75 13.75 0 1 0 -27.5 0zM1538.6 1619.8a13.75 13.75 0 1 0 27.5 0a13.75 13.75 0 1 0 -27.5 0zM1553.4 1606.8a13.75 13.75 0 1 0 27.5 0a13.75 13.75 0 1 0 -27.5 0zM1582.9 1587.1a13.75 13.75 0 1 0 27.5 0a13.75 13.75 0 1 0 -27.5 0zM1612.4 1570.2a13.75 13.75 0 1 0 27.5 0a13.75 13.75 0 1 0 -27.5 0zM1641.9 1554.9a13.75 13.75 0 1 0 27.5 0a13.75 13.75 0 1 0 -27.5 0zM1671.3 1541a13.75 13.75 0 1 0 27.5 0a13.75 13.75 0 1 0 -27.5 0zM1700.8 1528.2a13.75 13.75 0 1 0 27.5 0a13.75 13.75 0 1 0 -27.5 0zM1774.1 1500a13.75 13.75 0 1 0 27.5 0a13.75 13.75 0 1 0 -27.5 0zM1847.4 1475.2a13.75 13.75 0 1 0 27.5 0a13.75 13.75 0 1 0 -27.5 0zM1920.7 1452.8a13.75 13.75 0 1 0 27.5 0a13.75 13.75 0 1 0 -27.5 0zM1994 1432.5a13.75 13.75 0 1 0 27.5 0a13.75 13.75 0 1 0 -27.5 0zM2067.3 1413.9a13.75 13.75 0 1 0 27.5 0a13.75 13.75 0 1 0 -27.5 0zM2140.6 1397a13.75 13.75 0 1 0 27.5 0a13.75 13.75 0 1 0 -27.5 0zM2213.9 1381.7a13.75 13.75 0 1 0 27.5 0a13.75 13.75 0 1 0 -27.5 0zM2287.2 1368.1a13.75 13.75 0 1 0 27.5 0a13.75 13.75 0 1 0 -27.5 0z" fill="#FFC200"/>
<path d="M1581.4 1627.3L1582.4 1626.6M1730.4 1554.3L1772 1538.3M1804 1526.6L1845.1 1512.5M1877.4 1501.9L1918.3 1489M1950.8 1479.2L1991.4 1467.5M2024.2 1458.4L2064.6 1447.5M2097.6 1439L2137.8 1429M2170.9 1421.2L2211.1 1412M2244.3 1404.8L2284.3 1396.4" stroke="#00C06E" stroke-width="4" fill="none"/>
<path d="M1419.7 1753l15.5 27h-31zM1422.6 1750.1l15.5 27h-31zM1425.6 1747.2l15.5 27h-31zM1428.5 1744.4l15.5 27h-31zM1431.5 1741.5l15.5 27h-31zM1434.4 1738.8l15.5 27h-31zM1437.4 1736l15.5 27h-31zM1440.3 1733.4l15.5 27h-31zM1443.3 1730.7l15.5 27h-31zM1446.2 1728l15.5 27h-31zM1449.2 1725.2l15.5 27h-31zM1452.1 1722.3l15.5 27h-31zM1455.1 1719.2l15.5 27h-31zM1456.6 1717.6l15.5 27h-31zM1463.9 1709.8l15.5 27h-31zM1471.3 1702.9l15.5 27h-31zM1478.7 1696.8l15.5 27h-31zM1486 1691.2l15.5 27h-31zM1493.4 1686.1l15.5 27h-31zM1508.2 1676.4l15.5 27h-31zM1522.9 1665.6l15.5 27h-31zM1537.7 1653.5l15.5 27h-31zM1552.4 1637.9l15.5 27h-31zM1567.1 1623.1l15.5 27h-31zM1596.6 1603.8l15.5 27h-31zM1626.1 1588.1l15.5 27h-31zM1655.6 1573.3l15.5 27h-31zM1685.1 1559.6l15.5 27h-31zM1714.6 1546.9l15.5 27h-31zM1787.9 1518.6l15.5 27h-31zM1861.2 1493.5l15.5 27h-31zM1934.5 1470.4l15.5 27h-31zM2007.8 1449.3l15.5 27h-31zM2081.1 1429.6l15.5 27h-31zM2154.3 1411.4l15.5 27h-31zM2227.6 1394.7l15.5 27h-31zM2300.9 1379.5l15.5 27h-31z" fill="#00C06E"/>
<path d="M1581.2 1677.8L1582.6 1676.9M1730.3 1598.8L1772.2 1581.1M1803.9 1568.7L1845.2 1553.7M1877.4 1542.7L1918.3 1529.8M1950.8 1520L1991.4 1508.5M2024.2 1499.4L2064.6 1488.5M2097.5 1479.9L2137.9 1469.6M2170.8 1461.2L2211.2 1451.1M2244.2 1442.9L2284.4 1433.1" stroke="#6464A2" stroke-width="4" fill="none"/>
<path d="M1419.7 1818l15.5 -27h-31zM1422.6 1815.6l15.5 -27h-31zM1425.6 1813.2l15.5 -27h-31zM1428.5 1810.9l15.5 -27h-31zM1431.5 1808.8l15.5 -27h-31zM1434.4 1806.7l15.5 -27h-31zM1437.4 1804.8l15.5 -27h-31zM1440.3 1803l15.5 -27h-31zM1443.3 1801.3l15.5 -27h-31zM1446.2 1799.6l15.5 -27h-31zM1449.2 1797.9l15.5 -27h-31zM1452.1 1796.1l15.5 -27h-31zM1455.1 1794.3l15.5 -27h-31zM1456.6 1793.4l15.5 -27h-31zM1463.9 1788.7l15.5 -27h-31zM1471.3 1783.7l15.5 -27h-31zM1478.7 1778.1l15.5 -27h-31zM1486 1772.5l15.5 -27h-31zM1493.4 1767.1l15.5 -27h-31zM1508.2 1756.3l15.5 -27h-31zM1522.9 1745.2l15.5 -27h-31zM1537.7 1733l15.5 -27h-31zM1552.4 1716.5l15.5 -27h-31zM1567.1 1700.9l15.5 -27h-31zM1596.6 1680.9l15.5 -27h-31zM1626.1 1664.5l15.5 -27h-31zM1655.6 1648.2l15.5 -27h-31zM1685.1 1632.9l15.5 -27h-31zM1714.6 1618.8l15.5 -27h-31zM1787.9 1588.1l15.5 -27h-31zM1861.2 1561.4l15.5 -27h-31zM1934.5 1538.2l15.5 -27h-31zM2007.8 1517.3l15.5 -27h-31zM2081.1 1497.6l15.5 -27h-31zM2154.3 1478.9l15.5 -27h-31zM2227.6 1460.5l15.5 -27h-31zM2300.9 1442.6l15.5 -27h-31z" fill="#6464A2"/>
<path d="M1730.3 1634.5L1772.2 1617.3M1803.8 1604.9L1845.3 1589.4M1877.2 1577.9L1918.4 1563.8M1950.7 1553.1L1991.6 1540.2M2024.1 1530.2L2064.7 1518.3M2097.5 1509.1L2137.9 1498.2M2170.9 1489.7L2211.1 1479.8M2244.2 1472.1L2284.3 1463.1" stroke="#999999" stroke-width="4" fill="none"/>
<path d="M1419.7 1812.4l16.5 16.5l-16.5 16.5l-16.5 -16.5zM1422.6 1810.1l16.5 16.5l-16.5 16.5l-16.5 -16.5zM1425.6 1807.9l16.5 16.5l-16.5 16.5l-16.5 -16.5zM1428.5 1805.7l16.5 16.5l-16.5 16.5l-16.5 -16.5zM1431.5 1803.6l16.5 16.5l-16.5 16.5l-16.5 -16.5zM1434.4 1801.6l16.5 16.5l-16.5 16.5l-16.5 -16.5zM1437.4 1799.6l16.5 16.5l-16.5 16.5l-16.5 -16.5zM1440.3 1797.8l16.5 16.5l-16.5 16.5l-16.5 -16.5zM1443.3 1795.9l16.5 16.5l-16.5 16.5l-16.5 -16.5zM1446.2 1794.1l16.5 16.5l-16.5 16.5l-16.5 -16.5zM1449.2 1792.3l16.5 16.5l-16.5 16.5l-16.5 -16.5zM1452.1 1790.4l16.5 16.5l-16.5 16.5l-16.5 -16.5zM1455.1 1788.6l16.5 16.5l-16.5 16.5l-16.5 -16.5zM1456.6 1787.7l16.5 16.5l-16.5 16.5l-16.5 -16.5zM1463.9 1782.9l16.5 16.5l-16.5 16.5l-16.5 -16.5zM1471.3 1776.8l16.5 16.5l-16.5 16.5l-16.5 -16.5zM1478.7 1768.5l16.5 16.5l-16.5 16.5l-16.5 -16.5zM1486 1759.8l16.5 16.5l-16.5 16.5l-16.5 -16.5zM1493.4 1751l16.5 16.5l-16.5 16.5l-16.5 -16.5zM1508.2 1735l16.5 16.5l-16.5 16.5l-16.5 -16.5zM1522.9 1724.8l16.5 16.5l-16.5 16.5l-16.5 -16.5zM1537.7 1716l16.5 16.5l-16.5 16.5l-16.5 -16.5zM1552.4 1706.9l16.5 16.5l-16.5 16.5l-16.5 -16.5zM1567.1 1698.2l16.5 16.5l-16.5 16.5l-16.5 -16.5zM1596.6 1681.6l16.5 16.5l-16.5 16.5l-16.5 -16.5zM1626.1 1666l16.5 16.5l-16.5 16.5l-16.5 -16.5zM1655.6 1651.4l16.5 16.5l-16.5 16.5l-16.5 -16.5zM1685.1 1637.5l16.5 16.5l-16.5 16.5l-16.5 -16.5zM1714.6 1624.5l16.5 16.5l-16.5 16.5l-16.5 -16.5zM1787.9 1594.4l16.5 16.5l-16.5 16.5l-16.5 -16.5zM1861.2 1566.9l16.5 16.5l-16.5 16.5l-16.5 -16.5zM1934.5 1541.7l16.5 16.5l-16.5 16.5l-16.5 -16.5zM2007.8 1518.5l16.5 16.5l-16.5 16.5l-16.5 -16.5zM2081.1 1497l16.5 16.5l-16.5 16.5l-16.5 -16.5zM2154.3 1477.3l16.5 16.5l-16.5 16.5l-16.5 -16.5zM2227.6 1459.3l16.5 16.5l-16.5 16.5l-16.5 -16.5zM2300.9 1442.9l16.5 16.5l-16.5 16.5l-16.5 -16.5z" fill="#999999"/>
<path d="M1730.3 1675.6L1772.1 1658.7M1803.8 1646.2L1845.3 1630.4M1877.2 1618.6L1918.5 1603.8M1950.6 1592.7L1991.6 1579M2024 1568.5L2064.8 1555.8M2097.4 1545.9L2138 1534.1M2170.8 1525L2211.2 1514.1M2244.1 1505.6L2284.4 1495.7" stroke="#FF6666" stroke-width="4" fill="none"/>
<path d="M1405.9 1828.9l27.6 -15.5v31zM1408.8 1827l27.6 -15.5v31zM1411.8 1825.2l27.6 -15.5v31zM1414.7 1823.5l27.6 -15.5v31zM1417.7 1822l27.6 -15.5v31zM1420.6 1820.7l27.6 -15.5v31zM1423.6 1819.5l27.6 -15.5v31zM1426.5 1818.6l27.6 -15.5v31zM1429.5 1817.7l27.6 -15.5v31zM1432.4 1816.8l27.6 -15.5v31zM1435.4 1815.9l27.6 -15.5v31zM1438.3 1814.9l27.6 -15.5v31zM1441.3 1814l27.6 -15.5v31zM1442.8 1813.6l27.6 -15.5v31zM1450.1 1811.2l27.6 -15.5v31zM1457.5 1807.5l27.6 -15.5v31zM1464.9 1801.5l27.6 -15.5v31zM1472.2 1794.8l27.6 -15.5v31zM1479.6 1788.2l27.6 -15.5v31zM1494.4 1775.8l27.6 -15.5v31zM1509.1 1768.1l27.6 -15.5v31zM1523.9 1761.6l27.6 -15.5v31zM1538.6 1755l27.6 -15.5v31zM1553.3 1748.4l27.6 -15.5v31zM1582.8 1734.4l27.6 -15.5v31zM1612.3 1720.6l27.6 -15.5v31zM1641.8 1707.3l27.6 -15.5v31zM1671.3 1694.4l27.6 -15.5v31zM1700.8 1682l27.6 -15.5v31zM1774.1 1652.3l27.6 -15.5v31zM1847.4 1624.3l27.6 -15.5v31zM1920.7 1598.1l27.6 -15.5v31zM1994 1573.6l27.6 -15.5v31zM2067.3 1550.7l27.6 -15.5v31zM2140.5 1529.4l27.6 -15.5v31zM2213.8 1509.7l27.6 -15.5v31zM2287.1 1491.6l27.6 -15.5v31z" fill="#FF6666"/>
<path d="M1730.5 1708.1L1772 1692.3M1803.8 1680.2L1845.2 1664.8M1877.2 1653.1L1918.5 1638.3M1950.6 1627.1L1991.7 1613.2M2024 1602.7L2064.8 1589.9M2097.4 1580L2138 1568.1M2170.7 1558.8L2211.3 1547.7M2244.1 1538.9L2284.5 1528.5" stroke="#4499DD" stroke-width="4" fill="none"/>
<path d="M1433.5 1843.6l-27.6 -15.5v31zM1436.4 1841.8l-27.6 -15.5v31zM1439.4 1840.1l-27.6 -15.5v31zM1442.3 1838.5l-27.6 -15.5v31zM1445.3 1837l-27.6 -15.5v31zM1448.2 1835.8l-27.6 -15.5v31zM1451.2 1834.7l-27.6 -15.5v31zM1454.1 1833.7l-27.6 -15.5v31zM1457.1 1832.8l-27.6 -15.5v31zM1460 1832l-27.6 -15.5v31zM1463 1831l-27.6 -15.5v31zM1465.9 1830l-27.6 -15.5v31zM1468.9 1829.1l-27.6 -15.5v31zM1470.4 1828.6l-27.6 -15.5v31zM1477.7 1826l-27.6 -15.5v31zM1485.1 1822.6l-27.6 -15.5v31zM1492.5 1817.4l-27.6 -15.5v31zM1499.8 1811.9l-27.6 -15.5v31zM1507.2 1806.5l-27.6 -15.5v31zM1522 1796.3l-27.6 -15.5v31zM1536.7 1789.4l-27.6 -15.5v31zM1551.5 1783.5l-27.6 -15.5v31zM1566.2 1777.6l-27.6 -15.5v31zM1580.9 1771.8l-27.6 -15.5v31zM1610.4 1759.7l-27.6 -15.5v31zM1639.9 1747.7l-27.6 -15.5v31zM1669.4 1736.3l-27.6 -15.5v31zM1698.9 1725.2l-27.6 -15.5v31zM1728.4 1714.2l-27.6 -15.5v31zM1801.7 1686.2l-27.6 -15.5v31zM1875 1658.8l-27.6 -15.5v31zM1948.3 1632.6l-27.6 -15.5v31zM2021.6 1607.8l-27.6 -15.5v31zM2094.9 1584.8l-27.6 -15.5v31zM2168.1 1563.3l-27.6 -15.5v31zM2241.4 1543.2l-27.6 -15.5v31zM2314.7 1524.3l-27.6 -15.5v31z" fill="#4499DD"/>
<path d="M1730.6 1733.3L1771.9 1718.5M1804 1707.2L1845.1 1693.3M1877.3 1682.6L1918.3 1669.2M1950.7 1658.9L1991.5 1646.1M2024 1636L2064.8 1623.6M2097.4 1613.8L2138 1601.9M2170.7 1592.5L2211.3 1581M2244 1571.9L2284.5 1561" stroke="#E86C00" stroke-width="4" fill="none"/>
<path d="M1419.7 1836.1L1432.5 1843.5L1432.5 1858.3L1419.7 1865.7L1406.9 1858.3L1406.9 1843.5zM1422.6 1835L1435.5 1842.4L1435.5 1857.2L1422.6 1864.6L1409.8 1857.2L1409.8 1842.4zM1425.6 1833.9L1438.4 1841.3L1438.4 1856.1L1425.6 1863.5L1412.8 1856.1L1412.8 1841.3zM1428.5 1832.9L1441.4 1840.3L1441.4 1855.1L1428.5 1862.5L1415.7 1855.1L1415.7 1840.3zM1431.5 1832L1444.3 1839.4L1444.3 1854.2L1431.5 1861.6L1418.7 1854.2L1418.7 1839.4zM1434.4 1831.1L1447.3 1838.5L1447.3 1853.3L1434.4 1860.7L1421.6 1853.3L1421.6 1838.5zM1437.4 1830.3L1450.2 1837.7L1450.2 1852.5L1437.4 1859.9L1424.6 1852.5L1424.6 1837.7zM1440.3 1829.6L1453.2 1837L1453.2 1851.8L1440.3 1859.2L1427.5 1851.8L1427.5 1837zM1443.3 1829L1456.1 1836.4L1456.1 1851.2L1443.3 1858.6L1430.5 1851.2L1430.5 1836.4zM1446.2 1828.3L1459.1 1835.7L1459.1 1850.5L1446.2 1857.9L1433.4 1850.5L1433.4 1835.7zM1449.2 1827.5L1462 1834.9L1462 1849.7L1449.2 1857.1L1436.4 1849.7L1436.4 1834.9zM1452.1 1826.7L1465 1834.1L1465 1848.9L1452.1 1856.3L1439.3 1848.9L1439.3 1834.1zM1455.1 1825.9L1467.9 1833.3L1467.9 1848.1L1455.1 1855.5L1442.3 1848.1L1442.3 1833.3zM1456.6 1825.5L1469.4 1832.9L1469.4 1847.7L1456.6 1855.1L1443.7 1847.7L1443.7 1832.9zM1463.9 1823.3L1476.8 1830.7L1476.8 1845.5L1463.9 1852.9L1451.1 1845.5L1451.1 1830.7zM1471.3 1820.8L1484.1 1828.2L1484.1 1843L1471.3 1850.4L1458.5 1843L1458.5 1828.2zM1478.7 1817.8L1491.5 1825.2L1491.5 1840L1478.7 1847.4L1465.9 1840L1465.9 1825.2zM1486 1814.6L1498.9 1822L1498.9 1836.8L1486 1844.2L1473.2 1836.8L1473.2 1822zM1493.4 1811.5L1506.2 1818.9L1506.2 1833.7L1493.4 1841.1L1480.6 1833.7L1480.6 1818.9zM1508.2 1805.2L1521 1812.6L1521 1827.4L1508.2 1834.8L1495.3 1827.4L1495.3 1812.6zM1522.9 1799.7L1535.7 1807.1L1535.7 1821.9L1522.9 1829.3L1510.1 1821.9L1510.1 1807.1zM1537.7 1794.4L1550.5 1801.8L1550.5 1816.6L1537.7 1824L1524.8 1816.6L1524.8 1801.8zM1552.4 1789L1565.2 1796.4L1565.2 1811.2L1552.4 1818.6L1539.6 1811.2L1539.6 1796.4zM1567.1 1783.4L1580 1790.8L1580 1805.6L1567.1 1813L1554.3 1805.6L1554.3 1790.8zM1596.6 1771.7L1609.4 1779.1L1609.4 1793.9L1596.6 1801.3L1583.8 1793.9L1583.8 1779.1zM1626.1 1759.8L1638.9 1767.2L1638.9 1782L1626.1 1789.4L1613.3 1782L1613.3 1767.2zM1655.6 1747.8L1668.4 1755.2L1668.4 1770L1655.6 1777.4L1642.8 1770L1642.8 1755.2zM1685.1 1735.8L1697.9 1743.2L1697.9 1758L1685.1 1765.4L1672.3 1758L1672.3 1743.2zM1714.6 1724.3L1727.4 1731.7L1727.4 1746.5L1714.6 1753.9L1701.8 1746.5L1701.8 1731.7zM1787.9 1697.9L1800.7 1705.3L1800.7 1720.1L1787.9 1727.5L1775.1 1720.1L1775.1 1705.3zM1861.2 1673.1L1874 1680.5L1874 1695.3L1861.2 1702.7L1848.4 1695.3L1848.4 1680.5zM1934.5 1649.2L1947.3 1656.6L1947.3 1671.4L1934.5 1678.8L1921.7 1671.4L1921.7 1656.6zM2007.8 1626.2L2020.6 1633.6L2020.6 1648.4L2007.8 1655.8L1994.9 1648.4L1994.9 1633.6zM2081.1 1603.8L2093.9 1611.2L2093.9 1626L2081.1 1633.4L2068.2 1626L2068.2 1611.2zM2154.3 1582.3L2167.2 1589.7L2167.2 1604.5L2154.3 1611.9L2141.5 1604.5L2141.5 1589.7zM2227.6 1561.6L2240.5 1569L2240.5 1583.8L2227.6 1591.2L2214.8 1583.8L2214.8 1569zM2300.9 1541.7L2313.8 1549.1L2313.8 1563.9L2300.9 1571.3L2288.1 1563.9L2288.1 1549.1z" fill="#E86C00"/>
<path d="M1730.7 1755.2L1771.8 1741.4M1804.1 1730.9L1845 1717.8M1877.5 1707.7L1918.2 1695.6M1950.8 1686L1991.4 1674.4M2024.2 1665.3L2064.7 1654.2M2097.5 1645.2L2137.9 1634.1M2170.7 1625L2211.3 1613.6M2244 1604.2L2284.6 1592.5" stroke="#009E9E" stroke-width="4" fill="none"/>
<path d="M1419.7 1844.2L1423.7 1853.7L1434 1854.6L1426.2 1861.3L1428.5 1871.4L1419.7 1866L1410.9 1871.4L1413.2 1861.3L1405.4 1854.6L1415.7 1853.7zM1422.6 1843.3L1426.6 1852.8L1436.9 1853.7L1429.1 1860.4L1431.5 1870.5L1422.6 1865.1L1413.8 1870.5L1416.2 1860.4L1408.4 1853.7L1418.7 1852.8zM1425.6 1842.5L1429.6 1852L1439.9 1852.8L1432.1 1859.6L1434.4 1869.6L1425.6 1864.3L1416.8 1869.6L1419.1 1859.6L1411.3 1852.8L1421.6 1852zM1428.5 1841.7L1432.5 1851.2L1442.8 1852L1435 1858.8L1437.4 1868.8L1428.5 1863.5L1419.7 1868.8L1422.1 1858.8L1414.3 1852L1424.5 1851.2zM1431.5 1840.9L1435.5 1850.4L1445.8 1851.3L1438 1858L1440.3 1868L1431.5 1862.7L1422.7 1868L1425 1858L1417.2 1851.3L1427.5 1850.4zM1434.4 1840.2L1438.4 1849.7L1448.7 1850.5L1440.9 1857.3L1443.3 1867.3L1434.4 1862L1425.6 1867.3L1428 1857.3L1420.2 1850.5L1430.4 1849.7zM1437.4 1839.5L1441.4 1849L1451.7 1849.9L1443.9 1856.6L1446.2 1866.7L1437.4 1861.3L1428.6 1866.7L1430.9 1856.6L1423.1 1849.9L1433.4 1849zM1440.3 1838.9L1444.3 1848.4L1454.6 1849.3L1446.8 1856L1449.2 1866.1L1440.3 1860.7L1431.5 1866.1L1433.9 1856L1426.1 1849.3L1436.3 1848.4zM1443.3 1838.4L1447.3 1847.9L1457.6 1848.7L1449.8 1855.5L1452.1 1865.5L1443.3 1860.2L1434.5 1865.5L1436.8 1855.5L1429 1848.7L1439.3 1847.9zM1446.2 1837.8L1450.2 1847.3L1460.5 1848.2L1452.7 1854.9L1455.1 1864.9L1446.2 1859.6L1437.4 1864.9L1439.8 1854.9L1432 1848.2L1442.2 1847.3zM1449.2 1837.2L1453.2 1846.7L1463.5 1847.5L1455.7 1854.3L1458 1864.3L1449.2 1859L1440.4 1864.3L1442.7 1854.3L1434.9 1847.5L1445.2 1846.7zM1452.1 1836.5L1456.1 1846L1466.4 1846.8L1458.6 1853.6L1461 1863.6L1452.1 1858.3L1443.3 1863.6L1445.7 1853.6L1437.9 1846.8L1448.1 1846zM1455.1 1835.8L1459.1 1845.3L1469.4 1846.1L1461.6 1852.9L1463.9 1862.9L1455.1 1857.6L1446.3 1862.9L1448.6 1852.9L1440.8 1846.1L1451.1 1845.3zM1456.6 1835.4L1460.6 1844.9L1470.8 1845.8L1463 1852.5L1465.4 1862.6L1456.6 1857.2L1447.7 1862.6L1450.1 1852.5L1442.3 1845.8L1452.6 1844.9zM1463.9 1833.5L1467.9 1843L1478.2 1843.9L1470.4 1850.6L1472.7 1860.6L1463.9 1855.3L1455.1 1860.6L1457.5 1850.6L1449.7 1843.9L1459.9 1843zM1471.3 1831.3L1475.3 1840.8L1485.6 1841.7L1477.8 1848.4L1480.1 1858.5L1471.3 1853.1L1462.5 1858.5L1464.8 1848.4L1457 1841.7L1467.3 1840.8zM1478.7 1828.7L1482.7 1838.2L1492.9 1839.1L1485.1 1845.8L1487.5 1855.8L1478.7 1850.5L1469.9 1855.8L1472.2 1845.8L1464.4 1839.1L1474.7 1838.2zM1486 1826L1490 1835.5L1500.3 1836.3L1492.5 1843.1L1494.9 1853.1L1486 1847.8L1477.2 1853.1L1479.6 1843.1L1471.8 1836.3L1482.1 1835.5zM1493.4 1823.2L1497.4 1832.7L1507.7 1833.5L1499.9 1840.3L1502.2 1850.3L1493.4 1845L1484.6 1850.3L1487 1840.3L1479.2 1833.5L1489.4 1832.7zM1508.2 1817.7L1512.2 1827.2L1522.4 1828L1514.6 1834.8L1517 1844.8L1508.2 1839.5L1499.3 1844.8L1501.7 1834.8L1493.9 1828L1504.2 1827.2zM1522.9 1812.7L1526.9 1822.2L1537.2 1823.1L1529.4 1829.8L1531.7 1839.8L1522.9 1834.5L1514.1 1839.8L1516.4 1829.8L1508.6 1823.1L1518.9 1822.2zM1537.7 1807.9L1541.7 1817.4L1551.9 1818.3L1544.1 1825L1546.5 1835L1537.7 1829.7L1528.8 1835L1531.2 1825L1523.4 1818.3L1533.7 1817.4zM1552.4 1802.9L1556.4 1812.4L1566.7 1813.3L1558.9 1820L1561.2 1830L1552.4 1824.7L1543.6 1830L1545.9 1820L1538.1 1813.3L1548.4 1812.4zM1567.1 1797.9L1571.1 1807.4L1581.4 1808.2L1573.6 1815L1576 1825L1567.1 1819.7L1558.3 1825L1560.7 1815L1552.9 1808.2L1563.1 1807.4zM1596.6 1787.6L1600.6 1797.1L1610.9 1798L1603.1 1804.7L1605.4 1814.8L1596.6 1809.4L1587.8 1814.8L1590.2 1804.7L1582.4 1798L1592.6 1797.1zM1626.1 1777.3L1630.1 1786.8L1640.4 1787.7L1632.6 1794.4L1634.9 1804.5L1626.1 1799.1L1617.3 1804.5L1619.7 1794.4L1611.9 1787.7L1622.1 1786.8zM1655.6 1767L1659.6 1776.5L1669.9 1777.4L1662.1 1784.1L1664.4 1794.2L1655.6 1788.8L1646.8 1794.2L1649.1 1784.1L1641.3 1777.4L1651.6 1776.5zM1685.1 1756.7L1689.1 1766.2L1699.4 1767.1L1691.6 1773.8L1693.9 1783.8L1685.1 1778.5L1676.3 1783.8L1678.6 1773.8L1670.8 1767.1L1681.1 1766.2zM1714.6 1746.6L1718.6 1756.1L1728.9 1757L1721.1 1763.7L1723.4 1773.7L1714.6 1768.4L1705.8 1773.7L1708.1 1763.7L1700.3 1757L1710.6 1756.1zM1787.9 1722L1791.9 1731.5L1802.1 1732.4L1794.3 1739.1L1796.7 1749.2L1787.9 1743.8L1779.1 1749.2L1781.4 1739.1L1773.6 1732.4L1783.9 1731.5zM1861.2 1698.6L1865.2 1708.1L1875.4 1708.9L1867.6 1715.7L1870 1725.7L1861.2 1720.4L1852.4 1725.7L1854.7 1715.7L1846.9 1708.9L1857.2 1708.1zM1934.5 1676.7L1938.5 1686.2L1948.7 1687.1L1940.9 1693.8L1943.3 1703.8L1934.5 1698.5L1925.7 1703.8L1928 1693.8L1920.2 1687.1L1930.5 1686.2zM2007.8 1655.8L2011.8 1665.3L2022 1666.1L2014.2 1672.9L2016.6 1682.9L2007.8 1677.6L1998.9 1682.9L2001.3 1672.9L1993.5 1666.1L2003.8 1665.3zM2081.1 1635.7L2085.1 1645.2L2095.3 1646L2087.5 1652.8L2089.9 1662.8L2081.1 1657.5L2072.2 1662.8L2074.6 1652.8L2066.8 1646L2077.1 1645.2zM2154.3 1615.6L2158.3 1625.1L2168.6 1626L2160.8 1632.7L2163.2 1642.8L2154.3 1637.4L2145.5 1642.8L2147.9 1632.7L2140.1 1626L2150.4 1625.1zM2227.6 1594.9L2231.6 1604.4L2241.9 1605.3L2234.1 1612L2236.5 1622.1L2227.6 1616.7L2218.8 1622.1L2221.2 1612L2213.4 1605.3L2223.6 1604.4zM2300.9 1573.8L2304.9 1583.3L2315.2 1584.1L2307.4 1590.9L2309.8 1600.9L2300.9 1595.6L2292.1 1600.9L2294.5 1590.9L2286.7 1584.1L2296.9 1583.3z" fill="#009E9E"/>
<path d="M1730.8 1771L1771.7 1758M1804.2 1747.9L1844.9 1735.5M1877.6 1726.1L1918.1 1714.9M1950.9 1706.1L1991.3 1695.6M2024.3 1687.2L2064.6 1677.1M2097.6 1668.9L2137.9 1658.9M2170.8 1650.4L2211.2 1639.7M2244 1630.8L2284.6 1619.6" stroke="#6B5FCC" stroke-width="4" fill="none"/>
<path d="M1419.7 1851.3L1434.4 1862L1428.8 1879.3L1410.6 1879.3L1405 1862zM1422.6 1850.6L1437.4 1861.3L1431.8 1878.6L1413.5 1878.6L1407.9 1861.3zM1425.6 1849.9L1440.3 1860.6L1434.7 1877.9L1416.5 1877.9L1410.9 1860.6zM1428.5 1849.3L1443.3 1860L1437.7 1877.3L1419.4 1877.3L1413.8 1860zM1431.5 1848.6L1446.2 1859.4L1440.6 1876.7L1422.4 1876.7L1416.8 1859.4zM1434.4 1848.1L1449.2 1858.8L1443.6 1876.1L1425.3 1876.1L1419.7 1858.8zM1437.4 1847.6L1452.1 1858.3L1446.5 1875.6L1428.3 1875.6L1422.7 1858.3zM1440.3 1847.1L1455.1 1857.8L1449.5 1875.1L1431.2 1875.1L1425.6 1857.8zM1443.3 1846.6L1458 1857.3L1452.4 1874.7L1434.2 1874.7L1428.5 1857.3zM1446.2 1846.1L1461 1856.8L1455.4 1874.2L1437.1 1874.2L1431.5 1856.8zM1449.2 1845.6L1463.9 1856.3L1458.3 1873.7L1440.1 1873.7L1434.4 1856.3zM1452.1 1845.1L1466.9 1855.8L1461.2 1873.1L1443 1873.1L1437.4 1855.8zM1455.1 1844.5L1469.8 1855.2L1464.2 1872.5L1446 1872.5L1440.3 1855.2zM1456.6 1844.2L1471.3 1854.9L1465.7 1872.2L1447.5 1872.2L1441.8 1854.9zM1463.9 1842.5L1478.7 1853.3L1473 1870.6L1454.8 1870.6L1449.2 1853.3zM1471.3 1840.7L1486 1851.4L1480.4 1868.7L1462.2 1868.7L1456.6 1851.4zM1478.7 1838.5L1493.4 1849.2L1487.8 1866.5L1469.6 1866.5L1463.9 1849.2zM1486 1836.1L1500.8 1846.8L1495.2 1864.1L1476.9 1864.1L1471.3 1846.8zM1493.4 1833.7L1508.2 1844.4L1502.5 1861.7L1484.3 1861.7L1478.7 1844.4zM1508.2 1828.9L1522.9 1839.6L1517.3 1856.9L1499.1 1856.9L1493.4 1839.6zM1522.9 1824.4L1537.7 1835.1L1532 1852.5L1513.8 1852.5L1508.2 1835.1zM1537.7 1820L1552.4 1830.7L1546.8 1848.1L1528.5 1848.1L1522.9 1830.7zM1552.4 1815.4L1567.1 1826.1L1561.5 1843.5L1543.3 1843.5L1537.7 1826.1zM1567.1 1810.7L1581.9 1821.5L1576.3 1838.8L1558 1838.8L1552.4 1821.5zM1596.6 1801.1L1611.4 1811.8L1605.7 1829.2L1587.5 1829.2L1581.9 1811.8zM1626.1 1791.4L1640.9 1802.1L1635.2 1819.4L1617 1819.4L1611.4 1802.1zM1655.6 1781.5L1670.3 1792.2L1664.7 1809.5L1646.5 1809.5L1640.9 1792.2zM1685.1 1771.6L1699.8 1782.3L1694.2 1799.6L1676 1799.6L1670.4 1782.3zM1714.6 1761.9L1729.3 1772.6L1723.7 1790L1705.5 1790L1699.8 1772.6zM1787.9 1738.5L1802.6 1749.2L1797 1766.5L1778.8 1766.5L1773.1 1749.2zM1861.2 1716.3L1875.9 1727L1870.3 1744.4L1852.1 1744.4L1846.4 1727zM1934.5 1696.1L1949.2 1706.8L1943.6 1724.1L1925.4 1724.1L1919.7 1706.8zM2007.8 1677L2022.5 1687.7L2016.9 1705L1998.7 1705L1993 1687.7zM2081.1 1658.7L2095.8 1669.5L2090.2 1686.8L2071.9 1686.8L2066.3 1669.5zM2154.3 1640.5L2169.1 1651.2L2163.5 1668.5L2145.2 1668.5L2139.6 1651.2zM2227.6 1621.1L2242.4 1631.8L2236.8 1649.1L2218.5 1649.1L2212.9 1631.8zM2300.9 1600.8L2315.7 1611.5L2310 1628.8L2291.8 1628.8L2286.2 1611.5z" fill="#6B5FCC"/>
<path d="M1730.9 1789.4L1771.6 1777.1M1804.2 1767.5L1844.8 1755.7M1877.6 1746.6L1918 1735.8M1950.9 1727.2L1991.3 1716.9M2024.3 1708.7L2064.5 1699M2097.6 1691L2137.8 1681.2M2170.8 1673L2211.2 1662.7M2244.1 1654.1L2284.5 1643.4" stroke="#A08C84" stroke-width="4" fill="none"/>
<g fill="url(#gB)">
<circle cx="1419.7" cy="1872.9" r="13.75"/><circle cx="1422.6" cy="1872.4" r="13.75"/><circle cx="1425.6" cy="1871.8" r="13.75"/><circle cx="1428.5" cy="1871.3" r="13.75"/><circle cx="1431.5" cy="1870.9" r="13.75"/><circle cx="1434.4" cy="1870.4" r="13.75"/><circle cx="1437.4" cy="1870" r="13.75"/><circle cx="1440.3" cy="1869.6" r="13.75"/><circle cx="1443.3" cy="1869.2" r="13.75"/><circle cx="1446.2" cy="1868.8" r="13.75"/><circle cx="1449.2" cy="1868.4" r="13.75"/><circle cx="1452.1" cy="1867.9" r="13.75"/><circle cx="1455.1" cy="1867.4" r="13.75"/><circle cx="1456.6" cy="1867.2" r="13.75"/><circle cx="1463.9" cy="1865.8" r="13.75"/><circle cx="1471.3" cy="1864.3" r="13.75"/><circle cx="1478.7" cy="1862.5" r="13.75"/><circle cx="1486" cy="1860.5" r="13.75"/><circle cx="1493.4" cy="1858.5" r="13.75"/><circle cx="1508.2" cy="1854.5" r="13.75"/><circle cx="1522.9" cy="1850.7" r="13.75"/><circle cx="1537.7" cy="1846.9" r="13.75"/><circle cx="1552.4" cy="1842.8" r="13.75"/><circle cx="1567.1" cy="1838.7" r="13.75"/><circle cx="1596.6" cy="1830.2" r="13.75"/><circle cx="1626.1" cy="1821.4" r="13.75"/><circle cx="1655.6" cy="1812.4" r="13.75"/><circle cx="1685.1" cy="1803.3" r="13.75"/><circle cx="1714.6" cy="1794.3" r="13.75"/><circle cx="1787.9" cy="1772.2" r="13.75"/><circle cx="1861.2" cy="1751" r="13.75"/><circle cx="1934.5" cy="1731.4" r="13.75"/><circle cx="2007.8" cy="1712.7" r="13.75"/><circle cx="2081.1" cy="1695" r="13.75"/><circle cx="2154.3" cy="1677.2" r="13.75"/><circle cx="2227.6" cy="1658.4" r="13.75"/><circle cx="2300.9" cy="1639" r="13.75"/>
</g>
<path d="M1731 1803.9L1771.5 1792.8M1804.3 1783.9L1844.7 1773.1M1877.7 1764.5L1918 1754.3M1951 1746.1L1991.2 1736.3M2024.3 1728.4L2064.5 1718.9M2097.6 1711.1L2137.8 1701.6M2170.9 1693.6L2211.1 1683.7M2244.1 1675.4L2284.5 1665.2" stroke="#F03040" stroke-width="4" fill="none"/>
<path d="M1406.7 1880.2h26M1419.7 1867.2v26M1409.6 1879.7h26M1422.6 1866.7v26M1412.6 1879.2h26M1425.6 1866.2v26M1415.5 1878.7h26M1428.5 1865.7v26M1418.5 1878.2h26M1431.5 1865.2v26M1421.4 1877.8h26M1434.4 1864.8v26M1424.4 1877.3h26M1437.4 1864.3v26M1427.3 1876.9h26M1440.3 1863.9v26M1430.3 1876.5h26M1443.3 1863.5v26M1433.2 1876h26M1446.2 1863v26M1436.2 1875.6h26M1449.2 1862.6v26M1439.1 1875.1h26M1452.1 1862.1v26M1442.1 1874.6h26M1455.1 1861.6v26M1443.6 1874.4h26M1456.6 1861.4v26M1450.9 1873.1h26M1463.9 1860.1v26M1458.3 1871.6h26M1471.3 1858.6v26M1465.7 1869.9h26M1478.7 1856.9v26M1473 1868.2h26M1486 1855.2v26M1480.4 1866.4h26M1493.4 1853.4v26M1495.2 1862.8h26M1508.2 1849.8v26M1509.9 1859.3h26M1522.9 1846.3v26M1524.7 1855.9h26M1537.7 1842.9v26M1539.4 1852.2h26M1552.4 1839.2v26M1554.1 1848.5h26M1567.1 1835.5v26M1583.6 1840.8h26M1596.6 1827.8v26M1613.1 1832.9h26M1626.1 1819.9v26M1642.6 1824.8h26M1655.6 1811.8v26M1672.1 1816.6h26M1685.1 1803.6v26M1701.6 1808.4h26M1714.6 1795.4v26M1774.9 1788.3h26M1787.9 1775.3v26M1848.2 1768.7h26M1861.2 1755.7v26M1921.5 1750.2h26M1934.5 1737.2v26M1994.8 1732.3h26M2007.8 1719.3v26M2068.1 1715h26M2081.1 1702v26M2141.3 1697.7h26M2154.3 1684.7v26M2214.6 1679.6h26M2227.6 1666.6v26M2287.9 1661h26M2300.9 1648v26" stroke="#F03040" stroke-width="2.3" fill="none"/>
<path d="M1731 1814.8L1771.4 1804.1M1804.3 1795.4L1844.8 1784.5M1877.6 1775.8L1918 1765.1M1950.9 1756.5L1991.3 1746.2M2024.3 1738.1L2064.5 1728.7M2097.6 1721.1L2137.8 1712.2M2171 1705L2211 1696.4M2244.3 1689.5L2284.3 1681.5" stroke="#479E9E" stroke-width="4" fill="none"/>
<path d="M1409.2 1877l21.0 21.0M1409.2 1898l21.0 -21.0M1412.1 1876.4l21.0 21.0M1412.1 1897.4l21.0 -21.0M1415.1 1875.8l21.0 21.0M1415.1 1896.8l21.0 -21.0M1418 1875.1l21.0 21.0M1418 1896.1l21.0 -21.0M1421 1874.5l21.0 21.0M1421 1895.5l21.0 -21.0M1423.9 1873.9l21.0 21.0M1423.9 1894.9l21.0 -21.0M1426.9 1873.3l21.0 21.0M1426.9 1894.3l21.0 -21.0M1429.8 1872.7l21.0 21.0M1429.8 1893.7l21.0 -21.0M1432.8 1872.1l21.0 21.0M1432.8 1893.1l21.0 -21.0M1435.7 1871.6l21.0 21.0M1435.7 1892.6l21.0 -21.0M1438.7 1871l21.0 21.0M1438.7 1892l21.0 -21.0M1441.6 1870.4l21.0 21.0M1441.6 1891.4l21.0 -21.0M1444.6 1869.8l21.0 21.0M1444.6 1890.8l21.0 -21.0M1446.1 1869.5l21.0 21.0M1446.1 1890.5l21.0 -21.0M1453.4 1867.9l21.0 21.0M1453.4 1888.9l21.0 -21.0M1460.8 1866.3l21.0 21.0M1460.8 1887.3l21.0 -21.0M1468.2 1864.6l21.0 21.0M1468.2 1885.6l21.0 -21.0M1475.5 1862.9l21.0 21.0M1475.5 1883.9l21.0 -21.0M1482.9 1861.2l21.0 21.0M1482.9 1882.2l21.0 -21.0M1497.7 1857.8l21.0 21.0M1497.7 1878.8l21.0 -21.0M1512.4 1854.4l21.0 21.0M1512.4 1875.4l21.0 -21.0M1527.2 1851.1l21.0 21.0M1527.2 1872.1l21.0 -21.0M1541.9 1847.7l21.0 21.0M1541.9 1868.7l21.0 -21.0M1556.6 1844.3l21.0 21.0M1556.6 1865.3l21.0 -21.0M1586.1 1837.4l21.0 21.0M1586.1 1858.4l21.0 -21.0M1615.6 1830.4l21.0 21.0M1615.6 1851.4l21.0 -21.0M1645.1 1823.3l21.0 21.0M1645.1 1844.3l21.0 -21.0M1674.6 1816.1l21.0 21.0M1674.6 1837.1l21.0 -21.0M1704.1 1808.7l21.0 21.0M1704.1 1829.7l21.0 -21.0M1777.4 1789.3l21.0 21.0M1777.4 1810.3l21.0 -21.0M1850.7 1769.6l21.0 21.0M1850.7 1790.6l21.0 -21.0M1924 1750.2l21.0 21.0M1924 1771.2l21.0 -21.0M1997.3 1731.5l21.0 21.0M1997.3 1752.5l21.0 -21.0M2070.6 1714.3l21.0 21.0M2070.6 1735.3l21.0 -21.0M2143.8 1698l21.0 21.0M2143.8 1719l21.0 -21.0M2217.1 1682.4l21.0 21.0M2217.1 1703.4l21.0 -21.0M2290.4 1667.6l21.0 21.0M2290.4 1688.6l21.0 -21.0" stroke="#479E9E" stroke-width="1.9" stroke-opacity="0.8" fill="none"/>
<path d="M1731.1 1826L1771.3 1816.4M1804.4 1808.4L1844.7 1798.3M1877.7 1790L1918 1779.9M1951 1771.7L1991.3 1761.7M2024.3 1753.8L2064.5 1744.6M2097.7 1737.1L2137.8 1728.2M2171 1720.9L2211 1712.2M2244.3 1705.1L2284.3 1696.7" stroke="#E0A000" stroke-width="4" fill="none"/>
<path d="M1405.7 1892.4h28M1419.7 1878.4v28M1408.6 1891.8h28M1422.6 1877.8v28M1411.6 1891.1h28M1425.6 1877.1v28M1414.5 1890.4h28M1428.5 1876.4v28M1417.5 1889.8h28M1431.5 1875.8v28M1420.4 1889.1h28M1434.4 1875.1v28M1423.4 1888.4h28M1437.4 1874.4v28M1426.3 1887.8h28M1440.3 1873.8v28M1429.3 1887.1h28M1443.3 1873.1v28M1432.2 1886.5h28M1446.2 1872.5v28M1435.2 1885.8h28M1449.2 1871.8v28M1438.1 1885.2h28M1452.1 1871.2v28M1441.1 1884.5h28M1455.1 1870.5v28M1442.6 1884.2h28M1456.6 1870.2v28M1449.9 1882.5h28M1463.9 1868.5v28M1457.3 1880.9h28M1471.3 1866.9v28M1464.7 1879.3h28M1478.7 1865.3v28M1472 1877.7h28M1486 1863.7v28M1479.4 1876.1h28M1493.4 1862.1v28M1494.2 1872.8h28M1508.2 1858.8v28M1508.9 1869.7h28M1522.9 1855.7v28M1523.7 1866.5h28M1537.7 1852.5v28M1538.4 1863.3h28M1552.4 1849.3v28M1553.1 1860.2h28M1567.1 1846.2v28M1582.6 1854.2h28M1596.6 1840.2v28M1612.1 1848.2h28M1626.1 1834.2v28M1641.6 1842.2h28M1655.6 1828.2v28M1671.1 1836.2h28M1685.1 1822.2v28M1700.6 1829.9h28M1714.6 1815.9v28M1773.9 1812.5h28M1787.9 1798.5v28M1847.2 1794.2h28M1861.2 1780.2v28M1920.5 1775.7h28M1934.5 1761.7v28M1993.8 1757.7h28M2007.8 1743.7v28M2067.1 1740.8h28M2081.1 1726.8v28M2140.3 1724.5h28M2154.3 1710.5v28M2213.6 1708.6h28M2227.6 1694.6v28M2286.9 1693.2h28M2300.9 1679.2v28" stroke="#E0A000" stroke-width="2.5" fill="none"/>
<path d="M1409.2 1881.9l21.0 21.0M1409.2 1902.9l21.0 -21.0M1412.1 1881.3l21.0 21.0M1412.1 1902.3l21.0 -21.0M1415.1 1880.6l21.0 21.0M1415.1 1901.6l21.0 -21.0M1418 1879.9l21.0 21.0M1418 1900.9l21.0 -21.0M1421 1879.3l21.0 21.0M1421 1900.3l21.0 -21.0M1423.9 1878.6l21.0 21.0M1423.9 1899.6l21.0 -21.0M1426.9 1877.9l21.0 21.0M1426.9 1898.9l21.0 -21.0M1429.8 1877.3l21.0 21.0M1429.8 1898.3l21.0 -21.0M1432.8 1876.6l21.0 21.0M1432.8 1897.6l21.0 -21.0M1435.7 1876l21.0 21.0M1435.7 1897l21.0 -21.0M1438.7 1875.3l21.0 21.0M1438.7 1896.3l21.0 -21.0M1441.6 1874.7l21.0 21.0M1441.6 1895.7l21.0 -21.0M1444.6 1874l21.0 21.0M1444.6 1895l21.0 -21.0M1446.1 1873.7l21.0 21.0M1446.1 1894.7l21.0 -21.0M1453.4 1872l21.0 21.0M1453.4 1893l21.0 -21.0M1460.8 1870.4l21.0 21.0M1460.8 1891.4l21.0 -21.0M1468.2 1868.8l21.0 21.0M1468.2 1889.8l21.0 -21.0M1475.5 1867.2l21.0 21.0M1475.5 1888.2l21.0 -21.0M1482.9 1865.6l21.0 21.0M1482.9 1886.6l21.0 -21.0M1497.7 1862.3l21.0 21.0M1497.7 1883.3l21.0 -21.0M1512.4 1859.2l21.0 21.0M1512.4 1880.2l21.0 -21.0M1527.2 1856l21.0 21.0M1527.2 1877l21.0 -21.0M1541.9 1852.8l21.0 21.0M1541.9 1873.8l21.0 -21.0M1556.6 1849.7l21.0 21.0M1556.6 1870.7l21.0 -21.0M1586.1 1843.7l21.0 21.0M1586.1 1864.7l21.0 -21.0M1615.6 1837.7l21.0 21.0M1615.6 1858.7l21.0 -21.0M1645.1 1831.7l21.0 21.0M1645.1 1852.7l21.0 -21.0M1674.6 1825.7l21.0 21.0M1674.6 1846.7l21.0 -21.0M1704.1 1819.4l21.0 21.0M1704.1 1840.4l21.0 -21.0M1777.4 1802l21.0 21.0M1777.4 1823l21.0 -21.0M1850.7 1783.7l21.0 21.0M1850.7 1804.7l21.0 -21.0M1924 1765.2l21.0 21.0M1924 1786.2l21.0 -21.0M1997.3 1747.2l21.0 21.0M1997.3 1768.2l21.0 -21.0M2070.6 1730.3l21.0 21.0M2070.6 1751.3l21.0 -21.0M2143.8 1714l21.0 21.0M2143.8 1735l21.0 -21.0M2217.1 1698.1l21.0 21.0M2217.1 1719.1l21.0 -21.0M2290.4 1682.7l21.0 21.0M2290.4 1703.7l21.0 -21.0" stroke="#E0A000" stroke-width="1.7" stroke-opacity="0.6" fill="none"/>
</g>
<g font-family="Liberation Sans, Arial, sans-serif" fill="#000">
<text font-size="43.5" transform="translate(76.1 436.8) rotate(-90)" text-anchor="middle">Magnetization (emu/g)</text>
<text font-size="43.5" transform="translate(1333.9 436.8) rotate(-90)" text-anchor="middle">Magnetization (emu/g)</text>
<text font-size="43.5" transform="translate(57 1458.9) rotate(-90)" text-anchor="middle">Magnetization (emu/g)</text>
<text font-size="43.5" transform="translate(1313.9 1458.1) rotate(-90)" text-anchor="middle">Magnetization (emu/g)</text>
<text font-size="52.9" x="302" y="976.3">Applied Magnetic Field <tspan font-style="italic">H</tspan><tspan font-style="italic" font-size="36" dy="9">a</tspan><tspan dy="-9"> (kOe)</tspan></text>
<text font-size="52.9" x="1564.7" y="977">Applied Magnetic Field <tspan font-style="italic">H</tspan><tspan font-style="italic" font-size="36" dy="9">a</tspan><tspan dy="-9"> (kOe)</tspan></text>
<text font-size="52.9" x="316" y="2019">Applied Magnetic Field <tspan font-style="italic">H</tspan><tspan font-style="italic" font-size="36" dy="9">a</tspan><tspan dy="-9"> (kOe)</tspan></text>
<text font-size="52.9" x="1562.8" y="2006.8">Applied Magnetic Field <tspan font-style="italic">H</tspan><tspan font-style="italic" font-size="36" dy="9">a</tspan><tspan dy="-9"> (kOe)</tspan></text>
<g font-size="45">
<text x="1106" y="123.5">88k</text><text x="1093" y="625">146k</text>
<text x="2362.6" y="118.7">88k</text><text x="2349.7" y="605.8">146k</text>
<text x="1106" y="1145.2">88k</text><text x="1093.6" y="1761">146k</text>
<text x="2362.5" y="1117">88k</text><text x="2350" y="1749.5">146k</text>
</g>
<g font-size="27">
<text x="1077" y="297.7">2k</text>
<text x="2335" y="325">2k</text>
<text x="1078" y="1321">2k</text>
<text x="2333.5" y="1324.6">2k</text>
</g>
</g>
<g stroke="#000" fill="none">
<path d="M1069 272V302.6M2323.2 301V326.8M1069 1286.5V1328.4M2325.2 1295.5V1333" stroke-width="3.4"/>
<path d="M1136.8 160V553M2392.6 152V534M1137 1190L1138.5 1692M2393.6 1141V1688" stroke-width="2.6"/>
</g>
<g fill="#000">
<path d="M1136.8 144.5l-6.5 23h13z M1136.8 568.7l-6.5 -23h13z"/>
<path d="M2392.6 136.5l-6.5 23h13z M2392.6 549.4l-6.5 -23h13z"/>
<path d="M1137 1174.2l-6.5 23h13z M1138.5 1708.2l-6.5 -23h13z"/>
<path d="M2393.6 1125.6l-6.5 23h13z M2393.6 1704l-6.5 -23h13z"/>
</g>
<g font-family="Liberation Serif, 'Times New Roman', serif" fill="#000" font-size="94">
<text x="214.5" y="148">(a) x = 0</text>
<text x="1486" y="149.1">(b) x = 10%</text>
<text x="213.7" y="1170.2">(c) x = 15 %</text>
<text x="1471" y="1170.2">(d) x = 20 %</text>
</g>
<g font-family="Liberation Serif, 'Times New Roman', serif" fill="#000" font-size="71">
<text x="699" y="745">Cu<tspan font-size="47" dy="16">x</tspan><tspan dy="-16">Co</tspan><tspan font-size="47" dy="16">1−x</tspan><tspan dy="-16">Cr</tspan><tspan font-size="47" dy="16">2</tspan><tspan dy="-16">O</tspan><tspan font-size="47" dy="16">4</tspan></text>
<text x="699" y="828.3">nanoparticles</text>
</g>
</svg>
</body></html>
